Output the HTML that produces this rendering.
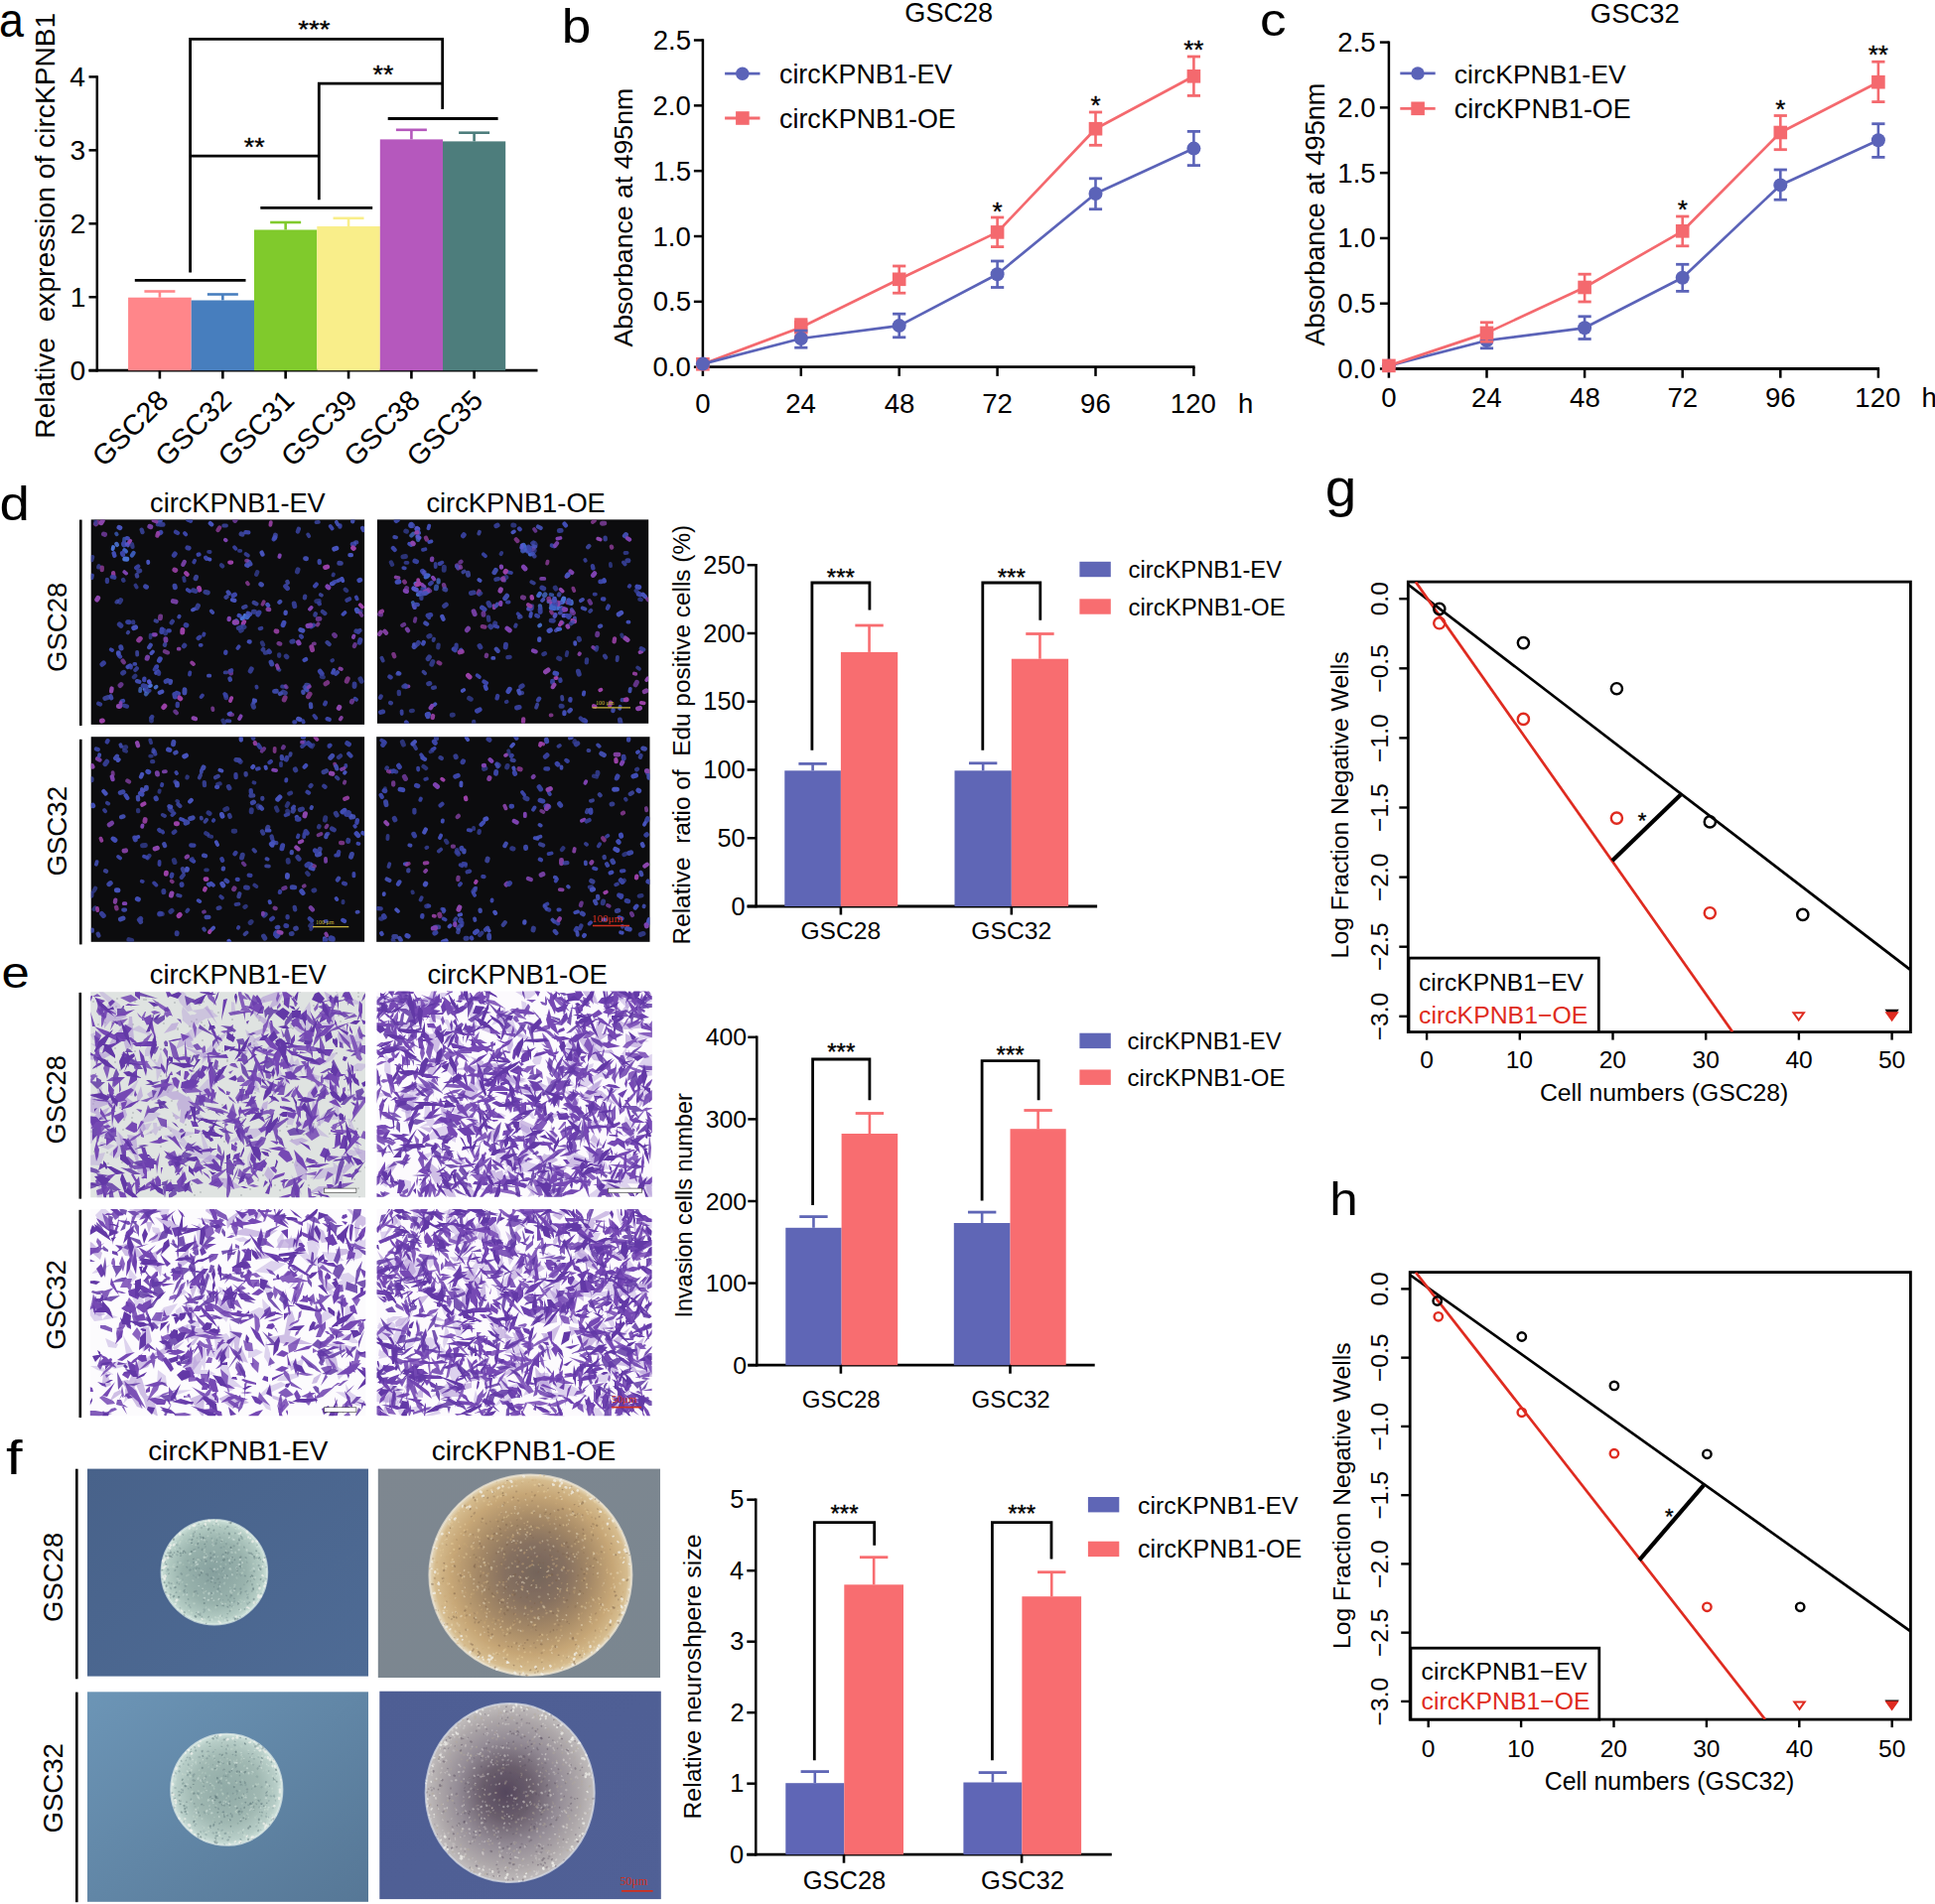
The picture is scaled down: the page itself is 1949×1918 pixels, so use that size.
<!DOCTYPE html>
<html><head><meta charset="utf-8"><style>
html,body{margin:0;padding:0;background:#fff;}
svg{display:block;}
text{font-family:'Liberation Sans', Arial, sans-serif;}
</style></head><body>
<svg width="1949" height="1918" viewBox="0 0 1949 1918">
<defs><filter id="soft" x="-5%" y="-5%" width="110%" height="110%"><feGaussianBlur stdDeviation="0.5"/></filter><filter id="soft2" x="-5%" y="-5%" width="110%" height="110%"><feGaussianBlur stdDeviation="0.75"/></filter></defs>
<clipPath id="cf1"><rect x="91.7" y="523.4" width="275.4" height="206.5"/></clipPath>
<rect x="91.7" y="523.4" width="275.4" height="206.5" fill="#0c0c0e"/>
<g clip-path="url(#cf1)" stroke-linecap="round" fill="none" filter="url(#soft)">
<path d="M132.9 559.5l1.7 -2.4" stroke="#3f62c6" stroke-width="4.3" stroke-opacity="0.90"/>
<path d="M125 545.6l0.2 -2.9M117.7 538.3l-0.6 -0.8" stroke="#3f62c6" stroke-width="3.8" stroke-opacity="0.75"/>
<path d="M117.9 548.9l-0.6 -1" stroke="#4a72d4" stroke-width="4.3" stroke-opacity="0.90"/>
<path d="M124.9 548.8l0.5 -0.8" stroke="#4a72d4" stroke-width="4.9" stroke-opacity="0.75"/>
<path d="M127.8 542.1l1 0.2M241.6 620.4l-0.9 -0.4M115.4 559.8l-0.8 -2.6M308.3 693.8l1 1.4M248.3 569.3l1.2 0.6M251.6 646.5l-0.9 -0.1M306.6 665l1.5 -0.9M128.7 671.9l2.2 -1.4" stroke="#414db4" stroke-width="4.3"/>
<path d="M125.3 548.8l-1.2 -1.3M240 632.8l2.5 -1.2M307.2 600.7l-0.3 1.6M327.3 618l-2.4 -1.9M266.9 657.6l2.3 -0.5M265.2 653.9l-0.5 0.7M153.2 722l-0.6 0.8M142.7 533.6l0.8 2.5M317.4 619.6l0.4 -1.4" stroke="#414db4" stroke-width="4.3" stroke-opacity="0.75"/>
<path d="M113.6 553.1l0.5 -2.1M150.9 691.1l1 -0.6M246.6 619.9l-0.3 1.9M243.5 623.3l1.8 -1.2" stroke="#4a72d4" stroke-width="3.8"/>
<path d="M127.8 563.3l-2.1 -0.3M147.2 692l-1 1.9" stroke="#4a72d4" stroke-width="4.9"/>
<path d="M125.4 548.9l-0.5 -2M145.4 683.6l-0.2 1.5M199.7 558.7l0.8 -0.2M208.1 562.7l-0.9 -1M329.6 724.1l2.1 0.7M121 661.4l-1 -1M277.1 541.3l-1.4 2M124 706l-1.3 0.3M179.9 698.8l-1.9 -0.9M318.7 588.6l-1.5 1.7M250.3 536.4l-2.9 -0.2M170.7 635.3l-1.2 0.1M227.2 657.8l0.2 -1.2M158 671.3l-0.1 0.8" stroke="#3a44a6" stroke-width="4.3"/>
<path d="M133.5 550.8l-0.5 -2.5M99.2 571.4l0.4 -1.2M134.2 626.5l-0 0.9M242.2 635.6l1.5 -0.8M223 569.3l1.2 1.1M124.5 584.8l-0.5 -0.8M93.2 561.1l-0.9 3" stroke="#3a44a6" stroke-width="4.3" stroke-opacity="0.75"/>
<path d="M129.5 547.1l1.8 -2.4" stroke="#8c44ac" stroke-width="3.8"/>
<path d="M125.3 554.2l1.6 1.2" stroke="#3f62c6" stroke-width="4.3"/>
<path d="M127.6 548.2l1.3 1.3" stroke="#5458cc" stroke-width="3.8" stroke-opacity="0.90"/>
<path d="M141.4 693.7l-0.3 2.5" stroke="#4a72d4" stroke-width="3.8" stroke-opacity="0.75"/>
<path d="M147.4 695.2l-0.7 0.6M231.5 683.5l0.4 1.3M112.2 703.3l-0.7 -2M321.8 566.9l-0.1 -1.7M338.2 678.8l1.6 -1.5" stroke="#414db4" stroke-width="4.3" stroke-opacity="0.90"/>
<path d="M147 699.2l1.7 -2.2" stroke="#4a72d4" stroke-width="4.3" stroke-opacity="0.75"/>
<path d="M150.6 687.5l-0.6 -0.9" stroke="#5458cc" stroke-width="4.3"/>
<path d="M146.6 691.3l-2.4 -0.6M259.8 619.1l1.2 -2.1M187.1 629.6l0.8 0.3M356.7 548l-1.6 0.1M130.1 626.8l-1.5 -0.2" stroke="#36409a" stroke-width="4.9"/>
<path d="M157.6 691.8l-1 0.8" stroke="#4a72d4" stroke-width="3.8" stroke-opacity="0.90"/>
<path d="M148.6 695.2l2.1 0.6M258.4 691.6l0.2 1M249.8 559.6l-2.2 -1.5M263.4 632.8l-1.8 0.5M284.1 691.5l3 0.4" stroke="#36409a" stroke-width="3.8" stroke-opacity="0.90"/>
<path d="M248.8 621.7l1.2 -1.6" stroke="#3f62c6" stroke-width="4.9"/>
<path d="M238.1 625.5l-1.7 2M263.5 589l-0.7 -0.5M308.5 562.7l-0.9 -0.1M185.9 698l0.1 -3.2M252 568.2l-1.2 -2" stroke="#4653bb" stroke-width="4.9" stroke-opacity="0.90"/>
<path d="M246.1 626.2l-1.2 1.9M231.3 566.6l1.8 0M187.2 577.2l1.5 1.6" stroke="#9a40a6" stroke-width="4.3"/>
<path d="M245.3 631.2l0.7 0.5M166.6 637.9l-1.4 -2.6M300.1 573.8l-0.7 2.2M362.9 683.8l1.3 2.5M363 616l-1 -0.2M227.3 700.3l0.5 2.5M288.2 661l0.7 0.7M121.6 604.6l-1.1 1.7" stroke="#3a44a6" stroke-width="4.9" stroke-opacity="0.75"/>
<path d="M195.8 613.6l-1.8 0.8M152.4 658.1l1.5 -1.6M210.4 563.3l1 0.3M344.5 582.9l0.8 2.2M257 705.6l-1.2 -0.3M230.5 719.2l1.7 -0.8M149.2 565.6l0.1 1.4" stroke="#4653bb" stroke-width="3.8"/>
<path d="M236.3 604.9l-2.3 -0.7M160.8 697.7l2.4 -1M287.6 617.9l0.1 -1.2M353.9 559.1l-1.5 0.1M269.4 609l0.7 1M335.7 587.6l-1.6 0.5M213.2 528.3l-1.4 -1.2M263.6 556.6l0.9 2" stroke="#4653bb" stroke-width="4.3"/>
<path d="M225.2 529.5l2.8 -0M318.5 526.1l2.4 -0.2M159.8 526.7l-1.1 1.8M310.2 538.4l1 1.8M281.4 674.8l-1.3 -0.7M226.6 677.4l1.6 -0M117.4 606.6l1.1 -1.2" stroke="#414db4" stroke-width="3.8" stroke-opacity="0.75"/>
<path d="M104.4 667.9l-1.5 1.4M362.1 647.3l0.8 -2.8M190.2 552.2l-1.4 -0.4M175.3 559.3l1 -1.4M287.6 590.5l1.9 2.1" stroke="#3a44a6" stroke-width="4.9" stroke-opacity="0.90"/>
<path d="M231.4 726.3l-2.8 -0.2M357.6 703.7l1.4 1.1M305.2 726.2l0.5 1.2M93 579.5l-0.5 2.6" stroke="#36409a" stroke-width="3.8"/>
<path d="M304.9 635.2l-2.1 -0.7M134.7 632.6l1.9 -0.7M120.9 531.7l-1 -0.4M119.3 658.5l0 -0.8M336.7 553.1l2.2 -0.9M302 724.7l-1.5 -0.5M360 615.8l-0.7 -1.6" stroke="#4653bb" stroke-width="4.9"/>
<path d="M329.7 571l-2.1 0.6M181.8 703.8l-1.1 -0.9M183.9 634.5l-0.2 2.5M200.5 592.5l0.4 1.7M102.4 726.2l1 -0.3M165.9 711.2l-1.1 1.4M355.6 551.9l0.7 0.5" stroke="#9a40a6" stroke-width="4.9"/>
<path d="M232.1 720.2l2.1 -0.3M364.4 619.9l-1.7 -2.4M287.7 691l1 1.4" stroke="#7e42b0" stroke-width="3.8" stroke-opacity="0.75"/>
<path d="M252 618.7l-2.3 -1M355.4 523.9l-0.2 1.4M160.9 525.6l0.7 -1M150.2 652.1l1.5 -2.3M171.6 687.9l0.4 -1.9M312.9 709.3l0.3 2.9M282 698.9l0.9 -0.4M305.3 696.7l0.2 1.1M230.7 597.8l-1 -1.4M282.2 606l-0.8 0.8M140.3 686.8l-2.3 -0.7M365.1 532l1 2" stroke="#4653bb" stroke-width="4.3" stroke-opacity="0.90"/>
<path d="M306.8 692.2l1.4 1.3M247.4 610.9l-2.2 1M137.8 579.1l0.3 1.4M329.6 647.2l2 1.8M359.2 546.4l-0.9 -0M360.7 635.9l1.8 -0.8M258.4 608.3l-2.6 -1.3M165.9 649.8l0.3 -0.9M289.8 587l-0.4 -1M227.6 601.8l0.9 -0.7" stroke="#4653bb" stroke-width="4.3" stroke-opacity="0.75"/>
<path d="M335.1 677.8l1.2 -2.9M347.4 617.1l-1.9 1.7M159.2 676.1l-2.1 1.8" stroke="#414db4" stroke-width="3.8"/>
<path d="M315.9 629.7l-2.6 1.6M201.3 641.7l-1.6 1.3M342.5 529.4l-0.1 1.2M297.2 727.3l-0.8 0.1M192.1 524.7l-2.9 -1.1" stroke="#36409a" stroke-width="4.3"/>
<path d="M105.8 703.5l2.7 -0.9M276.7 542l0.7 -2.9M341.7 567.3l1.7 0.1M244.1 538.3l-1.1 -0.4M308.6 690.3l2 0.2M197 582.8l0.6 -1.5" stroke="#4653bb" stroke-width="4.9" stroke-opacity="0.75"/>
<path d="M248.1 564.8l1.1 -0.2M214.2 713.5l0.2 1.5M320.6 628.3l-0.9 1.3M315.7 648.5l1.2 -0.2" stroke="#8c44ac" stroke-width="3.8" stroke-opacity="0.75"/>
<path d="M230.6 624.1l0.2 -1.2M156.7 639.3l-2.1 -0" stroke="#7e42b0" stroke-width="4.3"/>
<path d="M188.8 594.1l2.4 1.5M240.6 651.3l-1.2 1.7M187.2 538.4l-1.2 -1.3M332.7 530l1.9 2.5M113 655l-1.2 -0.7M358.8 601.5l0.8 1.8" stroke="#3a44a6" stroke-width="3.8"/>
<path d="M139.7 645l1.6 -1.7M278 635.8l0.9 0.2M176.8 574.5l-1 -0.5M313.8 651.7l0.8 3" stroke="#9a40a6" stroke-width="4.9" stroke-opacity="0.90"/>
<path d="M328 688.8l1.7 -1.1M98.3 526.2l-1.8 1.7M349.2 686.2l1.1 -2.5M287.2 702.7l-1 2.3M310.5 701.8l1.6 -2.7" stroke="#9a40a6" stroke-width="4.9" stroke-opacity="0.75"/>
<path d="M310.5 692.5l1.4 -1" stroke="#7e42b0" stroke-width="3.8" stroke-opacity="0.90"/>
<path d="M96.5 527.7l-0.3 -2.6M151.7 639.6l-0.1 2.7" stroke="#36409a" stroke-width="3.8" stroke-opacity="0.75"/>
<path d="M122.1 653.1l-0.4 -1.4M147.5 591.3l-0.9 -0.5M278.4 696.3l-1.9 0.1M167.1 686.4l1.9 -0.9M176.4 591.8l-0.4 -1.6M273 667.1l0.8 1.9" stroke="#414db4" stroke-width="4.9" stroke-opacity="0.90"/>
<path d="M180.6 620.8l-0.4 0.8M135.3 668.9l1 -0M336.4 586.4l2.8 -0.9M202.7 649.9l-1 -0.1" stroke="#414db4" stroke-width="3.8" stroke-opacity="0.90"/>
<path d="M98.7 602.4l-1 1.7M119.3 711.5l1.4 0M103.3 524.4l-1.4 2.4M236.1 626.7l2.5 0.3M341.2 713.4l0.6 -1" stroke="#8c44ac" stroke-width="4.9"/>
<path d="M121.5 708l0.4 2.4M281.4 561l0.4 -1.6M125.3 576.1l1.8 1.5M356.4 640.6l-0.5 1.4M312 613.7l1.6 -1.8M242.6 721.3l-1.5 2.8M226.9 543.7l0.7 0.6" stroke="#7e42b0" stroke-width="3.8"/>
<path d="M131.9 672.5l0.2 -1.4M318.3 723.3l-1.9 -2.4M155.6 674.6l1.4 -2.8M205.5 638.5l-0.4 1.3M227.5 701.1l-1.3 -2.1M196.1 564.7l-0.8 1.7M202.6 702.1l1.3 -1.6M236.1 551.3l1.3 1.5M191 679.6l0.3 -2.1" stroke="#3a44a6" stroke-width="3.8" stroke-opacity="0.90"/>
<path d="M152.4 723.7l0.1 2.3M318.7 605.6l2.6 -0.2" stroke="#36409a" stroke-width="4.9" stroke-opacity="0.75"/>
<path d="M310 630.5l2.8 -0.7M301.1 647.9l-0.6 -1M329.8 590.9l1.2 1" stroke="#7e42b0" stroke-width="4.9"/>
<path d="M180.6 653.7l-0.9 -0M342.8 724.5l1 -1.6M154.6 524.3l2.9 1.3M280 672.8l-1.1 -2.6M342.5 673.5l1.4 0.6" stroke="#8c44ac" stroke-width="3.8" stroke-opacity="0.90"/>
<path d="M107.9 584l-0 2.1M173.8 625.9l-1.1 1.4M352 603.3l-2.5 1.4M300.9 532.8l-1 2.7M136.4 674.9l1.4 -1.5M127.9 711.6l-2.8 -0.9M160.1 677.5l-0.1 1.3M321.3 607.5l0.5 0.8M99.2 708.8l1.8 0.7" stroke="#36409a" stroke-width="4.3" stroke-opacity="0.90"/>
<path d="M176.3 702.1l-0.5 -2.8M123.3 557.3l0.4 1.3M162.8 636.6l0.4 -2.7M322.3 676.2l1.9 2.5M161.9 536.3l-1.3 0.8M236.5 599l-1.5 0.9" stroke="#3a44a6" stroke-width="4.9"/>
<path d="M176.5 716.7l1.3 1.4M356.9 650.9l0.7 -1.7" stroke="#7e42b0" stroke-width="4.3" stroke-opacity="0.75"/>
<path d="M296.2 607.9l0.6 2.8M197 595.5l-2.5 -0.8M185.9 650.1l-0.6 0.8M121.9 630.4l-1.6 -1.5M357 691.5l0.1 -2.5M161.3 528.4l2.9 0M293.8 646.3l1.5 -0.3M358.8 635.7l2.1 0.7M124.7 677.3l-1.1 0.8M253.3 673.8l-1.2 2.3" stroke="#36409a" stroke-width="4.9" stroke-opacity="0.90"/>
<path d="M285.1 629.6l0.9 -2.3M362.7 584.2l-0.8 0.4M161.3 663.7l-0.9 1.7" stroke="#414db4" stroke-width="4.9"/>
<path d="M148.1 663.3l0.5 -1.3M167 645.1l-0.1 -1.4M174.3 605.6l2.8 0.6M151.8 530.8l-1 -0.5" stroke="#7e42b0" stroke-width="4.9" stroke-opacity="0.90"/>
<path d="M338.8 525.8l1.4 2.6M341 584.7l2.1 -1.1M212.8 615.4l1.4 1.6M209.9 680.7l1.4 -0M255.4 707.6l1.6 -1.2" stroke="#4653bb" stroke-width="3.8" stroke-opacity="0.90"/>
<path d="M185.8 566l-1.5 2.8" stroke="#7e42b0" stroke-width="4.3" stroke-opacity="0.90"/>
<path d="M347.8 593.8l1.3 1.2M225.8 728.1l-1.3 -2.3M281.2 660.8l-0 -1.5M134.9 682.3l1.4 -1.5M265 649.5l-1 -2M325.7 682.1l-1.8 -0.5M259.2 576.2l-1 2.6" stroke="#36409a" stroke-width="4.3" stroke-opacity="0.75"/>
<path d="M335.1 665.1l-0.7 0.4M185.7 585l-0.5 -3M210.1 555.9l1.5 0.1M136.5 589.6l1.1 1.9M242.3 554.8l-1.4 0M335.5 579.4l0.4 -0.9" stroke="#3a44a6" stroke-width="3.8" stroke-opacity="0.75"/>
<path d="M323.9 599.7l-1.1 -0.6M128.7 637.5l0.5 -0.7M156.5 625.3l1.6 0.6M138.1 656.8l0.1 2.8" stroke="#4653bb" stroke-width="3.8" stroke-opacity="0.75"/>
<path d="M354.3 707.1l0.4 -0.9M337.5 640.4l-0.9 -0.9M104.4 538l1.2 0.4M121 690.6l1 -1M236.7 524.4l1 -1.6M320.1 623.5l1.9 -0.1M231.9 676.3l0.6 1.8" stroke="#7e42b0" stroke-width="4.9" stroke-opacity="0.75"/>
<path d="M114.1 577.2l0.2 2.5M158.4 539.6l0.8 -2.6" stroke="#9a40a6" stroke-width="4.3" stroke-opacity="0.90"/>
<path d="M102.8 571.6l-0.1 2.6M221.2 531.6l-1.7 2.4" stroke="#9a40a6" stroke-width="4.3" stroke-opacity="0.75"/>
<path d="M364.9 611.5l-2.1 -2.2M232 706l1.2 -2.9" stroke="#9a40a6" stroke-width="3.8"/>
<path d="M197 724.1l-2.3 -0.7M112.6 693.5l-0.5 2.8" stroke="#8c44ac" stroke-width="4.3"/>
<path d="M161.6 621l-0.2 1.8" stroke="#8c44ac" stroke-width="4.9" stroke-opacity="0.75"/>
<path d="M256.6 616.3l-1.3 -0.1M140.8 575l-1.1 0.3M199.5 610.1l-1.2 2.4M206.9 596.4l2.4 0.6M285.3 697l2 1.2M254.8 710.1l0.7 2.2" stroke="#414db4" stroke-width="4.9" stroke-opacity="0.75"/>
<path d="M179 537l-2 -1.2M112.8 581.1l2.5 0.6M270.8 655.6l1 1.3M178.8 708.8l-0.1 2.3M327.9 707.8l-0.7 1.5M303.1 640.7l0.8 0.9M232.1 675.8l1 -0.5M137.2 572l2 -1.5" stroke="#3a44a6" stroke-width="4.3" stroke-opacity="0.90"/>
<path d="M269.6 613.8l1.6 0.2" stroke="#8c44ac" stroke-width="4.3" stroke-opacity="0.90"/>
<path d="M166 656.3l2.9 1.1M282.2 648.6l-1.6 -0.5M123.6 665.6l1.2 1.6" stroke="#8c44ac" stroke-width="4.3" stroke-opacity="0.75"/>
<path d="M193.2 667.5l1.7 1.5M272.4 528.8l0.4 -2.7" stroke="#9a40a6" stroke-width="3.8" stroke-opacity="0.90"/>
<path d="M249 587.1l0.8 1.2M265.7 606.2l-1.2 2.5" stroke="#9a40a6" stroke-width="3.8" stroke-opacity="0.75"/>
</g>
<clipPath id="cf2"><rect x="379.9" y="523.4" width="273.3" height="205.4"/></clipPath>
<rect x="379.9" y="523.4" width="273.3" height="205.4" fill="#0c0c0e"/>
<g clip-path="url(#cf2)" stroke-linecap="round" fill="none" filter="url(#soft)">
<path d="M447.6 591.2l-0.6 -2.1M567.6 614.7l-1.7 -2.2M571.4 606.9l1.5 -1M490.1 659.8l-0.3 1.2M481.6 597.6l1 -2" stroke="#8c44ac" stroke-width="4.3" stroke-opacity="0.75"/>
<path d="M431 596.2l-0.5 -0.7M427.4 591.5l-0 1.1M429.2 579.3l2.3 0.4M428.8 581.3l1.4 -0.6M543.7 598l-1.3 2M536.5 557.7l-2.6 0.6" stroke="#3f62c6" stroke-width="4.3"/>
<path d="M437.3 583.5l-1.4 -1.8M425.3 589l1.6 1.8M561.4 542.6l3.1 -0.6M570.5 580.8l1.8 -0.9" stroke="#7e42b0" stroke-width="3.8"/>
<path d="M418.6 588.1l1.8 -0.7" stroke="#4a72d4" stroke-width="4.3"/>
<path d="M425.4 593l1.8 1.4M537.3 546.2l-1.3 1M525.1 551.9l0.7 -1M598.6 598.6l1.3 -0M589.3 563.9l0.4 0.9M629.6 568.4l-1.7 -2M438.7 567.8l-0 3.2" stroke="#36409a" stroke-width="3.8" stroke-opacity="0.90"/>
<path d="M421 598.8l2 -0.4" stroke="#4a72d4" stroke-width="4.3" stroke-opacity="0.90"/>
<path d="M425.9 576l-0.4 -0.7M483.2 714.8l-2.7 1.4M645.1 598.9l-1.9 -0.5M605.7 585.9l-1 0M457.2 653.9l1 0.9M589.7 726.5l-1.3 -0.9M485.5 612.1l2.6 1.8" stroke="#3a44a6" stroke-width="4.9"/>
<path d="M439.3 592.9l0.3 -2M561.3 610.2l0.3 2.6M527.7 554.4l-1.2 0.6" stroke="#3f62c6" stroke-width="4.9" stroke-opacity="0.75"/>
<path d="M422.9 597l2.3 0.2M512 576.3l2.9 0.7M486.9 558.3l2 1.9M426 553.9l2.4 -0.7M432 620l0.2 2.3" stroke="#36409a" stroke-width="3.8"/>
<path d="M429 595.8l1.2 -0.9M564.2 633.7l-2.2 0.5" stroke="#3f62c6" stroke-width="3.8"/>
<path d="M422.1 597.2l1.5 -1M563.6 607.1l-0.5 1.5M559.9 635.2l2 -1.9M579.2 625.6l-0.3 -3.1M575.8 614.1l1 1.3M563.7 617.6l1.1 -0.3" stroke="#5458cc" stroke-width="3.8" stroke-opacity="0.75"/>
<path d="M415.8 606.9l0.5 1.3M554.5 605.7l-2.1 0.4" stroke="#4a72d4" stroke-width="3.8" stroke-opacity="0.75"/>
<path d="M419.3 594.2l-2.5 -1.4M555.8 609.6l0.7 1.5M419.8 532.8l1.1 0.2" stroke="#5458cc" stroke-width="4.9"/>
<path d="M430.5 595.1l-2.7 1.3M649.2 696.6l1.9 -0.9" stroke="#8c44ac" stroke-width="4.9" stroke-opacity="0.90"/>
<path d="M427 597.9l1.7 -0.3M414.3 528.2l-0.4 1.5M499.3 574.4l-1.4 2.3M630.5 538.5l-1.2 1.3M418.3 650.5l-1.2 1.1M508.7 602.7l1.9 -2.5" stroke="#4653bb" stroke-width="4.9" stroke-opacity="0.90"/>
<path d="M408.7 595.5l0.9 -2.9M487 619.3l-0.1 -1.5M640.1 689.9l1.3 -2.6M461.6 572.1l-1.1 -2.3M382.5 618.7l1.1 0.3M601.6 639.7l0.2 -1.5M577.5 617.5l-1.4 -1.1" stroke="#7e42b0" stroke-width="4.9" stroke-opacity="0.75"/>
<path d="M441.6 584.3l-0 2.2M544.2 612.4l-0.3 -2.1M421.1 543.8l-0.4 -2M414.4 539.5l1.8 -1.7" stroke="#4a72d4" stroke-width="4.3" stroke-opacity="0.75"/>
<path d="M427.2 578.2l0.3 -1.8" stroke="#5458cc" stroke-width="4.3" stroke-opacity="0.75"/>
<path d="M417.6 611.9l-0.8 -2M559.4 619.3l-0.6 1.4" stroke="#5458cc" stroke-width="4.3" stroke-opacity="0.90"/>
<path d="M433 595.2l-1.5 -1.4M405.3 630l1.7 -1M593.6 605.3l1.3 2.3M463.6 566.4l0.9 -0.7" stroke="#7e42b0" stroke-width="4.3" stroke-opacity="0.75"/>
<path d="M544.2 616.5l-0.1 -3M520.5 713l2.6 -0.6M467.3 538.7l-0.8 1.1M509.5 649.3l-0.3 2.8" stroke="#3a44a6" stroke-width="4.9" stroke-opacity="0.90"/>
<path d="M534.5 613.4l-1.9 -0.3" stroke="#5458cc" stroke-width="4.9" stroke-opacity="0.90"/>
<path d="M535.8 612.7l0.2 -2.3M441.6 649.6l-0.3 2.7M415.8 715.8l-1.8 0.3M395 568.7l-1.1 -2.2M644.4 603.7l1.4 0.3" stroke="#36409a" stroke-width="4.3" stroke-opacity="0.75"/>
<path d="M543.1 630.4l1.1 -0.8M565.7 612.5l-3.1 0.1M531 551.6l1 2.6" stroke="#4a72d4" stroke-width="3.8" stroke-opacity="0.90"/>
<path d="M566.7 606.1l1.1 -3" stroke="#4a72d4" stroke-width="4.9"/>
<path d="M535.9 602.6l-0.3 -1.5M576.5 625.2l2.3 0.9M536 553.5l1.3 -0.8M599.4 711.7l-1.4 -0.4" stroke="#9a40a6" stroke-width="4.3"/>
<path d="M554.6 599l1.7 0.4" stroke="#3f62c6" stroke-width="3.8" stroke-opacity="0.75"/>
<path d="M557.2 607.5l-2 0.3M566.7 595.6l-2.1 -1.9M602.2 542.6l2.5 0.9M652.5 683.3l-1.3 1.8M646.3 656.4l-1.8 0.7" stroke="#8c44ac" stroke-width="3.8"/>
<path d="M565.2 607.4l-1.6 0.2M437.4 710.1l1 -0.9M496.2 662.9l1.2 -0M579.2 647.1l0.1 1.8M418.1 649.3l-1.1 -0.2M465.8 695.9l1.4 -0.9M517.9 535.4l-1.5 0.9M483.6 584.9l-1.2 -0.8" stroke="#4653bb" stroke-width="3.8"/>
<path d="M575.3 607.5l-0.1 -1.3" stroke="#4a72d4" stroke-width="4.9" stroke-opacity="0.90"/>
<path d="M549.1 598.8l-0.9 1" stroke="#4a72d4" stroke-width="4.9" stroke-opacity="0.75"/>
<path d="M556.1 617.6l-1.2 -1.7M554.6 720.5l1 -0.1M599 524.4l-2.1 1.7M551.6 565.6l-0.5 2M577.3 592.6l1 2.5" stroke="#9a40a6" stroke-width="3.8" stroke-opacity="0.75"/>
<path d="M534.5 610.7l-2.4 -1.5M384.9 615.8l-1.5 0.6M436.1 721l-0.4 2M527 727.1l0.2 -2.8M614.3 710.7l0.6 -3.1M619.1 643.4l-0.5 2.9" stroke="#9a40a6" stroke-width="4.3" stroke-opacity="0.90"/>
<path d="M561.4 608.8l0.7 0.4M398.7 581.5l2.8 0.6M583.5 659l0.4 -0.7M497.7 612.4l-0.1 -2.3" stroke="#8c44ac" stroke-width="3.8" stroke-opacity="0.90"/>
<path d="M556.4 610l2.3 0.3" stroke="#3f62c6" stroke-width="4.3" stroke-opacity="0.90"/>
<path d="M568.8 620.1l-1.1 0.1M422.3 541.7l-1.7 -1.3" stroke="#5458cc" stroke-width="4.3"/>
<path d="M560.7 606.5l1.5 0.3M429 541.8l0.8 1.8M407.2 585.8l0.6 0.8M616.2 551.6l-0.3 -1M443.3 668.3l-1.6 -0.9M485.8 631.1l2.6 0.4M397.2 661.2l-0.8 -2.1M521.3 545l-1.5 -1.7" stroke="#9a40a6" stroke-width="4.3" stroke-opacity="0.75"/>
<path d="M540.2 620l1.8 0.7M555.8 549.4l2.4 0.9M541.9 705.3l1.3 -1.6M612.9 610.6l-1 2.1" stroke="#36409a" stroke-width="4.3"/>
<path d="M565.4 626.8l0.9 0.7M464.8 655.7l-0.5 -0.9M420.8 609.2l-1.8 -0.3M617.4 716.1l0.2 -1.1" stroke="#414db4" stroke-width="4.3" stroke-opacity="0.90"/>
<path d="M558.4 607.7l1.4 0.6M498.1 629.1l0.6 -1.2M431.8 641.2l1.3 -0.7M583.1 643.2l0.4 1.3M565 711.3l1.3 0.1M435.9 666.6l-1.1 2.6" stroke="#3a44a6" stroke-width="4.9" stroke-opacity="0.75"/>
<path d="M565.7 627l-1.8 2.4M560.7 683l-1.3 0.1M604.3 695.2l1.1 -0.5M648.6 708.3l-2.8 -0.4M421.3 585.6l-0.1 -1.5" stroke="#9a40a6" stroke-width="3.8"/>
<path d="M558.1 612.8l-2.8 -0.6M527.2 549.2l1.3 2.5" stroke="#3f62c6" stroke-width="4.9"/>
<path d="M567 613.3l-1.6 1M499.8 529.7l1.4 -0.6M583.3 679.2l-0.9 -3M477.2 596.9l-2.8 0.6M547.7 593l-1.8 -1M483 650.5l0.9 1.5M492 607.5l1.3 2.5M633 564.7l-1.3 0.1M421.5 647.4l-0.9 1.3M555.1 625.1l2.3 0.1M524.7 691.8l1.5 -1M565.2 534.4l-1.9 0.1" stroke="#36409a" stroke-width="4.9" stroke-opacity="0.90"/>
<path d="M569.7 614.1l-1.4 -0.4M597.4 579.5l1.5 -1.8M510.9 633.1l2.5 1.9M529.1 573l-1.8 -1.9" stroke="#7e42b0" stroke-width="4.9"/>
<path d="M559.8 593.1l-0.6 -1M539.2 548.7l-0.6 -1.2M537.7 555.5l0.5 -0.9M409.5 535.3l-0.8 -0.3M408.5 560.5l-2.6 0.4M563.8 663.7l-1.2 -0.7M516.7 529l1.3 0.1M455.2 720.2l1.2 -0.1M472.6 703.4l1.7 0.9M447.4 571.1l-0.2 3.2M508.3 582.2l1.6 -0.7" stroke="#36409a" stroke-width="4.9" stroke-opacity="0.75"/>
<path d="M529.1 553.9l-1.8 0.2M471.6 579.3l-0.3 -2.1M448.8 594l-1 -0.4" stroke="#4653bb" stroke-width="4.9" stroke-opacity="0.75"/>
<path d="M534.1 552l-0.8 2.6M385.7 716.9l-2.3 0.6M556.5 686.3l0 1.2M417.9 565.1l1.7 0.6M431 620.2l2.8 -0.8" stroke="#36409a" stroke-width="4.9"/>
<path d="M525.6 549.5l-0.1 2.2M419.9 531.8l0.5 1.8" stroke="#5458cc" stroke-width="3.8" stroke-opacity="0.90"/>
<path d="M530.1 554.3l1.3 1" stroke="#3f62c6" stroke-width="3.8" stroke-opacity="0.90"/>
<path d="M531.2 555.7l2.4 -2M384.5 662.7l1.2 2.8M436.6 645.1l0.4 -1.5M400.3 678.8l1 -0.6M505.7 583.3l2.5 1.4M594.2 615.9l1.1 -1.1M537.8 587.5l-2.5 -1.2M621.6 665l0.3 -3M519.1 630.9l0.6 -1.4" stroke="#414db4" stroke-width="3.8" stroke-opacity="0.75"/>
<path d="M536.7 558.2l1.7 2.1M610.1 662.2l-1 -1.4M461.5 571.5l-1.3 -0.9M424.3 600.7l0.1 2.2M609.7 543.4l-0.1 -1.8M525.9 697.9l-2 0.5M499.4 583.7l2.6 -0.6M393.9 708.2l-0.7 -0.3M577.1 626.7l-2.2 1.6M436.1 692.8l1.8 -0.3" stroke="#414db4" stroke-width="4.3" stroke-opacity="0.75"/>
<path d="M431.5 532.2l0.7 -2.5M414.2 549l-2 -1.2M587.8 699.6l0.4 -2.3M534.3 620.8l0.6 -2.9M633.4 626.7l-1 -0.1M434.5 545.4l-2.2 0.6" stroke="#414db4" stroke-width="3.8"/>
<path d="M420.8 534.7l1 2.2M649.8 600.9l-2.2 -2.2M522.4 695.8l0.9 2.4M543.2 644.8l0.1 -1.3M445.3 620.9l1.2 2.8" stroke="#4653bb" stroke-width="4.3"/>
<path d="M419.3 536.5l1 -0.2M558.3 689.8l-1.5 2.3M572.1 631.5l-0.5 -0.9" stroke="#8c44ac" stroke-width="4.3"/>
<path d="M442.7 568l1 0.1M642.2 672.5l1.7 1.3M484.4 597.7l-1.7 1.2M505.2 557l-0.7 1.2M510.6 706.8l-0.8 0.3M408.5 566.8l2 0.1M631.6 556.8l-2.1 0.2" stroke="#3a44a6" stroke-width="3.8" stroke-opacity="0.75"/>
<path d="M521.7 618.3l1.1 1M510.9 606.6l1.7 -0.1M633.7 590.8l0.6 -0.8M445.4 566.6l-2.7 1.1M404.6 716.3l0.1 2.7" stroke="#3a44a6" stroke-width="3.8" stroke-opacity="0.90"/>
<path d="M539.4 534.8l-1.3 -1.7M418.4 623.1l-0.6 2.7" stroke="#7e42b0" stroke-width="3.8" stroke-opacity="0.75"/>
<path d="M493.7 630.8l0.9 1M625 728l-0.6 -3M432.9 688.4l-1.3 0.4M432.4 661.8l-1.3 1.9M413.6 528.7l2.1 0.9M447.6 610.4l1.7 -1.3" stroke="#414db4" stroke-width="4.9" stroke-opacity="0.75"/>
<path d="M548.3 582.9l-3.2 -0M598.7 653.1l-1.4 -1.1M409.4 691.6l2.1 -0.2" stroke="#7e42b0" stroke-width="3.8" stroke-opacity="0.90"/>
<path d="M492.3 624.7l-0.4 -3M401.8 696.8l0.1 2.4M477.2 729.8l-0 -2.9M511.4 662.2l2.2 -0.3M600.6 654.5l0.6 -2.3M642.6 597.1l-1.9 -2M590.8 667.3l0.3 -3M548.9 658.3l-1.5 0.7" stroke="#3a44a6" stroke-width="4.3" stroke-opacity="0.75"/>
<path d="M584.9 605.2l2 -1.3M634.8 693.8l-0.4 2.6M624.2 713.7l0.4 -1.9M589.4 613.6l-2.7 -1.2M547.3 603.8l-1.2 1.2M499.7 610.6l1.2 -2.1M537.2 550.2l2.2 0.6" stroke="#4653bb" stroke-width="3.8" stroke-opacity="0.90"/>
<path d="M568.5 527.6l1.4 1.8M489.7 693.7l-0.9 -2.4M568.4 719.1l0.1 -1.7M426.2 648.5l0.6 -1.6M608.8 585.5l-0.4 -1.3" stroke="#414db4" stroke-width="4.3"/>
<path d="M478.2 618.7l-1.1 -2.9M470.3 634.8l1.4 -1.7" stroke="#7e42b0" stroke-width="4.9" stroke-opacity="0.90"/>
<path d="M524.4 621.3l-1.4 0.4M571.6 620.6l2.3 -0.4M628 705l-1.3 0.2M406.5 691.5l1.7 -1.1M563 599.3l0.4 -0.9M593.3 550.1l-1.1 1.1" stroke="#4653bb" stroke-width="4.3" stroke-opacity="0.75"/>
<path d="M629.8 642.9l2.3 1.7M415.6 547l0.7 0.7M552.1 674.9l-2.6 1.9M504.4 593.8l-0.5 1.3M644.6 713.3l-2.1 0.5" stroke="#8c44ac" stroke-width="4.9"/>
<path d="M399.1 541.3l-1.9 -0.3M406.3 572.1l1.5 0.2" stroke="#414db4" stroke-width="3.8" stroke-opacity="0.90"/>
<path d="M498.5 630.6l2.8 0.9M482.9 682l-2.3 -1.8" stroke="#3a44a6" stroke-width="3.8"/>
<path d="M410 633.8l1 1.4M435.2 562.6l-0.2 1.5M559.2 549.7l1.8 -2.5" stroke="#7e42b0" stroke-width="4.3" stroke-opacity="0.90"/>
<path d="M640.3 678.8l-1.5 -0.3" stroke="#9a40a6" stroke-width="3.8" stroke-opacity="0.90"/>
<path d="M576.2 576.9l-1.6 -1.4M504.9 570.6l0.1 0.9M634 543.6l-2 -1.4M504.3 607.1l-0.2 1.8M409.8 595.8l-1.9 -0.8M433.7 713.2l1.5 -2.2M539.6 656.4l-2.5 -1" stroke="#7e42b0" stroke-width="4.3"/>
<path d="M625.7 617.3l-2.5 1.6M558.5 603.3l-0 1.6M554.4 634.8l-1.4 0.7M430.2 719.9l1.4 -0.3M571.4 579.8l0.8 -1" stroke="#4653bb" stroke-width="4.9"/>
<path d="M430.1 628.7l-1.7 -1.1M573.4 716.5l1.4 -1.4M402.2 678.6l-1 -0.7M499.8 653.8l1.8 2M605.1 630.6l-1.1 0.4M542 530.6l2.6 1.3" stroke="#4653bb" stroke-width="4.3" stroke-opacity="0.90"/>
<path d="M643.8 591.5l-2 -0.4M511.9 696.6l1.4 -2.4M560.7 678.6l-1.8 -0.5M431 721.8l-0.2 -2.1M402 586l-2 0.3M572.9 604.6l0.4 2.5" stroke="#414db4" stroke-width="4.9"/>
<path d="M648.2 654.4l-2.4 -1.1M584.8 723.5l2.1 2M459.6 649.7l-0.1 3.1M383 702.8l0.7 -1.3" stroke="#36409a" stroke-width="4.3" stroke-opacity="0.90"/>
<path d="M574.5 704.1l-0.2 1.5M607 603.4l1.3 0.1M397.6 553.9l-1.7 -1.9M523 532.5l0.7 0.7M409.8 728.2l-0.7 -0.7M487.5 686.6l2.4 1.4" stroke="#3a44a6" stroke-width="4.3"/>
<path d="M399.1 524.6l1.4 -1.1" stroke="#414db4" stroke-width="4.9" stroke-opacity="0.90"/>
<path d="M428.1 678.3l-1.5 -1.6M566.4 704.5l-0.3 -2.5M467.7 575.5l-1.3 0.9M482.3 537.6l0.6 -1.8M541.1 709.8l-1 2.9" stroke="#4653bb" stroke-width="3.8" stroke-opacity="0.75"/>
<path d="M564.3 684.5l0.2 1.3M501.2 701l-0.6 2.4M597.4 572.4l-0.5 -2.2M533 553.2l-0.7 -2.6M408.7 690.8l0 1.2M571 620l1.9 1.9M392.4 681.6l1.2 0.8M433.2 588.2l1.5 -1.1" stroke="#3a44a6" stroke-width="4.3" stroke-opacity="0.90"/>
<path d="M383.5 636.9l-1.5 1.9M389.1 637.7l-1.7 -1.9" stroke="#8c44ac" stroke-width="4.3" stroke-opacity="0.90"/>
<path d="M527.5 602.1l-1.1 -0.4M608.9 527.1l-2.5 0.1" stroke="#8c44ac" stroke-width="4.9" stroke-opacity="0.75"/>
<path d="M465.3 656.4l-2.3 0.6" stroke="#9a40a6" stroke-width="4.9" stroke-opacity="0.90"/>
<path d="M552.8 603.1l0.3 1.3M506.7 582.6l0.1 1.5" stroke="#9a40a6" stroke-width="4.9" stroke-opacity="0.75"/>
<path d="M463.9 570.8l0.4 1M653.1 604.6l-1.2 -1.3" stroke="#8c44ac" stroke-width="3.8" stroke-opacity="0.75"/>
<path d="M631.2 704.8l-1 0.1M422.4 588l-2.6 0.8M473.1 682l-1.6 -1.6M509 576.1l0.5 -0.8" stroke="#9a40a6" stroke-width="4.9"/>
<path d="M570.6 660.1l0.7 -3.1M626.9 641.1l-0.8 -1.7M614.8 567.9l0.3 2.3" stroke="#36409a" stroke-width="3.8" stroke-opacity="0.75"/>
</g>
<clipPath id="cf3"><rect x="91.7" y="742.2" width="275.4" height="206.6"/></clipPath>
<rect x="91.7" y="742.2" width="275.4" height="206.6" fill="#0c0c0e"/>
<g clip-path="url(#cf3)" stroke-linecap="round" fill="none" filter="url(#soft)">
<path d="M156.1 855l2.3 -0.8M173 899.9l-0.6 2.2M307.5 819.7l-0.6 2.2M335 779.4l-1.7 -0.3" stroke="#8c44ac" stroke-width="4.9"/>
<path d="M192.4 866.2l2.3 1.5M329.5 839.8l1.1 0.1M164.1 838.5l-0.5 -0.9M160.5 871l0.1 -3M157.4 891.6l-2.2 -2.2M143.7 888l-0.9 -0.3M348.3 770.9l-0 1M306.7 747.2l0.6 2.4M239.9 934.8l0.4 -0.9" stroke="#3a44a6" stroke-width="3.8" stroke-opacity="0.90"/>
<path d="M263.7 756.8l0.7 -2.1M244.9 869.5l1.6 1.7M265.4 755.3l0.8 -1.3M205.9 918.4l-0.9 0.3" stroke="#7e42b0" stroke-width="3.8" stroke-opacity="0.75"/>
<path d="M94.7 915.9l1.3 -1.4M288.9 811.8l1.3 -2.5M279.4 816.5l-1.3 -2.9M94.5 897.5l1.6 -2.7M188.7 782.5l-0.2 0.9M310.6 880.9l-1.3 -1.5M246.5 913.7l1.1 -0.8M139.2 817.2l-0.1 -1.1M219.2 790l2.4 -0.6M312.3 932.6l1.5 -1.8" stroke="#36409a" stroke-width="4.3" stroke-opacity="0.75"/>
<path d="M163 791.2l0.3 -1.2M175.5 819.2l-2.1 1.9M338.2 861.6l2.5 -0.4M290.2 820.3l-2.6 0.9M300.5 841.5l-0.6 1.8M214.9 826.8l0.4 -0.7M306.5 840l-0.3 3" stroke="#36409a" stroke-width="3.8"/>
<path d="M365.4 839.1l0.9 0.5M312.5 874.3l2.9 1M128.3 803.9l-1.7 -2.7M347 927.9l-1.7 -1M219.2 792.8l-1.1 0M298.9 823l0.7 1.1M308.1 771.1l-1.4 1.5" stroke="#414db4" stroke-width="4.3"/>
<path d="M320.6 841.2l2.9 -1.2M347.3 787.5l-0.4 1.2M113.6 778.2l0.2 1.9M305.8 892.7l0.9 -0.4M329.5 831.7l-1 1.6M317 872.5l-1.8 -0.7" stroke="#8c44ac" stroke-width="3.8" stroke-opacity="0.75"/>
<path d="M267.5 772.6l0.4 1.4M213.3 936.4l1.8 -1.8M326.9 948.2l-0.1 -3.1M217.8 848.3l1.3 2.7M353.8 821.4l-1.3 -0.1M223.4 776.6l-2 -0.8M347.1 778.7l0.6 -0.8" stroke="#4653bb" stroke-width="3.8"/>
<path d="M266 922.1l1.2 -1.1M328.6 776.6l-2.6 1.2M332.7 945.6l2.6 1M297.6 935.4l0.8 -0.3M237.8 765.4l3.1 0.4M295 817.1l0.8 -1.3M269.3 834.8l0.6 -1.6M141.7 928.6l-0.5 -1.2M322.2 855.4l-0.8 2.2" stroke="#4653bb" stroke-width="4.9" stroke-opacity="0.75"/>
<path d="M235.6 895.8l0.5 -0.9" stroke="#8c44ac" stroke-width="4.9" stroke-opacity="0.75"/>
<path d="M276.7 753.9l-0.1 3.1M172.7 887.5l1 0.8M337.6 770.8l-0.4 -1.2" stroke="#9a40a6" stroke-width="3.8" stroke-opacity="0.75"/>
<path d="M301.2 865.2l-1.4 -1.8M178.2 939.8l-0.1 1M278.1 942.5l-0.4 -2.6M247.4 894l2.1 0.2M336.4 836l-2 -1.2M105.9 769.7l1.8 -2.5M173 816.7l-1.8 -1.7M164.8 897.4l0.1 1.3M140.3 926.6l1.4 -1.2" stroke="#36409a" stroke-width="4.9" stroke-opacity="0.90"/>
<path d="M174.5 749.8l0.4 -2.4M334.7 761.3l-1.9 2.1M322 860.3l-2.6 0.8M204.6 773.8l0.4 -0.9M194.2 823.8l-2.6 0.8M353.7 823.2l2.2 -0.4M124 925l-2.6 1M147.4 794.6l-0 -1.5" stroke="#4653bb" stroke-width="4.9" stroke-opacity="0.90"/>
<path d="M289.6 924.4l0 -1.3M304.4 751.8l1.1 -0.9M327.5 792.7l-1.2 -0.9M174.8 838.7l1.5 -1.1M254.4 742l0.8 1.8" stroke="#36409a" stroke-width="4.3" stroke-opacity="0.90"/>
<path d="M288.8 932.6l-1 -0.1M104.3 922.5l-1.9 -2.1M289 763.4l-0.7 1.7M308 837.5l1.3 1.7" stroke="#3a44a6" stroke-width="4.9" stroke-opacity="0.90"/>
<path d="M199.7 907.2l1.6 0.9M304.6 742.6l1.8 0M338.6 905l0.7 1.1M212.5 889.7l2.4 2.1M272 909.3l-0.4 -1.2M268.5 836.7l3.1 0M184.7 826l-2.6 -1M136.8 843.9l2.5 -0.9" stroke="#414db4" stroke-width="3.8"/>
<path d="M130 787.5l-1.6 -1M277.6 915.1l-0.9 -0.3" stroke="#8c44ac" stroke-width="4.3" stroke-opacity="0.75"/>
<path d="M357.3 832l0.5 0.7M288.4 785.1l-0.2 1.4M258.9 774.7l1.9 -0.5M361.4 850l-0.9 -0.3M193.8 866.6l1.5 1M121.1 864.4l-2 -1.5M145.1 862.7l3 1M356.4 882.4l0 -2.4" stroke="#3a44a6" stroke-width="3.8"/>
<path d="M264.3 804.8l-0 -0.9M177.6 788.9l-1 -1.4M179.5 810.3l1.8 1.7M183.9 875.3l1.1 2.6M252.4 801.6l2.8 -0.2M276.2 848.9l2.1 0.3M247.6 779.1l0.1 1.4M241.3 900.2l-0.8 2.9M219.7 781.9l-2.6 1.3M99.4 942.5l-0.7 -1.7M107 877.7l-0.9 -0.5" stroke="#4653bb" stroke-width="4.3" stroke-opacity="0.75"/>
<path d="M231.1 821l0.6 1.8M264 837.5l1 2M313.5 791l-0.9 1M296.7 913.9l0.5 2.4M219.7 914.9l1.7 -0.5M274.3 845.2l-0.7 -2.7M92.5 784.5l-0.1 1.7M184.7 881.5l-1.9 2.3M205.8 788.1l0.2 3.1" stroke="#414db4" stroke-width="4.3" stroke-opacity="0.75"/>
<path d="M189 862.7l-1.3 0.8M116.3 906.6l-0.4 2.1M143.5 796.8l-1 1.2" stroke="#8c44ac" stroke-width="4.3" stroke-opacity="0.90"/>
<path d="M253.1 928.5l-1 1M260 811.9l0.6 1.6M132.7 947.3l-2.9 -0.7M327.4 826.2l0.4 -2.5M226.7 815.4l2 -0.8M236.8 837.3l-1.7 0M143.5 851.8l2.9 -0.3M290.1 818.9l-0.5 -1.8M125.1 753.1l1.6 -0.4M176 868.6l-0.7 -2M290.1 866.4l0.2 1.9" stroke="#36409a" stroke-width="4.9" stroke-opacity="0.75"/>
<path d="M280.3 933.9l-1.5 0.4M284 764.3l-0.2 -2.1M339.9 886.4l1.2 -1.7M227.5 886.8l1.6 1.2M210.4 923.9l-2.8 0.1M126 916.6l-1.7 -0M353.4 761.4l-2.1 -2.1" stroke="#414db4" stroke-width="4.3" stroke-opacity="0.90"/>
<path d="M328.3 946.8l-1.4 0.3M335.3 945.1l-2.1 -0.7M98.7 755.1l-1.7 -0.7M160.3 836l1 1M311 798.7l-1.4 -0.9M252.8 798.6l-0.1 -2.5M223.4 865.2l0.7 1.6M173.3 880.8l-0.5 2M314.1 927.3l-2.3 -2M195.4 851.7l-3.1 -0.2" stroke="#36409a" stroke-width="4.3"/>
<path d="M278.1 776.1l-3 -0.4M143.5 831.4l-0.3 1.5M126.4 910.2l-1.7 0" stroke="#7e42b0" stroke-width="3.8"/>
<path d="M328.2 940.6l1.1 1.8" stroke="#8c44ac" stroke-width="3.8" stroke-opacity="0.90"/>
<path d="M340.5 861.3l0.7 -3.1M260.1 750.2l1.7 2.6M237.6 783.1l-0.1 -2.9M274.9 924.8l-1.7 1.4M281.9 898.9l0.2 -0.9M277.2 941.4l0.9 -2.2M250.7 881.7l1.7 0.1M271.5 768.1l1.3 -1M236.5 860.3l0.9 -1.3M155.6 757l0.7 2.5M347.9 890.4l-1.8 -0.6M108.5 746.2l-0.7 1.2" stroke="#3a44a6" stroke-width="4.3" stroke-opacity="0.90"/>
<path d="M169.5 755.1l1.4 0.4M143 800.2l-1.6 -0.9M275.3 848.6l-2 1.6M139.4 906l-1.1 -0.5M93.8 811.8l-0.3 -0.8M305.1 899.6l-1.4 -1.9M149.8 777.7l-1 -0.5M360.8 841.7l-1.8 -2M347.1 816.3l-2.2 1.6" stroke="#414db4" stroke-width="4.9"/>
<path d="M332.6 750.6l-1.1 1.4M222.3 903.1l1.6 1.4M240.5 910.7l-3 0.4M106.1 817.2l-1 -1.2" stroke="#36409a" stroke-width="3.8" stroke-opacity="0.90"/>
<path d="M231.1 948.9l-0.5 -0.9M242.8 745.5l-0.1 -1.9M191.2 807.5l1.5 -1.5M104.4 797.1l2.1 2.4M313 870.7l-1.3 0.4M113.7 844.8l1.9 1.5M119.5 765.2l-0.7 0.6M142 782.5l1.1 -2.5M254.4 772.9l0.7 -0.8" stroke="#4653bb" stroke-width="4.3"/>
<path d="M176.4 758.4l1.1 -0.6M210.1 890.7l0.8 0.7M207 862.2l-1.9 -0.5M170.4 812.3l1.7 0.6M139.1 805.4l-0.2 -2.4M166.1 852.1l-0.8 -1.9M293.8 858.2l-0.1 1M117.9 761.7l-1.8 2.1M224.8 875.4l0.2 -0.8M338.4 771.7l0.9 2.7M328.9 841.2l-0.6 1.9M263.9 814.7l-1.5 -1.8M124.4 822.4l-2.3 0.7" stroke="#4653bb" stroke-width="4.3" stroke-opacity="0.90"/>
<path d="M256.8 748.2l0.2 0.9M349.9 803.8l-2.6 0.9" stroke="#9a40a6" stroke-width="4.3" stroke-opacity="0.90"/>
<path d="M146.2 825.6l-0.3 1.7" stroke="#9a40a6" stroke-width="4.9" stroke-opacity="0.90"/>
<path d="M338.2 819.3l1 1.9M350.6 847.6l0.2 -1.3M161.7 920.2l-0.9 0.1M297.3 774.9l0.5 1M294.2 940.5l-1 0.1M231 793.9l-0.7 -1.4M304.5 815l-2.2 0.7M243.5 864.1l0.8 -2.9M266.8 945.1l-1.3 -2.1" stroke="#414db4" stroke-width="4.9" stroke-opacity="0.75"/>
<path d="M268.5 865.1l1.1 0.4M97.6 868.2l-0.7 2.5M93 937.9l0 -1.6M328.8 928l-1.2 0.2M177.4 778.1l0.6 1.1M294.8 813.9l1.3 -1.5M121.4 750.2l0.6 1.6M202.9 776l-0.1 2" stroke="#414db4" stroke-width="3.8" stroke-opacity="0.90"/>
<path d="M157 803.9l0.4 0.9M255.6 808l-1.3 0.6M187 829.2l0.2 -1.6M114.9 845.4l1.1 1M353.5 863.2l0.9 -2.8M187.5 828.9l1.4 -0.5M109.8 890.7l1.5 -1.1M121.2 798.5l2.8 -0.8M136.3 845.9l-0.6 -2M294.2 893.8l2.6 0.1" stroke="#414db4" stroke-width="4.9" stroke-opacity="0.90"/>
<path d="M287.4 894.3l-2 0.8M285.1 753.3l0.6 -1" stroke="#7e42b0" stroke-width="4.3" stroke-opacity="0.75"/>
<path d="M193.8 865l-0.9 0.4M315.5 750.4l-1.3 2.1M345.6 908l-0.1 1.4M127.1 756.8l-2.1 -0.9M210.5 842.2l2.7 0.7M313.2 936l1.3 -2.6M207.1 876.3l1.8 0.1M152.8 761.7l-1.6 -0.1M160.7 796.3l-0.3 1.6" stroke="#36409a" stroke-width="3.8" stroke-opacity="0.75"/>
<path d="M304.9 747.7l-0.9 0M344 775l2.6 -1.1M264.8 921.2l0.1 -1.6M328 865l0.1 2.9M166.9 777.1l-2 0.3" stroke="#7e42b0" stroke-width="3.8" stroke-opacity="0.90"/>
<path d="M321.5 832.2l-0.4 1.1M153.2 767.2l1 -0.1M209.1 840.4l-1.8 -1.1M150.4 861.9l-1.7 2.4M343 761.4l-2 1.6M92.4 900.2l-0.1 2.3M293 798.7l-1.7 0.7" stroke="#3a44a6" stroke-width="4.3" stroke-opacity="0.75"/>
<path d="M314.9 916.5l-2 -2.2M98.1 764.3l2.4 1.3" stroke="#7e42b0" stroke-width="4.3" stroke-opacity="0.90"/>
<path d="M313.5 814.1l0.5 -1.1M359.5 918.8l1.2 -0.1M144.9 796.2l-2 -1.2M100.2 760.3l-0.3 1.2" stroke="#4653bb" stroke-width="3.8" stroke-opacity="0.90"/>
<path d="M206.5 827.8l1.6 -2M154.5 755.2l-0.3 2.2M205.2 935.5l0.8 1.3M181.6 902.5l-2.5 -0.7M292.3 760.8l0.4 -1.6M268.1 872.4l2.8 0.2M257 857.6l-1.5 -1.6M200.8 783.5l1.2 -2.6M248.5 939.4l-1.9 1.8M202.7 823.6l0.2 1.1" stroke="#4653bb" stroke-width="3.8" stroke-opacity="0.75"/>
<path d="M211.7 937.9l-0.8 1.2" stroke="#9a40a6" stroke-width="3.8"/>
<path d="M274.4 850.1l-0.3 1.2M188.3 876.3l0.2 -1M117.3 896.7l1.7 0.1M178.4 791.1l-0.1 -1.9M224 822.2l-0.6 -1.8M224.8 891.9l-1 -1.6M289.5 881.4l-0.1 2.1M281.9 802.9l-2.2 2.3M187.5 761.1l-1.8 0.9" stroke="#4653bb" stroke-width="4.9"/>
<path d="M317.5 742.7l1.9 2.2M98.3 917.2l-0.3 -2.3M101.5 844.6l0.8 2.1" stroke="#9a40a6" stroke-width="3.8" stroke-opacity="0.90"/>
<path d="M178.3 806.9l0.9 0.5M152.1 748.3l-0.8 -2.7M332.7 750.8l-1.3 0.1M258.3 893.1l-2 -1.5M283 768.8l0 2.4M255.5 788.3l0.9 0.3" stroke="#3a44a6" stroke-width="3.8" stroke-opacity="0.75"/>
<path d="M253.3 815.6l-0.2 2.3M211.1 819.5l-1.1 -0.7M163.3 920.7l-2.7 0.4M242.2 767.4l-1.2 -1.1M315.9 897.1l0.9 -0.3M171.9 918.4l1.2 -1.1" stroke="#3a44a6" stroke-width="4.9" stroke-opacity="0.75"/>
<path d="M145.4 809.5l-2.1 1.2M206.1 896.4l0.7 -1.3" stroke="#9a40a6" stroke-width="4.3"/>
<path d="M125 857.1l1.6 -0.3" stroke="#8c44ac" stroke-width="4.9" stroke-opacity="0.90"/>
<path d="M207 885.6l1.1 -0M177.3 829.7l1.3 -0M167.4 879.1l-0.1 1.2M181.3 921.4l-1.3 1.2" stroke="#9a40a6" stroke-width="4.9"/>
<path d="M238.8 885.8l0.8 0.1M359.4 828.8l0.5 -2.7" stroke="#3a44a6" stroke-width="4.3"/>
<path d="M110.2 830.8l2.4 -1.6M158.5 780l-0.2 -1.3" stroke="#7e42b0" stroke-width="4.9" stroke-opacity="0.90"/>
<path d="M350.5 818.9l-1.8 1.2M318.6 857.8l-1.3 -1M283.9 854.8l0.8 -3.1M280.2 941.8l-1.2 1.3" stroke="#3a44a6" stroke-width="4.9"/>
<path d="M92.8 771.2l0.6 1.3M283.4 939.6l-2.8 -0.9M298.4 853.6l2.1 1.7M139 751.2l-0.9 -3" stroke="#8c44ac" stroke-width="4.3"/>
<path d="M310.6 748.7l2.1 2.1M350.4 820.5l1 -1.9M183 890.6l0.1 1M309 871.6l1.8 -1.2M299.3 825.2l1.9 -0M351.5 749.8l-1.8 -1.1" stroke="#36409a" stroke-width="4.9"/>
<path d="M304.4 847.2l-2.7 1.2" stroke="#8c44ac" stroke-width="3.8"/>
<path d="M107.9 808.8l1.3 0.8M163.8 820.9l2.2 1.1M188.3 917.9l1.1 -1.4M338.9 782.9l1.6 1.5" stroke="#414db4" stroke-width="3.8" stroke-opacity="0.75"/>
<path d="M343.1 849l2.1 0.1M117.5 915.4l-0.5 -1.7" stroke="#9a40a6" stroke-width="4.3" stroke-opacity="0.75"/>
<path d="M112.7 782.2l0.9 2.9" stroke="#7e42b0" stroke-width="4.3"/>
</g>
<clipPath id="cf4"><rect x="379.2" y="742.2" width="275.3" height="206.6"/></clipPath>
<rect x="379.2" y="742.2" width="275.3" height="206.6" fill="#0c0c0e"/>
<g clip-path="url(#cf4)" stroke-linecap="round" fill="none" filter="url(#soft)">
<path d="M444.8 763.9l-1.2 -0.7M644.9 762.8l0.6 -1.8M396.7 776.5l2.4 0.9M651.4 776.4l0.7 2.5" stroke="#414db4" stroke-width="4.3" stroke-opacity="0.75"/>
<path d="M488.9 773.9l-1.4 0.6M406.4 750.1l-1.1 -2.7M510.6 772.9l0.5 -1.5" stroke="#36409a" stroke-width="4.9" stroke-opacity="0.75"/>
<path d="M397.9 825.9l-0.7 -1.5M492 744.6l1 0.7M581.8 748.8l-1.6 1" stroke="#36409a" stroke-width="4.9" stroke-opacity="0.90"/>
<path d="M632.7 907.8l-1.6 -0.4M651.4 840.7l-0.7 0.5M651.5 826.4l0.9 -1.8M625.9 902.3l-2.4 -0.5M387.3 748.1l-1.6 2.3M387.3 923.9l-0.8 -1.3M464.1 926.6l-0.6 1.2M543 792.7l1.6 2.3M439 939.4l-1.2 0.7M417.6 842l-0.9 -1.8M581 935.4l-0.9 1.4" stroke="#36409a" stroke-width="4.9"/>
<path d="M589.4 788.9l0.9 -1.7M528.8 822.2l-0 -2.5M588.5 825.8l-2.6 1" stroke="#7e42b0" stroke-width="3.8"/>
<path d="M526 798.1l2 2.5M552.9 798.5l0.9 1.5M435.4 755.1l2.2 -1.3M446.7 925.5l1.9 0.9M628.6 877.2l-2.7 0.3M598.1 874.7l2.4 0.6M495.6 906.5l-0.1 1.2M478.1 901.9l-1.4 -2.5M561 885.6l-1.2 2M593.6 930.6l1.5 -1.4M424.2 760.3l1.4 1.9M471.7 836.2l2.5 0.3M563.8 916.3l-1.4 0.2" stroke="#3a44a6" stroke-width="3.8"/>
<path d="M425.5 763.4l2.5 1.4M641.3 912.7l-1.5 1.8M588.8 941.9l-0.6 0.8M486.8 828.5l-2.2 2.2M384.6 940.9l-0.4 -0.8M614.7 879.2l1.5 -0.5M401 890.7l1.4 -2.3" stroke="#414db4" stroke-width="4.3"/>
<path d="M437.6 933.6l1.3 0.5M387.9 794.2l-0 1.1M512.2 756.3l0.7 3.1M469 872.2l0.2 -1M435.5 756.5l-2 0.8M415.5 898.4l0.3 0.9M477.2 835l-0.1 -1.1" stroke="#36409a" stroke-width="3.8" stroke-opacity="0.75"/>
<path d="M607.6 907.9l-0.4 1.9M648 940.4l-2.8 1M601.9 779.7l0.1 -1.5M429.6 912.8l1.1 -0.2M515.7 854.7l1.3 0.4M461.7 860.2l-1.7 -1.7" stroke="#3a44a6" stroke-width="4.9" stroke-opacity="0.75"/>
<path d="M598.1 781.7l2.9 0.8M630.4 860l-1.9 1M646.4 902.1l-2.6 0.5M429.1 773.9l-2.6 -1.8M566 856l1.3 -1.6M450.3 848.7l-1.2 -1.8M628.8 886.9l-1.7 1.6M578.5 747.5l0.3 -1.1" stroke="#36409a" stroke-width="4.3" stroke-opacity="0.75"/>
<path d="M463.7 871.3l1.6 0.9M621.5 783.3l-0.9 1.2M465.6 929.5l-0.2 2.6M386.9 747l-2.6 -1.2M612.3 841.8l-1.3 0.9" stroke="#3a44a6" stroke-width="3.8" stroke-opacity="0.90"/>
<path d="M579.3 919.2l2.7 -0.8M625.1 939.3l1.6 0.4M445.7 827.6l0.2 -1.2M642.9 757.3l-0.9 0.6M444.1 841.6l-1.1 2.4M541.4 844.8l-2.7 -0.6M409.6 870l-1.8 0.3" stroke="#414db4" stroke-width="3.8"/>
<path d="M620 760.1l3 -0M492.7 784.6l0.3 -1M565.5 869.7l-0 -3.2M651.3 776.6l1.1 0.1" stroke="#8c44ac" stroke-width="4.9" stroke-opacity="0.90"/>
<path d="M546.9 880.5l-1.8 0.9M510.9 890.2l-0.9 0.9" stroke="#7e42b0" stroke-width="4.9" stroke-opacity="0.90"/>
<path d="M518.3 778.4l0.4 1.1M458.7 782.2l2.6 -0.9M594.9 815.9l0.1 2.6M621.5 783.3l0.6 -1.4M514.9 812.2l0.8 -0M561.9 770.2l-0.8 -0.9M402.4 772.6l-0.9 -1.4M626.9 888.5l-1.7 -1.8M544 806.2l2.9 0.9M419.4 791.2l1.5 0.5M654.2 888.5l-1.4 -0.6M552.8 812.7l-3 -0.8M499.5 779.3l0.2 -1.9M387 796.5l0.9 0.3M437.3 747l1 1.4" stroke="#3a44a6" stroke-width="4.9"/>
<path d="M510 760.5l-0.9 0.4" stroke="#8c44ac" stroke-width="3.8"/>
<path d="M637 921.9l-1 -1.7M585.7 909.6l-0.8 2.4" stroke="#7e42b0" stroke-width="4.3" stroke-opacity="0.75"/>
<path d="M528.9 803.7l2.1 1M502.2 770.9l-1.5 -1M458.9 761.7l0.4 1.1M439.6 744.1l-0.5 -2.5M537.4 935.1l-0.4 1.8M439 934l2.8 -0.1M616.9 809.9l-0.9 0.2M468.9 945.3l1.4 -0.1" stroke="#414db4" stroke-width="4.9" stroke-opacity="0.75"/>
<path d="M622.9 917.2l-1.6 0.4M463.5 932.9l-1.9 2M491.2 865l-0.5 1.9M399 943.5l-2.3 -0.1M597 888.2l-1.4 -0.8" stroke="#4653bb" stroke-width="4.9" stroke-opacity="0.75"/>
<path d="M520.6 828.5l-2.8 -1.5M626.1 769.6l1.1 -2.1M458.3 932l-0 -1.8M486.9 771.1l1 -0.1M495.2 766.7l-1.6 -1.5" stroke="#7e42b0" stroke-width="4.3"/>
<path d="M544.7 831.6l-1.2 -0.7M589.9 870.3l-0.1 -1.9M581.4 939.2l0.3 2.6M565.5 772.5l0 1.3M412.3 851.4l1.2 0.3M558.9 883.7l1 0.4M541.4 843.8l3 -1.1M575.8 743.1l-1.9 0.4M572.7 893.6l-0.6 -0.7M556.4 926.6l1.7 1.9M478.1 925.3l0.3 1.7" stroke="#4653bb" stroke-width="3.8" stroke-opacity="0.90"/>
<path d="M423.9 804.5l-0.6 1.4M548.6 911.9l2.8 -1.4M552.6 860.1l3 -0.6M421.2 775.5l-0.1 -1.8M445.4 915.7l2.1 1.5M431.3 912.7l1.1 0M464.1 890.1l-1.2 1.4" stroke="#36409a" stroke-width="3.8"/>
<path d="M603.7 751.8l-1.5 -1.4M537 815.7l1.5 -2.3M648.5 913.4l0.2 -0.9" stroke="#414db4" stroke-width="3.8" stroke-opacity="0.90"/>
<path d="M391.5 873l0.8 -2.7M478 895.2l-1.7 2.6M417.5 751.5l1.5 2.7M626.8 932.8l0.2 0.9M562.5 751.8l1.3 -0.8M590 849.9l1 0.8M423.6 906.6l1.1 -2.3M458.2 926.9l1.2 -1.7M444.2 855.6l-2.3 1.9" stroke="#414db4" stroke-width="3.8" stroke-opacity="0.75"/>
<path d="M455.9 852.7l1 -0M396.2 790.5l0 -2.1M460.7 823l1.2 -1.1M461.6 883.8l-0.3 2.2" stroke="#8c44ac" stroke-width="4.3" stroke-opacity="0.75"/>
<path d="M509.5 814.4l-1.2 -2.7M428.2 877.9l1 -1.1M563.8 896.1l2.8 0.2M578.2 857.7l0.5 -2.7" stroke="#8c44ac" stroke-width="3.8" stroke-opacity="0.90"/>
<path d="M653.7 781.7l0.1 1.7M605.7 759.1l2.7 1.5M634.3 936.1l-2.9 -0.7M550.3 745.1l0.4 1.8M649.5 754.3l-1.8 -0.4" stroke="#4653bb" stroke-width="4.9" stroke-opacity="0.90"/>
<path d="M467.4 858.4l0.1 -1.7M392.3 886.9l-2.6 -1.3M645.5 878.9l0.7 2.2M602.3 904.8l-0.2 -1.8M509.7 849.8l-1.3 2.3M600.3 910.1l-1.1 -2.3M483.6 916.7l0.1 1.2M402.4 945l1.3 2" stroke="#4653bb" stroke-width="4.3" stroke-opacity="0.90"/>
<path d="M628.3 764l-0.2 -1.8M512.6 890.6l1 -1.1M551 760.7l-1.7 1.6M466.6 766.8l-0.6 1" stroke="#3a44a6" stroke-width="4.9" stroke-opacity="0.90"/>
<path d="M443.6 811.4l1.8 -1.5M393.7 776.8l1.3 0.5M487.5 883.2l-1.1 -0.2M466.5 870.2l2.2 0.2M560.1 928.8l2 1.5" stroke="#3a44a6" stroke-width="4.3" stroke-opacity="0.90"/>
<path d="M427.3 838.4l1.5 -2.8M499 919.9l-0.6 -1M528.4 928.5l-0.1 1M415.6 749.4l2.2 -2.1M647.6 851.9l-0.7 -1.7" stroke="#4653bb" stroke-width="4.3"/>
<path d="M384.7 802.8l-1 -1.8M425.4 922.1l-0.2 1.5M624.2 902.2l1.4 1.5M626.5 925.2l-2.9 -1M474.8 944.6l0.4 0.7M544.9 866.2l-1 -0.5" stroke="#3a44a6" stroke-width="4.3"/>
<path d="M491.7 936.4l0.9 1.3M469.7 743l1.5 2.2M649.9 828.9l-0.9 1.8M453.6 932.2l-1.1 1.2M464.2 921.2l-1.7 0.5M464.5 788.3l-0.1 3.1M517.3 773.5l0.4 1.2M607.5 926.5l2.7 -0.2M399.2 916.3l1.7 1.6M386.8 900.2l-0.1 0.9M515.2 751.7l1.8 -2" stroke="#4653bb" stroke-width="3.8"/>
<path d="M483.2 942l2.1 -2.3M394.9 776.9l2 -0.2M642 774.7l-0.8 0.6M395.8 946.6l0.6 1.3M384.9 925.5l-1.6 -0M389.8 773.4l-0.4 0.7M482.5 838.8l0.3 -1.6M460.2 856.2l0.8 2.6" stroke="#3a44a6" stroke-width="4.3" stroke-opacity="0.75"/>
<path d="M390.8 777l1.4 0.5M409.6 871.1l2.2 -1.2" stroke="#9a40a6" stroke-width="3.8" stroke-opacity="0.75"/>
<path d="M390.4 845.1l0.2 -3.1M430.3 853.6l-0.9 0.4M629.9 804.7l0.7 1M593.7 893.7l2.4 -0.5" stroke="#3a44a6" stroke-width="3.8" stroke-opacity="0.75"/>
<path d="M449.2 947.8l-2.8 1M597.6 895.8l-1.3 0.5M621.9 856.5l-2.1 -1.1M653.2 929.4l0.7 -2.9M489.9 824.8l-1.1 0.4M621.5 795.1l-3 0.1M428.3 891l0.5 -0.9" stroke="#4653bb" stroke-width="4.9"/>
<path d="M593.6 826.1l-2.8 1.3M473.1 877.6l-2.4 0.7M584.1 935.2l1.3 -2.7M417.4 818.5l-0 -2.7M380.6 915.1l3.1 0.3M553.1 916.6l-2.3 -0.9" stroke="#36409a" stroke-width="4.3" stroke-opacity="0.90"/>
<path d="M388.5 828.4l1.6 1.7M651.8 870.8l-2.4 1.7" stroke="#8c44ac" stroke-width="4.3"/>
<path d="M608.7 846.2l-1.5 -1.9M626.9 819.3l1.1 -0.6" stroke="#9a40a6" stroke-width="4.3" stroke-opacity="0.75"/>
<path d="M446.6 785.7l-1.4 -1M544.9 749l-0.9 1.9M610.8 898.6l-1.5 0.7M479 889.1l0.7 -1.3" stroke="#9a40a6" stroke-width="3.8"/>
<path d="M443.1 922.7l-0.4 -1.6M522.9 774.6l1.3 0.3" stroke="#9a40a6" stroke-width="4.9" stroke-opacity="0.75"/>
<path d="M633.7 859.4l2 -0.7M564.7 811.3l-1.2 -1.6M616.8 867.1l0.9 1.6M464.9 854.3l0.2 0.9M492.7 944.8l-0.1 -2.5M587.4 920.8l-1.2 -0.8M388.5 807.7l0.5 3M529.6 854.5l-0.1 -1.2" stroke="#414db4" stroke-width="4.9" stroke-opacity="0.90"/>
<path d="M515.6 761l-0.7 0.7M552.1 774.5l-2.7 -0.1M570.4 765.9l1.2 0.9" stroke="#36409a" stroke-width="4.3"/>
<path d="M437.9 922.8l-1.2 -0.1M547.1 749.5l-2.8 -0.6M430.5 869.1l-2.8 0.4" stroke="#9a40a6" stroke-width="3.8" stroke-opacity="0.90"/>
<path d="M602.8 852.4l1.3 -2.2M620.2 891.2l1.7 -0.7M429.9 784.5l-1.6 0.5" stroke="#36409a" stroke-width="3.8" stroke-opacity="0.90"/>
<path d="M633.2 744.2l-0.1 1.4M489 936.6l2.1 -1.9M560.4 939.9l-1.6 -1.9M520.3 743.7l-1.7 -2.6M611.1 870.3l0.8 1.4" stroke="#414db4" stroke-width="4.3" stroke-opacity="0.90"/>
<path d="M620.4 765.1l0.2 2.1M469.3 805.2l-0.3 -1.7M641 884.4l0.3 -1.7" stroke="#9a40a6" stroke-width="4.3"/>
<path d="M597 806.3l-2.1 0.5M593.4 756.1l-0.9 -0.1M446.9 916l-0.2 2.5M500.4 770.1l0.9 2.4M548.5 913.1l1.6 1.7M478.6 897l0.6 -2.3" stroke="#4653bb" stroke-width="3.8" stroke-opacity="0.75"/>
<path d="M622.7 847.7l0.5 0.7M478.5 939.5l2 -1.5M405.8 795.7l-2.8 -0.5M643.7 796.6l-0.8 -0.5M409.9 942.5l1.3 0.7M637.9 782l2.6 -0.9M625.4 841.1l0.3 1.2" stroke="#414db4" stroke-width="4.9"/>
<path d="M462.9 913.9l-1 2.3M554.4 794.5l-2.4 1" stroke="#8c44ac" stroke-width="4.9"/>
<path d="M506.8 931.7l1.9 -2.5M591.1 818l0.7 -1.8M411.4 876.3l-0.1 1M603.9 800.4l0.7 0.8M571.4 869.2l-2.6 0.1M461.9 937.1l-0.6 1.9M608.6 863l0.2 1.1M547.1 851.6l-2.9 -1.1M636.8 798.6l-2 1.2M517.6 766l-1.9 -0.4" stroke="#4653bb" stroke-width="4.3" stroke-opacity="0.75"/>
<path d="M596.3 868.2l-0.9 1.2M563.9 925.3l-1.1 1.7" stroke="#8c44ac" stroke-width="4.3" stroke-opacity="0.90"/>
<path d="M651 931.7l0.3 1.2M436.2 935.1l2.5 -0.3M438.4 790.5l2.2 1.9M550.5 814.5l1.3 -2.5" stroke="#7e42b0" stroke-width="4.9"/>
<path d="M531.9 885l2.9 1M537.6 782.1l-0.8 0.7" stroke="#7e42b0" stroke-width="4.3" stroke-opacity="0.90"/>
<path d="M612 912l1.7 0.7" stroke="#7e42b0" stroke-width="3.8" stroke-opacity="0.75"/>
<path d="M650.8 814l0.4 2.3M547.4 818l-2.2 -1.1" stroke="#8c44ac" stroke-width="3.8" stroke-opacity="0.75"/>
<path d="M408.5 784.5l-1.2 -2.2" stroke="#7e42b0" stroke-width="4.9" stroke-opacity="0.75"/>
</g>
<clipPath id="ct5"><rect x="91.2" y="999.2" width="276.8" height="207.1"/></clipPath>
<rect x="91.2" y="999.2" width="276.8" height="207.1" fill="#dfe3e1"/>
<g clip-path="url(#ct5)" filter="url(#soft2)">
<path d="M264 1153h0M311 1194h0M296 1190h0M99 1096h0M352 1134h0M341 1023h0M221 1050h0M242 1118h0M95 1044h0M169 1189h0M303 1032h0M312 1028h0M262 1025h0M92 1180h0M149 1044h0M363 1180h0M171 1198h0M240 1140h0M148 1194h0M282 1199h0M339 1061h0M191 1034h0M132 1013h0M175 1124h0M92 1140h0M185 1063h0M318 1099h0M179 1099h0M286 1011h0M361 1004h0M299 1174h0M96 1162h0M193 1119h0M94 1009h0M141 1197h0M146 1156h0M349 1194h0M187 1073h0M236 1160h0M121 1154h0M312 1177h0M101 1195h0M116 1070h0M260 1189h0M185 1191h0M242 1064h0M179 1036h0M113 1030h0M282 1206h0M136 1009h0M364 1110h0M204 1048h0M256 1170h0M217 1087h0M107 1189h0M100 1101h0M323 1026h0M294 1196h0M266 1162h0M121 1089h0M133 1174h0M173 1093h0M368 1176h0M361 1093h0M226 1150h0M224 1059h0M203 1030h0M196 1204h0M357 1129h0M229 1069h0M116 1056h0M308 1179h0M191 1162h0M306 1143h0M275 1157h0M192 1145h0M169 1100h0M304 1142h0M173 1195h0M271 1119h0M94 1112h0M161 1138h0M219 1168h0M270 1164h0M187 1133h0M295 1171h0M188 1174h0M332 1142h0M361 1197h0M235 1109h0M137 1172h0M351 1098h0M283 1148h0M293 1035h0M307 1119h0M275 1086h0M264 1160h0M267 1148h0M99 1032h0M213 1134h0M152 1141h0M266 1008h0M222 1046h0M106 1027h0M179 1037h0M145 1007h0M220 1078h0M261 1121h0M157 1186h0M91 1083h0M168 1084h0M123 1171h0M195 1007h0M261 1019h0M242 1069h0M252 1198h0M318 1086h0M316 1132h0M193 1029h0M256 1116h0M356 1200h0M260 1072h0M339 999h0M121 1116h0M261 1028h0M265 1184h0M195 1089h0M154 1060h0M360 1078h0M357 1188h0M256 1053h0M363 1102h0M206 1065h0M364 1101h0M170 1098h0M125 1128h0M214 1060h0M308 1170h0M95 1109h0M167 1193h0M308 1050h0M165 1031h0M365 1060h0M260 1097h0M270 1124h0M297 1024h0M302 1061h0M239 1069h0M173 1109h0M220 1074h0M297 1122h0M101 1051h0M217 1189h0M337 1112h0M95 1160h0M210 1118h0M287 1130h0M225 1188h0M198 1080h0M327 1040h0M173 1171h0M109 1172h0M283 1089h0M170 1161h0M343 1029h0M224 1113h0M229 1068h0M134 1121h0M316 1013h0M155 1169h0M310 1137h0M98 1149h0M362 1206h0M285 1009h0M324 1045h0M270 1196h0M288 1027h0M172 1189h0M133 1126h0M206 1033h0M263 1008h0M121 1078h0M111 1011h0M250 1153h0M334 1027h0M211 1064h0M257 1101h0M351 1077h0M107 1144h0M133 1130h0M231 1188h0M245 1128h0M164 1113h0M162 1155h0M234 1027h0M156 1076h0M295 1036h0M289 1135h0M115 1138h0M116 1025h0M256 1049h0M334 1099h0M181 1164h0M99 1149h0M106 1030h0M355 1140h0M153 1023h0M360 1137h0M318 1028h0M264 1073h0M156 1068h0M261 1071h0M198 1027h0M321 1133h0M314 1089h0M327 1106h0M255 1118h0M296 1081h0M118 1006h0M147 1007h0M337 1099h0M302 999h0M221 1183h0M263 1088h0M220 1020h0M134 1032h0M195 1079h0M335 1031h0M162 1057h0M136 1059h0M156 1099h0M100 1191h0M193 1193h0M282 1139h0M222 1195h0M124 1138h0M172 1139h0M293 1033h0M147 1004h0M155 1015h0M202 1201h0M192 1064h0M221 1058h0M294 1148h0M136 1049h0M277 1194h0M270 1088h0M361 1000h0M108 1161h0M205 1009h0M243 1204h0M235 1072h0M117 1014h0M340 1101h0M350 1010h0M159 1010h0M201 1012h0M162 1084h0M176 1010h0M102 1200h0" stroke="#8c9296" stroke-width="2.2" stroke-linecap="round" stroke-opacity="0.4"/>
<path d="M142 1094l2 10l-6 8l0 -8zM134 1110l-4 3l-10 1l1 -7l6 -2zM269 1048l-9 1l-5 -2l7 -3zM86 1067l12 -7l5 0l10 2l-12 6zM273 1192l-7 -9l4 -8l6 8zM139 1146l2 -15l3 -3l3 9zM356 1052l-15 -1l-1 -10l13 2zM128 1123l-2 4l-5 -1l-2 -4l7 -5zM184 1054l25 8l-3 5zM99 1123l-11 -4l5 -18l8 13zM141 1182l-13 -39l9 1zM131 1031l-5 7l-3 -5zM130 1040l5 12l-8 6l-5 -18zM128 1024l-8 4l-11 1l2 -6l14 -2zM357 1064l-3 -15l9 0zM312 1201l9 -6l11 0l-9 6zM173 1120l9 6l-5 2zM214 1186l16 1l13 9l-13 3zM253 1040l12 -4l6 2l-12 5zM308 1043l-8 -4l-9 -9l10 4zM332 1039l-2 -10l6 -15l1 13zM315 1107l6 11l2 17l-9 -16zM118 1109l-19 7l-17 -2l17 -8zM139 1170l5 5l3 9l-3 5l-6 -15zM299 1165l10 11l0 13l-9 -3l-4 -13zM221 1165l-5 5l-15 2l4 -4l7 -5zM285 1071l8 2l4 8l-7 -1zM265 1079l-1 8l-6 1l2 -7zM110 1010l8 10l-13 16l-1 -15zM124 1033l-2 14l-17 16l8 -17zM216 1056l1 6l-6 9l0 -5l-1 -4zM321 1091l-13 -9l-5 -13l9 6zM181 1088l-10 14l-18 7l-5 -7l13 -9zM308 1113l2 -12l12 -13l-3 16zM342 1104l14 -2l19 4l-3 4l-12 -1zM195 1056l-6 -1l-6 -9l10 4zM253 1079l15 -8l0 5zM190 1040l5 8l-18 9l5 -13zM270 1017l6 -12l10 -5l-6 12zM324 1056l2 15l-4 -1zM341 1015l-11 -7l-4 -10l8 5zM133 1058l-5 -9l2 -25l3 0l2 23zM311 1149l-12 5l-8 -5l13 -3zM119 1140l8 9l8 15l-13 -12zM355 1155l24 8l-14 7zM253 1017l17 11l8 14l-20 -17zM114 1144l-6 -6l-3 -13l5 8zM270 1109l-1 8l-7 1l3 -7zM263 1063l10 -12l15 -3l-3 8zM346 1033l5 7l-1 6l-7 -8zM354 1169l5 2l-13 12l-2 -3l7 -11zM253 1099l-4 -2l3 -10l5 1l2 8zM180 1120l-2 -8l4 -9l4 8zM165 1041l8 -10l7 -1l-3 7zM90 1131l8 -10l13 -6l-8 12zM190 1104l5 7l-10 21l-4 -2l2 -22zM192 1107l-18 1l-11 -7l15 -2zM219 1032l-13 -17l3 -2zM287 996l-13 12l-23 6l14 -10zM155 1177l-8 4l-8 1l-1 -5l9 -3z" fill="#b096d6" fill-opacity="0.60"/>
<path d="M201 1136l10 22l6 21l-11 -16zM177 1149l25 5l12 15l-17 -3zM194 1022l7 1l0 5l-2 5l-9 -10zM341 1166l12 -8l12 3l-14 6zM311 1085l4 -3l8 2l-5 7zM149 1064l20 14l-5 2zM112 1130l10 15l4 10l-5 3l-7 -12zM146 1064l0 -6l4 -7l4 4l-4 9zM294 1135l-2 -11l7 -3zM160 1046l-28 -9l8 -4zM342 1125l-8 -13l1 -10l6 11zM145 1144l11 -8l6 -2l8 -2l-12 8zM79 1173l11 -9l16 -3l-5 13zM256 1051l-11 15l-5 -3l-1 -6zM157 1144l-2 -2l-1 -11l4 0l1 9zM236 1169l10 -1l0 8zM326 1088l13 -1l2 7l-9 -1zM289 1117l6 16l-6 0zM122 1016l-4 2l-16 -15l-6 -10l25 19zM110 1163l8 -10l6 -2l2 10l-9 6zM178 1174l0 -7l2 -5l5 1l-2 7zM262 1101l-12 -5l-1 -11l10 4zM162 1059l3 16l-7 14l-1 -14zM85 1131l8 -2l17 12l-7 5l-13 -10zM219 1090l-5 6l-12 9l-2 -8l9 -10zM350 1174l-7 4l-8 0l5 -3zM117 1115l-7 -1l-5 -8l8 3zM237 1023l-4 -4l0 -10l3 1l1 8zM207 1085l-14 3l-1 -6zM99 1215l-2 -14l7 -18l1 16zM120 1159l-1 -4l3 -6l4 8zM328 1120l1 8l-10 8l1 -8zM203 1072l2 -11l14 -16l11 -6l-14 20zM202 1034l2 4l-10 9l-10 -1l8 -9zM101 1091l2 6l-4 9l-1 -8zM99 1154l3 -4l14 4l-7 4zM88 1151l0 -10l9 -8l2 6l-7 13zM112 1061l-14 -5l-7 -5l13 3zM297 1130l17 1l18 15l-22 -5zM140 1087l-7 17l-8 -2zM366 1042l0 6l-6 3l-6 -1l7 -12zM325 1073l5 -8l5 -4l5 -1l-5 7zM193 1018l12 -2l9 3l6 5l-11 2zM339 1198l-4 -4l0 -10l5 11zM303 1039l-1 -15l10 -15l1 6l-1 22zM174 991l13 10l7 17l-5 1l-8 -9zM199 1141l-17 5l-15 1l-2 -3l22 -4zM273 1136l-16 10l-28 5l23 -14zM163 1131l18 9l8 12l-8 -3zM207 1127l-10 -1l2 -5zM294 1061l3 13l-6 14l0 -15zM250 1179l-1 -13l8 -17l4 2l-5 16zM270 1064l9 9l11 18l-3 3l-9 -12zM345 1174l-10 11l-15 3l-8 -1l14 -10zM141 1132l10 -14l11 4l-8 7zM323 1030l16 1l-6 8zM348 1127l-14 1l4 -9zM264 1059l-11 0l-6 -22l8 6zM304 1204l-7 -9l-4 -12l8 10zM144 1139l0 -6l9 -2l-4 7zM347 1006l7 -1l12 6l-11 1zM347 1079l13 -8l11 1l-7 7zM333 1195l-4 6l-11 4l4 -7zM215 1018l-4 6l-19 11l-4 -7l18 -13zM305 1083l-9 -13l4 -4zM104 1036l-2 7l-8 5l-3 -6zM347 1202l-8 -12l-4 -20l9 8zM196 1038l-12 -10l-1 -9l1 -5l7 8zM362 1161l-7 -15l-5 -19l3 0l8 20zM228 1187l0 -7l7 2z" fill="#b096d6" fill-opacity="0.40"/>
<path d="M133 1171l8 -2l13 0l-2 4l-11 2zM364 1009l2 -6l5 -7l-4 10zM168 1144l4 1l5 5l-5 -2zM185 1162l4 -7l9 -5l-7 7zM182 1078l0 6l-5 -3zM264 1125l0 -7l1 -3l0 6zM130 1171l3 2l1 3l-2 1l-2 -2zM150 1154l-5 1l-3 0l-3 -1l7 -1zM288 1166l5 0l1 3l-5 1zM287 1157l-8 -10l-1 -5l6 5zM247 1058l1 11l-2 4l0 -5zM291 1054l-5 -11l3 -11l4 14zM237 1186l5 1l5 3l-6 -2zM248 1106l2 -13l8 -8zM167 1048l2 2l0 4l-3 0l-1 -4zM108 1111l-6 -7l-3 -9l4 5zM159 1006l-20 -3l-3 -5zM207 1108l-4 6l-7 -2l2 -8l8 0zM324 1129l6 -11l7 -3zM233 1182l-5 -3l0 -13l4 2l5 8zM353 1064l3 -3l4 -1l-2 3zM248 1053l-8 -1l-2 -5l7 -1zM146 1093l8 -3l8 -1l-8 4zM246 1147l-7 -10l-4 -7l5 -4l7 15zM186 1159l-6 21l-4 2l2 -12zM343 1084l-3 -1l-6 -13l2 -3l7 14zM97 1085l5 3l0 4l-5 -1zM355 1164l-3 9l-7 -8zM332 1032l-3 -3l1 -14l4 10zM322 1081l9 -5l5 0l-10 5zM313 1047l-8 3l-6 -2l5 -1zM249 1055l1 -4l3 -1l0 3zM222 1065l-9 -3l2 -7zM268 1031l5 -17l4 5zM216 1109l-1 -8l3 -1zM202 1105l2 1l2 8l-1 1l-3 -5zM214 1073l4 8l1 10l-7 -4zM189 1151l4 2l3 8l-10 -4zM96 1070l-2 -5l2 -4l1 5zM236 1142l-11 -1l-5 -4l5 0zM235 1184l-7 -3l0 -5l7 2zM194 1163l-4 3l-12 0l10 -5zM299 1024l3 4l-6 7l-3 -4l4 -5zM365 1096l2 4l-7 9l-2 -10zM243 1111l-2 -14l6 0zM222 1033l11 1l5 4l-2 2zM221 1042l-2 5l-5 8l0 -6zM198 1070l-3 -7l6 -1zM105 1193l8 -1l9 7l-8 0zM253 1061l4 0l-2 4zM271 1013l1 5l-5 8l-1 -8zM265 1129l11 -8l-2 4zM161 1193l18 0l13 5l-12 3zM101 1181l-4 1l-11 -3l3 -4l9 3zM286 1036l1 -7l6 -9l5 -2l-4 9zM144 1077l-5 0l-16 -12l2 -4l14 9zM170 1117l-4 -1l-8 -7l2 -2l6 5zM149 1168l7 -1l-2 4zM104 1066l-7 3l0 -4zM117 1076l3 6l-4 11l-3 2l1 -11zM87 1197l17 -7l9 2zM301 1129l3 4l-4 3l-1 -3zM125 1013l0 2l-3 4l-2 0l4 -6zM286 1019l-17 3l1 -7zM369 1168l-15 21l0 -6zM310 1108l5 16l-2 21l-5 -22zM352 1024l-5 1l-7 -5l7 0zM110 1184l-10 3l-3 -5zM122 1192l7 -1l4 3l-5 1zM245 1125l-12 5l-11 2l13 -5zM301 1210l-6 -13l1 -11l6 11zM263 1010l1 1l-1 4l-2 0l-1 -2zM134 1060l-4 0l-4 0l2 -4l3 1zM324 1027l5 -6l11 -2l-6 6zM165 1076l-5 1l-8 -2l5 -1zM258 1068l2 7l-5 22l-2 -13zM226 1158l0 8l-4 14l0 -10zM302 1014l-6 12l-6 -2zM188 1013l-2 -10l10 4zM168 1087l2 6l-3 6l-4 -2l-1 -9zM370 1044l-7 1l-1 -5zM320 1199l6 5l-3 2zM258 1041l-5 2l-4 -1l6 -2zM169 1174l13 -7l12 0l-10 6zM178 1026l4 1l1 4zM312 1056l-6 -9l1 -13l4 11zM100 1187l0 3l-3 2l-1 -3zM343 1113l5 -7l10 -4l-11 11zM90 1089l16 1l-8 7zM168 1074l4 -5l2 0l-3 3zM244 1060l5 4l1 6l-4 3l-4 -6zM101 1192l-5 4l-10 3l0 -5l6 -3zM339 1045l1 3l0 7l-2 0l-1 -8zM242 1070l5 5l6 15l-9 -9zM118 1023l0 -7l7 0l3 4l-5 3zM153 1060l1 -4l6 -2l-2 5l-2 3zM217 1044l-17 -8l1 -4zM269 1077l-3 -4l1 -9l5 1l5 7zM166 1207l-3 -16l6 -2zM142 1183l-8 0l-13 -7l12 2zM186 1097l7 -13l9 -9l-4 14zM329 1034l-3 2l-11 -2l6 -2zM314 1040l1 9l-6 10l-1 -9zM162 1115l-7 6l-7 0l0 -3l9 -3zM356 1106l8 -2l6 3l-6 1zM249 1154l-4 -11l7 4zM101 1132l-1 9l-7 8l0 -12zM217 1184l-3 -1l-4 -4l3 1zM117 1150l-5 -3l-5 -8l8 6zM154 1106l-1 -8l5 1zM135 1158l10 -5l-1 3zM126 1167l-3 -3l-2 -10l3 -1l3 6zM157 1031l-3 -3l12 -6l0 5l-7 5zM110 1217l0 -16l2 -9l3 16zM334 1010l4 -2l9 -1l-1 1l-7 2zM328 1097l0 8l-10 6l4 -10zM315 1142l-2 -3l2 -6l2 5zM308 1139l-5 4l-11 1l-3 -5l7 -3zM296 1213l-3 -10l1 -7l4 6zM185 1192l6 1l3 9l-5 -3zM206 1116l18 3l2 4zM350 1069l4 10l0 28l-3 -19zM196 1062l-1 6l-4 4l3 -8zM186 1169l-3 -5l1 -3l3 -1l2 5zM265 1060l0 -4l4 1l0 2zM189 1126l13 -11l-1 7zM342 1049l3 2l1 5l-4 -1zM300 1073l-9 2l4 -3zM345 1164l2 7l-7 21l-3 2l4 -21zM344 1005l2 -5l4 -2l-3 5zM177 1196l1 7l-8 5l0 -5zM223 1125l-6 -4l0 -2z" fill="#6238a6" fill-opacity="0.85"/>
<path d="M158 1049l-5 5l-16 0l-4 -3l13 -2zM211 1000l-15 11l-4 -2zM160 1150l-1 -3l4 -3l0 3l-1 2zM356 1008l-11 -4l5 -9zM256 1017l-1 4l-3 3l1 -5zM311 1201l19 3l3 3zM113 1134l-1 -16l5 -8zM283 1122l-2 8l-2 1zM104 1070l-3 3l-8 4l1 -2l5 -4zM229 1118l-6 -2l5 -4zM126 1032l7 4l-4 5l-5 -4zM138 1173l6 -3l11 2l0 5l-9 -1zM111 1099l4 2l-2 3l-3 0zM111 1110l-12 -1l-7 -2l13 1zM173 1163l4 3l4 7l-5 -5zM194 1155l5 -1l5 4l-4 0zM347 1141l-2 2l-10 0l3 -1l5 -1zM342 1157l1 -5l3 -9l4 2l-1 12zM225 1181l-6 -1l-15 -7l12 -1zM140 1057l5 7l3 14l-1 6l-5 -15zM328 1107l-5 -1l-5 -5l6 3zM279 1085l-1 -9l3 -9l0 14zM265 1196l2 -7l3 2zM225 1191l-1 3l-5 4l3 -5zM330 1077l11 2l5 5l-5 0zM271 1069l0 1l-12 3l4 -3l4 -2zM231 1059l2 -4l4 -1l-2 4zM164 990l9 12l-4 3zM108 1174l-9 5l2 -7zM172 1081l-2 8l-8 13l-4 4l5 -13zM182 1096l1 -6l11 -3l7 2l-8 9zM266 1081l-1 -2l0 -6l2 0l0 7zM243 1111l15 -3l-2 4zM259 1002l3 4l4 11l-3 -2l-6 -10zM331 1158l2 5l-5 4l-6 -3l4 -8zM287 1087l-5 1l-6 0l7 -3zM234 1169l2 -6l6 -2l-1 4zM324 1087l7 -5l18 0l-16 6zM122 1110l-5 0l0 -2zM214 1149l-7 -3l-4 -7l2 -1l5 3zM123 1147l3 0l5 2l1 2l-6 -1zM216 1174l4 -1l4 4l-4 1zM162 1071l3 3l2 5l-1 3l-4 -6zM128 1040l-10 6l-7 -1l7 -5zM353 1110l4 1l3 4l-4 -2zM121 1118l11 -7l9 -3l-9 7zM129 1094l3 -12l6 -5l0 11zM372 1030l-6 2l-2 -5zM298 1191l3 9l1 12l-3 0l-4 -18zM139 1163l4 -1l15 8l1 4l-15 -5zM291 1059l2 -12l4 -5l0 6zM247 1079l5 -1l8 1l-6 1zM255 1172l6 -1l6 2l-3 7l-9 -2zM169 1049l6 -2l7 -1l1 1l-9 2zM154 1168l-8 -6l4 1zM262 1117l-11 6l-6 0l9 -7zM274 1188l-3 15l-4 -1zM136 993l5 4l0 10l-5 -4zM359 1177l3 3l-4 3l-1 -4zM293 1207l1 -10l3 -7l-1 8zM106 1074l-7 -8l-4 -8l2 -2l8 14zM356 1088l-3 -16l3 2zM253 1161l5 6l-1 9l-5 -8zM173 1172l0 -8l1 -1l0 7zM327 1063l-2 -6l11 0l-4 7zM348 1160l5 5l4 10l-7 -9zM192 1129l6 1l2 5l-6 0zM165 1159l16 8l-4 7zM336 1080l-6 5l-2 -2zM142 1155l4 1l6 18l0 6l-8 -17zM346 1082l9 7l-2 5zM223 1028l2 -21l4 -1zM124 1048l-21 13l2 -7zM116 1009l-5 5l-2 -4l4 -3zM287 1080l6 -1l7 6l-7 3l-5 -4zM285 1019l2 2l6 6l-6 -3zM116 1050l8 -9l5 6zM97 1064l-8 -1l2 -3zM298 1120l-1 1l-15 -5l0 -2l15 4zM202 1078l2 -5l6 2l-5 5zM285 1055l9 -3l11 2l-14 2zM209 1026l8 14l4 14l-8 -15zM258 1104l-5 10l-6 1l6 -10zM131 1200l-1 -1l5 -8l1 1l-3 5zM247 1104l0 -5l6 -5l4 0l-3 8zM267 1131l-7 -5l-1 -4l6 3zM274 1072l2 -10l8 -10l-3 11zM318 1094l2 6l-4 6l-3 -5l2 -4zM332 1172l-11 4l-15 0l9 -3zM204 1065l24 -3l2 4zM307 1118l-4 1l-4 -2l3 -2zM107 1127l-7 1l0 -2zM293 1061l3 -2l5 1l-2 2l-2 0zM96 1055l-1 -12l6 3zM203 1087l-4 -2l0 -5l5 -3l3 6zM224 1049l-5 -2l-1 -4l5 3zM224 1179l-6 -3l-5 -7l2 -2l4 4zM293 1004l3 3l4 4l-1 1l-5 -5zM267 1176l-5 2l-2 -6l6 -4l3 4zM341 1139l2 1l0 13l-6 2l1 -11zM282 1083l16 2l5 3l-13 -1zM268 1072l0 -9l1 -5l1 8zM191 1076l-6 -12l7 1zM180 1066l8 -1l5 2l-3 1zM138 1072l-16 -10l5 -1zM286 1001l6 4l-1 11l-5 -4zM250 1197l-4 0l-4 -2l4 0zM287 1056l10 4l10 5l-13 -2zM106 1184l2 15l-2 14l-4 -18zM263 1126l-1 -8l4 -1zM88 1124l9 1l7 7l-1 3l-10 0zM301 1150l10 4l2 5zM172 1190l3 6l-1 4l-7 0l0 -6zM284 1056l-3 -5l4 -3zM298 1026l11 -9l0 11zM239 1136l4 -5l5 -5l0 1l-4 6zM333 1016l-5 11l-7 4l3 -8zM133 1061l-2 8l-6 11l3 -9zM219 1157l-7 3l-13 1l5 -3l6 -1zM103 1058l3 -2l3 -2l1 2l-3 3zM238 1130l6 2l2 3l-5 -3zM318 1169l-3 3l-7 -3l1 -3z" fill="#6c40ae"/>
<path d="M256 1084l7 2l0 8zM218 1191l5 0l-1 3zM174 1092l-4 2l-14 2l-4 -2l13 -3zM225 1171l6 0l7 2l0 2l-6 -1zM116 1024l6 -4l14 -3l-10 6zM345 1088l13 -7l0 4zM254 1058l9 16l4 15l-11 -21zM180 1198l-2 -8l8 -10l2 8zM273 1189l4 -5l10 -3l-1 3zM283 1105l6 2l4 3l-9 -1zM298 1194l3 -8l4 2zM304 1138l3 -9l7 -4l7 -2l-7 8zM260 1089l-5 -1l-2 -9l5 2zM273 1109l0 -4l3 -5l-2 7zM98 1188l2 3l-1 3l-2 -3zM114 1096l3 -11l9 0zM219 1094l6 4l3 5l-7 -5zM230 1186l2 -8l3 0zM104 1028l-1 -6l3 -4l2 1l-1 6zM123 1119l-1 -8l6 -2l-1 4zM290 1125l-2 -5l11 1l-3 6zM241 1048l1 5l0 11l-2 -3l0 -10zM240 1171l-4 -5l6 -2zM157 1047l-11 -22l6 -3zM248 1068l-1 1l-8 0l1 -3l3 0zM95 1034l14 5l18 10l-8 0l-15 -7zM190 1067l-8 1l-8 -2l11 -2zM272 1149l9 1l-2 3zM190 1078l1 -1l4 2l-2 1zM358 1138l2 2l0 7l-2 1l-2 -7zM138 1132l0 8l-3 1l-9 -4l7 -7zM236 1139l0 -4l4 -10l2 -2l-3 12zM236 1198l-6 -5l-2 -15l5 9zM224 1192l-4 4l-10 -3l4 -4l6 -3zM104 1134l5 -1l3 2l-6 2zM271 1187l3 6l0 4l-3 -7zM184 1159l-12 -12l4 -3zM162 1183l0 -7l2 0zM289 1157l-9 2l-10 -2l11 -2zM283 1060l-11 -5l-8 -10l-1 -4l10 6zM137 1141l5 -12l3 1zM101 1130l1 10l-5 15l1 -18zM136 1105l-1 -2l1 -5l2 5zM352 1033l3 6l0 3l-3 -4zM189 1079l2 3l-4 6l-2 -1l1 -8zM112 1196l-5 7l-4 -5l3 -3zM213 1112l-1 -5l1 -11l3 2l0 7zM302 1118l-2 16l-2 -2zM118 1022l-16 -4l-1 -3l8 1zM332 1006l3 1l2 5l-5 -3zM297 1094l9 12l-6 0zM117 1140l-5 1l-2 -3l3 -2zM312 1018l9 15l-1 10zM154 1186l4 11l-7 3zM268 1060l4 -3l4 1l-4 3zM185 1175l-3 5l-4 4l-1 0l4 -7zM212 1099l-2 -19l3 -12l3 20zM336 1102l-4 -5l0 -11l4 10zM148 1188l-4 -7l-1 -14l2 4l3 8zM268 1088l12 5l-5 4zM142 1187l6 -5l0 5zM96 1005l10 3l-7 6zM112 1128l-12 7l-9 2l6 -7zM224 1129l-16 2l-6 -4zM344 1184l9 -2l3 4l-5 0zM135 1210l-7 -13l2 -7l3 6zM319 1205l-5 3l-4 0l3 -3zM115 1148l-8 6l0 -8zM137 1204l-1 -13l4 -6l1 8zM134 1157l-7 2l-3 -3l4 -1zM311 1038l-1 2l-8 5l-1 -1l5 -4zM179 1097l-4 -4l-2 -7l4 -1l4 4zM319 1027l5 5l1 5l-4 -2zM306 1037l-10 -4l-3 -5l6 -3zM210 1107l-3 -7l3 -4l3 6zM109 1131l-8 -9l0 -6l4 6zM362 1008l3 4l-1 16l-3 -10zM245 1049l13 16l1 6zM341 1127l4 8l1 8l-2 -4zM119 1132l-5 -8l10 -4l1 5zM112 1112l6 -10l14 -6l3 2l-11 11zM119 1154l-1 6l-4 7l0 -8zM319 1036l5 -3l9 0l-9 3zM159 1184l3 5l0 6l-5 0l-1 -7zM141 1013l-15 0l3 -2zM238 1160l-5 -2l0 -6l6 3zM278 1182l-3 -2l-3 -4l4 -1l3 4zM333 1139l0 -1l8 2l4 3l-12 -3zM340 1036l-3 -5l0 -4l2 3zM110 1139l-10 5l-4 0l4 -3zM225 1169l-3 0l-5 -4l2 -3l6 3zM291 1188l-5 4l-4 -2l4 -2zM217 1082l4 -5l5 1l-2 4zM141 1196l-5 -6l-4 -7l2 -1l4 7zM239 1123l-5 5l-6 -3l5 -7zM321 1019l11 6l4 5l-9 -4zM253 1067l1 -8l4 -5l-3 11zM110 1139l2 -1l4 1l-3 1zM123 1156l6 -10l5 8zM148 1033l-4 -8l11 0zM100 1182l2 5l-3 1zM265 1021l-9 -2l-3 -12l13 7zM329 1069l-7 4l-11 -2l11 -6zM173 1079l1 4l-4 0zM277 1071l8 -1l11 4l-11 1zM285 1069l5 1l1 6l-6 1zM241 1125l-1 -6l2 -5l2 5zM93 1003l0 2l-2 4l-2 -3l3 -3zM308 1055l2 -6l5 -2l-2 7zM345 1165l11 -21l7 1zM101 1192l8 -8l8 -2l-7 7zM268 1102l1 2l-1 2l-3 2l1 -5zM137 1200l2 -3l14 -3l0 2l-8 3zM282 1047l1 17l-5 16l-1 -13zM207 1101l-2 -3l4 -2l0 3zM284 1157l7 3l4 8l-6 3l-9 -8zM188 1175l-12 -6l4 -3zM246 1013l16 2l-1 6zM344 1116l-13 -6l7 -3zM129 1210l-8 -4l-2 -7l7 3zM274 1028l1 6l-1 5l-2 -11zM259 1115l-16 7l1 -4zM292 1092l-4 -3l-1 -4l4 4zM129 1045l3 0l6 5l2 2l-7 -2zM356 1126l-1 -5l5 -14l2 8zM317 1130l18 -9l-1 4zM337 1195l-4 2l-3 0l-1 -4l5 0zM191 1179l8 -4l9 1l-11 5zM191 1044l-7 5l-2 -8zM330 1079l10 7l2 10l-11 -10zM170 1149l-9 3l-11 -1l12 -4zM251 1089l2 -4l3 -1l1 2l-2 3zM97 1150l3 8l-1 7l-2 5l-2 -12zM314 1032l1 9l-3 8l-4 -5zM296 1158l9 9l5 13l-11 -10zM338 1031l-11 12l-10 3l12 -12zM283 995l12 9l-9 2zM283 1130l-20 11l-3 -4zM222 1147l0 -4l3 1zM181 1184l-4 -6l-5 -9l2 0l6 7zM297 1095l-6 9l-6 2zM113 1107l-4 -8l0 -9l6 8zM307 1118l-6 0l-3 -3l5 -1zM261 1123l-10 -2l4 -3zM238 1154l-2 -1l1 -3l2 2zM91 1019l5 15l-3 0zM223 1061l-3 2l-13 -1l4 -2l5 0zM279 1208l5 -3l15 -4l-15 9z" fill="#7649b4"/>
<path d="M97 1077l-1 -16l1 -11l4 -1l-1 13zM327 1190l3 -10l6 3zM309 1123l5 1l6 3l-9 -2zM128 1071l12 -2l10 0l-7 4zM258 1121l-1 -5l4 0zM153 1006l18 11l3 7l-13 -9zM116 1106l-2 2l-2 -1l1 -2zM252 1189l-13 -4l2 -8zM319 1035l13 6l-3 1zM264 1045l1 -12l6 -6l-2 8zM369 1148l-6 -2l3 -7l7 3zM217 1141l-4 -1l-3 -5l2 -1l4 4zM339 1136l9 -13l0 7zM246 1092l-6 20l-3 -6zM187 1154l5 2l-4 4zM342 1165l-11 5l-3 -2l3 -4zM308 1170l3 -3l6 2l4 3l-9 0zM307 1142l11 -6l4 8l-8 5zM129 1026l-8 8l-6 -5zM272 1126l-7 13l-2 -3zM212 1162l-1 -7l4 3zM337 1138l6 0l13 1l2 2l-19 1zM349 1040l0 -9l2 1zM348 1009l2 -8l4 3zM340 1107l-5 -14l4 1zM222 1039l4 -1l5 0l-5 3zM199 1112l4 -9l6 -2l-3 5zM103 1021l2 7l-1 4l-2 3l0 -9zM226 1132l2 -1l2 2l-3 2zM326 1200l20 -8l11 -1l-16 8zM240 1000l6 3l4 4l-6 -1zM295 1056l4 1l-2 5l-2 -3zM187 1122l6 1l0 4l-3 1l-4 -4zM99 1084l-6 3l-3 -3l4 -2zM265 1148l-5 6l-13 1l6 -5zM319 1090l-7 -7l3 -1zM303 1084l10 0l20 13l-21 -9zM241 1094l8 -6l5 0l-5 6zM107 1135l-5 6l-6 -6l4 -4zM274 1124l-5 -3l3 -4l5 1zM267 1074l-2 4l-5 1l0 -3l3 -3zM295 1055l5 -2l16 1l5 5l-21 -1zM136 1064l4 11l-2 4l-3 -3zM128 1151l5 -5l11 -6l0 1l-9 7zM362 1033l3 8l0 6l-3 -1l-2 -8zM97 1019l1 -3l5 1l1 4l-4 2zM136 1176l-6 3l-2 -2zM255 1185l-6 0l-6 -3l9 0zM317 1036l-1 8l-16 5l9 -11zM256 1060l0 -6l3 1zM284 1065l-15 -2l-12 -5l-6 -4l26 8zM341 1076l1 11l-5 11l1 -14zM141 1055l4 -8l9 -7l-6 10zM158 1183l-1 -13l4 -9zM193 1116l-1 5l-6 7l3 -8zM108 1067l3 7l-3 13l-4 -11zM269 1166l-11 15l-11 11l13 -18zM269 1113l6 -6l2 1zM345 1101l0 -5l3 -1l0 4zM271 1029l11 12l-9 2zM333 1041l-7 -2l-3 -2l6 2zM365 1154l-16 -6l-2 -4l6 1zM280 1081l-3 -4l2 -6l1 5zM227 1085l-7 4l-7 -2l2 -3l9 -2zM317 1074l-4 11l-5 1l1 -5zM321 1009l-1 7l-3 3l-1 -3zM297 1029l9 7l5 6l-10 -6zM323 1106l7 -7l2 3zM93 1004l5 -3l4 3zM204 1169l9 7l3 4l-6 -4zM362 1069l-2 -10l3 -10l2 5zM143 1028l0 -4l3 -5l1 0l-2 7zM338 1118l-2 5l-5 8l-5 -2l6 -9zM128 1109l-4 0l-6 -3l6 0zM334 1157l2 -1l5 -4l2 1l-6 4zM138 1020l6 6l5 5l-9 -7zM122 1105l-15 1l1 -4zM145 1146l-3 -1l-1 -9l4 8zM272 1119l-2 3l-6 1l-1 -3l6 -2zM250 1194l5 -1l6 2l-5 1zM306 1183l13 -3l-1 4zM341 1131l-3 7l-3 0l-2 -3l4 -2zM322 1176l-5 -1l1 -4zM213 1008l0 -10l2 1zM264 1170l-10 -10l4 0zM280 999l2 4l-3 7l-1 -4zM287 1095l-8 1l1 -7zM186 1047l2 12l1 14l-3 -8zM316 1089l10 1l-5 5zM314 1062l-8 -4l-5 -4l10 4zM334 1021l-1 -16l8 -1zM173 1021l-5 4l-3 -4l4 -4zM197 1046l-3 -12l1 -5l3 6zM97 1081l-2 6l-4 4l-2 -1l4 -6zM338 1006l-13 4l-2 -1zM111 1038l2 -8l4 -2zM276 1103l4 -12l6 -5l-4 11zM142 1200l6 -8l10 -6l-6 7zM152 1019l4 -1l6 2l-7 2zM353 1131l5 -12l15 -22l-2 9l-6 9zM236 1132l-5 -13l4 -8l3 12zM256 1021l-14 -3l4 -6zM305 1105l1 4l-6 12l2 -9zM363 1069l-4 -3l-7 -24l4 1l9 24zM350 1127l-16 9l1 -3zM154 1078l-10 -4l3 -6zM233 1122l-15 -2l-13 -6l17 3zM310 1061l-8 0l0 -2zM283 1100l-6 0l-15 -5l2 -2l15 4zM101 1046l-5 -1l0 -7l6 5zM206 1053l1 2l0 5l-3 1l-1 -5zM196 1142l0 -5l6 2l-2 3zM122 1168l7 -3l6 5l-2 5l-6 -3zM316 1028l9 -11l5 -3l8 -2l-14 12zM139 1007l-8 3l-10 -5l11 -3zM269 1088l-8 2l-9 -4zM232 1175l-19 17l0 -7zM145 1127l4 -14l3 5zM325 1082l1 7l-3 6l0 -10zM301 1093l-2 9l-3 4l-3 -1l2 -6zM247 1028l-7 -26l0 -15l7 27zM218 1013l-8 -7l-4 -10l10 9zM255 1090l0 6l-6 6l-1 -3l5 -10zM219 1152l3 4l2 9l-5 -6zM289 1065l-1 6l-6 5l1 -9zM281 1075l-6 -2l-5 -7l5 0l3 1zM204 1100l-16 1l-5 -4l13 -2zM315 1189l7 -11l4 -1zM247 1088l-1 2l-7 0l0 -4l4 -3zM310 1072l3 4l-1 11l-2 -2l-2 -10zM339 1021l7 -2l11 2l-12 1zM117 1119l-7 5l-10 2l13 -7zM235 1078l-3 4l-2 -2z" fill="#7649b4" fill-opacity="0.85"/>
<path d="M357 1014l-11 -7l5 -8zM240 1115l9 9l-2 1zM315 1067l-3 -8l0 -5l3 6zM288 1091l-2 12l-7 0zM315 1055l2 -9l4 -12l3 4l-2 8zM238 1109l3 -6l10 -2l0 5l-7 3zM156 1104l-8 6l-7 -1zM183 1096l3 2l2 4l-4 -3zM303 1069l5 0l1 3l-2 2zM281 1044l5 15l-7 0zM197 1103l7 0l17 9l-17 -2zM108 1195l-5 8l-5 1l-1 -5zM228 1041l1 -5l6 -4l-1 7zM152 1054l2 -8l3 2zM137 1117l6 1l-1 3zM170 1048l7 6l5 17l-8 -6zM171 1175l-2 -4l6 -7l0 9zM310 1196l3 2l1 9l-3 2l-1 -10zM268 1086l-1 -6l4 0l3 3l-2 4zM266 1060l-6 -5l4 0zM195 1177l3 -8l7 6l-8 7zM243 1142l4 -6l5 -2l-3 7zM108 1109l5 4l2 6l-5 -5zM329 1040l10 -6l13 -4l-12 7zM184 1177l2 23l-4 -5zM279 1152l-4 -14l3 -6l2 7zM242 1167l-1 6l-5 1l2 -5zM293 1073l-2 1l-1 -4l2 1zM171 1018l-5 2l-1 -4l4 -2zM308 1071l-5 7l-11 7l2 -3l4 -7zM132 1174l10 -1l5 4l-12 1zM121 1198l-10 5l-6 1l6 -4zM197 1165l4 4l3 15l-5 -8zM257 1172l-15 15l3 -9zM252 1120l2 -2l2 2l-2 3zM246 1000l4 2l3 5l-1 1l-4 -4zM125 1158l2 2l0 6l-1 2l-2 -6zM307 1078l0 -5l4 -5l0 6zM270 1140l5 -6l14 -8l2 1l-12 10zM169 1067l-5 -9l2 -3l3 4zM360 1108l-4 1l-1 -5l3 1zM262 1123l-10 -8l1 -12l5 8zM295 1003l3 6l1 4l-2 1l-2 -8zM179 1167l-7 2l-6 -3l2 -3l8 -4zM238 1112l-7 -5l-1 -3l3 2zM235 1041l0 3l-5 4l1 -4zM229 1209l-1 -5l1 -19l3 1l0 14zM125 1086l-11 3l-7 0l6 -4zM283 1036l4 8l-2 1zM246 1154l-7 -10l-1 -10l7 4zM286 1197l5 -8l15 -6l-12 11zM230 1020l10 -2l10 2l-18 3zM158 1125l10 3l0 8l-6 -2zM226 1133l6 13l-2 7l-3 -5zM180 1140l2 -3l2 0l2 3l-4 1zM97 1144l-4 3l0 -4zM123 1061l2 -2l2 3zM251 1169l10 19l-8 -7zM99 1011l4 3l3 11l-4 -1l-4 -8zM203 1113l-3 -3l4 -1zM207 1121l-9 -4l-9 -8l10 3zM202 1129l-3 -1l-2 -1l-1 -3l5 3zM338 1168l-5 -1l-4 -3l5 1zM117 1135l0 8l-4 -2zM359 1030l6 -20l0 10zM325 1016l5 0l13 2l3 5l-13 -2zM346 1027l11 -6l3 3zM348 1134l11 6l4 6l-9 -5zM105 1135l8 4l5 6l-6 -2zM275 1101l5 -6l6 -5l-1 8zM287 1187l0 4l-1 7l-2 -5zM326 1107l-4 -8l5 -7l3 7zM250 1017l5 -15l8 6zM333 1016l-4 3l-9 -5l9 -3zM194 1053l5 -2l5 6l-6 1zM192 1189l7 -2l6 5l-6 1zM262 1157l8 1l4 3zM217 1067l3 2l-1 9l-3 -1l-1 -3zM303 1127l-4 -5l-2 -10l6 6zM340 1038l12 12l2 8l-9 -10zM212 1076l-3 -7l0 -8l1 1l2 6zM235 1169l5 0l7 3l-1 2l-11 -2zM249 1086l5 -4l2 4l-1 3zM120 1085l2 13l-2 3zM244 1130l-9 2l-12 -3l8 -3zM335 1093l2 3l-1 11l-4 -12zM348 1058l4 -1l8 2l-6 1zM279 1017l0 -3l3 -4l1 3zM350 1013l1 -6l2 -3l-1 6zM187 1091l1 -4l12 7l-4 2l-5 -2zM204 1180l5 3l1 1l2 4l-6 -5zM321 1107l-3 18l-7 13l2 -18zM203 1082l-3 7l-2 2l1 -4zM113 1184l10 -4l-2 2zM281 1149l4 1l0 4l-4 -2zM322 1042l5 13l-1 16l-4 -12zM370 1063l-9 -4l4 -6l9 0zM212 1195l5 -5l3 0zM268 1146l-2 6l-10 9l1 -8l6 -8zM201 1099l5 11l-6 0zM105 1147l1 -5l9 -7l2 8l-4 6zM232 1100l-1 3l-3 0l0 -4zM318 1035l-7 -5l-6 -10l4 1l7 8zM233 1071l4 0l3 5l-4 -1l-5 -2zM240 1176l-1 5l-6 12l4 -11zM250 1194l-1 -2l-2 -7l6 0l3 5z" fill="#6c40ae" fill-opacity="0.85"/>
<path d="M146 1193l0 3l-11 9l6 -8zM280 1034l8 -1l4 3l-7 0zM108 1017l6 -3l1 3zM299 1108l8 -3l13 3l-12 3zM348 1129l6 15l-1 10l-4 -9zM225 1145l-9 0l-13 -3l3 -2l10 0zM323 1072l-14 -3l-13 -7l19 4zM128 1058l2 5l0 12l-3 -7zM246 1155l0 4l-3 7l-1 -1l2 -6zM248 1182l-3 8l-5 3l2 -7zM236 1055l-10 4l0 -6zM291 1013l5 1l2 4l-4 -2zM117 1043l4 6l-4 2zM341 1124l-2 1l-3 -3l1 -2zM308 1034l-4 -8l1 -5l3 4zM335 1005l-2 3l-2 -3l2 -3zM210 1038l1 -5l5 0l1 3zM323 1011l-9 -4l3 -6l4 -2l6 7zM306 1051l1 -3l7 1l-2 3l-5 0zM208 1001l-5 10l-8 1zM132 1054l-7 -11l-4 -16l8 13zM354 1165l9 3l3 4l-6 2zM125 1059l1 15l-4 4l-2 -9zM292 1020l-6 8l-9 -7l8 -6zM253 1059l4 -4l8 -2l-6 4zM173 1130l4 2l3 4l-3 -2zM95 1060l4 -11l15 -12l-8 14zM348 1142l2 10l-1 10l-2 -6zM243 1151l-6 -12l4 -3zM327 1172l0 -7l4 -9l-2 10zM193 1079l6 -12l3 0zM270 1045l6 -7l4 7l-6 5zM95 1004l12 10l8 10l-14 -10zM155 1092l-1 1l-7 -5l3 0l3 1zM292 1077l-9 -14l-7 -18l13 19zM237 1165l6 3l3 5l-3 -1zM196 1185l-6 -5l0 -6l4 4zM113 1028l6 2l-1 2zM192 1189l-3 10l-3 2l-1 -7zM121 1163l5 0l6 9l-3 2l-8 -6zM107 1175l5 0l14 7l-9 1zM284 1114l10 2l2 5l-5 -3zM173 1166l9 -2l1 5l-4 1zM338 1084l-5 -4l2 -9l6 7zM271 1096l-7 -6l0 -4zM251 1028l-2 4l-1 -3zM197 1134l-6 -20l6 1zM335 1046l5 2l0 3l-2 3l-3 -4zM182 1173l-4 3l-3 -5l5 -2zM187 1140l-1 4l-4 3l0 -3zM197 1074l-12 2l-16 -6l20 1zM104 1051l7 2l5 10l0 3l-10 -7zM170 1003l10 -4l3 2l-4 5zM299 1132l2 10l-3 -3zM145 1073l-17 -1l-3 -3zM262 1170l-7 -7l-1 -9l7 2l2 6zM208 1080l3 -10l4 0zM324 1006l5 8l3 12l-7 -8zM301 997l-2 12l-3 -4zM303 1022l-2 3l-7 0l0 -7l9 0zM174 1070l-5 -2l1 -4l4 1zM118 1115l-6 -7l-2 -7l9 8zM282 1110l-7 -2l-7 -6l9 3zM189 1119l1 1l-3 7l-1 -1l2 -6zM159 1110l7 6l-5 1zM283 1046l0 4l-4 4l-2 -2l2 -5zM123 1181l5 11l-2 11l-5 -15zM321 1025l-5 15l-4 -1zM307 1190l-3 6l-3 2l2 -4zM280 1125l0 4l-8 12l-3 -2l6 -10zM191 1155l4 0l8 5l1 3l-7 -4zM265 1109l2 -10l9 -11l-3 13zM138 1163l-4 -1l-8 -12l3 -1l4 7zM95 1120l0 -3l3 -1zM156 1040l2 13l-6 14l-1 -7zM263 1160l3 0l4 1l1 4l-4 -1zM284 1049l6 1l7 3l-9 -1zM276 1081l-8 0l-6 -4l6 1zM218 1181l-4 3l-2 -3zM335 1170l3 -2l9 -1l1 1l-5 1zM324 1101l-5 4l-3 1l2 -2zM155 1111l10 -2l3 1l-3 3zM143 1086l-15 -2l-4 -4l6 -1zM221 997l-2 8l-4 8l3 -10zM276 1075l1 6l-2 5l-2 -6zM342 1202l-2 -6l2 -6l2 0l0 7zM120 1071l2 -4l13 -6l1 3l-12 10zM299 1085l6 -1l6 0l-5 2zM208 1146l0 -4l11 -15l-6 15zM156 1019l-5 20l-4 1zM235 1050l-7 -4l1 -7l8 6zM251 1130l7 -9l6 0l-2 5zM108 1152l-5 2l-5 1l4 -2zM167 1086l1 -19l3 -3zM337 1012l-1 -4l2 -6l2 4zM252 1043l-5 14l-7 8l-4 3l11 -19zM215 1093l2 -8l7 -10l5 -2l-10 16zM345 1110l-2 -5l3 -6l4 6zM288 1064l-5 -9l0 -9l4 3l2 5zM346 1129l-4 -1l-1 -5l2 -2l3 2zM89 1192l5 0l7 3l-8 -1zM352 1031l5 -3l6 0l-4 4zM328 1050l-1 -7l6 -5l2 7zM215 1149l-3 1l-2 -3l4 -1zM289 1120l0 5l-4 0l-4 -2l4 -3zM293 1101l6 9l0 5l-2 -4zM177 1196l-2 2l-6 4l3 -4zM261 1048l2 -3l8 -4l-4 7zM278 1168l2 2l-2 6l-2 1l2 -6zM104 1169l3 3l1 5l-1 1l-3 -5zM200 1168l-4 2l-7 -1l-2 -3l11 -1zM142 1210l-12 -6l-4 -3l2 -5l8 7zM338 1034l13 6l-1 3zM89 1103l13 -2l9 4l-3 4l-10 -3zM340 1000l1 10l0 8l-2 -11zM348 1069l-3 -1l1 -4l4 1zM332 1100l5 -1l8 9l-2 3l-9 -7zM198 1132l3 -4l4 -2l-3 3zM350 1084l1 4l0 6l-2 -5zM149 1009l7 1l4 3l-5 1zM329 1062l-8 -1l-4 -6l6 1zM162 1021l-4 6l-5 1l5 -5zM228 1169l0 -5l4 -2l0 5zM248 1144l5 -1l2 4l-4 0zM218 1002l-7 0l-10 -2l1 -1l8 0zM362 1094l-5 -3l-8 -14l12 11zM243 1074l13 -12l3 0zM227 1137l-21 -7l-6 -4l8 1zM95 1064l11 3l11 10l-10 -3zM258 1024l5 -10l2 1zM249 1058l-6 2l-11 -3l3 -1l8 1zM364 1091l4 -2l2 4l-4 2zM267 1146l1 -11l8 -15l-4 19zM315 1128l-12 -13l4 -5zM238 1012l-2 -8l1 -3l1 0l1 3zM230 1087l7 -4l2 4l-2 2zM165 1204l-6 -3l-9 -10l4 1l10 6zM258 1168l-8 -18l2 -2zM107 1193l-4 1l-8 -9l8 -1l8 4z" fill="#6238a6"/>
</g>
<clipPath id="ct6"><rect x="379.5" y="998.6" width="277.3" height="207.2"/></clipPath>
<rect x="379.5" y="998.6" width="277.3" height="207.2" fill="#fcfafd"/>
<g clip-path="url(#ct6)" filter="url(#soft2)">
<path d="M593 1158l13 5l2 16l-15 -8zM593 1139l-2 7l-6 5l2 -11zM534 1064l-6 -1l-8 -8l3 -1l4 2zM484 1181l7 -3l8 1l1 5l-10 0zM615 1034l20 -6l20 3l-2 4l-23 2zM600 1059l16 -2l3 5zM482 1071l9 16l-5 14l-6 -11zM498 1155l-7 -13l11 -8l1 11zM536 1138l6 -15l4 8zM476 1110l-11 -7l9 -14l8 9zM645 1056l-11 -2l-4 -4l0 -9l18 10zM607 1087l-5 10l-9 13l-6 -7l7 -8zM399 1101l18 -10l17 2l-17 7zM620 1008l6 -9l2 8zM574 1103l-21 -9l-3 -10l13 7zM643 1117l3 -13l8 0zM513 1082l-20 -4l-3 -6l9 -1zM600 1116l-9 -5l2 -4zM545 1200l3 -12l17 -14l6 2l-13 14zM638 1038l-16 -4l-8 -6l11 0zM569 1174l9 -10l19 5l-14 10zM540 1192l17 11l-1 9zM458 1077l36 -7l-5 10zM568 1120l-8 5l-8 1l5 -4zM429 1053l0 -11l11 -1l-3 9zM506 1179l3 11l-19 12l2 -12l9 -10zM555 1132l6 18l-7 4zM578 1039l18 12l15 19l-13 -2l-9 -11zM500 1092l6 -9l4 6zM400 1106l6 -7l16 8l-9 5zM529 1171l-7 4l-8 -3l4 -4l9 -1zM594 1058l7 -17l11 0zM615 1210l-8 -14l6 -6l7 5zM443 1193l-4 0l-11 -20l4 -3l14 12zM516 1133l9 -5l18 8l-12 6zM391 1147l-6 2l-12 -7l11 -2zM502 1040l11 -5l-4 6zM472 1032l22 2l10 11zM517 1113l10 5l-2 7zM510 1103l6 11l-2 8l-5 -9zM620 1012l4 3l4 11l-10 -8zM473 1064l14 5l0 8zM579 1082l-7 -8l9 -12l4 8zM391 1018l3 -9l9 -16l4 -2l-6 16zM512 1100l3 -4l30 -5l6 3l-19 7zM635 995l4 12l-9 13l0 -17zM436 995l4 8l-6 14l-5 8l1 -16zM654 1141l-10 -2l6 -6zM610 1029l-4 12l-7 2l2 -14zM618 1130l-11 -9l3 -7zM513 1062l-3 -10l5 -16l2 17zM418 1059l-7 -12l0 -18l6 15zM382 1002l8 2l4 7l-4 0zM483 1144l-8 -2l-7 -8l8 -1zM655 1186l3 21l1 13l-6 2l-2 -26zM411 1058l7 8l-6 4l-4 -5zM538 1180l10 -18l14 7zM584 1177l5 11l0 7l-4 -8zM633 1057l5 10l-2 9l-5 -10zM603 1012l-10 -4l-10 -15l14 7zM410 1133l-2 -13l8 -18l1 13zM575 1103l8 4l-2 15l-11 -11zM502 1191l4 -6l18 -2l-12 7zM528 1045l-14 -3l-17 -16l11 -1zM584 1137l6 -7l16 -2l-7 10zM402 1170l-10 15l-17 12l0 -5l11 -11zM490 1169l-5 10l-13 7l7 -11zM433 1063l29 14l-6 7zM469 1138l10 -10l5 4l-6 9zM562 1168l-9 6l-14 -8l15 -3zM460 1159l9 13l-6 2zM409 1013l10 -7l15 -1l-1 7l-13 4zM507 1156l12 12l-9 8zM550 1177l15 -4l-3 6zM462 1212l-19 -12l12 -5zM439 1105l14 19l-6 0zM422 1135l14 1l-3 5zM613 1042l-17 12l-8 -1l4 -6zM631 1012l-4 16l-10 2zM447 1039l-7 23l-7 -10zM404 1053l-19 -16l12 -3zM433 1086l-3 -8l5 -9l5 2l-1 10zM668 1192l-8 3l-15 0l-1 -3l11 -2zM523 1172l4 5l0 11l-5 -6zM584 1029l7 12l-2 15l-4 -13zM467 1188l14 16l-5 5zM615 1026l-5 -12l6 -5zM530 1087l-11 5l-20 -9l18 0zM442 1057l5 6l1 6l-8 -5zM427 1034l-27 2l6 -6zM608 1155l-14 -6l4 -7zM621 1113l-19 -7l-12 -11l16 4zM571 1117l-1 -7l4 -11l1 6l-1 11zM584 1028l4 -5l6 1l1 4l-3 3zM525 1190l12 5l1 10zM488 1010l-21 -2l-4 -10l8 2z" fill="#b096d6" fill-opacity="0.60"/>
<path d="M524 1131l9 5l3 15l-9 -6zM642 1137l-14 -4l2 -9zM523 1046l-18 -28l9 1zM456 1168l3 -1l12 -1l2 2l-14 2zM553 1192l16 11l-11 5zM640 1092l19 7l0 9l-10 -2zM563 1127l-11 -2l-2 -4zM445 1135l-1 -17l8 -2l-1 12zM579 1093l-18 -11l2 -10zM507 1183l7 -11l23 -5l-11 10zM394 1001l6 7l-5 3zM662 1003l-19 19l-9 2l11 -15zM533 1138l1 19l-6 22l-3 -18zM448 1156l-2 6l-13 1l10 -6zM573 1173l-5 -18l4 3zM572 1171l-3 -10l10 -7l3 8zM643 1072l13 -1l4 12l-8 1zM634 1011l17 -6l0 9zM560 1077l5 -5l10 -6l1 3l-9 9zM445 1027l12 6l11 10l-13 -5zM516 1039l10 2l14 7l-5 2l-12 -5zM373 1007l1 -5l11 3l8 5l-13 3zM375 1186l12 -7l7 11l-5 6zM659 1045l-14 2l-3 -8zM437 1105l-8 -17l9 -3zM527 1100l12 -5l4 6l-10 3zM480 1037l-7 -14l2 -13l5 13zM592 1152l5 -2l12 4l-9 1zM595 1099l2 -7l9 -5l-4 8zM530 1114l5 4l4 9l-3 0l-3 -4zM654 1049l-18 3l5 -8zM437 1043l-5 -15l4 -10l2 16zM609 1073l-2 8l-11 9l6 -12zM395 1101l-17 6l0 -6zM447 1029l-10 -4l-12 -14l13 4zM502 1176l-3 -7l1 -11l4 11zM425 1035l7 6l0 13l-6 -10zM552 1176l-18 6l-21 -5l13 -8zM602 1009l-8 -9l5 0zM619 1082l-9 5l-13 -7l12 -1zM658 1207l-11 -12l6 -10zM467 1064l-10 -13l-9 -24l3 0l14 24zM452 1056l-3 -5l0 -12l3 -4l1 13zM464 1130l-4 -12l3 -13l4 11zM423 1015l-18 4l-8 -1l-7 -6l23 -6zM404 1119l4 -6l11 4l-8 5zM458 1131l-6 13l-25 6l11 -13zM625 1096l-7 5l-6 -4l4 -4zM571 1094l9 26l4 20l-10 -10zM423 1093l15 -1l-4 10zM607 1083l-16 12l-15 1l14 -12zM441 1130l-1 3l-17 2l13 -7zM414 1109l-2 -8l9 -4l-2 11zM469 1054l-17 -6l-8 -8l14 5zM589 1213l5 -10l15 -11l0 10l-16 13zM390 1087l-3 -9l1 -16l5 5l1 20zM547 1183l1 -5l20 5l-5 11l-10 -2zM541 1058l5 7l-2 7l-5 1l-3 -4zM640 1077l9 -12l5 4zM421 1170l2 -6l14 -4l-7 8zM546 996l-14 11l-13 -8zM482 1129l-12 -2l-17 -8l0 -3l16 1zM569 1066l-1 -9l9 -4l-1 11zM644 1111l-4 -12l5 -9l3 6zM435 1139l-8 -13l2 -21l8 22zM418 1006l-11 5l-16 -4l19 -7zM558 1106l-12 -10l14 -6zM519 1178l-18 -11l-5 -10l12 3zM632 1053l-3 22l-5 -10zM622 997l10 12l1 8l-9 -9zM531 1206l8 -12l17 -9l5 3l-20 15zM627 1186l4 -4l17 4l15 7l-37 -1zM457 1051l7 3l10 12l-9 -3zM551 1173l9 3l-4 18l-7 -13zM453 1000l-13 10l-16 1l3 -6l18 -5zM531 1165l0 -8l8 -5l2 2l-7 9zM583 1038l1 19l-16 -3zM412 1122l-9 -9l14 -13l3 11zM593 1167l-10 0l-7 -2l-6 -4l11 1zM493 1092l-5 7l-18 -2l7 -7zM463 1132l-7 3l-9 -2l2 -4l5 -2zM643 1139l-6 3l-9 3l-1 0l8 -6zM415 999l-3 7l-6 -1l2 -4zM404 1008l4 3l3 7l-2 3l-8 -9zM468 1111l-3 13l-10 -4zM531 1089l-19 6l-3 -11zM614 1178l-14 -1l-10 -18l17 6zM631 1177l-3 -14l5 -3l7 8zM512 1028l12 -8l1 4zM598 1071l-1 4l-11 5l-3 -2l9 -5zM647 1079l2 -14l15 -6l-6 16zM451 1123l8 14l0 14l-4 -2l-5 -15zM414 1198l-4 4l-9 -9l6 -5l7 2zM575 1076l0 -9l5 -10l4 -1l-2 8zM645 1200l0 -10l15 -1l-4 11zM503 1203l-6 0l-14 -5l1 -2l12 3zM534 1025l-8 -8l-1 -9l5 2zM427 1102l-10 8l-10 3l-3 -7l16 -4zM585 1198l-2 -13l8 -16l-1 15zM614 1051l-8 7l-13 4l9 -15zM401 1171l-9 8l-7 0l6 -6zM509 1015l1 12l-15 6l7 -13zM495 1126l9 -5l6 3l-7 3zM613 1181l9 0l14 16l-16 -2z" fill="#b096d6" fill-opacity="0.40"/>
<path d="M641 1140l0 -3l4 -7l-1 7zM538 1030l-14 3l-3 -3zM641 1114l0 -10l2 -14l2 -2l-1 16zM634 1138l-2 1l-10 -3l-1 -1l8 0zM621 1097l-4 5l-8 7l-3 1l9 -9zM570 1130l0 2l-6 6l-2 0l6 -8zM613 1024l-3 -16l1 -14l3 18zM582 1118l-3 3l-3 -1l2 -2zM421 1184l0 6l-1 5l-1 -5zM584 1099l5 5l-3 2zM527 1078l4 -4l9 -1l-9 8zM455 1159l-3 9l-8 4l4 -12zM566 1029l-16 9l-14 2l13 -7zM473 1149l4 9l2 12l-6 -12zM581 1032l1 -1l5 12l-2 -1l-5 -9zM651 1065l-13 1l-8 -3l0 -3l12 1zM547 1087l-7 -5l0 -6l6 4zM505 1162l-2 -11l5 -3zM577 1122l-2 -6l4 -11l3 6zM652 1046l-6 6l-4 -3zM502 1196l-1 5l-8 2l4 -7zM437 1151l4 1l4 6l-6 -4zM642 1019l2 -11l3 -8l1 9zM533 1098l-12 -2l1 -3zM509 1173l-13 2l-10 -1l16 -2zM644 1161l-9 9l-2 -3zM512 1197l-5 -2l-7 -9l8 6zM406 1195l-5 -3l-1 -4l5 3zM587 1046l7 -8l6 3l-8 5zM414 1166l-2 3l-6 3l-3 0l8 -5zM483 1039l-2 8l-5 0zM445 1151l4 -8l7 -5l-5 7zM471 1082l-4 -5l2 -9l3 6zM442 1094l-8 -5l3 -5zM391 1088l6 10l-3 5zM497 1196l18 3l12 6l-22 -4zM604 1116l-4 6l-13 7l9 -10zM646 1029l-3 3l-9 4l-4 -4l11 -4zM554 1092l1 -3l8 -4l-3 5zM572 1075l6 -4l10 -1l-3 4zM453 1193l11 -2l6 1l-11 2zM564 1107l-5 -12l3 1zM614 1172l2 -4l6 -8l-2 7zM463 1109l-2 -6l5 -5l3 1l-3 10zM588 1152l5 -26l3 4zM597 1036l-12 -4l-6 -4l11 3zM570 1135l4 1l5 14l-6 -5zM416 1026l0 -6l2 -3l6 -5l-3 10zM407 1057l6 3l2 9l-7 -7zM592 1078l5 -2l8 5l-5 0zM617 1124l1 8l-7 13l0 -12zM610 1194l-3 3l-7 -2l6 -3zM598 1125l4 6l4 7l-2 4l-6 -14zM552 1202l3 -4l12 -3l-4 5l-8 3zM644 1045l-12 11l-5 -1l4 -5zM404 1091l-3 1l-5 0l3 -2zM613 1134l0 -19l3 -5zM472 1183l-2 0l-4 -5l5 3zM436 1133l4 -5l7 0l-1 3l-5 1zM513 1018l-12 9l-1 -5zM399 1005l1 1l-6 9l-2 0l2 -6zM427 1177l-8 6l4 -4zM625 1003l-7 0l-2 -5l6 0zM563 1090l1 -1l9 1l-4 2zM640 1181l-5 5l-6 -5zM591 1014l-3 -3l-1 -7l5 2l2 5zM579 1035l4 3l3 8l-4 -5zM599 1143l-3 -3l-4 -10l-1 -4l5 8zM386 1120l3 0l5 4l-1 0l-4 -2zM476 1172l2 -6l5 -5l-1 7zM585 1023l8 -2l6 1l-1 1l-5 1zM518 1175l0 -5l11 -6l-4 8zM479 1067l-1 4l-8 5l4 -5zM499 1020l7 -2l2 1l-4 2zM421 1093l16 7l-5 5zM522 1031l8 7l0 5zM387 1010l-4 3l-11 -3l9 -1zM588 1057l-10 9l-6 1l5 -6zM569 1096l-4 -3l-5 -4l0 -3l8 7zM654 1065l-5 1l-8 -7l9 1zM455 1064l3 12l-1 10zM551 1177l-10 -13l4 0zM589 1183l5 -2l8 6l-5 2zM406 1191l-13 6l-2 -4zM481 1075l12 -6l4 6zM619 1138l6 2l3 4l-6 -3zM462 1168l2 -2l6 0l-5 3zM467 1039l1 -1l8 3l1 2l-5 -2zM516 1138l-4 0l-4 -7l6 2zM550 1103l2 0l9 11l-3 -1l-5 -4zM390 1069l-6 3l-10 3l10 -6zM396 1123l2 -10l3 -7l6 -4l-3 11zM577 1173l11 1l5 0l-1 1l-7 0zM382 1032l3 -3l8 -1l-8 4zM393 1017l-13 2l-14 0l11 -5zM494 1131l-11 -4l0 -6zM613 997l13 1l8 3l2 6l-17 -5zM508 1040l0 -6l2 -4l0 4zM559 1174l2 15l-5 1zM610 1095l8 7l10 18l-11 -12zM441 1090l-3 -5l3 -1zM605 1056l3 -6l2 1zM459 1064l3 8l-2 3l-2 -5zM545 1051l8 4l1 2l-5 -2zM601 1167l14 -7l-2 4zM467 1063l-11 -1l-11 -3l15 1zM531 1040l-4 -2l-4 -4l4 2zM513 1107l2 -5l3 0zM420 1007l6 0l5 1l0 1l-9 -1zM530 1161l-3 -7l0 -8l4 9zM426 1031l-3 -27l5 7zM616 1083l-7 -8l6 -2zM644 1120l6 -4l9 0l-8 3zM655 1079l-7 2l-3 -1l2 -1zM493 1095l-16 13l-6 -1zM511 1074l-12 7l-2 -6zM468 1191l6 1l2 5l-4 -2zM606 1093l-5 5l-5 4l4 -5zM650 1010l5 -6l5 -3l-3 5zM639 997l7 18l2 16l-5 -9l-4 -16zM474 1183l7 0l10 4l-9 3zM634 1139l6 -14l3 2zM509 1016l-15 -5l-7 -5l11 2zM484 998l0 4l-12 8l8 -10zM531 1027l-9 -2l-9 -8l6 1zM613 1173l17 0l8 3l-10 1zM502 1104l-11 5l-6 1l8 -4zM627 1072l23 7l-7 2zM420 1049l-6 -10l-1 -7l5 7zM410 1041l7 -3l5 0l-6 3zM462 1114l-5 -6l-5 -11l10 12zM619 1134l-5 -4l-1 -6l4 3zM615 1181l-15 2l-1 -4zM538 1105l0 -7l2 -2l0 3zM651 997l-20 10l-1 -4zM658 1003l-8 8l-1 -7zM598 1012l-6 -8l4 -1zM390 1162l-9 -3l-10 -12l12 7zM556 1173l7 2l2 4l-7 -3zM591 1095l-10 -2l1 -2zM448 1003l2 -2l6 -4l0 2l-5 3zM398 1086l3 -2l2 3l-4 1zM563 1093l1 13l-1 10l-4 -8zM549 1197l3 5l3 7l-3 3l-4 -6zM592 1200l-4 -4l-7 -17l10 15zM594 1061l-6 -8l4 -9l5 10zM631 1112l-2 7l-5 4l0 -5zM509 1106l3 10l-3 3zM583 1120l0 -4l2 -2l1 3zM584 1192l-13 -5l-13 -9l5 0l9 4zM600 1056l14 16l-5 -2zM633 1199l5 3l2 5zM423 1082l5 -7l5 -5l3 2l-9 9zM480 1119l7 0l3 4l-6 1zM546 1174l7 1l15 4l0 3l-9 -1zM575 1133l4 -5l6 -3l-4 5zM648 1177l-12 -3l-19 -13l17 7zM405 1076l-6 1l1 -2zM408 1062l8 -14l2 5zM546 1120l-4 -1l0 -4l3 1zM608 1056l1 2l-2 8l-1 -3l1 -4zM635 1023l-5 9l-3 3l4 -8zM642 1076l-1 8l-9 5l1 -8zM514 1143l10 3l7 5l-10 -3zM591 1078l-12 2l-13 -3l13 -3zM475 1152l14 -12l3 6zM627 1020l-7 -4l-11 -9l8 3zM639 1143l-2 6l-5 6l-2 -3l0 -4zM466 1173l-6 0l-13 -9l1 -1l11 6zM421 1161l-4 -18l5 5zM656 1002l-5 -2l2 -3zM422 1178l11 0l2 4zM562 1086l0 -11l8 3zM398 1012l6 -4l4 1l-3 4zM662 1043l-6 2l-14 -4l6 -1l9 0zM574 1019l-11 -7l-13 -14l10 5l6 6zM532 1031l2 5l0 4l-3 -4zM618 1088l3 -7l4 -5l-4 9zM391 1179l-7 4l-3 -3zM654 1142l-15 11l2 -9zM472 1119l4 -4l8 3l-7 2zM489 1105l-3 2l-5 -2l3 -2zM612 1034l2 -8l3 2zM509 1127l-9 -1l2 -5zM446 1106l2 -2l12 -1l-4 2l-8 2zM539 1188l4 3l4 13l-4 1l-7 -16zM553 1177l-13 6l-4 0l8 -4zM464 1017l-14 0l1 -6zM653 1114l-10 13l-5 2zM568 1136l2 1l0 8l-3 2l-3 -7zM406 1005l-1 2l-14 2l-1 -2l11 -3zM546 1040l7 8l9 24l-14 -22zM401 1018l0 8l-3 6l-3 -4l2 -4zM415 1044l-1 -2l3 -4l0 2zM462 1060l-1 2l-11 6l-4 -5l6 -4zM424 1002l12 4l8 8zM523 1180l-1 7l-4 6l-2 -2l2 -4zM607 1094l2 0l2 2l-2 1l-2 -2zM383 1208l4 -8l6 2zM406 1004l2 -2l6 -1l-6 4zM434 1014l4 4l1 12l-3 -1l-3 -8zM593 1150l6 5l2 2l-3 -1zM383 1089l3 -2l9 1l-9 3zM437 1207l3 -5l5 -4l-3 6zM391 1112l2 11l-2 5zM531 1196l14 8l-4 0zM413 1073l-6 0l-3 -11l9 6zM636 1043l2 2l3 3l1 3l-6 -5zM633 1008l9 1l4 2l-6 0zM471 998l-10 12l1 -7zM389 1022l2 -3l6 -5l0 1l-4 5zM616 1004l5 -4l9 -4l-8 7zM506 1087l-5 1l0 -9l3 -4l2 6zM621 1004l4 -7l5 -6l-4 10zM541 1212l1 -6l2 -7l1 1l-2 8zM538 1193l3 -5l5 -9l4 3l-5 8zM609 1178l-8 5l-5 -5l3 -2zM642 1173l-5 -5l1 -9l5 5z" fill="#7649b4" fill-opacity="0.85"/>
<path d="M649 1130l5 -1l4 3l-4 2zM655 1169l-2 -7l1 -20l2 14zM506 1149l7 -1l15 -4l1 6l-14 0zM594 1187l1 4l-2 3l-2 -3l0 -2zM557 1085l-1 0l-3 -4l1 0l3 2zM481 1084l11 3l-2 3zM564 1098l9 10l12 18l-14 -15zM423 1016l3 -4l6 -1l-4 3zM627 1151l2 -2l6 1l-3 2zM411 1197l0 4l-5 3l-1 -4zM465 997l3 10l-5 1zM528 1025l-1 -6l5 -8l2 3l-2 6zM548 1105l-2 -3l0 -5l2 1l1 4zM617 998l5 3l6 5l-4 -1zM486 1171l7 6l6 12l-9 -10zM376 1141l8 4l3 3l1 6l-8 -4zM381 1027l4 -6l6 -6l-2 5zM526 1115l-3 4l-6 1l0 -4l5 -2zM597 1027l3 -1l9 1l-10 1zM518 1023l3 1l2 5l-3 1l-3 -3zM586 1128l-4 16l-5 8l-2 0l5 -14zM580 1184l5 3l8 11l-7 -5zM567 1095l-10 -12l-8 -16l15 15zM393 1139l-3 4l-14 -2l12 -5zM411 1108l-1 -1l9 -1l0 1l-5 2zM610 1110l2 10l-4 10l-4 -2l-1 -7zM647 1165l-7 10l-9 6l-5 3l14 -15zM603 1196l12 7l2 4l-6 -1zM435 1010l3 -18l3 4zM390 1120l8 1l7 5l-8 -1zM622 1064l7 4l1 6l-5 -5zM523 1172l2 3l0 7l-2 -6zM542 1033l12 6l8 8l-6 -2zM606 1102l-2 4l-10 7l6 -6zM406 1043l-7 -7l-6 -12l6 6zM466 1035l-7 -1l0 -2zM551 1109l-5 12l-8 3l2 -9zM432 1213l-1 -16l3 -12l1 15zM627 1177l1 7l-3 7l-2 -13zM620 1019l8 -1l6 6l-11 1zM421 1159l4 2l5 9l-5 -4zM525 1073l0 3l0 4l-1 3l0 -6zM558 1135l1 1l-2 4l-1 -3zM574 1076l-7 1l1 -3zM446 1033l-2 -6l2 -4l2 6zM647 1115l3 -12l7 -5l2 3l-2 7zM429 1184l0 9l-5 10l-1 -4l3 -12zM375 1198l4 -11l5 -6l-2 11zM596 1189l-2 6l-3 -1zM544 1009l2 0l5 2l-1 2l-4 -1zM538 1182l14 6l-1 3zM572 1188l7 -3l4 2l-4 1zM612 1026l0 -7l0 -5l1 -1l1 8zM457 1060l9 -4l10 0l-1 5l-13 0zM657 1028l2 5l-2 13l-3 -14zM549 1003l2 4l0 5l-2 -2zM497 1010l-18 -2l-14 -2l13 -1zM529 1107l12 6l3 3l-2 0zM476 1079l2 4l0 10l-4 -2l1 -9zM609 1132l4 4l4 7l-6 -5zM482 1109l-14 12l-8 1l10 -10zM648 1077l1 4l-1 8l-2 -6zM496 1190l0 11l-9 2zM462 1020l7 -10l8 -3l-6 8zM530 1007l10 0l-4 3zM585 1120l-2 3l-16 -10l2 -2l11 4zM578 1146l3 8l-1 8l-3 -3l-3 -7zM537 1074l1 9l-5 -1zM522 1148l-3 1l-14 2l-6 -2l13 -2zM500 1162l8 -7l1 6zM383 1057l3 -2l6 -2l1 1l-4 2zM418 1103l9 -7l5 -1l6 0l-17 9zM383 1194l6 -12l2 6zM403 1084l0 5l-3 5l0 -1l0 -6zM406 1152l4 6l-1 5l-3 -7zM585 1018l-6 -3l2 -3zM421 1189l3 -2l1 2zM420 1036l0 9l-11 8l2 -7zM614 1022l2 -2l10 -3l-7 4zM573 1187l3 -4l6 -7l1 1l-10 12zM471 1047l13 0l7 4l-13 0zM535 1138l5 -6l3 0l3 4l-4 2zM613 1052l-1 -8l4 -8l2 10zM539 1136l7 -8l9 -8l3 2l-11 10zM511 1179l11 8l1 7l-7 0zM536 1087l5 -4l3 1l-5 3zM532 1113l-15 1l-7 -1l9 -3zM467 1118l-1 2l-3 2l1 -4zM534 1186l-3 3l-11 2l10 -5zM635 1145l2 -9l3 2zM395 1006l1 -12l3 0zM506 1148l5 -6l5 -4l2 0l-6 6zM575 1188l-5 1l-3 -1l4 -1zM407 1008l-3 -3l5 -11l1 9zM461 1139l12 -7l9 -2l-14 9zM651 997l2 5l-4 2zM507 1078l-8 8l-7 1l8 -7zM505 1068l-5 -4l0 -3l4 2zM408 1160l-3 -15l5 5zM624 1087l3 -8l14 -13l-10 17zM543 1167l-13 -11l-2 -5l8 6zM591 1173l9 0l9 3l-9 -1zM550 1146l3 0l9 5l-8 -2zM472 1073l7 5l-3 6l-5 -5zM589 1090l-11 -7l-14 -18l14 11zM641 1104l4 2l7 5l-7 -2zM435 1164l4 -1l13 3l0 2l-15 -2zM438 1207l-4 -10l3 -5l2 8zM404 1015l-4 3l-5 2l-2 0l6 -5zM383 1004l3 -1l6 4l-6 -1zM573 1192l-6 9l-9 6l-3 1l10 -11zM525 1107l3 11l-2 1zM542 1174l20 -16l10 -2l-15 11zM378 1054l6 -4l3 0l-5 4zM496 1066l4 -9l6 -3l-4 9zM428 1182l-7 -14l5 -9zM598 1172l1 -8l5 -6l4 1l-3 9zM409 1207l2 -5l7 -12l0 4l-5 10zM479 1178l-1 -3l11 -15l1 2l-8 15zM568 1196l-7 5l-1 -3zM595 1115l-2 -1l0 -6l2 4zM619 1178l-4 5l-4 -1zM471 1179l26 7l-5 2zM425 1049l3 12l-3 8l-2 -8zM587 1178l4 10l3 20l-4 -9zM495 1139l-1 8l-4 8l1 -11zM513 1193l4 -4l4 -2l2 1l-5 3zM455 1188l-4 3l-3 -2zM383 1185l5 3l5 7l-6 -3zM406 1130l5 -4l11 -5l2 1l-8 6zM561 1155l7 -2l9 1l-6 2zM434 1167l2 -11l1 1zM387 1007l3 5l-2 6l-1 1l-2 -5zM629 1077l-6 -8l2 -6l3 0l2 5zM582 1104l12 2l-5 1zM617 1200l6 2l3 7l-7 -5zM543 1103l23 -3l3 3zM612 1031l-1 6l-1 4l-3 2l4 -11zM383 1011l-1 20l-2 -8zM425 1208l-3 -1l-2 -9l6 6zM540 1141l1 -5l9 -11l1 6l-5 7zM609 1009l5 7l-1 4l-5 -6zM521 1103l-2 -7l2 -6l2 -3l0 10zM419 1083l13 8l5 9l-8 -4zM483 1056l-9 -3l1 -3zM433 1101l-2 9l-5 -2zM621 1070l-1 22l-4 -6zM430 1191l-3 8l-5 -1zM402 1202l5 1l5 3l2 3l-11 -4zM462 1053l-2 -2l-3 -7l3 1zM477 1027l2 9l-2 10l-2 -8zM504 1041l15 0l0 4zM636 1158l-2 1l-6 -1l7 -1zM607 1110l0 7l-3 7l-3 2l3 -10zM644 1096l-8 12l-9 7l8 -11zM474 1095l-13 1l-13 -1l3 -3l7 0zM488 1177l4 12l-5 6l-2 -9zM553 1139l4 0l5 5l-2 2l-4 -4zM491 1124l-13 -9l2 -2zM410 1006l-7 2l-3 -5l5 -2zM602 1100l-8 3l-5 -2l3 -3zM396 1056l2 7l-1 5l-3 -6zM496 1165l-9 9l-16 9l16 -14zM465 1088l-2 -1l-2 -5l0 -2l5 7zM378 1115l1 -15l6 -7zM642 1191l-2 -2l-3 -9l4 5zM566 1185l18 5l-3 3zM374 1142l8 2l17 7l-4 3l-16 -8zM520 1169l5 -5l5 -2l3 1l-7 4zM414 1016l-5 -5l-8 -15l4 2l7 10zM432 1047l5 5l-4 17l-4 -9zM383 1097l10 5l2 4l-7 -2zM491 1015l-2 -14l1 -17l4 15zM440 1003l3 9l-10 8l-4 -1l5 -12zM620 1113l0 14l-3 4l-2 -11zM626 1132l5 -2l8 12l-4 3l-8 -6zM594 1114l8 16l-3 2zM448 1054l6 3l4 5l-5 -1zM623 1025l6 -7l4 -1l-3 5zM399 1079l0 -4l3 -4l3 2l-3 4zM545 1028l-5 -5l-4 -6l6 6zM388 1055l12 -2l7 1l5 5l-17 -1zM642 1073l16 1l6 4l-13 0zM486 1109l3 -3l8 -4l-2 2l-2 2zM590 1107l-7 -4l-6 -6l4 2zM490 1120l8 -1l10 7l-11 0zM401 1035l-2 -3l0 -7l3 7zM515 1060l-3 1l-6 -2l3 -1zM611 1192l14 5l-3 1zM489 1126l1 -4l3 -4l1 1l-1 5zM644 1151l6 6l4 7l-5 -4zM546 1127l-1 -3l3 -6l1 2l0 4zM461 1125l9 9l2 7l-6 -7zM482 1115l-6 11l-5 0zM448 1068l-7 3l-16 -2l12 -3zM582 1006l6 2l8 7l-9 -3zM458 1071l2 -9l7 -10l-4 12zM484 1152l-2 13l-5 1zM596 1166l5 -9l6 -1l-5 7zM632 1008l11 -17l2 7zM621 1149l-1 -6l2 -8l0 6zM570 1021l-3 -8l-2 -12l4 9zM423 1056l-13 -6l-2 -2l3 -1zM575 1043l8 19l1 12l-7 -15zM574 1025l-8 8l-6 -1l7 -7zM544 1191l2 -3l2 2zM430 1127l7 -4l9 -1l-8 4zM481 1134l-5 -3l-2 -2l3 0zM450 1118l5 2l0 9l-4 2l-2 -6zM431 1010l7 -3l7 -1l0 4l-10 1zM466 1097l-6 4l-14 2l11 -5z" fill="#6c40ae" fill-opacity="0.85"/>
<path d="M552 1122l4 1l2 5l-2 4l-4 -5zM426 1036l-5 3l-6 1l-2 0l10 -5zM411 1032l-11 1l-9 -1l13 -4zM557 1190l3 5l-2 9l-2 -5zM481 1087l-1 -4l3 -11l2 8zM495 1020l-4 1l-8 -2l4 -1zM397 1056l6 -10l6 -4l-4 10zM499 1151l-2 5l-2 4l-3 -2l3 -6zM565 1116l6 0l1 3zM531 1180l12 -8l8 1l-8 5zM594 1159l-1 -5l1 -2zM531 1195l3 -7l6 -6l0 4zM436 1168l-6 7l-6 3zM530 1123l-11 8l-7 4l-2 -1l9 -7zM536 1030l-4 1l-6 -1l3 -1zM642 1015l10 -4l12 0l0 3l-16 2zM478 1034l-4 3l-9 1l4 -5zM505 1023l10 10l-5 4zM595 1042l-6 -1l2 -3zM477 1107l-9 -1l-9 -5l8 1zM580 1120l3 -2l9 8l1 4l-10 -5zM448 1130l5 -4l9 1l-8 5zM397 1164l-7 -10l2 -2zM520 1142l-1 -4l2 -7l2 0l-1 8zM384 1082l-3 10l-5 5l2 -6zM445 1176l-5 -9l-6 -10l3 0l7 5zM416 1065l1 5l0 4l-2 -5zM641 1110l0 -3l7 -8l0 4l-5 8zM610 1183l-7 -4l-3 -3l7 3zM553 1065l4 4l-2 14l-4 -8zM511 1022l1 4l-2 8l-2 -3l2 -7zM628 1042l-10 5l-7 -5l6 -1zM413 1026l-1 -9l2 -1zM456 1107l5 -2l8 0l-5 2zM378 1012l19 -5l0 2zM556 1168l5 -7l2 1zM495 1067l9 -7l5 -1l-5 6zM491 1009l11 10l8 11l-11 -10zM389 1047l-3 -5l6 -15l1 8l1 4zM591 1038l-1 2l-3 0l-1 -2l4 0zM408 1016l-2 13l-4 10l-1 0l3 -17zM577 1145l3 -5l4 -2l3 2l-7 5zM471 1190l-9 -11l2 -6l5 6zM644 1155l6 -2l5 0l-7 3zM533 1166l-3 5l-2 -2zM429 1129l-9 4l-6 -1l4 -5zM538 1054l-5 -14l1 -8l3 7zM497 1126l-5 -6l-8 -17l10 11zM493 1104l4 4l-4 2zM421 1154l-10 6l-16 -1l13 -5zM553 1208l13 -6l0 4zM451 1023l-2 -6l3 -5l2 9zM496 1061l-2 -11l3 -1zM567 1108l-1 -13l4 0zM554 1160l-3 -9l4 1zM560 1189l1 -2l5 -2l3 1l-5 3zM597 1129l-7 0l2 -4zM416 1040l-3 -8l-2 -11l3 4zM577 1023l-5 4l1 -3zM440 1147l5 -3l10 -1l-1 5l-6 1zM397 1021l-16 -2l-1 -3l10 -1zM533 1112l10 1l7 5l-15 -4zM537 1117l-4 6l-8 6l4 -6zM395 998l-14 12l-7 1zM464 1132l1 4l-1 2l-2 -3zM549 1022l15 4l0 3zM650 1175l-10 3l-4 -2l5 -3zM378 1135l7 -2l3 2l-6 2zM390 1031l17 1l-2 2zM587 1127l1 13l-4 17l1 -14zM437 1126l-5 1l-7 -1l7 -1zM540 1136l1 8l-2 1zM408 1032l5 -11l5 1l1 5zM461 1059l10 -2l0 1zM457 1041l2 -7l6 -4l2 2l-5 8zM397 1170l8 -1l7 2l-5 3zM549 1127l-5 2l-3 -1l4 -3zM468 1197l1 -1l5 5l-4 -2zM456 1041l-5 8l-5 4l5 -9zM495 1077l3 1l11 9l-5 -1l-3 -2zM403 1141l-4 -4l1 -9l3 4zM504 1154l-4 -1l-2 -2l2 0zM513 1149l9 18l-4 3zM523 1016l-6 5l-10 5l3 -3l11 -8zM606 1080l8 5l-4 2zM504 1110l23 3l-8 3zM413 1011l7 -6l4 0l-2 3zM380 1059l17 0l-5 2zM524 1209l-4 -5l-2 -13l4 3l2 7zM424 1158l-3 1l-2 -4l4 0zM568 1180l-1 10l-5 18l-2 -2l5 -21zM497 1157l-4 -1l-6 -4l0 -4l5 3zM504 1080l-2 5l-3 -1l1 -4zM584 1068l-9 12l-10 7l8 -11zM630 1108l10 11l4 8l-7 -6zM450 1036l-4 6l-8 4l2 -4zM551 1168l-2 11l-4 7l2 -10zM445 1161l0 -9l3 -7l0 7zM513 1070l-10 7l-2 -4zM538 1176l0 8l-2 11l-2 -1l1 -10zM457 1167l-6 -3l-6 -13l5 3l6 8zM570 1041l7 -6l8 -6l-3 5l-7 6zM422 1195l4 -7l9 -8l-4 6zM481 1184l-4 -5l5 -8l1 11zM441 1155l-14 0l2 -4zM650 1028l-11 -3l-11 -8l12 4zM451 1008l-6 -2l0 -2zM616 1031l8 -1l3 5l1 6l-10 -5zM633 1181l4 5l-2 0zM445 1176l11 10l-3 3zM578 1149l0 -2l14 -10l2 3l-9 8zM447 1173l9 0l8 2l-10 2zM524 1196l-25 -1l7 -2zM464 1191l1 -5l8 -7l-3 7zM545 1104l8 -11l14 -8l-12 16zM594 1044l10 4l3 3l-1 4l-9 -6zM519 1026l-10 -1l-9 -4l7 0zM396 1192l-3 -1l0 -10l4 7zM503 1178l-4 1l-3 -4l3 -1zM470 1196l-6 -2l-7 -12l4 -1l9 12zM475 1002l2 9l-6 15l0 -17zM637 1017l2 5l-3 11l-1 -8zM525 1171l-6 -3l-6 -7l11 5zM398 1046l1 7l-1 5l-2 -5zM623 1179l2 14l-2 -3zM564 1141l9 -7l7 0l-9 5zM546 1081l-7 7l-8 -1l3 -4zM636 1186l3 -2l6 1l2 1l-8 0zM442 1157l8 0l8 3l-8 -1zM499 1107l-4 2l-5 -6l4 0zM517 1046l8 -14l5 0l-3 6zM413 1019l-5 -17l6 1zM390 1177l7 -7l3 3zM639 1205l-4 0l-5 -6l2 -1l7 6zM391 1044l0 -3l4 -2l-1 4zM529 1007l-3 -6l0 -5l2 4zM444 1100l11 -16l0 5zM400 1016l9 0l10 6l-7 2zM497 1076l-7 6l-4 1l1 -6l4 -3zM446 1056l3 2l-5 10l-3 -2l2 -6zM512 1044l-6 -7l-6 -10l6 4zM603 1181l3 -1l6 4l-1 3l-7 -5zM569 1194l-5 1l-9 -4l10 1zM556 1106l-10 8l-1 -1zM414 1041l3 3l-1 2l-3 -2zM409 1059l6 3l11 9l-16 -6zM471 1205l-10 -3l-5 -5l4 1zM570 1089l5 -11l6 -4l-4 8zM505 1130l-2 10l-6 13l0 -9l4 -10zM441 1173l7 16l-3 -2zM593 1070l-3 16l-5 -3zM443 1127l6 1l9 4l3 4l-9 -1zM569 1132l3 10l0 7l-1 -1l-2 -6zM391 1036l8 6l7 10l-2 1l-11 -11zM660 1128l-5 8l-13 7l1 -3l9 -9zM436 1164l-4 18l-5 -6zM577 1011l-2 22l-4 -3zM420 1137l9 6l-1 4zM396 1009l15 -5l-4 7zM539 1138l1 7l-3 11l-5 -6l2 -7zM603 1175l2 -3l2 2l-2 2zM559 1092l10 -4l5 1zM619 1208l-6 -9l1 -2zM433 1109l10 2l8 3l-2 2l-8 -2zM609 1073l-6 -5l-4 -9l7 4zM493 1015l-8 8l-10 7l-4 -3l10 -6zM637 1099l-2 -11l6 -10l2 13zM605 1199l1 8l-5 0zM573 1002l-5 1l-5 -3l5 0zM536 1144l0 3l-2 6l0 -6zM515 1110l3 -5l9 2l-7 4zM546 1088l0 2l-10 4l0 -2l9 -4zM552 1179l2 5l1 8l-4 -3zM469 1191l2 1l-1 10l-1 2l-1 -12zM403 1100l8 -6l8 -5l1 6l-11 6zM648 1119l-8 1l-16 -6l17 0zM630 1067l8 -9l9 -5l-7 7zM379 1059l7 -4l3 0l-3 2zM384 1095l-9 -10l7 -1zM394 1012l7 2l-2 2zM396 1026l2 3l-3 13l-2 -14zM426 1020l-5 10l-10 7l-2 0l8 -9zM387 1160l6 0l1 1zM594 1062l-9 -1l-17 -5l16 1zM481 1107l4 15l0 8l-1 7l-2 -17zM601 1184l8 11l-4 6l-4 -5zM464 1113l-9 -3l-6 -9l10 5zM423 1013l-7 5l1 -4zM463 1198l-3 -4l-1 -4l1 1l2 4zM403 1129l-4 0l-12 -3l4 -1l5 -1zM457 1193l-6 5l-8 -2l9 -5zM485 1119l6 13l0 9l-4 -7zM447 1102l-12 -6l-4 -7l5 2zM645 1179l2 10l-1 7l-3 -6zM610 1191l15 5l-3 2zM536 1163l5 -4l2 2l-2 2zM419 1117l-9 2l-11 -5l10 -3zM387 1205l-3 -1l-1 -4l5 2zM433 1185l-9 0l-9 -1l12 -1z" fill="#6238a6" fill-opacity="0.85"/>
<path d="M490 1012l-7 -1l-2 -4l4 1zM446 1091l2 -1l8 -2l0 2l-4 1zM631 1017l-4 6l-10 5l-1 -2l6 -5zM498 1100l13 0l1 4zM576 1144l-4 -8l4 0zM451 1180l-5 5l-4 0l4 -4zM574 1126l-4 2l-7 0l-2 -6l10 -1zM378 1074l3 5l2 12l0 4l-5 -14zM450 1174l-4 5l-4 2l-3 0l8 -5zM392 1210l-12 -3l-11 -9l13 5zM385 1166l-1 -6l6 -6l-2 7zM397 1048l-7 5l-9 2l6 -5zM522 1092l1 1l3 9l-1 1l-2 -7zM594 1039l-14 11l-8 -1l8 -7zM523 1153l-8 4l-10 2l11 -6zM495 1111l5 -2l14 6l-11 0zM392 1142l12 1l12 8l-10 -1zM661 1141l-8 -4l-2 -6l5 3zM574 1076l8 6l6 6l-8 -4zM492 1193l-2 1l-14 -1l2 -3l13 1zM534 1059l-3 1l-6 -1l5 -1zM474 1056l-18 0l-3 -6zM503 1079l-5 18l-7 9l4 -14zM487 1093l-2 -1l-5 -22l3 3l4 10zM479 1147l1 -9l11 -13l-5 11zM523 1176l-7 4l-1 -4zM399 1109l7 -3l15 -1l-10 4zM573 1011l-4 7l-7 2l-4 -3l10 -5zM406 1084l-1 5l-4 6l1 -5zM444 1187l5 5l2 6l-5 -6zM543 1150l-5 -6l-4 -7l0 -2l5 7zM476 1206l8 -14l4 -4l-4 9zM514 1094l-9 -6l-1 -6l9 7zM600 1028l-7 5l-10 3l8 -8zM549 1116l-10 -3l-8 -9l13 7zM513 1089l-5 4l-4 1l0 -3l2 -1zM443 1032l2 6l-1 1l-2 -3zM537 996l7 3l-2 5zM412 1164l-2 6l-4 7l2 -9zM485 1117l11 12l-5 -1zM395 1006l-12 -3l0 -3zM552 1009l5 2l5 5l-3 0l-4 -4zM626 1040l-4 4l-6 5l2 -2l1 -3zM514 1145l4 -5l8 -5l-5 5zM415 1126l-1 -1l6 -11l4 -2l-4 10zM527 1085l-8 -7l4 -2zM457 1000l-7 -1l0 -2zM587 1154l8 2l8 7l-1 2l-9 -5zM407 1112l-12 -13l5 1zM398 991l-3 13l-4 -5zM524 1054l8 -10l-1 3zM539 1106l-12 -13l4 -1zM633 1019l9 -6l0 5zM651 1142l-11 12l-6 -1l3 -5zM433 1086l12 -16l-1 5zM434 1135l6 4l6 10l-6 -5zM657 1007l-4 -2l-6 -8l2 0l7 6zM402 1081l2 -2l9 -1l-2 2l-4 2zM492 1061l-8 7l-9 5l7 -8zM573 1174l-13 5l-1 -3zM533 1091l8 7l-3 1zM461 1143l-12 9l-5 1l5 -5zM504 1050l2 -12l4 -7l-1 9zM617 1165l-2 -5l-1 -5l3 5zM479 1143l-11 1l-8 -7l12 -2zM623 1114l3 7l-2 0zM613 1059l16 9l8 7l-13 -6zM407 1189l1 5l-4 8l-4 0l2 -14zM590 1081l-3 2l-13 -1l-2 -3l9 0zM493 1116l-3 5l-2 -2zM623 1145l-2 0l-8 -1l1 -1l7 0zM432 1192l-3 7l-6 6l2 -8zM428 1028l-11 -4l1 -2zM566 1190l16 -2l13 3l-17 0zM414 1080l19 2l11 4l-14 0zM626 1073l2 5l-4 9l-1 -10zM602 1010l4 -5l14 -2l-1 6l-9 3zM489 1196l5 3l1 3l-5 -3zM561 1041l2 -4l5 -2l1 3zM510 1105l3 3l3 7l-4 -3zM486 1082l12 -3l10 1l0 2l-14 1zM455 1027l1 6l-1 7l-2 -8zM536 1146l-6 8l-1 -7zM472 1110l-6 -7l1 -3zM397 1197l-3 -5l-1 -5l1 -2l2 5zM522 1050l0 7l-4 11l-2 -2l1 -8zM486 1162l3 4l-1 3l-2 2l-1 -7zM650 1127l8 3l-3 4zM589 1166l3 5l-1 6l-2 -5zM386 1145l7 1l6 5zM405 1006l-4 -5l-1 -12l4 10zM570 1106l4 -4l9 0l-7 8zM567 1087l-5 -12l6 -2zM413 1143l-9 3l-9 3l11 -7zM563 1155l-6 -4l-8 -12l10 8zM555 1045l13 -1l9 3l-15 1zM397 1107l6 2l-1 5l-4 -3zM447 1189l3 1l2 5l-3 -1zM654 1025l-7 1l-7 -3l7 -2zM616 1197l-2 6l-11 2l3 -7zM429 1028l10 -23l4 -4l0 7zM514 1128l4 -1l8 -2l1 2l-8 2zM606 1118l-10 1l-7 -6l8 -1zM568 1062l-3 10l-8 12l4 -12zM456 1130l-7 2l-9 -4l4 -3l6 1zM537 1187l-6 3l-6 0l8 -3zM531 1194l-2 3l-16 -5l2 -3l13 3zM425 1037l7 6l2 11l-6 -6zM507 1184l2 -1l3 16l-5 0l-1 -9zM630 1115l1 -4l1 -5l2 -1l-1 5zM559 1180l4 0l5 4l-1 2l-6 -2zM486 1093l4 -3l8 2l-6 3zM504 1096l-14 -6l-1 -4zM525 1095l9 0l1 5zM525 1071l0 -6l8 -4l0 7zM630 1158l-7 -5l-4 -4l3 -3l7 4zM576 1114l6 0l7 8l-7 1zM462 1037l-6 -8l3 -3zM466 1171l-3 -3l-3 -6l3 3zM625 1169l-2 6l-7 15l-1 -4l5 -10zM420 1028l-4 -10l0 -12l2 1l3 13zM448 1006l4 8l-6 8l-2 -8zM607 1059l-12 4l3 -3zM393 1109l5 -4l4 1zM378 1160l8 -2l0 3zM433 1190l-1 10l-3 7l-2 2l1 -9zM502 1064l9 2l4 4l-7 0zM619 1188l3 -7l6 -3l-4 7zM514 1091l3 5l3 11l-4 -8zM504 1013l0 6l-4 0zM430 1022l-12 5l2 -2zM568 1011l2 -3l3 -2l-1 4zM514 1083l-5 -2l-4 -3l3 1zM472 1099l-6 -15l3 -4zM513 1099l8 9l5 13l-1 3l-8 -14zM643 1095l-2 -5l2 -6l6 -4l0 9zM397 1072l2 0l5 3l-1 0l-3 -1zM572 1004l4 -1l5 3l-2 1l-7 -1zM540 1055l-8 7l-8 5l2 -5l5 -4zM461 1038l-16 7l4 -6zM581 1017l15 11l-2 2zM516 1180l9 2l4 1l-5 1zM565 1033l2 -10l4 -3l1 5zM592 1078l4 6l2 9l-5 -5zM569 1111l5 0l7 6l-5 0zM493 1093l0 -3l7 -4l-2 8zM569 1003l1 10l-2 12l-1 -9zM476 1045l-9 -9l2 -6zM606 1118l3 6l2 5l-5 -8zM578 997l6 -1l4 7l-7 -1zM579 1178l5 0l8 9l-6 -1zM484 1035l4 -1l3 1l-6 1zM648 1031l3 0l12 10l-10 -5zM444 1018l-5 3l-10 0l7 -4zM532 1088l9 2l7 8l-8 1zM387 1062l6 -7l7 -1l-4 4zM570 1200l0 4l-5 2l3 -4zM553 1060l-8 3l-8 2l3 -4l8 -2zM525 1111l-7 0l-3 -2l4 -4zM527 1077l-4 6l-10 -4l9 -6zM458 1008l8 0l-2 2zM574 1172l-3 1l-4 -5l4 0zM411 1077l-4 -18l4 -2zM523 1159l-8 -6l-3 -11l8 9zM469 1051l3 -18l5 2zM377 1091l6 -2l0 2zM559 1093l5 -3l8 2l6 1l-14 3zM659 1139l-8 6l0 -3zM527 1145l-5 1l-1 -2zM618 1045l0 -18l3 -12l1 15zM437 1047l-6 2l-10 -1l0 0l11 -3zM632 1097l-5 9l-5 -4zM520 1130l4 7l0 2zM393 1139l-5 9l-3 -2l3 -5zM588 1039l-9 -9l2 -2zM625 1096l-6 0l-10 -2l4 -2l7 1zM561 998l0 6l-7 8l1 -7zM611 1137l5 -4l8 -3l1 2l-6 4zM571 1093l1 -3l3 -3l-1 5zM499 1153l1 5l-1 5l-4 0l1 -8zM587 1003l-4 5l-11 -1l-1 -6l8 -1zM570 1153l4 -10l8 -5l-1 7zM612 1049l3 1l1 5l-4 -3zM590 1112l2 14l-1 0zM475 1156l-4 -6l-2 -11l2 -1l4 8zM477 1008l-2 -1l-2 -7l1 0l3 5zM516 1070l-4 8l-5 4l0 -4zM423 1044l3 2l0 11l-4 -1l-1 -10zM453 1199l6 -8l11 -6l-12 12zM480 1020l8 -5l2 0zM586 1175l-6 11l-6 9l6 -15zM490 1033l-14 7l-3 -1zM424 1022l22 -2l1 2zM595 1119l-8 9l1 -5zM397 1072l6 2l4 4l1 3l-6 -5zM529 1029l14 4l8 7l-13 -4zM470 1015l-4 4l-10 4l-3 -3l13 -7zM602 1034l2 -8l2 2zM391 1013l-1 3l-14 14l1 -4l12 -14zM475 1045l5 8l-1 5l-4 -5zM495 1167l10 6l4 6l-12 -8zM626 1081l1 -4l4 -5l-2 6zM444 1115l-10 11l-7 2l6 -8zM657 1125l-3 -1l-2 -4l2 1zM445 1050l5 6l-3 2zM389 999l-3 5l-7 5l2 -3l3 -3zM578 1064l4 2l0 4l-4 -2zM492 1011l-10 -3l2 -3zM452 1193l-8 -12l6 1zM587 1136l14 -3l10 1l1 2l-17 1zM654 1016l-11 -5l-10 -10l0 -3l13 9zM606 1120l4 -2l3 2zM504 1058l1 3l-4 8l-2 -5zM451 1170l2 -4l2 -2l0 4zM626 1189l0 -4l5 -9l0 4l-3 7z" fill="#6c40ae"/>
<path d="M416 999l5 7l0 6l-2 -5zM559 1022l-6 -13l2 -10l5 15zM649 1037l-3 -5l-1 -5l2 3zM480 1172l-5 3l-10 1l-4 -1l13 -3zM658 1086l-3 7l-7 7l3 -8zM646 1026l-5 4l-9 4l11 -8zM551 1195l5 -11l5 -2l0 8zM418 1089l-2 -7l5 -8l0 9zM473 1110l9 3l-4 6zM451 1181l1 5l-1 5l-1 -3zM399 1134l-4 3l-4 0l4 -2zM490 1183l1 -10l4 -7l0 12zM619 1067l-6 8l-12 8l7 -9zM559 1063l-2 -3l6 -1l-1 2zM437 1163l12 9l-3 1zM648 1097l-8 3l-3 -1l4 -1zM489 1115l7 4l4 5l-6 -3zM475 1132l10 5l1 8l-8 -5zM631 1085l1 5l-1 6l-2 -4zM462 1030l-6 -8l-4 -4l3 -4l4 8zM418 1062l-10 -8l-7 -13l10 10zM545 1151l7 2l-2 1zM514 1016l16 1l10 4l-3 1l-14 -1zM403 1021l-8 -9l1 -3l5 3zM502 1149l-8 12l-2 -3zM515 1121l-4 -6l-2 -5l2 -7l5 12zM446 1153l7 2l1 2l-2 0zM484 1052l10 4l5 4l-9 -2zM400 1079l3 10l-2 2zM466 1058l12 -5l15 2l-11 5zM479 1100l-10 -2l-12 -9l5 -2l11 8zM530 1080l-4 -1l-1 -2l4 1zM537 1151l11 -1l8 1l1 2l-11 1zM456 1081l11 2l1 3zM613 1173l3 3l0 5l-2 -3zM456 1057l11 6l5 7l-12 -7zM504 1090l1 -6l8 -10l-3 11zM374 1030l19 1l8 4l-19 -1zM449 1119l16 13l-5 2zM506 1144l1 -5l11 -2l-5 6zM435 1126l0 -15l5 -1zM645 1162l-6 -6l-1 -12l5 10zM640 1014l-4 -6l1 -8l5 7zM398 1100l-7 -10l-2 -9l6 2zM636 1017l5 3l3 3l-4 -2zM444 1115l-2 -4l1 -4l1 -1l3 9zM552 1027l5 -1l7 4l-7 0zM621 1075l-3 6l-9 5l4 -8zM474 1043l9 6l9 9l-1 3l-10 -9zM515 1080l8 -3l6 -1l-5 4zM493 1035l7 3l5 4l-11 -1zM468 1165l8 8l2 5l-9 -8zM598 1051l-2 12l-4 7l0 -7zM437 1017l-4 4l-9 4l5 -7zM418 1072l12 1l-2 2zM573 1073l-8 -17l-3 -11l5 4zM648 1193l9 -8l6 -1l-8 9zM580 1093l0 -7l6 -10l4 0l-5 10zM446 1120l15 3l6 2l-5 5l-8 -3zM640 1104l-7 -13l5 -3zM519 1096l-3 7l-5 4l-1 -2l5 -8zM454 1122l-2 9l-3 -4zM618 1036l-13 -6l-4 -6l5 2zM641 1175l-1 12l-6 1l2 -8zM569 1048l-11 -1l1 -5zM587 1123l5 14l3 22l-7 -16zM584 1129l-3 0l-8 -7l4 -1l8 5zM537 1168l-6 1l0 -2l1 -1zM478 1005l6 -4l7 3l-5 4zM480 1119l3 -1l8 2l-9 1zM497 1191l-1 4l-10 11l-3 0l9 -13zM405 1078l0 -13l4 0zM489 1075l9 -18l1 8zM486 998l1 4l-2 9l-1 1l0 -12zM621 1018l-4 -6l3 -20l3 13zM502 1175l3 -7l12 -15l-5 11zM561 1055l-1 10l-5 7l2 -5zM499 1116l-3 8l-5 5l3 -10zM400 1080l5 6l-3 2zM410 1028l12 -1l-3 2zM611 1194l-5 1l-6 -1l-3 -1l10 0zM446 1190l-1 6l-3 6l-1 -1l1 -5zM430 1031l7 0l3 5l-9 -1zM607 1021l-9 5l-2 -4l7 -5zM525 1111l10 -1l11 2l-8 2zM563 1165l12 -6l10 -1l-12 6zM594 1180l4 -1l5 2l-5 1zM585 1199l-8 4l-9 1l-3 -1l10 -5zM537 1138l-2 19l-2 -5zM662 1099l-8 12l0 -4zM449 1053l-1 4l-3 6l-1 -2l2 -6zM584 1064l4 2l2 5l-5 -3zM547 1056l8 2l5 7l-7 -2zM517 1033l1 5l-2 6l-1 -4zM495 1193l13 -6l9 2l-8 4zM452 1013l6 -7l0 2zM579 1132l-5 -7l2 -2zM516 1099l-13 0l-13 0l4 -3l11 -3zM375 1056l7 2l6 8l-7 -3zM611 1170l13 -8l20 -6l-13 7zM553 1038l-3 -11l3 -11l3 12zM531 1107l5 5l2 7l-5 -7zM460 1146l-8 -3l-2 -8l4 -2l7 9zM516 1098l4 0l8 4l-1 0l-9 -2zM381 1117l9 4l6 4l1 4l-11 -5zM435 1011l-3 9l-6 2l-1 -3l6 -6zM560 1005l5 -1l10 7l-5 0zM502 1129l-5 1l-2 -2l6 0zM611 1152l5 -3l11 0l-8 6zM444 1072l4 -3l3 0l-4 4zM397 1065l0 3l-5 3l-2 -2l2 -3zM480 1111l1 -2l5 0l-3 2zM438 1075l-6 0l-6 -3l7 0zM434 1186l-13 -6l6 -5zM574 1047l1 2l1 4l-3 -3zM550 1004l10 10l-5 0zM403 1059l-2 4l-2 3l-3 -1l4 -4zM567 1088l3 7l-8 5l-3 -6zM425 1153l1 -7l6 -4l1 6zM531 1118l-5 6l-13 5l11 -8zM480 1043l-12 0l-12 -3l11 0zM454 1122l1 -3l3 -6l-1 5zM420 1159l7 4l5 6l-8 -3zM584 1087l6 -7l6 -2l-6 7zM635 1116l-2 -2l-4 -6l3 0l2 5zM461 1052l-3 -2l1 -11l3 6zM521 1196l-1 -3l4 -4l0 3zM610 1034l10 6l1 9l-9 -10zM630 1111l4 8l3 10l-2 0l-3 -8zM598 1103l3 2l0 6l-2 -3zM631 1006l8 8l9 16l-12 -13zM609 1171l-1 9l-3 7l0 -7zM408 1045l-7 3l-6 -2l8 -4zM648 1161l1 10l-2 12l-1 -2l0 -11zM493 1153l-4 1l-3 -5l3 1zM420 1046l6 5l2 7l-5 -5zM417 1078l-11 10l-12 5l13 -11zM538 1034l2 -4l3 -3l-2 6zM384 1035l9 2l-1 5zM530 1110l0 9l-7 8l2 -15zM586 1102l-10 1l-3 -4zM591 1022l-1 18l-4 2zM646 1185l2 6l-5 -1zM394 1136l-13 2l-3 -4l10 -1zM559 1153l19 -18l-3 7zM413 998l-10 4l-8 0l8 -3zM640 1122l-3 5l-3 1l1 -4zM535 1154l-4 6l-11 7l5 -7zM574 1015l7 0l-1 2zM538 1133l4 -6l4 -3l4 -1l-8 8zM555 1195l7 -4l18 -2l-11 6zM666 1041l-20 -5l-1 -5zM431 1188l4 4l6 8l-3 -1l-4 -4zM591 1082l4 -1l3 3l-5 -1zM394 1051l-2 7l-12 9l8 -13zM643 1015l4 1l3 2l-1 2l-5 -3zM457 1178l3 0l-1 6l-1 -1l-2 -3zM581 1023l-2 -7l8 -5l0 7zM650 1131l-12 0l-4 -3l6 -2zM482 1197l-2 -5l4 -7l4 1l1 4zM584 1106l15 4l8 7l-9 -3zM384 1018l7 4l5 5l-5 -2zM519 1097l1 -11l4 -10l0 12zM592 1064l-11 -9l1 -3zM399 1031l1 13l-5 -3zM480 1109l9 -3l1 4zM620 1017l-6 5l-7 -2l3 -3l3 -2zM584 1066l2 -2l5 -1l-3 4zM629 1180l-1 -6l1 -11l2 0l0 16zM399 1010l-3 7l-6 2l3 -9zM403 1173l6 -11l4 2zM541 1184l1 -6l4 -7l0 7zM416 1099l-2 -3l1 -7l4 6zM389 1142l-8 2l-3 -5l3 -3zM474 1125l-9 2l-2 -2zM495 1184l-2 3l-6 0l3 -3zM500 1047l3 1l6 2l2 3l-8 -4zM522 1069l6 3l-3 2zM563 1043l-8 -7l-1 -8l5 3zM414 1018l13 2l7 5l-7 0zM444 1032l1 6l-8 3l2 -6zM482 1129l-6 1l-7 -3l6 0zM583 1200l3 -8l5 -9l-4 14zM398 1000l4 -2l15 1l-1 2l-17 1zM539 1118l9 6l3 7l-8 -4zM417 1018l1 -2l12 -2l3 3l-10 3zM517 1046l-4 6l-11 6l6 -8zM500 1107l-13 6l3 -6zM386 1106l1 7l-4 16l-1 -15zM588 1076l-11 -7l-10 -12l13 11zM505 1088l3 -13l2 3zM397 1020l-1 4l-3 3l-1 -2l3 -4zM444 1181l3 1l6 3l-2 1l-4 -2zM489 1033l-6 -1l-3 -8l7 4zM502 1095l-2 -9l2 -13l2 13zM483 1058l16 -8l0 3zM510 1069l-3 -7l-1 -7l4 10zM473 1127l-12 -9l-2 -6l7 1zM487 1082l-4 3l-14 -1l6 -3zM579 1102l1 -10l2 -11l1 5zM447 1004l7 6l1 10l-6 -4zM546 1149l5 2l11 11l-5 -2l-3 -3zM650 1116l10 20l2 15l-8 -15zM601 1157l0 -4l3 -7l-1 7zM604 1051l9 -1l12 4l-13 2zM558 1040l2 3l3 5l-1 2l-3 -5zM554 1114l4 -13l6 -5l-3 10zM388 1170l0 8l-8 9l1 -5zM381 1026l3 1l4 3l-1 1l-4 -2zM588 1174l-6 4l-7 0l4 -3zM557 997l7 4l0 2zM654 1142l-4 -2l-1 -5l6 4z" fill="#7649b4"/>
<path d="M516 1134l9 3l-3 2zM447 1198l8 -18l3 -1zM416 1122l1 8l-4 13l-2 -10zM387 1010l2 3l-4 7l-2 -6zM404 1162l8 -15l8 -10l-8 16zM463 1021l-8 -9l-4 -12l8 11zM637 1065l7 -2l4 2l-6 4zM446 1114l-16 0l-15 -4l17 0zM429 1156l-15 1l-7 -2l-5 -2l23 -1zM653 1133l1 1l-2 13l-2 -1l1 -5zM483 1154l-18 5l1 -4zM444 1182l8 10l4 10l-9 -9zM410 1010l-12 10l-4 -1zM598 1104l8 0l2 2l-6 0zM480 993l9 3l11 7l1 2l-13 -6zM403 1057l8 2l9 6l-2 1l-13 -7zM597 1109l2 5l-5 10l-2 -8zM515 1086l-11 -10l6 0zM647 1193l10 21l-5 -1zM577 1097l3 6l-4 2zM513 1090l3 7l-3 3zM539 1195l6 -4l7 2l-5 2zM602 1121l6 -2l7 -1l3 1l-7 2zM645 1093l10 3l0 6zM486 1038l6 -10l5 -3zM525 1205l-6 -1l2 -4zM611 1017l-5 -24l3 -1zM386 1015l4 2l1 3l-4 -2zM634 1026l-1 -2l4 -5l1 1l-2 5zM546 1099l-1 7l-7 9l3 -10zM419 1073l8 12l-2 0zM547 1151l-9 6l-9 1l8 -8zM386 1003l3 4l-2 0zM503 1074l-7 -8l-3 -6l5 6zM575 1164l-4 -7l0 -7l2 6zM597 1022l-6 8l-12 2l6 -6zM583 1139l-7 -2l0 -5l5 3zM461 1187l10 11l8 15l-9 -10zM517 1083l3 2l1 6l-4 -6zM637 1165l2 -5l4 -3l-3 5zM563 1145l0 6l-6 11l1 -8zM526 1102l11 1l8 7l-8 -1zM395 1189l5 1l2 2l-1 1l-4 -1zM598 994l-1 5l-3 8l-1 -1l1 -6zM499 1041l5 3l1 3l-3 -1zM585 1183l-1 -9l3 -5l3 5zM473 1163l-10 -18l3 2zM388 1042l8 0l18 6l-19 -2zM544 1196l6 -6l6 4l-2 6zM421 1091l-9 6l-8 -1zM593 1005l-1 5l-6 6l2 -9zM570 1126l13 9l2 6l-6 -2zM648 1096l-2 -14l3 -10l3 12zM388 1038l-5 3l-7 -6l2 -3l8 2zM640 1007l-2 -7l7 -9l-1 12zM517 1177l-6 -4l-2 -6l6 2zM485 1188l-2 8l-7 17l-1 -5l6 -15zM525 1176l-3 -3l0 -6l2 6zM582 1046l4 14l-3 6l-3 -8zM410 1109l-1 4l-10 2l4 -6zM475 1161l1 -7l5 -7l-3 10zM391 1105l-4 6l-2 -2zM489 1181l7 8l2 6l-5 -3zM429 1109l-3 8l-13 2l7 -6zM607 1017l17 -8l-4 5zM628 1190l-8 2l-16 -3l11 -1zM485 1089l5 -2l5 -1l1 2l-5 1zM562 1101l1 6l-5 9l-2 -8zM458 1112l-8 -1l-8 -2l6 0zM388 1191l3 -9l3 -5l0 6zM494 1164l3 -5l7 -2l0 3l-6 4zM522 1162l-13 7l-6 -2l5 -4zM460 1083l-7 -11l-1 -5l2 -4l6 11zM539 1188l8 4l10 14l-3 3l-7 -9zM576 1162l-3 -6l-1 -12l5 9zM482 1087l5 4l3 11l-1 3l-5 -10zM547 1098l7 2l14 5l-2 4l-12 -6zM540 1117l-9 6l-9 0l7 -4zM440 1010l-4 3l-7 1l5 -3zM489 1144l-3 5l-5 7l3 -5zM641 1004l7 4l6 5l-8 -4zM461 1011l1 5l-4 0zM476 1025l13 4l10 9l-12 -4zM507 1194l3 -5l13 -2l-8 6zM650 1139l5 2l1 4l-3 0zM444 1081l7 -6l-1 4zM581 1027l0 -4l6 -2l-3 5zM609 1119l-2 -9l2 0zM424 1080l-13 4l-7 -2l-3 -3l14 -1zM553 1049l-12 1l-15 -1l6 -2l18 -1zM549 1125l-2 -6l2 -8l1 4l1 8zM630 1011l4 -13l2 4zM396 1166l9 -10l-1 10zM611 1147l-3 10l-2 -1zM467 998l4 0l1 14l-5 -9zM453 1070l-3 9l-6 -5zM553 1148l-10 -3l6 -2zM445 1055l0 9l-7 8l2 -12zM450 1057l4 -12l6 -6l-5 12zM527 1045l0 7l-5 14l-3 -5l3 -11zM585 1084l-1 10l-2 1zM411 1028l6 -1l2 3l-1 2zM583 1186l11 -6l13 -5l-4 4l-9 3zM439 1151l2 5l-6 7l-1 -7zM419 1203l-3 -4l3 -2zM462 1081l1 7l-7 4l-1 -6zM600 994l-3 11l-5 5l-3 -2l3 -5zM581 1013l4 6l-1 2l-2 -4zM563 1127l3 -2l9 -1l-4 2zM499 1138l-7 -1l-6 -4l1 -1l6 2zM566 1081l11 -3l4 1l-5 2zM544 1025l2 5l-11 12l0 -8zM561 1087l-1 7l-3 5l-3 1l3 -6zM403 1056l-6 4l-16 2l6 -5l12 -2zM493 1009l-1 7l-7 18l-2 -2l4 -13zM601 1175l5 -13l4 -3l6 -3l-9 13zM598 1080l8 -8l11 -6l-3 4l-7 8zM509 1142l6 5l-3 2zM598 1172l-8 5l-3 0l7 -5zM396 1090l-1 -4l7 -11l3 -3l-5 12zM414 1091l17 14l-6 -1zM506 1078l-12 15l-5 1zM382 1052l-1 -1l7 6l-1 1l-3 -3zM517 1117l-5 -28l6 9zM617 1032l4 -5l5 -3l3 1l-8 6zM519 1183l-2 -8l1 -5l2 6zM463 1089l-2 -2l2 -6l2 4zM644 1014l4 -10l2 -2l2 4zM429 1065l3 2l-6 18l-4 -4l2 -10zM607 1117l11 15l0 4l-6 -6zM611 1111l4 -16l3 2zM549 1130l2 -4l6 -5l0 1l-5 7zM549 1138l-5 4l-17 4l11 -7zM609 1193l-1 4l-4 2l-1 -3l2 -4zM403 1000l4 -2l4 2l-4 1zM639 1086l6 10l-1 3zM509 1027l3 -4l5 0l-2 5zM638 1068l-12 5l1 -3zM515 1141l-4 -3l-2 -5l4 2zM567 1010l11 -7l5 4zM493 1022l10 6l7 8l-14 -9zM460 1115l-13 1l2 -9zM640 1008l-16 -8l-9 -8l14 5zM412 997l5 15l2 21l-8 -21zM428 1040l-18 1l-8 -2l-1 -3l16 1zM630 1023l-14 4l0 -4zM460 1198l-5 -15l4 -1zM593 1025l-8 0l-8 -3l7 0zM446 1148l1 -1l5 2l-1 3l-4 -1zM496 1086l13 -11l16 -7l-6 6l-15 10zM445 1060l-2 12l-5 2zM554 1179l-6 3l-8 -1l6 -2zM504 1188l0 13l-2 5l-5 2l3 -9zM450 1206l-6 -6l-4 -5l0 -4l7 9zM467 1050l-1 -6l1 0zM522 1141l-7 -11l8 0zM653 1158l-11 -5l-9 -6l8 2zM484 1005l-5 2l-4 -2l3 -1zM424 1039l-4 -16l2 -10l4 5zM492 1068l10 0l10 1l2 2l-11 -1zM622 1164l-4 5l-11 0l5 -5zM468 1044l-10 -7l6 -3zM567 1096l2 -6l5 -4l0 1l-5 8zM390 1016l-4 0l-4 -6l5 1zM494 1123l-11 18l-2 -3zM440 1037l7 5l0 7l-2 3l-7 -11zM654 1173l-5 -11l0 -11l4 13zM622 994l-12 17l-2 -3zM385 1179l5 2l1 7l-3 2l-4 -8zM566 1060l-3 -6l5 -6l2 6zM512 1142l0 10l-3 5l-2 -7zM488 1014l-5 8l-7 -1l3 -8zM585 1012l-3 2l-3 -3l3 -1zM561 1102l-8 9l-1 -2zM371 1189l14 -6l-1 2zM624 1103l2 10l0 5l-3 -4zM614 1132l-2 -1l-1 -5l2 -1l1 5zM470 1054l-9 4l1 -2zM590 1028l-1 7l-3 3l2 -7zM557 1187l-5 -16l3 0zM577 1054l-1 15l-7 -1zM531 1053l4 7l0 8l-3 -6zM585 1184l7 -8l5 -1l2 2l-5 5zM528 1190l-5 -7l4 -2zM603 1046l-6 -8l-6 -18l4 5l6 15zM567 1126l-7 -6l2 -1zM428 1029l0 17l-5 -1zM576 1189l1 4l-1 5l-2 -4zM476 1040l5 -5l4 -2l-2 3zM541 1108l-2 -3l-1 -6l3 7zM523 1108l-11 7l-10 0l10 -5zM652 1185l-4 13l-8 7l3 -11zM596 1171l-8 0l-10 -3l0 -2l5 1zM397 1139l-1 -5l-1 -7l2 2zM633 1039l8 6l-4 3z" fill="#6238a6"/>
</g>
<clipPath id="ct7"><rect x="90.8" y="1218.1" width="277.5" height="208.1"/></clipPath>
<rect x="90.8" y="1218.1" width="277.5" height="208.1" fill="#fcfbfd"/>
<g clip-path="url(#ct7)" filter="url(#soft2)">
<path d="M176 1246l4 0l8 7l-6 0zM363 1353l-8 0l-16 -7l13 -2zM263 1285l7 6l6 14l-7 -1l-7 -11zM220 1364l9 10l7 25l-5 3l-9 -21zM175 1339l26 -9l0 7zM228 1305l-6 -1l-2 -8l5 2zM168 1396l-10 -1l1 -15l8 6zM228 1343l4 5l-5 18l-10 -7l-1 -11zM294 1244l0 11l-3 5l-1 -2l2 -11zM247 1324l14 -7l17 5l-5 4l-16 2zM174 1228l-10 1l-6 -13l7 -2zM153 1236l7 1l4 10l-10 -6zM103 1330l-8 1l-7 -10l3 -8l11 7zM265 1362l-9 5l-6 1l0 -7l8 -2zM170 1346l3 10l-8 4l-2 -12zM246 1399l-22 -6l-3 -7l7 -2zM220 1305l12 17l-4 10l-6 -7zM179 1313l-11 16l-14 9l-5 -1l16 -20zM256 1281l17 -11l15 3l-15 10zM193 1251l7 -1l6 3l1 3l-9 -1zM314 1249l7 9l-3 13l-6 -1l-3 -19zM336 1233l7 2l-5 3zM119 1327l-17 3l7 -7zM206 1349l2 15l-2 17l-3 -9zM104 1216l7 6l-9 13l-6 -11zM166 1211l5 6l-2 6l-2 -1l-2 -6zM285 1240l1 10l-5 10l-2 -11zM141 1326l-11 -27l7 -3zM324 1261l14 1l9 8l-15 1zM179 1294l10 8l-11 5zM111 1274l-8 7l-11 2l6 -5zM324 1290l19 17l2 8l-8 -3zM198 1383l-5 -2l-7 -3l4 -2l6 2zM353 1270l-3 -6l10 -19l9 7l-5 15zM140 1322l5 -9l7 -3l-7 8zM374 1416l-15 0l-21 -14l16 1zM129 1295l1 -18l8 10zM289 1377l1 -4l6 -3l4 2l-7 6zM213 1290l-9 -6l-2 -6l2 -3l8 10zM106 1348l13 6l-2 4l-8 -1zM145 1224l-3 3l-10 -1l1 -3zM313 1267l-2 6l-25 -24l9 -1l11 10zM126 1376l-10 3l-10 -4l13 -4zM150 1219l-18 1l1 -4zM313 1274l5 -7l14 6l-11 3zM207 1315l-8 -14l1 -10l6 8zM307 1367l-3 10l-10 3l2 -6zM268 1350l4 13l1 15l-7 -11zM370 1246l2 6l-6 6l-2 -6zM217 1384l-9 2l-21 -4l4 -4l19 2zM257 1409l13 -12l13 -5l6 3l-19 9zM314 1339l13 -19l15 2zM348 1310l10 19l-1 17l-10 -15zM200 1387l-6 -14l11 -3zM279 1391l3 -5l19 -3l0 4l-11 4zM337 1375l12 7l-8 8zM134 1304l8 2l8 13l-9 -3zM224 1315l5 1l3 8l-4 2l-6 -5zM362 1290l-12 3l-13 -8l14 -3zM91 1376l10 0l14 9l-17 -5zM237 1232l5 -11l19 0l-4 4l-12 6zM135 1229l-5 -10l4 -3zM338 1295l8 -8l4 3l8 7l-10 3zM192 1388l4 -22l5 12zM124 1414l4 -11l9 -13l1 4l-9 15zM138 1269l18 -1l3 11zM182 1316l3 8l-8 5l0 -9zM348 1394l10 16l-8 2zM252 1250l-10 1l-6 -3l9 -2zM233 1363l-2 -31l5 16zM193 1400l-20 7l-24 3l22 -9zM205 1408l8 -5l7 8l-10 0zM124 1345l11 19l-8 0zM273 1421l-5 -2l-5 -7l0 -5l9 8zM322 1258l-13 -13l0 -14l11 8zM264 1308l10 11l-9 1zM201 1232l9 15l-1 12l-9 -3l-3 -19zM193 1336l-5 -14l6 -3zM205 1365l10 -7l10 2l-7 8z" fill="#b096d6" fill-opacity="0.40"/>
<path d="M341 1381l-11 -3l-4 -11l9 -7l4 9zM188 1333l3 12l-1 8l-3 -5zM250 1373l-9 -3l-4 -14l7 3zM204 1342l-9 13l-7 1zM144 1364l-2 13l-8 11l-2 -6zM174 1359l-8 5l-18 3l19 -10zM251 1413l-18 5l-13 -9l13 -6zM328 1354l12 -1l21 5l-17 3zM294 1320l3 9l-6 18l-5 -1l4 -21zM186 1351l-10 10l-2 -4zM159 1427l-11 -7l-5 -16l12 4zM218 1228l-11 -8l2 -8zM126 1385l13 -13l19 -9l-9 14zM315 1354l-28 0l-20 -6l21 -4zM144 1419l-6 -2l-16 -26l7 -1l9 11zM147 1258l16 17l-1 11zM154 1368l-3 6l-9 4l-4 -4l11 -6zM188 1240l-17 0l-15 -14l15 3zM187 1312l8 5l2 8l-4 4l-8 -7zM152 1221l-5 3l-5 -1l-1 -5l8 0zM121 1400l2 3l-13 9l5 -9zM205 1429l-14 -20l15 -6zM159 1283l-8 -14l7 -7zM231 1353l0 15l-9 1zM164 1257l-5 7l-9 3l0 -3zM194 1308l-4 -16l10 -1zM314 1394l2 -6l8 -5l-5 10zM272 1267l-13 2l-3 -7l8 -2zM96 1317l6 2l4 5l-6 2l-4 -2zM316 1234l10 6l4 11l-6 1zM234 1321l-8 -1l-15 -14l3 -2l17 10zM245 1217l-16 21l-1 -9zM354 1262l-14 4l-2 -8l11 0zM238 1371l-4 -30l9 1zM106 1398l-3 -5l1 -10l4 0l4 12zM146 1267l-20 -2l-6 -10l13 -4zM289 1414l-14 -5l-2 -4l12 4zM188 1345l-5 -5l30 -4l-3 9l-17 4zM257 1231l4 -11l7 0zM269 1242l-11 4l-27 -3l16 -6zM129 1221l14 -6l14 3l-9 4zM150 1242l-3 -11l7 0zM146 1315l0 -7l6 -9l2 12zM184 1272l-2 21l-2 -2zM80 1246l13 6l10 10l-2 7l-11 -9zM278 1257l5 -8l18 -3l5 8l-15 3zM305 1283l0 4l-14 11l7 -10zM327 1302l-2 -14l13 9zM249 1283l-3 -8l1 -17l4 19zM152 1420l-11 -16l-14 -32l16 17zM301 1375l-8 6l-1 -5zM171 1240l-10 10l-9 2l5 -10zM206 1357l-1 10l-18 24l-2 -5l4 -14zM364 1216l-2 22l-4 14l-1 -19zM190 1258l0 13l-12 9l2 -13zM347 1215l26 14l-8 7zM260 1247l12 -7l8 -1l-10 7zM244 1217l13 3l4 4l-4 1zM198 1227l26 2l-8 6zM144 1362l-2 -15l2 -11l6 1l3 14zM141 1384l-2 8l-13 17l0 -9l8 -18z" fill="#b096d6" fill-opacity="0.60"/>
<path d="M203 1226l6 10l-5 -3zM111 1218l6 -1l8 7l-6 1zM192 1233l9 3l1 2zM203 1265l-2 -6l4 -3l3 6zM305 1228l-8 -4l-5 -6l6 4zM333 1421l-7 4l-2 -6l7 -3zM210 1278l-7 9l-14 6l16 -15zM244 1222l5 -2l6 1l-7 1zM193 1352l-3 6l-2 -2zM244 1321l-3 4l-4 1l2 -6zM179 1285l-3 -1l-4 -5l3 -2l4 6zM339 1245l3 -2l1 5l-3 1zM113 1260l5 1l1 4l-6 -2zM245 1268l2 -7l6 -2l0 7zM178 1282l-2 4l-4 -1l3 -3zM278 1321l-1 4l-11 4l6 -7zM181 1372l5 -8l10 -5l-5 9zM219 1337l-13 -12l-5 -8l2 -1l10 10zM117 1262l5 -6l2 0l-2 3zM348 1329l-3 8l-2 -1zM280 1423l3 -5l4 -4l0 2zM140 1269l3 -2l25 7l-8 1l-13 -1zM129 1374l-11 1l1 -3zM289 1363l4 13l-3 -1zM363 1297l3 0l0 6l-3 -1zM237 1225l7 5l1 8l-5 -3zM128 1370l11 7l-1 5l-7 -1zM346 1241l8 14l3 16l-6 -13zM185 1349l10 -10l2 6zM344 1230l6 1l-2 3zM161 1263l11 10l-4 3zM212 1215l5 7l1 11l-4 -7zM245 1294l5 -16l4 4zM138 1379l-11 7l-4 -1l2 -3zM347 1378l5 7l-1 4zM192 1416l14 4l10 4l-13 -2zM278 1225l-3 -9l-1 -5l3 5zM301 1252l3 0l3 3l0 1l-6 -1zM164 1232l9 8l1 4l-8 -2zM193 1274l6 -5l6 -1l-10 6zM298 1368l1 7l1 4l-2 6l-3 -11zM234 1387l4 0l1 3l-6 -1zM258 1310l-15 -1l-4 -6l9 0zM255 1298l1 -5l4 -3l-1 4zM290 1272l-14 -3l-12 -8l15 3zM290 1248l-7 -8l7 -2zM237 1219l12 4l-5 5zM234 1311l1 -4l4 -6l0 2l-3 8zM315 1310l-3 1l-7 -2l0 -4l6 2zM270 1387l0 5l-6 -2l2 -4zM129 1300l7 -2l5 6l-2 5l-9 -4zM348 1377l12 -4l0 1zM102 1319l-2 2l-3 1l3 -4zM184 1360l-17 3l2 -3zM296 1260l4 -3l5 -3l3 6l-5 1zM349 1223l1 3l-4 2l-2 -1l1 -3zM291 1381l-17 10l0 -3zM107 1397l-4 -1l-5 -4l8 2zM333 1367l-11 -1l-3 -5l5 -1zM336 1314l-1 -8l5 -12l3 0l-2 14zM299 1302l-1 9l-3 4l1 -9zM310 1250l0 -6l3 -12l-1 12zM127 1286l1 -15l5 -8l-2 15zM339 1428l-1 -3l1 -9l2 6zM347 1401l5 6l3 12l-4 -5zM204 1279l3 15l-6 2zM330 1252l-3 -5l8 -4l5 10l-5 2zM253 1406l5 1l7 5l-3 3l-5 -2zM116 1254l6 1l2 2l-4 1zM340 1293l-5 -4l4 -2zM136 1257l2 14l-1 13l-4 -11zM294 1297l6 -1l-1 4zM253 1277l-8 2l-2 -6l2 -6l6 6zM102 1273l4 10l-4 4l-5 -9zM190 1377l7 11l-7 -1zM124 1253l3 -12l8 -7l-1 8zM290 1279l1 -8l3 -6l4 -1l-3 8zM268 1338l2 -4l5 -1l2 3l-3 3zM357 1254l-1 5l-3 7l-3 0l4 -10zM198 1310l3 -4l5 -1l-3 4zM168 1289l-3 -5l2 -2zM289 1272l7 2l17 11l-2 1l-20 -11zM286 1330l0 -7l6 -1zM253 1266l-6 -6l3 -3l3 3zM159 1281l0 4l-2 2l-2 1l2 -6zM323 1363l13 -7l7 1zM96 1305l2 6l-3 11l-2 -6zM262 1257l-3 -7l4 -13l2 8zM378 1296l-12 9l-9 5l-2 -2l8 -6zM237 1276l4 5l-2 3l-5 -5zM219 1422l-6 2l-11 -4l13 -1zM291 1237l-12 -5l-5 -7l9 3zM173 1237l7 -1l4 8l-8 2zM330 1264l0 -14l1 -19l2 3l0 11zM177 1235l-4 -6l0 -6l2 6zM247 1264l6 1l0 5l-10 0zM252 1336l9 7l6 14l-9 -9zM318 1321l6 -4l0 4zM220 1302l-5 3l-4 -2l4 -3zM127 1336l-8 3l-2 -1zM175 1379l-3 3l-9 -13l4 -2l5 6zM177 1219l-10 10l-5 0zM134 1293l10 2l16 9l-15 -2zM217 1402l2 5l-1 4l-2 -1zM212 1399l-6 -1l-10 -9l2 -2l13 8zM353 1233l3 1l-2 17l-2 -3l0 -10zM233 1295l2 8l-4 6l-4 -9zM148 1371l-5 1l-5 -3l2 -4l7 0zM178 1425l-12 -3l-5 -5l11 3zM196 1289l6 4l0 7l-4 -5zM116 1354l5 -13l3 -1l-1 7zM267 1266l-8 -9l-8 -14l10 10zM377 1327l-11 4l-5 -1zM286 1325l-7 -1l-3 -2l4 0zM127 1311l5 1l5 6l-6 6l-5 -7zM173 1412l9 -3l13 4l-8 2zM247 1324l4 -4l0 3zM208 1238l-3 10l-1 -1zM330 1282l3 3l0 3l-3 1l-2 -4zM230 1324l7 -2l19 3l-12 2zM326 1268l5 2l-5 4zM156 1307l-4 0l-10 -3l11 1zM126 1405l3 -1l5 4l-5 1zM230 1417l8 8l-6 1zM321 1271l15 1l5 5l-10 -2z" fill="#6c40ae"/>
<path d="M178 1370l0 -6l7 3zM226 1348l-13 1l-19 -4l13 -1zM232 1304l6 -6l9 -8l-6 8zM184 1268l13 -3l-2 9zM351 1390l-3 2l-5 4l-3 0l6 -5zM296 1405l-8 3l-8 -5l8 -5zM197 1415l12 -14l7 -7l-5 11zM117 1217l3 9l-4 3l-4 -6zM339 1296l6 -2l1 7l-6 1l-4 0zM113 1424l-13 3l-20 -2l3 -4l13 0zM179 1339l5 -3l16 7l-17 1zM115 1297l-8 8l-7 -3zM232 1308l5 9l-1 3l-4 -4zM327 1341l3 0l3 3l-3 0zM139 1381l9 -9l9 -6l4 0l-15 11zM135 1313l5 17l-4 6l-3 -10zM254 1403l-5 1l-7 -1l8 -1zM234 1252l0 10l-2 5l-3 4l0 -9zM244 1285l-3 -5l0 -4l1 -2l1 4zM272 1367l5 6l-7 3zM321 1265l-6 10l-6 8l-3 1l6 -10zM347 1305l-1 3l-9 1l8 -5zM129 1418l-12 -3l1 -5zM128 1425l-10 -15l4 0zM326 1308l-4 2l-1 -5l0 -2l5 2zM324 1383l-5 -2l-16 -13l1 -3l14 11zM177 1256l-4 -5l1 -3l2 2zM234 1293l14 10l3 8zM112 1384l-5 4l-1 -3zM305 1400l-12 -4l-1 -5zM125 1391l12 10l10 18l-18 -16zM182 1241l1 -3l6 -4l-2 7zM145 1317l3 2l4 14l-5 -9zM213 1412l-11 -7l-9 -8l14 7zM192 1409l-4 -4l3 -1zM112 1298l-5 12l-6 -5zM104 1421l2 3l-2 4l-1 -5zM347 1405l3 -4l7 -6l-4 5zM228 1247l5 -3l4 1l-4 2zM268 1278l6 2l4 5l-6 -2zM219 1283l2 -2l6 3l-5 1zM101 1335l5 0l7 3l0 4l-12 -4zM139 1243l-7 -3l2 -2zM315 1410l10 -10l12 -3l-12 10zM170 1397l7 9l1 5l-8 -5zM336 1284l-15 -7l4 -3zM297 1346l1 -4l5 -4l-3 6zM169 1230l-4 -1l-3 -5l6 -1zM241 1258l-4 -1l0 -4l4 2zM229 1412l3 -2l8 5l1 5l-7 -4zM179 1272l4 2l-1 5l-2 -2zM196 1323l10 10l3 4l-1 3l-8 -8zM323 1396l5 -12l2 3zM274 1219l-1 2l-13 0l-1 -2l9 0zM247 1303l4 -1l1 2zM147 1326l4 4l-2 1l-3 -1zM221 1423l2 -1l1 5l-4 -1zM328 1331l0 7l-5 9l-5 0l4 -11zM257 1233l0 -9l2 1zM343 1393l-3 2l-6 3l2 -2l4 -3zM162 1331l2 -4l6 -2l1 1l-4 4zM211 1272l-1 -7l3 -2l7 0l-2 5zM318 1314l-9 -5l7 -6zM173 1414l-6 13l-2 -2zM337 1407l3 8l0 3l-2 -4zM193 1425l-8 3l-7 1l-3 -5l11 -1zM124 1257l2 -2l2 -1l3 1l-2 4zM116 1418l2 2l-7 3l-3 0l4 -4zM151 1269l1 -8l2 2zM194 1331l-11 -16l6 2zM363 1345l-2 -7l5 -8l1 8zM134 1316l3 4l-1 10l-3 -7zM319 1414l-2 -5l0 -5l2 5zM324 1288l-3 -4l-1 -4l4 0zM224 1327l-8 2l-7 -1l5 -2zM238 1329l-12 -3l-22 -16l15 5zM248 1387l-7 -2l-4 -7l1 -6l8 9zM113 1302l-10 1l-7 -2l7 -1zM193 1407l-8 1l0 -2zM222 1284l6 -1l21 8l-9 0l-11 -3zM322 1357l0 -5l13 -4l-9 8zM323 1378l7 -2l4 0l0 4l-5 5zM97 1312l1 2l-9 7l4 -8zM155 1379l-4 -12l3 -5l3 5zM215 1235l-3 0l-1 -2l1 -2l4 1zM118 1352l-1 -9l1 -5l2 4zM130 1241l3 -15l5 -3zM256 1256l7 8l1 4l-4 -4zM282 1429l-2 -15l3 -13l2 19zM293 1312l-11 -7l-7 -9l11 6zM94 1303l3 9l-1 13l-4 -11zM196 1281l-4 0l-2 -4l1 -3l5 5zM362 1366l5 -5l6 2l-4 5zM104 1257l-5 5l-19 2l10 -7zM101 1380l-3 -4l3 -8l2 8zM175 1291l3 -7l5 -6l1 3l-5 8zM273 1238l-1 7l-6 4l2 -9zM226 1229l-3 3l-4 0l2 -5zM190 1317l3 0l2 4l0 2l-5 -3zM230 1230l-11 -5l-3 -8l12 7zM169 1345l-1 -9l3 -3zM124 1408l3 -4l9 -4l0 2l-8 4zM291 1352l-2 3l-4 1l3 -4zM127 1303l-4 0l-7 -2l2 -1l5 1zM140 1246l-5 -11l2 -3l3 3zM318 1403l-7 5l-8 -1l8 -4zM193 1260l6 -7l1 3zM166 1255l-4 6l-4 3l-1 -2l4 -4zM297 1414l-5 0l-2 -3l4 1zM325 1372l-3 -3l-1 -5l3 3zM235 1303l9 -8l4 3zM323 1233l-8 -2l-8 -5l3 -3l9 4zM235 1228l5 9l-2 9l-5 -10zM240 1423l0 -4l4 -10l3 -1l-3 10zM334 1304l-10 9l-9 1l10 -8zM256 1373l-2 4l-2 -4zM157 1254l-14 16l-4 -3zM174 1363l-11 -11l-1 -7l11 11zM207 1415l4 -3l5 0l-3 3zM308 1268l4 1l7 6l-5 -1z" fill="#6c40ae" fill-opacity="0.85"/>
<path d="M280 1343l-4 -6l2 1zM165 1292l-7 4l-8 1l10 -6zM136 1362l-13 9l-5 -1l9 -6zM365 1329l-13 11l-12 0l13 -9zM368 1239l-11 -2l0 -1zM222 1343l-3 -5l1 -3l1 3zM166 1291l-12 3l-2 -2l5 -1zM93 1398l1 4l-3 0l-1 -5zM218 1360l1 -5l5 -6l2 1l-5 7zM244 1415l-4 -8l2 -2zM193 1374l-3 -9l2 -10l2 8zM340 1244l-16 -12l6 1zM141 1235l7 -10l4 -3l-4 9zM245 1287l0 -2l5 -2l2 0l-5 5zM219 1406l1 3l0 5l-2 -3zM373 1399l-9 -22l4 1zM211 1323l-3 3l-6 1l-2 -1l6 -2zM204 1369l-6 -16l6 4zM234 1281l0 -4l8 -4l-1 9zM329 1300l-2 -14l3 -5zM331 1418l3 2l6 3l-2 4l-5 -3zM219 1401l-2 8l-4 -4zM132 1233l-3 1l-11 -5l12 1zM253 1304l8 -6l5 3l-6 4zM193 1292l2 4l-2 2l-2 0l0 -2zM106 1380l0 -6l5 -6l2 1l-1 4zM206 1388l0 4l-2 1l-2 -2l0 -2zM151 1396l0 6l-4 1l0 -3zM290 1276l10 9l-4 2zM137 1317l3 -4l12 3l-7 7zM150 1302l1 -12l6 -9l-2 13zM329 1321l-5 -2l-6 -12l7 7zM110 1240l-9 -6l-4 -7l7 4zM276 1231l1 -7l12 0l-8 7zM349 1269l2 -9l7 2l-1 5zM149 1353l2 4l-6 4l1 -5zM257 1223l-6 2l-2 -5l2 -4l7 3zM367 1288l-5 -11l7 4zM293 1229l12 2l0 4zM301 1238l0 10l-3 10l0 -8zM150 1253l-11 4l-3 -1zM118 1378l-9 -3l-9 -11l7 3zM120 1227l-1 9l-6 18l2 -14zM343 1330l-3 4l-3 2l-3 0l5 -4zM139 1409l2 2l2 8l-3 -5zM190 1359l2 7l-7 0zM216 1391l15 4l6 4l-9 -1zM348 1307l1 6l-7 -4zM290 1426l-2 -4l1 -2l1 2zM287 1439l-5 -10l-3 -15l6 13zM120 1305l-9 -11l1 -7zM172 1416l-2 -2l-2 -5l2 1l1 2zM119 1243l-8 -2l-7 -5l9 3zM286 1320l-1 -9l4 -6l1 10zM116 1392l-8 15l-5 -1zM204 1316l-3 5l-7 0l4 -6zM191 1367l2 5l-5 1zM179 1218l5 4l2 4l-3 -1zM152 1309l1 8l-8 4l-1 -5l0 -3zM294 1362l15 -6l6 -1l-4 4zM129 1389l-6 -4l9 -2zM176 1293l-12 3l-2 -3zM360 1324l-7 -3l-1 -5l5 -2zM145 1290l4 -6l5 3zM105 1224l3 -2l7 1l-3 1zM364 1373l-11 11l-14 1l13 -9zM228 1235l-10 -1l-8 -5l11 0zM151 1259l4 8l-2 7l-3 -8zM348 1356l6 6l2 6l-7 -5zM222 1316l5 -16l6 6zM191 1262l4 4l0 6l-3 -3zM334 1352l6 -1l4 1l4 2l-9 0zM103 1369l8 1l-3 6l-8 -2zM291 1378l-7 4l-7 -2l7 -4zM187 1362l-10 3l-8 -1l10 -5zM259 1232l-22 4l-6 -3l9 -3zM298 1316l-9 0l-5 -2l5 0zM211 1388l6 2l3 12l-6 0l-4 -8zM125 1330l7 5l0 4l-4 -2zM186 1378l6 -1l4 7l-5 2zM104 1310l-4 2l-6 -4l8 0zM139 1388l-3 -9l1 -10l3 10zM222 1413l8 -6l8 -2l2 2l-9 4zM122 1318l4 -3l8 3l-6 4zM230 1354l11 13l1 5l-7 -8zM225 1373l-2 3l-3 2l-3 1l6 -6zM147 1330l-9 1l-3 -5l10 -3zM204 1283l-4 11l-9 2l2 -5zM242 1324l-21 -1l5 -3zM256 1298l-6 -4l-5 -9l6 1zM287 1298l6 25l-2 2zM254 1328l-12 6l-1 -4zM339 1311l7 -1l5 3l-4 4zM255 1212l14 13l-3 2zM140 1229l6 -8l15 -5l-11 10zM222 1339l-5 8l-2 -8zM217 1317l0 -13l2 -6l1 11zM165 1319l3 7l-4 0zM225 1345l-9 1l-12 -5l8 0zM181 1280l1 6l-8 4l0 -10zM310 1304l0 8l-9 -1zM149 1409l7 -1l12 2l-2 5l-8 0zM219 1228l-2 2l-6 -11l0 -9l7 11zM291 1363l-5 4l-8 -2l6 -5zM209 1233l2 3l-9 6l5 -8zM259 1227l-3 -2l2 -5l2 2zM252 1428l-2 -2l8 -4l7 -2l-7 9zM241 1276l1 4l-1 5l-1 -3zM352 1371l5 8l1 4l-6 -6zM129 1376l5 -6l10 -7l-8 9zM224 1358l-1 6l-4 6l-2 -1l3 -6zM249 1230l5 -3l11 4l-9 2zM302 1240l12 5l7 6l0 1l-16 -7zM204 1255l6 -2l8 0l-8 4zM248 1258l-1 5l-4 -4zM80 1271l10 -10l15 -9l-13 12zM168 1393l-12 4l-11 -1l13 -4zM315 1338l5 -4l6 1l-9 5zM243 1390l2 -1l13 4l0 2l-10 -2zM204 1395l4 0l1 5l-6 0zM300 1413l-4 -9l3 -4l4 7zM345 1424l3 -11l5 -6l-3 9zM201 1352l-1 5l-6 8l2 -5zM363 1250l-2 -6l4 -6l4 -3l-2 10zM206 1315l7 -2l3 8l-9 0zM272 1318l-4 7l-7 5l5 -7zM139 1256l15 8l5 7l-13 -5zM212 1419l11 3l-1 7zM95 1310l9 5l-2 5l-3 2l-5 -8z" fill="#7649b4"/>
<path d="M113 1275l10 0l-6 9zM259 1247l10 1l-1 6l-7 2zM194 1344l-2 -9l5 1zM164 1301l-10 16l-7 2zM234 1304l3 6l-2 8l-4 0l-3 -7zM189 1297l-1 -7l1 -1l1 1zM372 1288l-5 10l-9 -6zM128 1220l8 0l5 3l-6 2zM306 1370l7 4l4 5l-6 -2zM286 1286l4 -5l4 -1l-2 4zM239 1276l-1 -2l2 -16l2 3l-1 13zM367 1340l-6 18l0 -7zM309 1284l5 8l0 5l-4 -5zM317 1224l-1 25l-6 1zM337 1348l-4 0l-1 -4l3 0zM285 1300l5 9l-2 7l-7 -7zM326 1376l-7 -12l4 -3zM172 1340l13 9l-10 7zM152 1297l-8 -7l5 -3zM184 1293l-1 9l-9 11l4 -9zM159 1301l-6 -4l-1 -9l7 2l4 4zM239 1297l2 1l3 6l1 4l-5 -7zM135 1230l3 0l-1 3l-1 1l-4 -4zM333 1357l-9 -1l-1 -3zM140 1271l12 16l-5 -4zM156 1234l-9 -9l-4 -9l6 5zM178 1374l13 -6l0 6zM328 1226l12 10l-2 9zM364 1407l-7 7l-5 1l7 -8zM348 1368l7 -11l4 -1l-1 3zM201 1259l10 -14l6 2zM128 1226l-2 12l-5 2zM127 1219l0 5l-2 -1zM195 1267l2 11l0 12l-7 -14zM340 1274l-4 -4l4 -11l2 -4l1 11zM169 1397l-3 -1l-5 -3l2 -1l4 2zM325 1369l10 -5l12 -5l1 2l-13 7zM367 1411l-1 5l-2 4l0 -5zM262 1264l1 -20l2 7zM260 1293l9 1l6 4l-10 -1zM267 1326l-1 -6l6 -4l2 9zM244 1308l5 0l8 5l-10 -2zM172 1235l-4 12l-9 3l4 -9zM326 1361l1 10l-3 5l-3 -3zM320 1360l7 -2l8 5l-7 2zM231 1341l13 2l-2 5zM231 1329l13 -2l-3 7zM96 1271l-7 0l1 -3zM120 1217l8 2l-1 4l-5 0zM337 1242l1 0l2 4l-3 -2zM283 1231l-2 -7l6 -2l1 5zM250 1325l4 -2l2 4l-5 2zM348 1275l2 -5l5 -5l-3 5zM209 1390l0 -7l2 -4l0 7zM139 1221l10 -3l14 2l-10 3zM189 1331l3 -2l6 2l-6 3zM109 1261l-4 -1l-2 -2l1 -3l5 4zM118 1382l6 12l-5 6zM228 1264l10 -4l-2 4zM273 1301l3 2l-3 6l-5 -6zM106 1266l1 9l-1 12l-3 -7zM151 1357l0 5l-2 -2zM245 1373l-6 -6l-5 -9l7 5zM233 1283l13 -2l-1 3zM176 1411l-7 1l-8 -6l9 -1zM198 1318l18 -16l0 9zM334 1343l2 -3l10 1l-9 4zM269 1242l3 -4l11 -4l-9 6zM343 1352l1 9l0 6l-2 -8zM102 1304l-4 0l-6 -2l1 -2l8 2zM124 1395l18 -2l-7 3zM213 1282l-3 0l2 -8l4 1l-1 4zM237 1408l8 0l-1 4zM121 1305l-9 6l-11 -2l10 -3zM193 1269l-6 0l-1 -4l3 -1zM275 1345l-5 2l0 -5zM110 1241l-1 -17l5 2zM354 1233l3 -19l8 -2l-2 12zM314 1275l-1 -7l1 -7l2 1l0 6zM196 1259l4 1l0 4l-3 1l-3 -3zM166 1360l1 -6l9 -14l3 5l-7 14zM284 1322l-8 -6l-6 -7l-2 -7l10 12zM162 1420l4 0l6 2l1 2l-7 -1zM152 1305l-8 3l-7 -3l4 -5l6 1zM160 1337l-2 2l-12 -5l9 -2zM357 1298l2 -18l6 -10l-3 15zM365 1363l-1 2l-4 -1l1 -3l4 2zM179 1247l6 -2l2 10l-8 1zM189 1280l10 0l8 2l0 1l-9 -1zM229 1380l15 -25l-1 7zM346 1334l-3 -19l1 -8l2 11zM293 1277l4 1l3 3l-4 -1zM200 1255l-2 2l-7 2l4 -3zM224 1237l3 4l0 4l-1 1l-3 -5zM267 1355l9 -3l3 3zM223 1300l-10 12l-7 3l5 -6zM116 1287l1 -5l6 -9l-1 6zM203 1306l-2 -5l8 -19l2 3l-4 14zM244 1288l-2 -2l0 -4l4 3zM322 1405l-4 -3l-3 -5l3 -1l3 2zM128 1287l-4 4l-12 1l5 -3l6 -2zM325 1224l8 5l-4 4zM113 1324l-5 -4l-12 -10l1 -2l13 10zM314 1355l6 -6l7 5l-5 5zM344 1273l3 5l-6 11l-6 -6l3 -8zM300 1380l1 3l-1 4l-1 -3zM324 1384l12 -6l5 3l-8 4zM326 1229l8 -1l-3 5zM247 1389l-5 -8l-3 -10l4 3l4 8zM245 1255l2 -4l6 -4l-1 3zM110 1422l-1 6l-6 -5zM357 1429l4 -11l3 2zM199 1239l-8 2l-15 -3l3 -2l12 1zM347 1413l7 6l-4 3zM187 1307l1 0l12 4l-1 3l-10 -3zM185 1304l4 3l0 3zM375 1266l-8 -2l-8 -7l12 4zM182 1412l13 0l-1 3zM220 1372l3 -10l7 -7l-5 12zM280 1356l-7 -3l-9 -12l11 9zM221 1290l4 -4l7 -3l2 1l-4 4zM302 1278l-5 6l-3 1l2 -3zM348 1299l1 -8l11 4l0 8zM171 1287l-5 5l-5 1l5 -5zM184 1314l13 -8l10 -2l-12 8zM97 1231l5 4l3 5l-7 -3zM181 1257l-4 0l-6 -5l6 1zM225 1328l-4 1l-10 -5l7 1zM155 1298l7 -1l3 4l-4 7l-7 -4zM171 1282l7 -6l15 2l-8 6zM111 1309l-5 1l-9 1l8 -2zM187 1281l-8 16l-5 7l4 -12zM240 1258l-16 6l-1 -4zM125 1244l16 5l3 7zM346 1234l-17 7l1 -7z" fill="#6238a6" fill-opacity="0.85"/>
<path d="M278 1237l-1 -11l5 -10l-1 13zM277 1309l-2 -8l1 -6l4 8zM320 1275l5 6l1 15l-5 -8zM286 1288l-7 1l-4 1l0 -2l7 -1zM192 1372l1 1l-8 5l-1 -1l5 -5zM340 1233l-8 -3l-5 -4l2 -3l5 4zM209 1367l-2 -13l7 1zM187 1311l2 8l-1 2zM244 1409l-6 8l-4 2l3 -6zM165 1210l-21 11l-12 2zM179 1268l-1 -7l1 -7l1 -1l0 12zM126 1286l7 8l-2 7l-7 -10zM354 1384l5 -25l5 4zM355 1342l-3 8l-8 0zM312 1291l-20 1l-12 -4l20 -1zM226 1293l6 -11l1 4zM325 1342l-8 -17l1 -12l6 12zM221 1243l-5 -3l6 -11l2 6zM246 1408l0 -14l3 -3zM223 1380l4 4l4 18l-1 1l-5 -16zM216 1366l-9 -17l4 -2zM207 1373l3 -6l4 1l-1 5zM370 1258l-9 0l-14 -6l11 1zM244 1286l4 -3l7 0l-4 6zM116 1277l-4 -4l1 -5l2 -1l1 4zM217 1362l-19 -8l3 -4zM116 1414l-8 1l-8 -7l3 -2l11 5zM149 1251l2 -3l8 -5l0 2l-3 3zM288 1408l3 7l-7 8l-2 -8zM164 1322l-2 9l-10 -1l5 -8zM336 1344l1 4l-10 9l-7 2l10 -12zM316 1385l-7 1l-10 -2l6 -2zM171 1348l5 -9l1 4zM306 1293l-3 10l-5 11l0 -7l7 -16zM293 1314l4 -17l7 -10l-3 14zM154 1287l4 0l2 3l-1 1l-3 -1zM244 1319l-11 -7l6 -3zM190 1392l-1 -9l6 2l3 6zM349 1382l5 -11l9 -1l-4 10zM318 1408l-4 4l-5 2l0 -1l6 -5zM181 1399l-22 9l5 -4zM101 1387l3 -5l11 -10l2 0l-6 7zM196 1243l4 17l-6 0zM133 1288l-2 6l-2 3l-8 0l4 -9zM312 1312l1 -2l2 2l-1 4l-2 -3zM162 1347l7 -3l11 1l-12 5zM282 1288l8 -8l9 3l-8 10zM300 1330l1 -8l3 -2l-1 6zM303 1347l-5 13l-7 3l-1 -8zM347 1345l-7 3l-7 -7l-2 -4l9 2zM123 1265l3 8l-2 8l-4 -8zM125 1327l2 7l-9 15l2 -16zM346 1426l5 -4l2 4l-4 2zM211 1256l-3 3l-3 -2l1 -4l2 1zM355 1415l0 2l-11 -2l4 -1l4 0zM164 1372l-5 -3l-2 -12l9 9zM346 1414l1 3l-2 4l-1 -3zM197 1315l-9 -13l4 2zM207 1299l7 2l-2 6zM272 1416l-12 -7l1 -7zM341 1298l-1 3l-4 2l2 -3zM163 1283l9 4l-2 3zM335 1239l-3 -4l3 -1zM329 1366l8 8l2 5l-4 -1zM254 1367l7 6l-1 10l-6 -6zM150 1268l-2 -5l1 -1zM211 1393l-8 -2l-1 -7l8 0zM209 1304l1 2l-1 5l-1 -4zM148 1412l6 -15l9 -10l-4 13zM291 1234l-6 -4l-5 -8l9 9zM187 1381l0 4l-2 4l0 -4zM194 1313l-4 -1l-1 -4l2 -2l4 3zM285 1378l6 6l3 12l-8 -11zM123 1408l-1 -7l1 -5l2 10zM263 1286l-5 1l-5 -4l5 -1zM238 1385l3 -4l2 2l0 3zM260 1342l-3 -1l-1 -18l5 5l1 8zM272 1208l0 8l-5 14l-2 1l4 -17zM365 1337l-5 -1l1 -5l3 0zM302 1329l-2 3l-9 4l2 -3l6 -3zM130 1254l5 13l-1 9l-5 -14zM138 1337l4 6l-2 8l-7 -7zM214 1235l2 7l-7 6l-6 -6l4 -8zM187 1291l-2 7l-6 4l3 -8zM182 1275l2 7l1 7l-2 0l-1 -7zM228 1352l-6 3l-3 -3zM363 1309l-4 7l-5 -8l6 -1zM222 1379l8 7l-1 10l-5 -5zM320 1361l-5 2l0 -5zM208 1408l4 1l8 4l-1 0l-4 0zM311 1416l-4 -4l5 -11l4 7zM263 1245l6 5l8 7l-10 -3zM115 1243l-8 -6l-4 -15l11 9zM212 1409l4 21l-6 -4zM266 1223l14 1l4 4l-7 2zM262 1296l-7 0l-3 -7l9 0zM363 1259l-6 -1l0 -6l5 3zM284 1285l4 4l-3 3l-4 -5zM225 1401l25 9l-11 1zM270 1331l4 -2l12 -3l-10 5zM130 1307l6 7l1 5l-3 5l-6 -13zM245 1350l9 3l1 8l-5 0l-3 -1zM150 1289l2 -3l5 -5l2 0l-4 5zM98 1247l4 4l0 6l-1 1l-4 -7zM181 1305l-4 3l-7 2l1 -4l5 -2z" fill="#7649b4" fill-opacity="0.85"/>
<path d="M124 1376l2 -2l3 3l-2 2zM281 1272l-4 -2l-4 -6l6 4zM222 1374l2 -1l5 -1l0 3l-5 0zM129 1330l16 2l5 3l-9 2zM300 1234l6 -5l15 -13l-2 6l-5 5zM238 1346l-7 8l-3 -1l1 -3zM353 1340l7 0l4 4l-8 4zM308 1384l-9 -3l-3 -8l8 3zM182 1331l-2 -4l1 -4l7 -1l-2 6zM180 1325l-2 2l-6 -2l4 -2zM272 1394l2 13l-6 -3zM322 1250l-6 -12l3 -4l4 8zM223 1311l4 -6l7 -4l5 1l-7 7zM101 1291l-4 3l-13 -3l11 -1zM148 1382l-3 4l-7 3l-1 -1l5 -3zM179 1249l0 -8l5 -19l0 14zM365 1243l-2 5l-4 3l-2 -1l4 -4zM141 1339l2 -1l4 1l0 2l-3 0zM146 1237l3 6l-4 10l-2 -9zM281 1346l1 5l-2 9l-5 6l1 -13zM143 1286l-3 -10l3 0zM129 1241l6 15l-3 10l-4 -13zM295 1312l17 4l12 6l-20 -3zM216 1289l1 6l-3 7l0 -8zM219 1422l-5 -3l-10 -10l2 -3l12 8zM329 1439l1 -11l10 -19l-4 19zM176 1270l4 -3l8 -1l4 2l-9 2zM103 1364l-7 8l-3 -6zM286 1272l9 -11l6 -1l-3 6zM236 1309l-3 -1l-9 -8l1 -1l10 8zM160 1351l7 -1l5 3l-8 1zM181 1244l12 -7l6 0l5 1l-14 4zM179 1340l0 6l-6 3l-3 -4l5 -6zM248 1344l3 4l-1 5l-1 0l-2 -3zM110 1318l-2 4l-14 0l5 -4l8 -3zM102 1370l-4 -10l3 2zM169 1369l10 -3l0 5l-7 2zM326 1263l1 5l-7 5l0 -5zM340 1337l-1 -10l2 -8l2 5zM244 1399l6 -3l4 0l-7 4zM161 1341l1 -8l8 -2zM333 1338l9 -10l16 -7l-9 10zM221 1341l-1 3l-10 -3l2 -2l4 -1zM197 1271l13 -5l7 -2l-13 7zM109 1233l6 0l6 3l-5 -1zM141 1273l4 -5l12 1l2 2l-12 4zM158 1361l-7 -3l-2 -5zM213 1302l0 3l-2 3l-1 -5zM152 1337l-4 -8l1 -6l3 6zM153 1265l-7 17l-5 1zM156 1418l-1 3l-2 4l-5 -5l1 -3zM222 1375l0 -9l3 -6l3 8zM307 1335l-5 5l-12 0l6 -4zM352 1233l-6 20l-7 -7zM320 1281l-2 3l-5 4l-3 -1l4 -5zM194 1333l-6 -10l5 -1zM217 1427l-4 1l-15 -8l5 0l15 4zM331 1224l-11 5l1 -8zM294 1412l6 -3l19 0l1 2l-13 2zM293 1393l-3 5l-3 -1l1 -3zM158 1276l1 -4l2 3zM275 1226l5 -5l6 -4l-5 7zM178 1385l6 -5l7 1l1 6l-9 4zM308 1262l-17 3l-11 1l1 -3l15 -2zM304 1235l0 10l-4 3zM358 1412l11 2l1 3zM140 1360l1 -13l6 -6l0 14zM376 1397l-18 -20l8 4zM103 1427l1 -3l5 0l0 3zM350 1361l-6 7l0 -2zM182 1373l-1 -5l3 -3l2 -1l0 5zM228 1296l4 6l2 8l-3 -3zM252 1274l-6 3l-13 0l11 -7zM206 1235l1 8l-3 12l-3 -2l1 -15zM121 1327l7 7l-5 0zM311 1341l1 -5l3 -5l3 1l-2 7zM370 1362l-8 3l-1 -3zM188 1342l-3 7l-6 3l-3 -6l6 -4zM223 1291l-4 -12l1 -6l3 4zM114 1372l-7 3l-7 1l3 -3l6 -1zM294 1271l-8 -1l-1 -3l5 0zM117 1246l-4 5l-1 -4zM177 1372l4 -1l2 5l-4 -1zM124 1404l-2 3l-3 5l3 -6zM287 1226l7 0l5 1l1 3l-10 -1zM131 1338l-8 -9l2 -8l7 4zM170 1248l1 7l-9 9l3 -12zM89 1245l4 -11l6 5zM214 1333l-2 6l-6 2l-3 -3l5 -6zM114 1390l-5 3l-2 0l-3 1l7 -4zM330 1317l2 0l5 4l0 5l-6 -4zM360 1400l8 -12l8 -3l-6 8zM280 1283l1 2l0 4l-2 -1l-1 -2zM142 1288l0 10l-6 9l0 -17zM262 1297l0 -9l8 2l-4 10zM139 1387l-5 0l-8 -8l11 2zM212 1235l8 -2l3 3l-5 2zM155 1311l5 -7l2 -1l5 -2l-6 7zM200 1291l4 2l4 3l-4 -1zM253 1258l5 3l3 6l-3 2l-4 -5zM149 1327l7 11l-3 4zM179 1325l2 4l-4 5l-2 -7zM89 1417l0 -2l4 -7l0 3l-2 4zM120 1241l-11 5l2 -8zM331 1305l-11 -10l5 -1zM214 1385l9 2l6 10l-7 -1zM340 1343l0 3l-2 4l0 -5zM339 1290l2 3l-3 5l-4 -6zM182 1394l-6 15l-4 2l0 -4zM95 1233l12 8l5 9l-15 -10zM349 1247l-3 0l0 -5l3 1zM295 1257l1 -9l3 1zM216 1277l1 7l-2 7l-2 -8zM101 1312l-1 -3l2 -3l2 -1l0 4zM198 1250l-11 11l-11 0l12 -8zM114 1328l-11 -9l0 -9l7 8z" fill="#6238a6"/>
</g>
<clipPath id="ct8"><rect x="379.5" y="1218.1" width="277.1" height="208.1"/></clipPath>
<rect x="379.5" y="1218.1" width="277.1" height="208.1" fill="#fcfafd"/>
<g clip-path="url(#ct8)" filter="url(#soft2)">
<path d="M441 1423l-3 -5l4 -6l6 4zM412 1261l4 5l-16 10l-9 -3l13 -12zM506 1353l16 -6l0 13zM469 1289l5 -11l12 -14l-6 18zM568 1249l-10 -7l-1 -5l7 4zM406 1240l-5 -4l-6 -12l8 6zM493 1298l-7 -5l2 -4zM405 1413l6 3l-2 17l-7 -9l-2 -6zM556 1356l-8 9l-4 -2l6 -7zM563 1317l-7 -14l3 -27l5 17zM632 1246l-5 6l-5 -1l2 -4zM648 1293l-27 8l-13 -3l12 -7zM403 1279l14 -10l21 -3l-18 11zM552 1261l13 9l-3 11l-9 -4l-4 -10zM597 1304l27 -7l5 6l-6 6zM462 1300l-5 11l-9 14l-3 -7l8 -15zM527 1406l3 -6l5 0l-2 4zM666 1375l-10 10l-14 3l3 -7l7 -4zM533 1289l1 11l-2 14l-5 -10zM455 1266l18 0l7 6zM454 1411l-1 1l-10 -7l3 -4l9 7zM551 1312l17 -14l19 -2l-10 11zM662 1290l-8 8l-10 0l2 -4l5 -3zM631 1273l4 8l-17 20l3 -18zM561 1314l-12 -10l-2 -7l7 5zM381 1369l5 -9l9 -9l-5 16zM635 1396l-5 27l-11 13l2 -22zM603 1372l-4 -11l2 -17l5 15zM513 1260l5 7l-5 8l-2 -11zM454 1361l6 20l-4 12l-5 -13zM465 1341l-5 -10l4 -4zM460 1247l-7 -11l2 -16l5 9zM669 1240l-15 -3l-6 -6l9 -4zM391 1350l-12 0l-10 -13l14 4zM480 1276l12 2l4 2l4 5l-14 -5zM393 1356l12 -15l0 11zM398 1421l-1 -6l9 -10l-3 8zM472 1321l-6 1l-2 -10l4 -6l4 10zM529 1321l10 -4l16 -1l-6 7l-11 6zM405 1360l10 -13l8 -1l-8 10zM640 1277l-8 8l-10 -6l11 -11zM408 1419l15 -3l-2 6zM605 1242l-5 10l-8 -2l2 -9zM409 1280l9 -4l14 3l-10 10zM524 1393l-3 10l-24 15l16 -22zM441 1351l5 8l2 16l-8 -16zM406 1326l-10 5l-8 -1l8 -4zM391 1327l8 8l-5 13l-7 -7zM391 1349l-7 -4l-4 -10l8 3zM555 1391l17 3l10 5l10 8l-25 -6zM540 1403l3 -13l6 -3l-1 12zM429 1230l-12 -2l-2 -15l17 11zM479 1422l-2 -12l2 -10l2 7zM391 1342l-11 -4l2 -6zM583 1251l1 6l2 16l-7 -1l0 -10zM523 1440l-4 -19l4 -9l2 16zM502 1307l-2 -9l16 -19l-7 22zM501 1402l-11 -5l-6 -10l11 7zM461 1371l3 14l-8 12l-3 -23zM434 1347l6 4l-9 14l-9 -3l6 -14zM452 1325l17 16l-8 7zM385 1252l-2 -11l9 -1zM497 1229l7 12l1 11l-6 -4zM487 1229l-5 9l-19 9l8 -9zM441 1223l15 -6l1 6zM527 1363l-18 0l-1 -5zM435 1260l3 12l-5 6l-3 -9zM390 1383l-12 -2l3 -10zM511 1417l-6 -7l-2 -23l6 1l7 20zM601 1296l21 -9l3 9zM464 1282l-14 -4l3 -5zM591 1243l3 4l-2 7l-8 2l4 -12zM573 1267l12 -5l16 5l-10 6zM517 1243l7 -15l8 -2l-1 7zM597 1289l16 1l12 1l8 7l-25 -3zM655 1372l-10 7l-6 -4l-2 -7l11 1zM616 1336l1 12l-8 9l1 -11zM515 1268l-5 -7l-2 -9l3 1l4 6zM508 1341l9 8l14 15l-10 1l-12 -14zM610 1316l9 17l0 9l-7 -11zM607 1301l-10 7l-27 -7l21 -5zM474 1377l2 14l-5 -2zM584 1413l19 6l8 10l-5 6l-11 -8zM447 1359l-1 -7l3 -17l3 6l0 7zM553 1405l-6 -7l-5 -15l10 0l4 9zM565 1403l-4 7l-7 0l3 -7zM378 1268l4 11l4 13l-1 11l-8 -25zM597 1243l6 8l-6 13l-9 -8zM422 1429l20 -9l2 4zM601 1325l13 14l-9 1zM450 1372l-6 -3l-9 -10l5 -6l14 12zM557 1368l-11 -19l4 -6zM546 1275l18 2l-4 5zM388 1315l-15 -18l7 -1zM460 1292l7 8l-5 8zM571 1317l14 17l-7 -1zM433 1408l20 -17l11 -7l-14 19zM391 1413l-13 -1l2 -11l12 1zM629 1298l-14 -1l-3 -9l5 -1zM417 1319l-11 26l-14 10l8 -17zM543 1283l15 21l1 12l-8 -8zM439 1309l21 15l-2 6zM593 1390l11 -6l15 -2l-9 11zM502 1389l-22 -15l9 -5zM467 1249l-7 -2l-1 -20l10 14zM532 1279l-3 0l3 -16l1 -2l2 12zM410 1383l9 3l1 9l-11 -2zM477 1266l15 7l8 8l-11 -3zM582 1407l-18 -2l-12 -18l17 7zM627 1238l-5 -12l-2 -15l7 16zM382 1359l6 5l-7 2zM471 1225l1 21l-7 16l-1 -18zM423 1216l1 19l-5 6l-4 -9zM625 1296l13 0l4 10l-10 5zM494 1282l-14 -8l-6 -15l11 11zM421 1286l-9 -2l-12 -9l11 3z" fill="#b096d6" fill-opacity="0.40"/>
<path d="M494 1333l15 0l-3 4zM413 1288l-10 -6l5 -13l5 -4l6 16zM538 1317l19 3l-8 8zM653 1278l1 15l-9 17l2 -14zM539 1377l13 15l6 15l-18 -16zM591 1361l-5 -12l14 -18l4 15zM536 1397l13 -16l0 11zM468 1269l-10 2l-5 -5zM393 1390l6 10l2 14l-8 -12zM420 1381l0 9l-9 13l-4 -6zM527 1263l-1 19l-16 14l6 -19zM499 1379l-7 9l-24 5l13 -10zM640 1238l6 -3l16 8l-16 0zM642 1369l-3 -14l10 -8zM433 1308l12 -12l2 6zM614 1374l8 5l5 13l-13 -13zM545 1343l6 0l5 8l-8 -3zM545 1224l6 2l10 12l-2 3l-8 -5zM602 1419l10 -5l12 1l-9 6zM622 1304l11 -8l25 -7l-12 8l-15 8zM552 1297l20 16l-11 1zM638 1380l14 1l-1 5zM635 1337l-11 16l-8 -2zM504 1375l5 -3l22 1l1 4l-30 3zM454 1214l-1 12l-4 10l0 -10zM513 1351l-26 -26l13 2zM565 1336l0 -10l5 -11l0 12zM488 1289l2 19l-9 -1zM558 1257l-1 -7l11 -16l-3 11zM519 1332l-4 6l-19 16l16 -22zM598 1387l-13 3l5 -7zM506 1387l11 -14l5 7zM426 1397l0 11l-10 -1zM636 1269l-10 0l-13 -6l5 -3l10 4zM595 1255l9 -5l13 -2l4 4l-10 2zM602 1280l-10 -4l-11 -13l3 -7l18 17zM411 1327l-6 8l-6 2l-1 -5l4 -4zM642 1381l-2 2l-13 -9l7 1l5 2zM486 1314l-14 -3l-20 -15l19 6zM389 1431l-3 -9l3 -13l1 11zM385 1396l14 0l6 9l-11 1zM523 1433l-16 -21l7 -4zM531 1231l10 -8l-1 8zM470 1296l3 7l-3 5l-3 -2zM631 1407l13 5l-7 2zM513 1346l-14 -1l-6 -10zM544 1273l5 5l-18 10l6 -12zM527 1267l2 -1l4 8l-4 2l-3 -5zM610 1309l13 2l3 6zM441 1399l16 0l12 8l-22 0zM646 1376l-10 1l-14 -2l1 -3l16 1zM582 1252l1 -9l9 -17l8 3l-3 11zM618 1221l-7 4l-18 8l-3 -2l20 -11zM575 1287l12 6l1 18l-12 -8zM662 1382l-4 5l-13 0l8 -7zM497 1345l6 -1l18 4l-19 0zM453 1248l9 -6l9 3l-1 3l-8 3zM384 1411l10 -9l11 0l1 5l-14 6zM595 1338l0 -9l6 -3l-1 8zM595 1265l3 -11l10 -4l-4 12zM450 1331l-13 -1l-4 -7zM465 1298l9 7l-2 14l-7 -7zM430 1286l-6 -14l7 -4zM640 1243l-4 -14l5 2zM495 1419l-5 -8l4 -5l4 6zM463 1284l11 -6l13 14l-9 8l-9 -8zM518 1378l0 -14l7 -2zM433 1304l-10 12l-2 -9zM506 1261l1 25l-6 -3zM591 1334l11 2l3 4l-7 1zM497 1232l4 9l-11 12l-10 -6l7 -17zM616 1312l6 -9l5 -6l2 3l-7 8zM457 1397l8 -3l10 -1l0 5l-14 4zM509 1240l7 6l6 19l-8 -11zM516 1342l12 4l-6 11zM380 1260l16 18l-9 -2zM561 1332l-10 2l-11 -3l6 -8l15 2zM601 1414l2 -7l8 -9l5 0l-7 11zM488 1228l-12 24l-9 12l5 -21zM565 1334l-8 18l-5 -10zM586 1339l-11 7l-2 -10zM386 1248l12 -24l3 7zM578 1213l-14 16l-8 -5zM509 1258l15 2l-5 6z" fill="#b096d6" fill-opacity="0.60"/>
<path d="M524 1347l-1 3l-4 5l3 -5zM572 1299l5 8l2 10l-2 2l-6 -14zM407 1277l-10 -8l2 -3zM486 1331l-3 1l-6 -4l-1 -2l6 3zM479 1317l-15 9l-3 -1l4 -4zM408 1250l7 0l12 3l-12 -1zM596 1305l11 -15l1 6zM503 1318l-14 4l-21 0l12 -5zM553 1355l-3 0l-4 -3l3 0l3 0zM561 1290l2 -4l10 -15l7 -4l-15 23zM515 1349l-3 6l-4 3l2 -6zM543 1233l-8 -1l-4 0l1 -4l6 1zM592 1408l2 9l-2 8l-1 -6zM616 1229l7 7l1 11l-8 -9zM620 1330l3 6l0 6l-3 -2zM461 1379l-10 -13l2 -2zM562 1239l3 -3l18 -6l-1 4l-17 8zM411 1409l2 11l-4 6l-1 -9zM479 1295l5 8l0 8l-5 -8zM590 1287l-11 10l-4 0zM422 1395l8 6l3 6l-8 -7zM530 1400l-6 -2l-4 -6l7 3zM622 1279l-6 8l-7 9l1 -3l5 -8zM519 1422l-5 3l-3 -1zM509 1256l-5 2l-9 3l-1 -2l8 -4zM572 1319l1 2l-2 3l-2 1l2 -6zM600 1290l2 6l-3 0zM607 1268l6 -2l-1 4zM620 1372l-7 -3l-4 -4l5 2zM543 1365l-4 10l-8 7l6 -11zM520 1378l-5 -2l0 -4l4 2zM493 1347l-12 0l-1 -2zM539 1367l-4 22l-3 6l1 -16zM633 1318l1 8l-3 11l-1 -6zM455 1326l-2 -3l5 -6l-1 7zM468 1233l-4 17l-6 11l3 -15zM621 1385l2 11l-1 7l-1 -9zM386 1298l7 5l5 6l-7 2l-4 -8zM583 1339l5 0l7 3l-8 1zM577 1390l0 -4l5 -9l1 5l-1 4zM451 1224l10 -6l6 6zM638 1215l1 7l-3 9l-3 3l0 -8zM443 1266l-3 -9l-1 -3l3 5zM406 1293l5 3l2 3l-4 -3zM637 1364l-4 -2l-7 -8l6 3zM621 1293l11 10l5 6l-10 -8zM596 1254l7 2l7 5l-1 2l-9 -5zM473 1308l6 -6l0 4zM650 1226l-11 -4l-12 -6l5 0l13 6zM523 1267l-11 -6l-6 -7l11 3zM565 1436l-1 -12l0 -7l3 7zM390 1310l-2 0l-4 -4l4 0zM611 1402l1 10l-2 7l-3 0l0 -12zM623 1315l7 5l6 12l-9 -8zM462 1264l-4 -5l2 -6l4 7zM426 1387l-11 -7l5 -1zM581 1391l8 -5l11 -2l0 5l-13 2zM579 1300l-5 1l-5 -4l8 -2zM451 1322l2 2l2 7l-2 0l-4 -6zM499 1389l-1 -7l0 -3l2 5zM480 1319l-5 -9l3 -9l3 10zM645 1323l-2 1l-7 0l-2 -2l8 -1zM518 1305l-6 2l-7 -2l-2 -2l10 0zM392 1387l-5 5l-5 2l2 -6zM459 1403l1 -6l4 -2l-2 6zM405 1268l2 -5l1 -3l0 5zM457 1225l11 16l-2 2zM632 1425l3 -8l5 -7l0 2l-2 6zM446 1230l-3 -1l-5 -4l1 -4l6 3zM569 1392l-1 8l-5 -2zM404 1360l-5 1l-12 -8l11 2zM521 1313l1 -6l1 -7l4 -1l0 7zM563 1260l4 -8l13 -9l-7 10zM479 1420l-14 -14l3 -1zM626 1314l9 9l2 11l-6 -3zM419 1302l5 -3l10 -4l-7 4zM457 1242l-12 -6l-5 -6l5 2zM632 1305l9 5l13 14l-8 -4zM405 1284l-2 20l-6 3zM594 1278l-7 12l-6 -6zM434 1304l0 -7l3 -2l2 5zM452 1361l2 6l1 5l-2 -3zM412 1388l8 -4l24 2l2 3l-15 0zM628 1234l-10 13l-5 -1zM577 1285l2 3l-4 7l-3 -3l0 -5zM625 1294l6 -4l8 -3l-2 5zM403 1384l-5 7l-8 2l2 -5zM639 1242l4 8l0 5l-4 -1zM486 1365l-3 -4l1 -3zM429 1338l1 7l-4 9l-1 -8zM478 1299l-6 0l-4 -6l4 0zM630 1335l8 -7l2 4zM391 1399l1 2l-5 7l1 -7zM588 1383l11 -5l5 -1l5 2l-15 4zM432 1384l-7 1l-10 -6l10 0zM638 1262l7 -8l14 -6l-8 9zM572 1236l-6 8l-7 2l4 -10zM536 1326l-8 -2l-4 -9l10 4zM512 1224l5 3l-1 2zM602 1326l2 4l1 3l-3 -4zM649 1369l5 0l6 5l-4 1l-5 -1zM475 1230l1 2l0 6l-5 -6zM570 1272l-1 4l-8 3l5 -7zM441 1248l7 2l0 5l-5 -3zM453 1231l12 2l6 2l-2 3l-12 -3zM417 1356l-8 7l-6 3l7 -7zM629 1406l-9 10l-10 5l7 -8zM508 1297l-4 0l-10 -3l7 1zM529 1292l5 -2l5 1l-4 1zM428 1368l-12 4l-14 1l13 -4zM623 1382l-2 3l-1 -3zM450 1294l9 -8l12 -3l-3 3zM633 1221l-1 4l-4 6l-2 -2l3 -5zM605 1326l2 -6l0 1zM380 1306l10 5l-3 1zM494 1402l-2 -16l1 -13l2 5l1 11zM543 1363l0 15l-6 -4zM607 1314l4 -3l5 0l0 2l-5 3zM647 1302l-6 6l-8 8l-4 1l12 -12zM590 1343l11 -4l12 3l-12 3zM520 1278l4 -9l5 -4l-2 10zM574 1243l-6 0l-7 -3l9 -1zM511 1391l2 -1l11 4l-6 -1zM405 1293l21 -5l-2 4zM606 1314l2 7l-3 -2zM402 1352l-2 18l-2 7l-1 -10zM406 1408l19 2l-3 3zM525 1395l7 -22l0 9zM612 1357l-6 7l-5 -3l6 -5zM462 1386l-2 8l-3 3l2 -7zM558 1248l-3 -5l0 -4l2 0l1 6zM612 1259l-2 4l-4 6l-2 0l4 -7zM533 1255l-5 -1l-5 -3l4 0zM384 1415l16 1l5 3l-5 1zM498 1311l5 1l3 3l-4 -1zM589 1362l-8 -16l4 -1zM625 1210l2 15l-2 -1zM540 1306l1 10l-3 7l-2 -3l0 -6zM510 1381l-10 5l-11 3l11 -6zM532 1394l2 -2l6 2l-4 1zM464 1273l1 7l-6 16l-4 1l5 -16zM610 1269l1 6l-7 12l1 -8zM431 1390l8 5l0 4l-5 -2zM485 1274l0 -5l5 -14l3 3l-2 6zM602 1382l-1 1l-7 2l-3 -1l7 -3zM487 1431l5 -13l6 -2zM466 1237l5 -7l8 -4l-5 8zM512 1225l11 -1l-2 5zM566 1406l8 3l5 5l-4 0zM486 1365l4 -4l5 0l0 4l-7 0zM478 1290l-6 6l0 -5zM544 1387l-3 3l-4 0l2 -2zM421 1371l6 -1l8 3l-1 1l-11 0zM512 1343l2 -10l9 -12l-5 15zM506 1285l-6 3l-11 0l10 -3zM614 1270l-4 3l-2 -2zM405 1248l2 -7l3 -2l-1 3zM583 1287l0 -3l11 -5l-6 7zM488 1236l-3 -2l0 -3l3 1zM602 1300l-7 0l-8 -6l-2 -6l9 4zM528 1275l6 5l-4 0zM494 1245l-5 -5l1 -5l3 3zM551 1230l11 4l0 3zM448 1267l3 4l-2 3zM375 1299l14 1l9 3l-4 1l-7 0zM533 1362l-4 3l-2 -1l3 -4zM427 1416l2 3l0 4l-2 -3zM597 1420l-7 -5l-1 -6l11 6zM662 1230l-10 0l-14 -6l8 0zM526 1337l7 2l3 7l-8 -4zM532 1397l-3 -4l5 -15l1 5l0 8zM584 1354l-9 5l-6 -2zM604 1377l-14 0l-7 -3l16 0zM573 1254l-1 2l-2 2l-1 0l3 -3zM519 1420l-13 -8l6 -1zM410 1239l-7 6l-20 8l-2 -3l21 -9zM591 1237l8 2l5 2l-8 0zM387 1422l-10 -5l5 -1zM506 1317l6 6l1 7l-3 0l-2 -5zM438 1260l10 -9l1 6zM456 1345l9 2l4 3zM404 1392l-4 3l-20 -2l5 -5l10 2zM629 1218l4 4l0 7l-4 -5zM578 1305l1 10l-4 7l-2 -6zM625 1283l-9 1l-13 -2l13 -3zM393 1220l-5 12l-6 7l4 -10zM549 1289l-12 12l-9 3l6 -9zM495 1418l-10 -6l3 -4zM577 1274l6 2l4 7l-9 -4zM514 1319l-1 -5l7 -11l-3 12zM473 1235l-8 0l-12 -1l-5 -2l18 1zM590 1319l-7 3l-4 0l5 -3zM593 1406l2 6l-2 13l-3 -13zM616 1410l0 4l-4 6l0 -2l1 -3zM525 1222l4 -2l25 -1l-8 2l-11 2zM490 1410l5 1l4 3l-1 2l-8 -3zM602 1257l2 -4l7 -7l0 2l-2 4zM644 1420l0 -9l3 -8l1 7zM640 1222l10 2l9 7l-8 0zM619 1363l10 6l6 4l0 4l-9 -6zM556 1386l5 11l-4 -3zM407 1291l1 -8l5 -11l-2 9zM623 1395l-4 -11l1 -4zM421 1343l-2 -10l1 -4l2 9zM424 1306l-8 7l-6 4l6 -7zM522 1398l-4 10l-4 -2zM384 1232l-3 10l-4 -3zM513 1398l4 -1l3 11l-5 1l-4 -6zM614 1252l4 -2l16 1l-8 1zM650 1347l-7 0l-5 -2l7 -1zM465 1356l-8 7l-1 -5zM440 1316l0 -4l6 1l-3 4zM427 1351l-1 4l-5 6l-4 4l5 -9zM641 1297l7 0l3 1l-7 1zM452 1373l-14 1l-12 0l19 -4zM466 1263l2 -5l6 -6l-4 8zM407 1296l-3 4l-7 -4l4 -5zM436 1325l-11 2l-10 -1l8 -3zM566 1256l-3 1l-7 -3l6 0zM385 1379l1 -4l10 1l3 3l-10 4zM459 1392l2 -3l8 -3l-2 3z" fill="#6c40ae"/>
<path d="M411 1283l5 2l4 7l-4 -3zM400 1259l-5 -5l-3 -6l-1 -3l8 10zM534 1414l17 6l3 4l-7 -1zM584 1373l4 4l-1 9l-3 -7zM416 1412l1 -6l4 2zM384 1336l19 3l8 3l-15 -2zM636 1320l-9 -5l-5 -7l10 6zM645 1250l-9 0l0 -3zM494 1286l7 -7l7 2l-6 4zM437 1233l17 9l0 4zM495 1297l-1 7l-1 -1zM601 1275l0 -4l3 -7l4 0l-1 8zM576 1235l2 -6l7 -7l-1 4zM427 1226l-4 -7l5 -8l3 7zM417 1359l7 2l3 5l-1 1l-8 -4zM494 1385l-4 -2l0 -7l5 1zM620 1263l-12 13l-8 7l10 -14zM398 1407l7 -3l6 -1l2 2l-7 3zM618 1313l-2 7l-4 3l-1 1l4 -9zM583 1227l-2 1l-10 -9l3 0l8 5zM584 1321l4 -6l5 -2l-3 6zM634 1357l3 2l1 12l-4 2l-3 -9zM531 1377l-6 -11l-2 -8l5 10zM620 1399l3 -10l5 -9l-2 10zM480 1415l-4 1l-18 -2l3 -3l14 1zM652 1383l-3 -5l1 -3l2 2zM479 1339l-13 0l-1 -6zM638 1262l4 -2l6 2l-7 4zM495 1313l7 0l0 4zM611 1361l5 8l-4 3l-4 -5zM532 1367l-1 -8l2 -11l3 -6l-1 16zM454 1285l-9 0l-4 -1l5 -1zM520 1262l9 1l5 4l-8 -2zM616 1389l11 5l4 4l-9 -2zM500 1288l-11 -18l6 5zM517 1308l2 -4l6 -13l0 8l0 5zM576 1280l-5 9l-6 6l4 -8zM613 1286l-8 -1l-6 -3l3 -3l8 0zM602 1324l0 -2l2 -4l1 1l-2 5zM389 1288l3 -4l8 -1l-1 2l-5 4zM413 1327l-4 -4l-5 -11l4 2l3 2zM517 1417l8 -1l3 2l-4 3zM574 1287l-8 2l-2 -2l2 -3zM407 1309l7 -8l2 0l-1 2zM492 1355l-5 -6l4 -2zM478 1317l0 4l0 4l-3 4l1 -8zM615 1380l9 7l-3 3zM428 1428l-1 -2l1 -13l1 2l0 4zM479 1352l10 9l4 7l-4 -2zM515 1233l-2 -8l3 -4zM482 1233l-1 -13l6 2zM400 1248l4 9l1 7l-1 6l-6 -18zM431 1257l-1 -1l1 -7l2 2l0 5zM397 1350l9 8l-1 1zM453 1357l3 3l-8 12l1 -10zM540 1267l3 22l-5 4zM513 1337l3 -1l10 1l-4 2l-5 0zM500 1370l6 -1l8 4l-9 1zM625 1234l4 -5l3 -3l-1 3zM634 1344l10 -6l16 -7l3 2l-17 8zM395 1217l1 5l-3 5l-1 -5zM557 1276l5 0l3 3l-6 0zM586 1235l-10 2l-17 -4l13 -1zM652 1229l-5 1l-4 0l-3 -3l10 -1zM560 1393l0 -7l7 -6l-1 10zM537 1390l11 -4l16 2l-14 3zM648 1228l-3 10l-4 8l-6 6l6 -13zM624 1277l3 -5l9 -6l-6 7zM399 1430l-18 -5l2 -4zM560 1273l-7 4l-3 -4l0 -4l5 0zM390 1401l-3 9l-5 4l1 -5zM508 1409l-5 -3l1 -2l3 1zM485 1262l8 11l-4 1zM481 1373l-1 12l-1 -3zM538 1305l-2 1l-6 -2l7 -1zM557 1311l-1 12l-7 7l1 -10zM498 1253l-3 -3l0 -4l3 -2l1 5zM616 1264l-3 -2l0 -2zM434 1254l13 -3l9 3l-13 3zM388 1297l-4 -12l7 0zM481 1304l4 2l6 4l-3 1l-5 -4zM406 1420l11 0l1 3zM615 1255l2 5l-2 9l-2 -8zM426 1280l10 2l-4 3zM390 1298l-4 -1l-7 -14l7 8zM509 1397l14 1l-3 8zM392 1273l0 5l-12 12l-1 -4l9 -11zM633 1286l-7 11l-7 2l4 -11zM473 1239l19 -4l-4 7zM569 1416l3 -17l4 -5zM560 1354l3 3l-3 10l-5 -8zM545 1407l12 -2l4 2l-5 1zM464 1365l3 1l1 4l-1 2l-2 -5zM397 1405l-10 -8l-8 -11l11 8zM383 1241l-1 -5l1 -4l1 5zM645 1342l-6 5l-5 1l5 -4zM619 1298l4 11l-1 10l-4 -7zM524 1419l6 8l-4 0zM392 1368l-6 -7l-4 -9l-2 -8l10 16zM631 1402l-2 -2l4 -12l1 2l2 6zM598 1251l-17 -9l4 -5zM623 1243l5 -12l9 -6l-3 7zM578 1310l9 -13l0 2zM481 1318l-7 -7l0 -13l-1 -8l8 19zM562 1377l7 13l-1 3zM481 1294l5 -4l4 1l-5 3zM390 1261l5 -1l11 4l-12 -1zM461 1337l6 -6l6 -3l-2 3zM495 1376l-13 0l-3 -1l6 -2zM505 1383l-10 1l-8 -7l8 0zM562 1243l-14 -10l-13 -16l14 11zM416 1286l-7 2l-4 -3l-3 -5l10 0zM625 1254l-7 6l-2 -1zM632 1271l-1 7l-6 1zM608 1250l-2 7l-12 2l1 -6zM643 1242l-7 1l-1 -3zM409 1388l10 4l13 10l3 7l-18 -14zM472 1298l8 1l-1 5zM536 1337l1 5l-2 1l-1 -1zM626 1280l11 -4l11 1l-10 4zM643 1409l10 12l5 13l-6 -7zM403 1237l-9 0l-10 -4l11 1zM597 1410l6 4l9 9l-9 -6zM494 1313l8 7l-1 4l-7 -4zM520 1336l8 11l-3 1zM457 1234l15 7l-5 6zM542 1272l-1 7l-2 8l0 -9zM609 1275l3 -15l3 1zM603 1395l2 5l-3 0zM482 1414l-3 3l-10 2l10 -6zM594 1261l7 8l4 6l-6 -6zM435 1291l-9 -10l-2 -9l8 8zM434 1256l-6 -4l-1 -6l3 -5l7 10zM655 1413l-8 -2l-14 -10l20 8zM506 1258l-5 1l-6 -2l5 -1zM395 1215l0 1l-5 6l-1 1l3 -6zM567 1419l-8 10l-1 -3zM527 1283l2 -3l8 -2l-3 4zM473 1289l-3 0l-4 -2l-2 -2l9 3zM628 1321l7 2l1 5l-6 -1zM403 1234l4 2l4 5l-4 -3zM588 1229l-10 2l-8 -1l-1 -3l10 0zM583 1344l15 0l4 3zM468 1327l5 -2l5 2l0 3l-7 0zM567 1367l0 7l-4 12l1 -10zM645 1389l-3 -3l-2 -5l4 4zM612 1399l2 5l1 6l-3 -8zM406 1239l-4 3l-6 2l0 -1l4 -2zM589 1346l-5 -5l-1 -7l-1 -5l7 8zM614 1289l-10 -12l2 -7zM648 1354l10 -17l3 2zM483 1372l-2 -24l6 8zM651 1337l2 4l1 8l-2 -1l-1 -5zM593 1241l2 -1l3 6l-4 1l-2 -2zM419 1220l5 2l4 5l-5 -3zM660 1309l-4 6l-8 4l2 -4zM481 1379l2 3l-4 3l0 -5zM457 1261l9 7l3 7zM619 1337l2 -4l4 0l1 4l-5 2zM548 1304l-12 4l2 -4zM556 1355l-5 -13l5 -1zM500 1356l-7 -2l-10 -7l10 3zM457 1374l0 -16l6 1zM627 1417l6 -5l9 -3l-10 6zM580 1217l6 6l2 5l-8 -6zM437 1240l5 7l-3 16l-3 -15zM467 1365l-1 9l-5 6l2 -9zM525 1425l-5 0l-7 -7l10 4zM603 1387l-1 6l-3 1l0 -2zM425 1267l4 3l2 10l-3 -6zM396 1400l3 4l-5 18l0 -11zM499 1367l3 3l3 3l-4 -2zM514 1265l-1 -4l2 -8l5 -4l-3 17zM510 1299l2 -12l3 -6l-1 13zM427 1379l-2 5l-9 10l3 -11zM558 1380l0 11l-5 3l1 -7zM629 1407l7 -3l7 2l-4 3zM481 1297l-3 -2l0 -5l4 5zM610 1327l-10 14l-3 -4zM478 1278l-4 0l-8 -1l5 -1zM424 1386l9 5l-3 5zM555 1350l10 9l3 9l-11 -12zM541 1229l5 20l-5 1zM491 1328l-4 0l-4 -4l5 0zM621 1276l5 3l3 11l-9 -8zM609 1244l0 -4l9 -9l-5 12zM500 1226l0 4l-6 5l-4 -1l5 -8zM627 1270l-4 0l-22 -12l1 -1l20 9zM612 1404l1 6l-3 2l0 -4zM580 1278l-5 -5l0 -6l4 5zM388 1396l-4 4l-5 2l0 -1l3 -2zM588 1408l-5 8l-7 4l2 -6zM462 1350l18 -4l-4 4zM542 1306l5 5l0 5l-3 -3zM588 1341l6 -10l14 -7l-5 8zM453 1313l-9 -2l-3 -3l6 1zM651 1240l-2 2l-4 -4l2 -1zM648 1366l3 10l-2 3zM524 1375l-10 -13l5 3zM476 1261l-1 5l-5 10l2 -10zM505 1255l-11 1l-7 -3l6 -2zM519 1275l6 -11l4 3zM434 1303l6 -1l14 4l-17 1zM415 1262l-7 -3l-10 -12l14 7zM467 1418l-6 -1l-10 -6l-1 -4l13 7zM605 1288l-10 -2l-5 -5l5 1zM548 1271l9 5l0 5l-5 -2zM432 1388l-13 5l0 -3zM503 1370l-5 8l-8 8l-3 -1l10 -10zM584 1386l-12 1l-4 -3l7 -1zM562 1401l-18 -5l3 -2zM483 1277l5 3l6 9l-10 -9zM534 1223l-2 5l-5 5l-2 -1l6 -7zM480 1369l1 3l-7 5l3 -6zM638 1372l-4 2l-3 0l3 -2zM558 1232l6 1l6 8l-7 -2zM444 1409l5 -2l6 0l-3 1zM556 1419l-4 -4l2 -2z" fill="#7649b4"/>
<path d="M463 1228l6 -8l9 -5l-5 6zM526 1363l6 5l2 5l-5 -4zM625 1274l3 8l-4 18l-2 -11zM505 1219l0 9l-5 6l1 -6zM634 1370l-1 -3l3 -5l0 6zM531 1238l-22 -14l7 -1zM583 1412l6 -7l2 1zM503 1410l5 2l2 3l-4 0zM408 1370l3 1l1 9l-4 0l-2 -9zM458 1223l-3 3l-5 1l5 -4zM579 1253l-1 2l-5 -1l0 -1l3 -2zM385 1270l-5 10l-5 1zM464 1267l11 -11l5 -1zM391 1366l5 0l12 5l-4 4l-9 -4zM412 1428l-1 -7l3 -6l0 8zM635 1427l-2 -1l-2 -4l0 -1l5 6zM578 1340l6 0l3 0l-1 3l-5 2zM517 1269l-7 -3l-3 -6l6 2zM409 1364l-6 1l-3 0l-1 -1l8 -1zM432 1366l-3 1l-3 -1l-2 -1l7 -1zM426 1239l-10 -7l-13 -12l5 1l12 10zM553 1285l18 -13l8 -2l-4 6zM447 1336l1 -7l10 -4l-1 5zM493 1368l-2 4l-4 2l2 -4zM475 1393l-6 -7l-3 -7l7 4zM627 1388l4 3l3 9l-3 2l-4 -6zM651 1236l3 2l1 14l-6 -11zM655 1389l-4 1l-5 -1l2 -2zM488 1275l-5 8l-7 8l7 -11zM649 1302l4 5l-1 5l-2 -4zM490 1326l5 -5l1 3zM470 1383l-1 2l-6 -1l4 -2zM542 1313l-8 0l-7 -6l4 -2l6 1zM600 1347l-5 1l-12 -4l7 -1zM474 1358l7 5l9 9l-9 -6zM505 1320l-6 -4l-3 -7l4 0l2 3zM569 1264l-4 -3l1 -7l3 1zM478 1287l-6 -8l-2 -9l2 3zM623 1371l-9 -16l-7 -18l9 13zM578 1406l3 -5l9 -1l-2 3zM438 1281l10 12l8 16l-13 -17zM553 1409l-4 1l-7 -2l8 0zM412 1396l-3 -12l7 0zM405 1292l10 -5l5 -1l1 2l-10 3zM476 1230l3 6l-1 5l-3 -5zM527 1231l-9 5l-9 -1l4 -6zM549 1376l4 3l4 6l-4 -3zM618 1304l-7 4l-15 6l3 -3l10 -5zM447 1300l12 1l3 6zM624 1354l-2 3l-7 6l0 -2l4 -4zM476 1356l1 3l-2 3l-1 -2l-1 -1zM618 1311l-7 -2l3 -4zM451 1325l3 2l2 4l-3 -2zM519 1265l-10 1l-9 -3l-4 -6l18 2zM622 1324l-4 5l-10 3l3 -4zM552 1321l-8 -2l0 -6zM537 1395l7 -8l2 3zM445 1302l-1 -7l3 -7l0 10zM537 1249l0 5l-8 7l1 -6zM638 1350l-3 -1l-2 -6l3 -3l3 5zM566 1272l2 1l0 5l-2 1l-1 -3zM550 1210l3 7l3 18l-6 -11zM616 1356l10 -1l11 2l-9 3zM443 1359l0 9l-3 2l0 -3zM647 1405l-3 -1l-4 -2l3 -1l2 1zM586 1403l-2 -2l-2 -4l4 2zM634 1261l8 -3l-1 2zM602 1342l13 0l-2 6zM581 1282l-6 3l-2 -4zM480 1226l-1 -3l3 -3l1 1l-1 5zM461 1308l6 5l8 12l-7 -6zM643 1280l-1 -5l2 -5l2 7zM519 1280l4 3l5 5l-6 -3zM414 1319l-3 -9l-1 -11l4 13zM554 1357l-14 13l-8 4l10 -11zM622 1257l-9 1l-13 -2l14 -3zM535 1271l2 3l-3 11l-3 -2l2 -8zM489 1364l1 28l-4 -5zM454 1363l11 0l5 4l-10 0zM546 1318l-2 3l-8 5l-7 -5l13 -6zM498 1231l-9 8l-3 0zM479 1269l4 2l1 2zM491 1372l7 10l-2 1zM479 1244l-9 -3l-4 -7l4 1zM602 1415l-4 -4l0 -11l5 8zM435 1417l-3 3l-16 5l0 -2l12 -5zM646 1319l-2 6l-5 5l-4 -2l9 -12zM626 1416l-2 7l-2 1zM590 1363l6 -1l8 2l-5 1zM536 1332l6 -3l8 -2l-7 5zM500 1349l7 2l1 2zM518 1298l-11 9l-5 3l-3 -1l9 -6zM400 1223l4 4l0 2l-3 -1zM437 1260l10 -8l-1 4zM552 1241l-4 -7l0 -4l4 6zM408 1400l-4 14l-2 -1zM447 1237l11 -9l3 1l-5 4zM492 1311l3 12l-8 -4zM655 1235l-14 -2l0 -5zM410 1243l1 7l-5 8l0 -8zM621 1248l11 1l11 4l-8 1zM571 1322l-14 -8l7 -4zM618 1405l-11 4l-3 -2zM455 1286l-14 7l5 -8zM598 1376l-10 -1l-15 -8l14 4zM611 1420l2 -25l2 8zM385 1275l1 2l-3 6l-3 1l0 -7zM420 1397l2 -15l3 8zM568 1314l0 7l-4 4l-1 -5zM632 1255l7 1l8 3l1 2l-8 -2zM608 1251l7 11l-4 4zM483 1386l5 0l7 4l-5 2zM591 1253l-8 6l-9 0l2 -5l6 -3zM644 1358l5 -4l2 1l-2 2zM602 1307l10 3l3 2l-5 -1zM652 1299l0 -4l7 -7l1 7zM435 1267l6 1l-2 2zM516 1248l-2 6l-5 4l3 -8zM410 1387l-5 10l-4 -6zM514 1287l2 1l4 9l-6 0l-1 -4zM646 1401l14 -3l-2 3zM605 1417l1 -6l3 -4l-1 4zM568 1224l-12 -2l-21 -7l14 2zM524 1354l10 -3l-1 7zM452 1302l5 1l3 3l-6 2zM579 1394l-12 0l-19 -6l15 0zM594 1394l-8 9l1 -4zM518 1312l-13 -6l3 -3zM487 1399l-1 11l-5 7l-2 -3l2 -8zM474 1300l-2 -1l0 -6l3 -1l2 7zM418 1345l6 -4l3 1l-4 4zM644 1343l5 -10l3 4zM525 1406l-6 -2l-10 -8l10 5zM497 1365l8 4l10 8l-12 -6zM427 1293l-2 5l-2 3l-2 -1l2 -4zM559 1283l-2 3l-6 2l5 -4zM639 1381l-12 5l-1 -5zM386 1250l2 -3l4 -2l-1 2l-2 4zM498 1338l-5 -5l3 0zM627 1287l0 -15l5 5zM418 1411l-6 -14l-2 -16l2 2l7 19zM464 1387l7 -7l10 -6l2 1l-8 6zM580 1412l7 3l1 8l-6 -4zM494 1293l10 6l3 4zM603 1364l0 8l-3 4l0 -4zM544 1300l15 -11l9 -1zM633 1309l-2 -15l2 0zM444 1384l0 -4l4 -6l2 -1l-4 10zM502 1365l-4 -10l6 -3zM648 1338l-1 6l-3 4l0 -7zM448 1336l-10 1l-1 -4zM642 1412l-11 11l-6 -1l5 -6zM594 1414l3 6l3 8l0 3l-4 -8zM421 1265l2 -2l14 2l4 3l-14 1zM424 1350l7 9l2 12l-8 -9zM436 1244l8 1l8 8l0 3l-13 -8zM631 1298l-12 -4l-3 -4l7 2zM509 1388l11 -10l18 -10l-3 6l-15 8zM536 1250l0 -4l2 -3l0 4zM633 1303l1 -5l8 -5l-5 8zM489 1388l2 8l-1 6l-2 -8zM510 1301l-9 -6l-6 -8l-4 -8l16 16zM630 1326l13 -7l2 2zM613 1249l7 -2l13 6l-9 1zM410 1248l-4 10l-8 7l2 -10zM452 1225l3 -4l0 3zM412 1322l-3 -3l-2 -8l2 -3l3 9zM605 1312l-2 2l-8 2l5 -3zM647 1421l3 6l-1 2l-2 -5zM478 1411l11 16l-4 -1zM425 1371l-2 -7l6 -10l3 2l0 11zM636 1362l0 8l-1 13l-1 -1l0 -8zM538 1398l15 6l5 5l-14 -4zM487 1218l8 3l7 4l-6 -1zM597 1243l2 -5l4 -6l3 -3l-6 12zM638 1271l-2 -6l4 -10l4 5l-2 6zM619 1430l5 -10l10 -7l-9 13zM430 1222l-10 0l-8 -3l9 -1zM426 1223l2 8l0 15l-3 -16zM567 1247l-1 -11l2 -4l0 8zM611 1291l-5 0l-4 -6l8 3zM604 1287l3 -8l3 2zM413 1239l7 9l5 9l-3 -1l-5 -10zM520 1369l0 2l-3 1l0 -3zM417 1232l0 2l-2 4l-2 -1l1 -5zM473 1382l4 -2l8 1l6 2l-14 2zM495 1337l8 8l-3 0zM413 1251l-2 5l-6 6l2 -7zM598 1318l11 -8l5 2l-10 6zM396 1262l7 5l7 12l-3 1l-8 -9zM601 1290l9 1l3 2l-4 0zM656 1327l-2 0l-4 -3l1 -1l4 1zM435 1380l5 -3l7 7l-3 1l-9 -2zM491 1401l-3 6l-8 5l1 -3zM617 1242l16 -6l0 4zM537 1231l-10 -7l-5 -8l12 9zM526 1385l-2 -8l1 -8l1 -2l2 10zM431 1232l1 -9l6 -5l-3 9zM621 1410l1 -6l2 -2zM551 1370l-11 3l2 -2zM537 1407l2 -8l4 -5l-2 11zM451 1248l-4 -5l1 -3zM454 1290l0 5l-2 5l1 -4zM560 1425l-4 -5l-2 -2l3 -1l4 4zM388 1302l6 -13l3 6zM520 1297l10 -1l-4 5zM664 1363l-10 6l-15 4l15 -10zM552 1367l-2 -13l3 5zM651 1244l-5 9l-6 -5zM654 1409l-8 3l-7 0l-6 -2l20 -3zM649 1230l-2 14l-4 9l-2 -3zM492 1400l6 0l10 7l-10 -1zM415 1300l-5 3l-10 4l1 -2l9 -4zM485 1282l1 -2l17 0l0 3l-15 1zM446 1271l1 6l-3 3l0 -6zM422 1324l0 -5l4 -4l0 7zM593 1316l1 -4l4 -3l5 2l-6 7zM503 1388l7 6l3 5l0 1l-5 -4zM653 1381l-14 -5l-10 -9l11 5zM434 1305l0 -11l5 -8l-1 11zM439 1249l4 -9l12 -14l-6 14zM417 1249l2 14l-2 12l-3 -14zM541 1328l-9 -2l-5 -5l10 4zM377 1416l7 5l0 6l-5 -2zM514 1321l-2 9l-3 7l0 -7zM564 1257l-2 -7l0 -11l3 12zM409 1398l3 -6l3 3zM529 1220l3 0l6 9l0 3l-8 -8zM505 1251l2 1l-1 11l-1 -3l-3 -5zM628 1326l-1 2l-6 2l-1 -1l5 -3zM554 1264l-11 -2l1 -1zM459 1349l-6 -1l-9 -1l-2 -2l14 2zM561 1406l2 -1l8 1l-7 1zM613 1373l2 2l0 9l-3 -4zM528 1222l-2 -1l-2 -5l1 -2l3 5zM435 1280l0 11l-6 -2zM567 1253l1 7l-4 4l0 -7zM540 1259l2 11l-2 16l-3 -10zM428 1272l-2 3l-8 1l5 -4zM627 1398l4 14l-3 -5zM489 1233l-5 -10l-3 -12l8 12zM547 1322l4 -3l24 -3l-3 3l-20 4zM398 1315l2 -2l6 4l1 4l-8 -4z" fill="#6c40ae" fill-opacity="0.85"/>
<path d="M609 1265l-8 -2l-3 -8l10 2zM509 1414l7 -1l4 9l-6 -2zM500 1421l-3 4l-13 6l1 -3l6 -5zM407 1259l5 5l3 7l-4 -3zM629 1314l-5 -1l-3 -6l2 -2l6 6zM400 1374l1 4l-2 3l-2 -3zM534 1224l-10 -2l2 -1zM536 1336l6 -10l5 -3l1 1l-7 8zM638 1332l4 -16l7 -10l-4 12zM423 1375l-3 4l-11 6l-4 -1l13 -10zM483 1361l-7 2l-3 -3l4 -2zM506 1351l-11 -6l-4 -5l4 1zM528 1237l3 1l7 3l-1 2l-8 -1zM498 1328l9 -1l13 -1l1 2l-11 3zM478 1240l-5 3l-7 3l-2 -1l9 -4zM479 1364l-8 -5l1 -6zM393 1400l-9 7l-3 -4l3 -4zM649 1405l1 7l-3 7l-5 -1l1 -9zM654 1245l2 2l0 3l-2 3l-2 -5zM368 1395l12 -13l13 -9l-13 15zM632 1409l-3 3l-12 -1l4 -3l5 -2zM459 1371l2 1l7 13l3 8l-10 -14zM475 1420l11 -7l-2 5zM646 1317l-6 -4l-7 -8l7 4zM625 1326l2 10l-3 7l-2 -2l2 -8zM475 1328l-8 0l-3 -9l5 1zM577 1258l5 -3l15 -5l-5 4l-3 2zM515 1318l-1 2l-3 4l-1 -2l3 -5zM597 1322l7 2l5 5l-6 -3zM487 1298l-7 0l1 -2zM579 1228l-4 -5l3 -6l1 7zM567 1314l-13 19l-7 4l9 -12zM505 1334l7 4l-1 3zM635 1305l-2 8l-9 11l-3 -1l7 -12zM422 1379l-4 12l-7 -4zM620 1247l-13 4l-8 0l10 -4zM631 1356l2 -3l8 -2l-6 5zM582 1380l5 12l-3 9zM575 1280l-13 10l-4 1l6 -8zM578 1325l4 -2l8 2l4 2l-8 1zM605 1384l3 -2l3 0l2 1l-5 2zM477 1239l-7 0l-14 -7l12 2zM470 1321l-1 -16l5 -12l1 10zM589 1368l14 -13l8 -1l-8 7zM413 1297l13 -7l8 -1l-6 6zM446 1295l1 14l-5 4l-2 -7zM519 1307l-10 -3l-5 -5l7 2zM593 1295l-2 -2l1 -8l5 -2l1 9zM399 1354l2 4l-4 16l-2 0l-1 -17zM616 1219l2 4l-1 5l-3 -6zM555 1228l1 3l-1 3l-1 0l-1 -3zM465 1216l17 1l9 4l-12 1zM381 1381l5 9l-3 2l-3 -5zM614 1286l9 0l20 5l-20 -2zM434 1230l-1 -2l3 -7l2 2l-2 5zM651 1286l-1 2l-6 5l0 -1l6 -6zM376 1346l8 3l2 3l-3 0zM566 1291l-10 1l-12 -3l12 0zM539 1326l-3 -10l3 -15l2 18zM588 1260l-3 -6l4 -6l3 2l-1 4zM583 1328l6 -4l9 -4l-8 5zM619 1389l3 9l-3 1zM398 1224l3 -1l9 4l-3 1l-6 -1zM443 1362l-4 -8l-1 -6l5 9zM414 1309l3 3l3 7l-3 -4zM473 1352l-4 4l-20 -2l12 -3zM569 1286l-12 -12l2 -3zM449 1223l-14 2l-10 -4l15 -1zM439 1252l6 1l4 6l-6 -2zM565 1355l3 -13l7 -1l-2 9zM610 1374l-6 2l-11 1l8 -2zM482 1322l-9 1l-13 -4l14 1zM426 1302l5 -5l8 1l-6 6zM462 1387l5 -3l6 1l-6 2zM412 1338l0 -3l3 -3l2 -1l-2 7zM636 1423l-1 -4l1 -3l2 1l1 4zM582 1362l11 7l5 6l-8 -5zM445 1378l9 -4l6 -1l-2 3l-6 3zM511 1375l6 -2l4 1l-4 1zM422 1243l5 -11l6 -3l-1 8zM653 1250l-3 5l-15 7l0 -4l9 -8zM416 1246l4 1l5 4l-4 -1zM392 1305l-18 -2l2 -3zM386 1274l7 4l0 3zM630 1268l-5 -6l1 -10l5 -2l2 10zM452 1217l7 0l14 3l-5 2l-6 -1zM606 1367l-11 13l-9 6l10 -12zM560 1408l3 6l2 10l-1 3l-3 -10zM576 1226l-13 -8l-8 -6l16 7zM428 1302l8 1l5 3l4 6l-10 -4zM537 1232l-1 -11l3 4zM586 1287l6 7l1 8l-8 0l-1 -11zM616 1350l0 -6l12 -13l2 2l-5 7zM586 1231l6 2l3 4l-5 0zM378 1254l3 0l1 5l-3 -2zM541 1227l13 -11l2 4zM572 1320l-2 -5l11 -17l-1 7l-5 11zM394 1224l2 4l0 5l-1 -1l-1 -6zM668 1272l-9 14l-10 9l6 -11zM600 1411l0 -11l5 -4l0 9zM427 1282l8 10l-3 2zM620 1359l-4 4l-9 2l2 -2l6 -3zM632 1265l4 -5l1 0zM604 1253l-11 -2l-9 -6l10 2zM596 1269l5 2l12 6l-5 -1l-6 -2zM624 1328l2 -7l4 -5l-2 8zM453 1232l-10 4l-7 -1l9 -3zM544 1235l6 0l10 5l1 2l-16 -5zM515 1299l7 3l0 6l-1 5l-8 -9zM426 1222l3 7l1 7l-4 -5zM578 1375l2 7l0 15l-3 -11zM413 1347l-4 -3l2 -5l3 3zM587 1234l-8 3l-10 0l1 -4l9 -1zM494 1413l5 5l5 5l-6 -4zM517 1284l-13 -8l3 -2zM395 1219l10 -2l3 3l-6 3zM476 1426l-6 0l-4 -2l4 0zM431 1386l-25 -4l1 -3zM632 1393l-2 -1l-9 -10l6 4l4 4zM520 1279l2 -3l5 -3l3 0l-8 4zM627 1381l0 4l-2 7l0 -8zM469 1399l-7 2l-11 -4l8 -1zM449 1257l-6 -2l-3 -7l6 1zM593 1269l-14 4l3 -5zM540 1264l-2 11l-5 -4zM644 1370l9 -5l5 2l1 2l-6 3zM465 1360l9 -9l8 -5l-9 9zM451 1243l-16 -8l-16 -11l11 5zM614 1286l15 12l5 5l-6 -1zM471 1332l6 -2l5 0l-5 2zM549 1332l1 -16l5 -1zM410 1350l-2 5l-5 7l2 -5zM451 1234l-9 7l-5 3l-4 2l8 -7zM388 1299l6 5l5 7l1 4l-8 -9zM410 1312l5 4l-1 1zM621 1363l-2 2l-4 -2l0 -3l4 0zM643 1276l5 -1l18 9l-15 -1zM521 1396l4 5l1 7l-4 -6zM399 1238l7 0l5 2l3 3l-8 -1zM630 1406l-3 11l-6 6l3 -10zM392 1216l17 4l7 3l-13 -2zM551 1309l4 0l7 9l-2 1l-8 -3zM423 1383l-9 1l0 -5zM444 1315l4 -1l8 9l-3 1l-5 -4zM504 1304l4 -8l3 0zM631 1403l-9 -2l-5 -5l6 1zM495 1395l-6 23l-1 -6zM571 1240l11 -6l5 2l-5 5zM507 1337l-9 -4l-9 -9l14 5zM480 1400l0 -2l1 -7l2 1l-1 5zM375 1351l16 2l18 7l-17 -1zM627 1403l21 14l0 6zM478 1353l2 7l0 6l-2 0l0 -6zM382 1378l-2 -4l0 -3l1 0l1 4zM507 1252l-8 3l-3 -4l7 -3zM404 1391l4 -5l4 -4l-2 4zM515 1354l4 10l-2 -2zM492 1370l-7 14l-1 -4zM611 1281l1 4l-2 8l-1 -9zM555 1248l-7 -3l-4 -13l9 7zM493 1243l-2 -4l1 -4l2 3zM509 1227l-5 3l-1 -1l2 -3zM635 1355l-12 -10l-1 -6zM439 1385l27 9l3 6zM495 1385l4 3l-2 1zM502 1275l-4 -6l-2 -8l4 -3l4 11zM464 1344l8 -10l3 2zM429 1389l-2 5l-4 5l2 -5zM547 1359l1 7l-1 2l-2 -5zM461 1276l2 -5l1 -1zM533 1351l-1 -3l3 -9l3 -3l-2 11zM654 1317l-1 -4l0 -4l2 5zM577 1370l-6 6l-4 -1zM478 1348l4 -2l16 9l5 5l-17 -8zM411 1412l-1 7l-8 0l3 -8zM540 1402l-3 -15l4 2zM607 1269l2 6l-1 3l-3 -4zM428 1417l-4 -1l-8 -5l8 2zM650 1233l7 7l-1 5l-4 -3zM650 1326l-5 -4l0 -4l4 4zM407 1429l-3 -4l4 -6l2 7zM575 1262l1 6l-2 6l0 -6zM646 1253l3 -3l11 1l-6 4zM490 1264l-5 -14l1 -5zM486 1416l-12 7l-12 2l15 -8zM620 1424l0 -3l9 -7l2 0l-5 9zM529 1346l-7 -3l-6 -5l8 3zM526 1234l2 -3l5 -7l0 1l-3 6zM567 1250l2 -2l3 8l-1 3l-4 -6zM613 1236l9 0l2 2l-5 1zM471 1269l8 -3l6 0l-7 3zM398 1359l-4 -7l-4 -6l4 1l3 6zM613 1373l4 3l-3 4zM499 1374l-1 -6l2 -8l3 -1l-2 13zM637 1212l3 17l-1 7l-2 -12zM483 1233l4 -7l7 1l-3 5zM633 1362l4 -3l5 0l-5 4zM465 1246l4 -5l6 0l-5 3zM626 1420l-3 -9l-1 -10l4 -3l3 12zM589 1358l6 8l2 7l-4 -4zM405 1309l-2 -3l0 -5l3 5zM665 1252l-8 12l-9 4l6 -11zM427 1424l12 -8l7 -1l-5 6zM631 1385l8 8l-8 3z" fill="#6238a6"/>
<path d="M384 1342l10 2l-3 3zM470 1367l7 9l-4 3zM593 1348l-2 6l-10 9l5 -9zM462 1337l8 -4l9 0l-10 3zM524 1428l5 -15l2 1zM486 1255l0 -6l6 -6l-2 12zM546 1255l-1 -1l0 -7l2 0l1 7zM499 1246l4 19l-4 -1zM555 1370l-2 -1l-2 -10l2 3l1 4zM656 1254l-12 8l0 -2zM408 1367l12 2l8 5l-4 2l-7 0zM655 1375l-3 -1l-3 -7l2 0l5 5zM654 1285l-7 9l0 -4zM413 1260l0 -4l5 -13l-1 9zM533 1282l12 -12l-1 5zM401 1267l4 6l-4 0zM595 1216l-1 9l-3 5l0 -7zM641 1324l-5 1l-7 -5l8 1zM598 1412l0 8l-5 9l-1 -5l1 -8zM464 1368l-4 8l-6 2l5 -6zM625 1395l2 4l2 10l-3 -5zM512 1263l-3 -4l3 -1zM452 1387l-1 -5l2 -6l0 5zM536 1318l9 -2l7 2l-11 2zM611 1230l-11 2l0 -3zM574 1334l-6 -1l-3 -4l-2 -5l10 3zM487 1255l6 8l-4 2zM479 1291l4 12l-4 1zM587 1244l1 -3l5 -7l0 3l-2 3zM514 1374l0 -7l4 -1zM567 1273l-5 11l-5 4l-5 -3l12 -13zM639 1237l-5 0l-5 -1l6 -2zM557 1316l11 -3l8 0l-8 5zM600 1275l-7 -6l-1 -6zM474 1254l-6 -7l0 -6l5 6zM439 1325l-2 6l-4 -1zM518 1219l17 -2l13 0l-1 3l-21 2zM459 1279l-5 -4l-2 -4l1 -2l4 5zM550 1416l16 -6l9 0l-15 7zM516 1226l0 -10l4 4zM489 1364l9 -4l13 0l-15 6zM541 1240l5 -10l5 -9l-1 6l-2 4zM596 1311l7 -5l1 2zM410 1349l0 -16l2 5zM665 1262l-9 12l-10 6l9 -10zM540 1355l-8 4l-6 -3zM608 1321l8 -1l8 3l-4 3zM593 1265l2 3l-1 2zM398 1387l3 0l4 3l-4 0zM577 1413l4 3l-3 1zM468 1253l-2 -2l14 -6l1 3l-6 3zM488 1250l0 -10l3 -1zM604 1372l-1 8l-5 -3zM501 1274l3 4l2 6l-4 -5zM400 1283l-2 -6l1 -8l2 0l1 9zM611 1345l3 2l7 13l-5 -1l-7 -10zM574 1303l12 -4l3 3zM403 1299l-8 -3l2 -4zM597 1302l4 -6l10 -8l1 4l-7 10zM651 1359l-6 0l-6 -6l7 0zM388 1417l7 2l4 6l-8 -1zM611 1239l-7 -3l-6 -4l11 4zM581 1327l-4 -3l-8 -17l9 11zM542 1268l18 -4l-4 3zM510 1360l3 -6l11 -2l-6 5zM488 1239l7 0l7 4l1 5l-11 -4zM606 1342l1 3l-6 10l2 -8zM448 1228l-9 -6l0 -6zM445 1233l8 5l1 12l-5 -5zM617 1349l14 7l13 12l-16 -8zM444 1338l10 -9l5 3zM519 1374l-8 3l-4 -3l8 -5zM468 1355l-5 3l1 -3zM659 1265l-16 2l-4 -4l13 -2zM403 1286l0 -14l3 -1zM556 1243l-3 0l1 -8l3 4zM598 1423l-8 -3l5 -5zM455 1254l6 -4l5 -2l2 1l-6 3zM626 1244l-6 -1l-5 -6l11 3zM619 1238l-5 -4l-1 -7l6 5zM400 1298l2 3l-3 3l-1 -4zM589 1379l-1 -5l7 -11l1 6zM409 1412l1 -26l3 12zM421 1307l3 4l4 11l-3 -1l-3 -10zM390 1333l2 7l-2 1l-1 -2zM489 1345l-3 8l-6 1l-4 -1l8 -7zM516 1229l-9 -5l-10 -12l16 12zM503 1253l-3 6l-6 0l3 -3zM564 1314l-2 -4l-2 -12l4 4l3 12zM454 1348l9 6l10 13l-14 -12zM453 1317l-3 -4l0 -8l2 0l3 6zM477 1232l-6 5l-8 2l7 -5zM546 1249l-7 16l-9 12l0 -2l8 -15zM436 1379l-4 16l-2 -8zM623 1380l-8 -3l-12 -15l13 9zM531 1360l11 -9l13 -6l-4 5zM394 1352l6 5l1 3l-5 -3zM638 1317l1 -4l12 -12l1 3l-7 10zM439 1257l12 6l2 7zM486 1387l-8 2l-6 0l8 -3zM538 1210l-1 12l-7 13l2 -12zM509 1306l5 2l14 18l-17 -15zM662 1387l-5 -2l-7 -12l0 -3l7 6zM559 1295l-6 4l-7 2l6 -4zM642 1422l-17 0l-6 -2l11 0zM534 1352l4 -7l3 -3l-2 5zM590 1270l4 17l-3 -4zM521 1337l3 1l6 15l-6 -2l-5 -9zM417 1370l2 1l-2 5l-2 -3zM646 1374l-8 -3l-2 -4zM639 1388l16 -6l-1 5zM515 1400l-15 8l4 -3zM427 1425l-7 -8l-4 -13l8 10zM507 1401l-5 -7l0 -3zM502 1329l3 7l-3 1zM625 1394l7 17l2 17l-5 -14zM637 1333l-7 -12l2 -6l7 7zM594 1230l-3 0l-7 -2l6 0zM552 1307l-6 -5l-4 -9l6 7zM602 1280l-3 8l-7 9l5 -11zM472 1332l4 4l0 7l-2 -3zM465 1228l4 -7l0 4zM578 1333l-5 -7l2 -1zM442 1294l-6 -5l-9 -9l9 6zM615 1282l5 -6l1 1zM555 1391l6 -4l0 4zM663 1251l-7 4l-4 2l-5 -2l9 -5zM469 1393l-3 12l-8 13l6 -17zM525 1288l5 0l0 3zM517 1358l-8 0l-1 -3zM537 1270l-1 3l-7 4l2 -3l2 -2zM419 1268l2 -1l5 5l1 2l-7 -3zM385 1270l7 -10l6 -5l-3 7zM408 1368l14 1l-4 3zM523 1253l-6 -8l3 -5l5 7zM462 1275l-15 1l2 -6zM550 1280l1 5l0 5l-1 -5zM513 1259l-17 -3l1 -2zM593 1289l2 10l1 8l-3 -11zM644 1426l-13 -8l-6 -6l11 6zM532 1262l4 4l0 6l-2 -1l-3 -7zM529 1273l-6 6l-1 -3zM485 1342l-5 5l0 -5zM476 1304l-3 4l-2 -1l2 -4zM471 1409l-4 0l-8 -9l11 6zM648 1322l4 0l3 6l-6 -3zM643 1214l-10 11l-3 -6zM609 1393l-10 8l-3 -6zM500 1396l3 -8l7 -7l-4 8zM444 1354l-7 7l-12 9l5 -8zM577 1413l-8 -3l-4 -4zM563 1383l-3 5l-4 3l3 -5zM446 1333l1 3l-1 4l-1 -1l0 -2zM594 1362l-6 6l-5 -2l6 -4zM487 1253l4 0l0 7l-5 -2zM408 1260l2 1l0 4l-3 -2zM528 1261l2 5l2 13l-3 -8zM518 1241l4 2l-3 2zM538 1258l9 -5l12 0l-13 5zM532 1399l-7 -5l-10 -15l11 8zM417 1353l5 -21l1 9zM413 1365l3 16l-4 0zM442 1318l-3 4l-13 6l7 -8zM501 1281l-3 0l-8 -9l3 0l4 4zM499 1405l-4 1l-3 -1l3 -1zM516 1304l8 -12l7 -4l-8 10zM528 1350l9 3l1 4l-4 -1zM393 1395l9 -6l4 4zM607 1299l-14 -9l-3 -4l14 7zM605 1282l-9 -7l1 -4zM626 1282l10 3l4 7zM477 1424l11 -5l7 0l-8 3zM445 1242l5 -4l4 0l-4 2zM505 1297l11 2l13 4l-16 -2zM609 1235l10 4l-5 5zM460 1345l-6 3l-9 -1l9 -4zM615 1408l1 15l-1 15l-1 -4l-1 -22zM496 1386l5 -6l14 -4l-6 5zM618 1316l4 -8l5 -5l-5 9zM627 1425l-8 -1l2 -7l6 2zM572 1251l4 4l-1 5l-4 -4zM589 1288l6 5l-1 9l-3 -3zM530 1354l-2 0l-2 -5l2 1l4 4zM527 1254l1 -5l6 -5l-2 5zM640 1353l2 6l1 10l-1 3l-3 -11zM395 1332l-9 9l-4 3l-6 3l8 -10zM549 1379l-4 -5l-3 -13l5 8zM582 1386l-14 2l2 -4zM603 1281l-3 8l-4 1l2 -5zM454 1364l-2 -6l0 -5l2 5zM414 1295l12 -2l0 2zM454 1370l1 2l-3 15l-3 2l4 -21zM419 1239l5 -9l4 -3l-2 7zM642 1299l8 -1l4 4l-8 -1zM440 1364l7 0l11 4l-1 4l-13 -5zM408 1292l-11 -10l-9 -13l0 -5l11 15zM413 1329l-4 14l-7 8l3 -13zM545 1290l-9 -2l1 -4zM531 1334l-2 3l-7 -1l0 -1l7 -2zM400 1223l-9 10l-10 7l7 -8zM555 1298l-8 8l-4 4l-4 0l11 -10zM507 1378l5 -6l4 0l-4 4zM644 1395l2 2l1 7l-1 1l-2 -6zM503 1287l-8 -6l-2 -5l9 7zM507 1364l19 3l9 2l0 2l-10 1zM509 1341l2 -8l5 -10l-2 9zM584 1338l0 -12l8 -12l-1 10zM416 1373l4 8l0 11l-2 -3l-1 -5zM575 1429l-16 -2l-14 -3l16 0zM645 1289l-14 0l-17 -5l18 0zM614 1385l1 3l-1 4l-2 -2l1 -4zM422 1246l-6 -1l-3 -6l5 2zM462 1403l-8 -4l-5 -8l10 6zM554 1414l-10 2l-16 -3l15 -2zM535 1386l-8 -4l3 -1zM584 1376l3 7l-3 19l-2 -20zM415 1387l6 18l-3 -2zM442 1279l-15 6l-11 2l15 -7zM522 1393l12 3l4 6l-5 2zM514 1424l3 -2l7 -2l0 5l-9 4zM625 1337l-4 0l0 -3zM469 1271l-14 4l0 -2zM404 1288l-6 0l-10 -3l11 1zM517 1311l-5 -8l1 -4l3 5zM536 1300l-11 -5l-3 -6l9 4zM456 1285l5 -4l10 0l-9 5zM624 1261l-4 -9l-5 -16l5 4l3 11zM503 1384l-12 -4l-3 -5zM588 1306l-14 1l-7 -5l16 0zM606 1338l12 -1l-1 2zM513 1417l8 -3l8 0l-5 3zM479 1252l-11 -13l6 1zM599 1266l11 -9l1 3zM471 1424l-11 2l-2 -2zM622 1378l-5 -1l-1 -3l4 1zM434 1394l-3 -19l2 -5zM538 1320l-3 2l-2 -1l1 -2zM465 1252l-4 2l-9 -3l-1 -4l10 3zM489 1421l0 2l-4 2l-3 -3l4 -2zM489 1355l-1 -3l3 -3l1 4zM434 1367l8 8l1 6l-6 -6zM486 1312l-7 -7l-3 -10l5 5zM543 1354l3 3l0 4l-4 -4zM500 1428l-8 -3l-4 -2l3 0zM477 1261l6 11l-2 1zM552 1226l0 4l-3 6l0 -3zM646 1259l-9 1l-8 -2l7 -3zM422 1300l-3 -8l0 -7l3 7zM646 1269l-5 1l-5 -3l7 -3zM574 1316l-8 -4l-2 -9l9 6zM574 1332l2 -15l4 -10l2 -3l-3 15zM424 1261l-4 -1l-4 -3l5 0zM436 1263l6 11l2 13l-7 -13zM617 1315l10 4l2 7zM657 1286l-5 -2l-3 -9l7 7zM657 1276l-3 -5l-1 -5l3 3z" fill="#7649b4" fill-opacity="0.85"/>
<path d="M397 1401l4 -2l6 1l-6 1zM418 1229l4 3l1 7l-3 -3zM639 1431l-17 -15l8 4zM416 1241l1 -8l2 -1zM589 1234l-8 -7l6 -2zM444 1317l2 -17l2 -6l1 9zM494 1219l0 8l-5 12l-2 -9zM533 1346l-13 8l-9 5l-5 0l10 -7zM410 1332l6 -23l2 1zM477 1378l8 -7l8 -4l-7 7zM395 1288l-6 6l0 -3zM559 1308l4 -8l6 0l-2 5zM453 1261l-9 0l-6 -4l9 -1zM410 1245l-6 0l-3 -1l-1 -1l6 1zM549 1308l-21 7l2 -3zM382 1233l2 -9l5 -1l-3 6zM429 1279l0 3l-3 5l0 -3zM534 1336l7 -11l3 6zM444 1404l9 -6l9 -3l-11 7zM589 1359l5 -1l6 2l-5 0zM422 1301l11 -5l4 3l-7 3zM431 1281l1 2l-5 7l-2 1l5 -10zM611 1340l11 1l10 3l-8 1l-4 -1zM483 1391l-6 -3l-4 -8l5 1l4 3zM419 1287l-15 4l-9 0l15 -5zM620 1263l11 -9l14 -3l-12 8zM613 1298l1 5l-1 12l-2 -9zM372 1286l11 7l2 7zM593 1383l4 10l-2 2l-3 -6zM461 1412l-3 3l-15 4l-3 -3l11 -4zM626 1246l3 -2l9 0l-1 4l-8 0zM460 1271l4 -11l4 -9l3 1l-3 8zM647 1324l2 -1l8 3l-3 2l-6 -1zM613 1285l2 -13l0 5zM593 1249l4 9l2 8l-2 0l-4 -11zM638 1350l-7 0l-6 -2l9 0zM606 1364l6 8l-1 8l-5 -9zM488 1398l1 -1l13 -4l2 2l-14 4zM407 1269l-3 7l-14 9l7 -8zM617 1351l-6 -1l-1 -7l5 3zM633 1264l-1 3l-4 3l2 -5zM475 1372l5 18l-6 -8zM397 1357l6 0l4 6l-6 0zM540 1413l0 8l-3 -1zM419 1236l-5 -11l7 1zM589 1318l2 0l3 4l-3 0zM550 1251l0 5l-3 10l-2 -8zM652 1256l-12 7l-1 -4zM491 1420l-2 5l-4 5l0 -2l2 -2zM608 1398l7 2l6 5l-7 -3zM397 1265l3 -10l7 -3l-4 9zM391 1294l4 3l2 7l-7 -6zM602 1325l-10 -14l4 -3zM404 1234l-1 4l-8 4l4 -5zM611 1401l-5 0l-5 -5l5 1zM614 1405l8 3l8 7l-7 -2zM590 1265l3 5l-6 2l-1 -4zM581 1381l1 -4l7 -4l1 4l-5 5zM587 1256l-4 4l-5 2l3 -5zM651 1277l0 -9l6 -1zM612 1401l2 26l-6 2zM462 1374l8 7l5 6l-9 -6zM538 1358l-4 3l-2 -2l4 -2zM556 1423l-9 -2l-9 -4l7 0zM483 1319l-1 -6l6 -9l1 0l-3 11zM536 1217l9 17l1 7l-3 -4zM440 1366l12 -3l22 1l-18 4zM393 1299l8 -3l7 1l0 1l-6 2zM451 1309l8 -4l9 -4l1 3l-12 5zM397 1368l4 4l3 11l-5 -7zM512 1262l3 -15l6 6zM375 1375l1 -1l9 9l0 2l-9 -7zM420 1315l-1 4l-8 3l0 -2l5 -5zM577 1308l-3 8l-5 2l1 -6zM473 1361l4 2l-2 4zM409 1345l-1 7l-9 2l4 -9zM419 1326l4 -2l4 1zM608 1400l0 -4l2 -3l2 0l-3 6zM424 1350l-2 13l-1 -5zM661 1332l-5 6l-9 3l5 -7zM632 1316l-8 2l-8 1l3 -2l8 -2zM561 1362l3 2l3 6l-2 -1l-2 -4zM574 1364l20 -9l7 3zM517 1400l-12 9l-9 -4l9 -5zM577 1348l0 6l-1 -2zM464 1322l-7 -5l0 -9l0 -5l9 12zM609 1228l0 15l-2 -2zM603 1357l6 2l3 2l2 2l-9 -4zM508 1300l2 9l-3 14l-2 -7zM513 1414l0 13l-4 7l1 -14zM392 1402l4 -6l4 0l-4 4zM615 1404l-4 0l-5 -3l0 -2l4 2zM470 1307l2 5l-2 2l-1 0l0 -3zM452 1407l3 6l-3 11l-3 -12zM651 1323l-1 -8l3 -2l1 4zM551 1403l-3 -1l-4 -3l0 -2l3 1zM441 1321l-3 12l-8 9l3 -8zM618 1315l-8 -6l-4 -4l7 5zM520 1255l-6 -12l-2 -16l8 19zM619 1362l8 -5l15 3l-11 7zM419 1248l-8 -1l-1 -4l7 0zM576 1271l-8 -18l3 0zM634 1233l3 17l-4 6l-1 -15zM458 1217l4 4l2 7l-5 -4zM460 1228l4 -6l4 -1l-2 5zM438 1340l3 8l-2 7l-1 -2l-3 -13zM653 1391l-3 8l-5 2zM621 1387l8 -7l9 -3l-8 7zM548 1401l7 2l6 3l-6 0zM413 1254l0 -4l9 -10l-3 8zM500 1359l-1 -15l4 0zM661 1352l-9 12l-4 3l2 -5zM443 1402l-9 0l1 -3zM459 1409l8 6l4 7l-7 -5zM592 1339l-2 1l-7 -2l0 -1l8 1zM497 1332l9 -5l10 -2l1 1l-13 5zM466 1226l3 -5l1 2zM615 1252l1 -11l1 5zM456 1369l13 14l-3 2zM500 1401l-4 13l-6 4l2 -12zM485 1282l1 9l-3 3zM622 1264l4 -4l7 -4l-7 7zM626 1284l15 8l6 10zM543 1353l4 3l3 7l-4 -3zM402 1246l-5 -6l1 -3l5 3zM372 1284l12 -6l13 -3l6 0l-18 7zM373 1273l9 -4l18 -2l-17 7zM404 1218l8 11l-6 0zM618 1292l1 -6l6 -8l0 2l-3 8zM443 1412l-4 -7l0 -12l1 0l3 12zM428 1232l-2 -4l6 -4l0 8zM430 1389l-6 4l-7 -6l9 -3zM575 1247l-6 -7l5 1zM387 1395l-3 -5l-2 -5l5 4zM474 1261l10 -3l1 3zM424 1243l-7 15l-9 5l2 -6zM589 1331l11 10l9 14l-7 -5l-5 -4zM517 1325l-4 1l-6 0l5 -2zM568 1312l2 4l0 7l-6 -1l1 -5zM377 1386l4 -2l7 -2l1 2l-3 1zM592 1235l4 -25l3 6zM519 1279l-12 6l2 -3zM508 1271l-6 12l-6 3zM408 1301l-6 -2l-4 -3l-1 -7l8 6zM506 1348l-9 7l-1 -5zM606 1418l8 8l-2 2zM548 1326l0 -5l1 -9l1 3l0 4zM399 1322l-8 0l-3 -3l7 -3zM624 1378l11 10l3 6l-7 -6zM472 1334l-17 -3l6 -1zM393 1406l1 12l-2 0zM647 1246l-4 7l-5 -2zM633 1414l6 1l5 3l-5 -1zM437 1400l3 -4l4 0l5 1l-10 5zM519 1337l-3 -7l0 -3l2 5zM606 1301l1 -10l1 -5l0 7zM548 1309l5 14l-5 -4zM500 1262l-7 -3l1 -2zM629 1362l0 -2l3 -3l2 2l-3 3zM493 1400l3 -1l5 1l-5 1zM629 1368l-10 9l-8 0l-5 -2l15 -7zM481 1273l4 -3l16 -2l-9 4zM461 1290l-5 -5l6 -7l5 8zM634 1210l9 8l7 13l-8 -8zM427 1363l-2 -4l-2 -17l5 8l2 6zM540 1289l10 -2l0 2zM532 1224l2 4l-1 4l-3 -5zM446 1336l18 1l0 3zM501 1374l4 -5l3 0l-2 4zM383 1327l9 10l5 8l-10 -7zM634 1225l-1 20l-4 -5zM646 1286l-10 11l-10 -2zM652 1390l-10 9l-5 -6zM466 1416l-10 -2l-14 -5l12 2zM499 1377l8 -1l11 1l-14 3zM606 1287l-4 5l-5 -1zM526 1239l2 4l2 10l-3 -6zM570 1266l-2 3l-15 -1l11 -3zM562 1248l8 4l-2 1zM513 1379l8 3l3 3l0 2l-6 -3zM520 1408l1 -3l3 0l0 3zM452 1316l-7 0l-9 -5l7 1zM609 1287l5 0l5 4l-5 0zM623 1307l-3 -2l-3 -11l2 -1l5 12zM507 1249l-13 4l-9 -1l11 -4zM463 1222l3 5l1 11l-4 -6zM419 1288l6 -17l7 -7l-5 16zM598 1259l5 5l-1 6l-5 -6zM406 1369l8 -5l8 -2l-11 6zM509 1279l-4 20l-2 1zM377 1280l17 5l2 4zM397 1398l2 11l-1 8l-3 0l1 -13zM566 1263l-2 8l-4 0zM617 1255l-7 4l-13 1l10 -6zM562 1359l4 1l1 5l-4 -2zM648 1345l-12 -8l4 -5zM527 1230l-7 1l-10 -2l3 -2l11 1zM602 1389l-4 -4l-5 -11l7 8zM428 1349l-7 2l-13 2l0 -3l12 -3zM403 1386l1 -4l6 -6l-3 5zM406 1344l3 19l-2 -3zM568 1224l9 12l-5 -3zM661 1416l-7 0l-19 -13l7 1l18 9zM426 1359l8 0l14 3l-9 1zM453 1299l5 -2l7 2l-8 2zM558 1247l-21 -13l5 0zM503 1223l-8 1l-10 1l-5 -3l14 -1zM596 1251l-12 -6l-3 -4l11 5z" fill="#6238a6" fill-opacity="0.85"/>
</g>
<linearGradient id="gb9" x1="0" y1="0" x2="1" y2="1"><stop offset="0" stop-color="#48628a"/><stop offset="1" stop-color="#4e6b95"/></linearGradient>
<radialGradient id="gs9" fx="0.500" fy="0.500"><stop offset="0" stop-color="#86a09e"/><stop offset="0.6" stop-color="#98b2ac"/><stop offset="0.9" stop-color="#b4ccc4"/><stop offset="1" stop-color="#cfe2da"/></radialGradient>
<rect x="88" y="1479.6" width="283" height="209" fill="url(#gb9)"/>
<ellipse cx="215.9" cy="1583.7" rx="53.3" ry="52.8" fill="url(#gs9)" stroke="#dcece6" stroke-width="2" stroke-opacity="0.75" filter="url(#soft)"/>
<clipPath id="cs9"><ellipse cx="215.9" cy="1583.7" rx="54.3" ry="53.8"/></clipPath>
<g clip-path="url(#cs9)" stroke-linecap="round" fill="none" filter="url(#soft)">
<path d="M184.2 1591.1l-0.3 -0.1M248.9 1573.3l-0.6 0M225.9 1558.5l-0.8 -0.7M230.4 1538.1l-0.5 -0M197.6 1589.4l-0.7 -0.7M248.5 1574l0.5 0.2M240.1 1580.7l-0.7 -0.3M248.8 1614.9l0.2 -0.5M189.5 1572.1l-0.7 0.3M221.2 1548.4l0.6 0.8M206.5 1550l0.6 -0.4M225.8 1544.2l-0 0.5M221.6 1611.2l0 0.8M221 1545.5l-0.3 -0.5M202.5 1571.3l0.6 0.7M234.1 1617.8l-0.7 0.5M166.6 1567.2l0.1 -0.6M217.8 1583.8l-0.3 -0.7M214.3 1536.4l0.2 0.5M221.5 1538.1l0.5 0.6M225 1611.8l-0.5 0.1M234.1 1584l-0.1 0M204.1 1601.4l-0.7 -0.3M248.3 1619.3l-0.1 0.6M188.3 1604.8l0.1 -0.7M168.1 1582.8l-0.1 -0.1M172.2 1600.9l-0 -0.3M171.8 1561.9l-0 -0.2M211.1 1632.4l0.7 -0.3M258.1 1569.7l0.7 -0.6" stroke="#6a8688" stroke-width="1.2" stroke-opacity="0.30"/>
<path d="M191.5 1565l-0.5 0.7M240.6 1575.9l0.6 0M238.5 1579.3l0.3 0.8M215.4 1535.4l0 -0.4M213.6 1631.8l-0.1 -0.5M205.7 1569.3l-0.2 -0.8M241.6 1622.4l0.5 -0.6M210.7 1621.9l-0.5 -0.6M240.5 1561.2l0.3 -0.1M221.7 1628l0.7 -0.4M198.3 1575.9l0.8 -0.2M214.5 1554.6l-0.4 0.7M258.9 1566.2l-0.1 0.3M240.3 1545.1l0.8 -0.1M248.6 1561.7l-0 -0.4M208.8 1538.5l-0.3 -0.1M209.6 1611.9l0.5 -0.2M215.3 1581.2l0.7 -0.7M188.2 1606.5l0.1 -0.3M178.9 1621.5l0.2 -0.3M201.8 1633.2l0.7 0.1M231 1572.2l0.2 -0.7M196 1562.4l0.4 -0.2M206.2 1609.8l-0.6 0.1M210.5 1605.1l-0.2 0.5M242.1 1570.4l-0.4 0.6M249.1 1623.2l-0.6 0.3M220 1535.7l-0.6 -0.6M244 1574.1l-0.5 0.3" stroke="#e0eee6" stroke-width="2" stroke-opacity="0.45"/>
<path d="M252.3 1565l0.7 -0.5M202.6 1539.5l0.3 -0.4M204.7 1549.9l0.3 -0.8M167.4 1604.1l-0.7 -0.2M256.3 1569.7l0.2 -0.4M214.7 1582.1l0 0.6M229.5 1564.9l0.4 -0.8M194.9 1547.3l-0.2 0.3M239.7 1554.6l-0.5 0.4M231.6 1623.1l0.1 -0.4M195.8 1603.5l0.5 -0.3M202.5 1548.7l-0.1 0.4M254.8 1599.9l0.3 -0.1M233.3 1607.3l-0.7 -0.3M196.6 1628l0.6 0.6M186 1624.3l-0.3 -0.3M191.8 1581.2l-0.6 0.6M213 1604.8l0.4 0.4M236.5 1600.7l0.2 -0.1M196.1 1543.3l-0.5 -0.1M254 1596.6l-0 -0.6M194.7 1544.9l0.2 -0.4M231.8 1534.2l-0.6 -0.4M183 1585.7l-0.6 -0.6M170 1594.2l0.5 0.5M187.4 1597.4l-0.8 0.1" stroke="#50686c" stroke-width="2" stroke-opacity="0.30"/>
<path d="M223.5 1630.1l-0.2 -0.3M259.1 1595.6l0.6 0.6M211.7 1569.8l-0.1 -0.1M235.1 1550.9l-0.3 0.1M197.5 1573.3l-0.4 -0.5M240.2 1613.7l0.1 0.2M243.9 1546.7l-0.5 0.1M197.3 1556.2l-0.2 0.4M254.9 1611l0.2 -0.4M219.2 1580.3l0.3 0.5M220.1 1629.5l0.3 0.6M215.2 1589.2l-0.4 -0.5M259.8 1557.8l0.7 -0.4M184.9 1606.1l-0.4 0.8M191.1 1629.5l-0.1 -0.7M233.7 1604.5l-0.5 0.1M176.8 1610.4l0.6 0.5M206.4 1561.1l-0.6 0.3M231 1580.6l0.6 -0.4M265 1578.2l-0.1 0.7M209.7 1547.1l-0.4 0.2M180 1592.2l0.7 0.1M196.7 1582l0.6 0.5M194.1 1592l0.5 0.4M181.1 1553.5l0.7 -0.6M229.3 1589.8l0.1 -0.1" stroke="#e0eee6" stroke-width="1.6" stroke-opacity="0.30"/>
<path d="M232.5 1603.4l-0.6 0.1M206.5 1571.7l-0.1 0M213.6 1572l-0.6 0.3M225.9 1589.3l0.7 0.1M217 1629.1l0.7 0.4M237.1 1563.6l0.3 0.7M205.7 1631.1l0.7 0.1M193.4 1624.8l-0.6 -0.2M216.6 1573.6l-0.7 -0.4M178.6 1590.1l0.6 0.5M258.9 1603.6l0.3 -0.2M218.7 1602.7l0.5 0.6M181.9 1574.2l-0.7 0.2M168.9 1577.3l0.3 0.6M205.4 1551.1l0.7 0.6M191.8 1565.5l0.3 -0.1M195.8 1615.3l-0.6 -0M225.5 1568.1l-0.6 -0.7M257.2 1589.3l0 -0.2M233.8 1564l-0.5 -0.4M165.5 1599.3l0 -0.7M266.2 1573.4l0.8 -0.5M207.7 1565.7l0.1 -0.1" stroke="#e0eee6" stroke-width="2" stroke-opacity="0.30"/>
<path d="M234.9 1569.2l0.1 -0.8M205.9 1603.1l0.3 0.3M194 1555.1l-0.5 0.4M208.7 1566.9l0.4 0.6M259.3 1609.9l-0.4 -0.2M183.6 1623.3l-0.8 0.1M199.9 1587.3l0.5 -0.7M207.7 1602.6l-0.3 0.6M176 1559.7l0.5 0.6M181.2 1592l0.8 -0.3M213.5 1606.4l0.6 0.3M251.3 1566l0.6 -0.2M215.1 1605.6l-0.4 -0.3M259 1613.6l0.6 -0.3M196.2 1631.6l-0.6 0.7M228.1 1562.5l-0.8 -0.7M215.3 1604.1l-0.8 0.3M222.2 1537.5l0.4 -0.6M192 1546.6l0.5 0.7M195 1562.8l0.1 -0.3M222.9 1573.8l0 -0.1M232.6 1569.4l0.1 -0.4M220.6 1632.1l-0.6 0.3M174 1605.3l-0 0.1M238.6 1583.9l0.6 -0.1" stroke="#e0eee6" stroke-width="1.2" stroke-opacity="0.30"/>
<path d="M248.3 1602.6l-0.2 0.2M163.2 1590.7l0.4 -0.2M223.5 1627.5l-0.1 0.3M249.7 1608.5l0.1 0.2M258.9 1556.3l0 0.6M202.1 1625.1l-0 0M235.2 1630l-0 -0.1M235.8 1629.3l0.8 0.8M224.7 1565.5l0.5 0.6M263.1 1605.3l-0.5 -0.1M228.1 1629.4l0.3 0.1M199.9 1535.2l0.6 0M231.8 1609.1l0.3 -0.8M170.4 1566.4l0.2 0.5M229.4 1570l-0.5 0.7M224 1617.3l-0.5 0.1M221.4 1603.1l0.6 0.1M194.5 1580.7l0.7 -0.7M190.3 1617.4l0.3 -0.7M201.3 1547.7l0.5 -0.2M223.9 1588.9l0.6 0.2M268.1 1578.5l-0.2 0.2M181.4 1620l-0 -0.4M207.2 1557.8l-0.4 0.4M205 1624.1l0.8 -0.7M191.8 1619.4l-0.3 -0.7M172 1609.7l-0.2 -0.5M179 1573.9l0 -0.7" stroke="#6a8688" stroke-width="1.6" stroke-opacity="0.30"/>
<path d="M249.7 1606l-0.7 0.1M240.6 1550.7l0.3 -0.6M172.4 1564.3l-0.8 0.3M196.4 1560.7l-0.6 0.8M223.8 1567l0.5 -0.8M267.4 1590.2l0.4 0.3M223.1 1559.1l-0.8 0M203.8 1560.4l-0.3 0.2M254.2 1602.3l-0.4 0.6M229.9 1611.4l0 0.3M208.4 1592.7l0.1 0.1M214 1554.8l0.6 0M178.1 1566l0.4 0.5M220 1601.4l-0.6 -0.4M178.6 1556.5l-0.6 -0.2M179.3 1588.4l-0.8 0.1M191.1 1551.1l-0.5 0.1M227.9 1554.8l0.1 0.7M233.6 1558.5l-0.8 0.4M198.9 1570.7l0.4 -0.7M249.7 1610.1l-0.6 -0.6M235.8 1613.7l0.6 -0.8M265.6 1592.4l-0.4 0.8M206.1 1621.9l-0.6 -0.6" stroke="#6a8688" stroke-width="2" stroke-opacity="0.30"/>
<path d="M199.7 1571.1l-0.6 0.3M226.1 1595.5l-0.7 -0.1M176.4 1550.2l0.8 0.4M175.7 1603.4l-0.6 0.8M179.9 1611.9l-0.4 -0.5M223.5 1553.4l0.2 -0.1M234 1550.1l0.2 -0.6M260.8 1604.8l-0.5 0.2M194.8 1543.7l0.4 -0.7M233.7 1545.1l0.5 0.3M254.1 1589.2l0.4 -0.2M175.7 1597.3l0.2 -0M202.1 1540.1l0.4 -0.3M253.9 1580.8l0.5 0.2M250.4 1623l-0.3 0.5M175.4 1576l0.6 -0.3M222.1 1595.3l-0.5 -0.1M189.8 1586.3l-0.6 0.3M232.5 1581.2l-0.3 -0.8M194.3 1551.3l0.1 -0.1M232.1 1602.4l0.6 -0.6M187.9 1587.4l0.3 -0.3M210.7 1604.5l-0.3 0.3M243.5 1612.9l0.5 -0.4" stroke="#c4d8cc" stroke-width="2" stroke-opacity="0.30"/>
<path d="M175.4 1566.3l-0.1 -0.2M197.4 1576.4l-0.8 0.7M217.1 1535.3l-0.5 0.7M212.2 1622.9l0 -0.1M249.1 1605.7l0.5 -0.7M207.3 1619.4l0.4 -0.5M182 1620.9l0.1 -0.3M187.5 1617.4l0.3 0.6M235.2 1618.9l0.1 -0.6M254.4 1566.3l-0.5 -0.2M219.1 1568.3l0.6 -0.5M195.1 1607.6l-0.8 0.5M230.9 1558.1l0.2 0.7M199.5 1607.6l0.4 -0.6M201.5 1572.4l-0 -0.4M231.4 1599.2l0.6 0.2M242.1 1611.6l-0.2 -0.4M224.3 1551.1l-0.7 0.8M185.5 1626.2l-0.3 -0.7M169 1590.9l-0.6 0M195.1 1541.1l0.8 -0.6M183.3 1594.2l0.7 -0.6M233.6 1558l0.5 0.1M193.1 1576.8l-0.2 0.6" stroke="#c4d8cc" stroke-width="1.2" stroke-opacity="0.45"/>
<path d="M256.1 1580.2l-0.8 -0.6M220.8 1610.7l-0.6 0.5M224.4 1615.5l-0.6 0.1M216.2 1568.4l0.1 -0M168 1566.3l0.6 0.4M212.7 1609.7l0.8 0.4M199.7 1623.5l-0.1 0.8M197.9 1573.5l-0.8 0.7M240.6 1539.9l-0.1 -0.2M190.5 1628.1l0.1 -0.2M198.6 1539.9l-0.8 0.5M233.7 1614.3l0 0.2M204.1 1600.4l-0.1 0M230.5 1549.1l0.6 -0.7M177.3 1553.8l-0.1 0.7M259.4 1557.9l-0.7 0.4M234 1586.6l-0.2 -0.7M235.4 1550.9l0.6 0.1M218.4 1573.4l-0.4 -0.2M223 1605.9l-0.1 -0.3M242.1 1620.9l0.6 0.8M168.6 1598.9l0.6 0M235.7 1602l0.5 0.2M261 1581.7l-0.4 -0.7" stroke="#e0eee6" stroke-width="1.6" stroke-opacity="0.45"/>
<path d="M262.4 1591.1l0.3 -0.4M165.8 1594.3l-0.5 -0.2M202.8 1584l0.2 0.7M209.9 1541.3l-0.1 -0.7M234.1 1568.7l0.5 0M258 1562.2l0.3 0.2M172.9 1568.5l-0.8 -0.5M232.6 1534.4l0.3 -0.7M240.9 1551.4l0.2 0.2M256.6 1614.4l0.6 0.2M242.8 1547.2l0.1 0M239.5 1630.5l-0.5 0.4M181.5 1564.5l0.5 0.4M199.4 1554.7l-0.3 0.6M204.4 1548.6l0.2 0.8M228.6 1587.5l-0.6 -0.4M239 1580l-0.2 -0.3M242.3 1577.5l-0.5 0.1M210.9 1540l-0.7 0M179.2 1563.2l-0.5 -0.4M225.5 1572l-0.8 -0.7M178.2 1578.5l0.4 -0.1M216.8 1573l-0.5 0.7M223.4 1552.6l-0.3 -0.4M256.4 1568l-0.6 -0.1M192.8 1554.4l0.5 -0.1M215.2 1541.8l0.3 -0.5M206.4 1536.6l-0.8 0.4" stroke="#50686c" stroke-width="1.6" stroke-opacity="0.45"/>
<path d="M213.2 1549.4l0 0.7M186.9 1614.5l0.4 0.3M208 1635.1l-0.6 0.4M195 1587.1l-0.1 -0.2M213.5 1580.3l-0.4 0.8M252.3 1592.6l0 0.2M260.6 1564.8l0.6 0.2M163.8 1581.7l0.1 -0.2M237.2 1538.8l-0.1 -0.3M239.9 1614.9l0.2 0.4M250.9 1554.7l0.3 -0.7M226.6 1540.1l0.6 -0.2M245.9 1596.2l0.1 0.1M199 1605.5l-0.2 -0.7M191.9 1539.8l-0.4 0M195.1 1561.5l-0.2 -0.4M249 1616l0.3 0.1M265.2 1573.8l-0.7 -0.8M262.2 1571.2l0.4 -0.5M217 1531l0.7 0.8M198.4 1549.3l0.4 -0.3M238.9 1586l-0.2 -0.1M208.1 1553.1l0.2 -0.1M207.9 1566.4l-0.7 0.7M203.2 1561.5l0.6 -0.5" stroke="#6a8688" stroke-width="1.2" stroke-opacity="0.45"/>
<path d="M181.8 1560.1l-0.4 -0.6M227.4 1576.4l0.4 -0.6M220.9 1586.1l-0.6 -0.5M184.2 1560.6l0.1 0.7M218.6 1548.2l0.6 -0.5M227.8 1553l-0.3 0.5M251.7 1554l-0.7 0.3M217.4 1582l0.7 -0.6M258.4 1575.8l0.1 -0.2M191.1 1622.1l-0.3 0.6M241 1554.3l-0.7 0.7M217.9 1543.7l0.7 0.2M174.4 1576.6l-0.1 -0.4M196.3 1580.8l-0.1 -0.2M258.1 1557.3l-0.4 0.1M175.7 1596.2l-0.6 0.4M247.5 1570.8l-0.4 -0.4M194.7 1540.3l0.4 0.3M188.7 1554.4l0.5 0.2M267.1 1577.9l-0.3 -0.6M187.5 1552.1l-0.2 0.7M222.6 1553.3l0.1 0.7M227 1575.3l0.1 -0.2M171.7 1560.7l-0.7 -0.1M185 1575.9l-0.8 0.4" stroke="#c4d8cc" stroke-width="1.2" stroke-opacity="0.30"/>
<path d="M182.9 1562.5l0.1 -0.4M242.6 1586.3l-0.7 -0.4M215 1612.4l0.7 -0.2M165.8 1578.9l-0.4 -0.3M175.1 1578.9l0.2 -0.2M190.5 1622.6l-0.3 -0.5M221.5 1598.1l-0.3 -0.7M214.1 1592l-0.3 0.3M237 1539.5l0.7 0.7M226.6 1632.2l-0.1 -0.8M200.6 1597.6l-0.8 -0.1M204.5 1582.8l-0.2 0.4M240.6 1544.9l0.2 0.7M175.3 1598.1l-0.4 -0.8M202.8 1535.4l-0.8 -0.3M245.8 1613.5l0.7 -0.4M221.7 1598.6l0.1 -0.3M192.3 1627.9l-0.1 0.3M167.7 1586.3l0.5 0.2M203.2 1550.1l-0.1 0.8M233.2 1560.7l-0.1 -0.3" stroke="#e0eee6" stroke-width="1.2" stroke-opacity="0.45"/>
<path d="M255.2 1601l0 0.1M255.7 1610.9l-0.2 0.1M211.8 1569.8l0.7 -0.7M174.9 1550.3l0.1 0.7M193.6 1550.8l-0.3 0.4M231 1545.3l-0.3 -0.7M175.2 1607.8l-0.5 0.6M201 1586.6l-0.5 0.2M254.3 1587.7l-0.6 -0.5M176.2 1599.2l0.6 -0.2M184.7 1562.8l0.7 -0.2M192.8 1563.1l0.1 -0.2M205.7 1615l0.1 -0M236.8 1631.2l0.3 -0.5M168.2 1568.3l-0.6 -0.6M167.6 1597.3l-0 0.7M179.9 1608.7l0.4 -0M232.6 1559l-0.3 -0.2M262.1 1580.2l0.4 0.7M207.5 1572.5l-0.4 -0.1M227.5 1563.9l-0.1 0M171.2 1567.6l0.3 0.3M242.4 1568.5l-0.3 0.6" stroke="#50686c" stroke-width="2" stroke-opacity="0.45"/>
<path d="M217.3 1619.4l0.6 -0.7M236.6 1596.6l-0.2 0.1M173.9 1594.5l-0.6 0.6M223.3 1551.2l0.5 0M239.7 1606.3l0.2 -0.7M200.1 1552.5l0.1 -0.2M187.5 1596.2l0.8 0.1M260 1570.5l-0 0.4M220.2 1629.7l0.3 0.5M197.8 1625.9l-0 0.2M183.2 1550.2l-0 0.4M214 1551.9l0.3 -0.5M180.6 1612.4l0.1 -0.1M174 1578l0.1 0.5M216.2 1563.6l-0.7 -0.8M247.3 1550l-0.6 0.1M199.8 1571l-0.6 -0.4M181.5 1602.7l-0.7 0.2M222.2 1577.7l0.2 0.5M220.9 1533.7l0.5 -0.7M179.3 1550.4l-0.1 -0.5M233.4 1621.4l-0.4 -0.2M190.9 1552.2l0.6 0.2M243.4 1578.1l0 0.3M237.8 1537.9l-0.4 0M208.3 1534.2l-0.4 -0.7M181 1554.8l-0.3 0.2M243.5 1584.9l0.7 -0.5M195 1540.4l0.1 -0.7" stroke="#c4d8cc" stroke-width="2" stroke-opacity="0.45"/>
<path d="M181.7 1560l-0.7 -0.7M169.8 1564.5l-0.7 -0.3M212.1 1590l0.6 -0.3M181.8 1567.2l0.6 -0.2M185.3 1602.1l0.8 -0.5M246.5 1587.3l0.7 0.4M184 1545.6l0.6 0.5M242.4 1603.7l0.7 0.2M229.2 1537.5l-0.5 0.8M213.6 1589.8l-0.7 0.2M229 1632.2l0.3 0.4M199.7 1625.9l-0.4 0.1M174.2 1566.1l-0.6 0.2M169.7 1585.4l0.6 -0.3M167.6 1576l0.2 0.1M245.8 1558.3l0.3 0.7M172.1 1599.8l-0.5 -0.4M248 1569.4l-0.7 -0.6M167.6 1586.8l-0.1 -0.3M212.7 1611.2l-0.5 -0M175.6 1563.9l-0.2 0.3M231.7 1617.3l-0.4 -0.2M217.1 1594.6l-0.7 0.1M241.7 1628.7l0.3 0.2M220.3 1590.5l-0.3 -0.3" stroke="#50686c" stroke-width="1.6" stroke-opacity="0.30"/>
<path d="M235.6 1610.1l0.6 0.3M228.8 1625.5l0.7 0.3M170.4 1557.2l-0.4 0.3M207.6 1586l-0.1 -0.3M212.5 1609.4l-0.2 -0.4M239.4 1614.1l0.7 0.6M216.2 1565.8l-0.4 -0.1M250 1615.7l0.2 -0.3M248.6 1594l0.3 -0.6M218.1 1534.8l-0.2 -0.3M215.1 1566.2l-0.3 0.5M223.8 1582.8l0.4 -0.7M185.4 1626.7l0.5 0.7M261.2 1597.5l0.2 -0.4M215.5 1598.4l-0.1 0.3M247 1603l0.2 0.6M255.7 1590.6l0.6 0.5M240.7 1621.7l0.7 -0.6M210.1 1592l-0.7 -0.2M197.6 1624.7l0.3 0.1M209.3 1585.5l-0.5 -0.3M206.3 1570.6l-0 0.7M203.7 1628.8l-0.6 -0.6M218.5 1617.6l-0.4 -0.7M227.8 1607.1l0.6 0.4" stroke="#50686c" stroke-width="1.2" stroke-opacity="0.30"/>
<path d="M238.2 1589.2l0.6 0.7M231.9 1580.4l-0.1 -0.3M210.7 1581l0.6 0.1M169.5 1578.4l-0.5 0.8M174.9 1577.9l0.7 -0.1M171.3 1568.7l0.7 -0.1M240.3 1604.9l0.8 -0.7M171.8 1578.7l0 -0.2M259.8 1559.2l0.2 0.8M224.5 1567.8l0.2 0.5M226.6 1594.2l-0.7 0.2M230.3 1614l0.4 -0.1M217.8 1533.4l0.1 -0.5M252.1 1582.2l0.8 -0.1M253.4 1567.4l-0.2 -0.8M232.2 1580.5l-0.4 0.5M190.4 1574.4l0.3 -0.5M212.1 1611.2l0.1 -0.1M225.1 1582.6l-0.5 0.7M246 1581.7l-0.5 -0.4M206.3 1595.4l0.7 -0.3M199.6 1589.2l0.1 -0.2M172.1 1609.9l0.7 -0.1M260.8 1565.4l-0.2 0.7" stroke="#c4d8cc" stroke-width="1.6" stroke-opacity="0.30"/>
<path d="M243.2 1615.5l-0.5 0.1M241.6 1556l-0.5 0.7M222.9 1614.1l-0.1 0.4M205.5 1605l-0.6 -0.6M236 1598.6l0.1 -0.4M205.6 1563.4l0.7 0.1M182.9 1622.4l0.8 0.3M236 1626.9l0.1 0.6M206.8 1575.4l0.2 -0.6M202.2 1582l0.8 0.1M207.6 1569.1l0.3 -0.8M254.8 1575.4l0.8 -0.2M226.9 1586.7l0.5 0.7M206 1569l0.3 -0.8M195.3 1605.4l-0.3 0.7M187.2 1544.6l0.1 0.2M180.3 1618.1l0.3 -0.3M192.1 1546.5l0.1 0M215.3 1556.5l-0.5 0.5M227.5 1615.9l-0.7 -0.5M178.7 1613.9l-0.6 0.6M266.9 1591.3l-0.4 -0.4" stroke="#c4d8cc" stroke-width="1.6" stroke-opacity="0.45"/>
<path d="M252.5 1588.3l-0.3 0M212.9 1593.3l-0.1 0.3M234.3 1574l-0.6 -0.1M209.4 1587.1l-0.4 -0.5M266.6 1569.3l0.5 -0.7M205.9 1555.6l0.7 -0.3M219 1590.8l-0 0.2M201.1 1545.2l0.3 0.3M184.5 1564.5l-0.6 0M225.2 1617.8l-0.2 -0.5M261 1569.6l0.6 -0.8M167.4 1576l-0.5 -0.3M210.3 1628.4l-0.5 0.8M225.9 1570.3l0.6 0.8M200.2 1579.9l0.4 0.1M194.6 1570.7l0.6 -0.6M165.9 1574l0.5 -0.3M211.9 1564.9l0.3 -0.7M229 1618.5l0.8 0.6M239.7 1616.1l0.4 -0.4M249.7 1592.5l0.1 -0.1M212.3 1544l0.3 -0M236.6 1571l-0.4 0.7M219.4 1617.3l-0.8 0.4M186.9 1564.4l-0.2 -0.8M225.3 1579.3l0.2 0.4M239.3 1582.3l-0.4 0.7" stroke="#50686c" stroke-width="1.2" stroke-opacity="0.45"/>
<path d="M221.8 1594.8l-0.3 -0.6M196.7 1628.2l0.6 0.5M242.2 1574.1l0.3 0.4M195 1574l-0.1 -0.2M235.5 1557.4l0.3 0.1M201.1 1626.3l0.4 0.6M250.7 1564.3l0.7 0.3M170.9 1606.7l0.7 -0.4M217.4 1555.2l0.2 -0.8M236.9 1544.5l-0 -0M197.4 1579.9l0.8 -0.6M185.4 1603.3l0.4 0.4M260.5 1577.1l0.2 -0.2M189.6 1611.1l-0 -0.2M254.4 1566l-0.4 -0.3M169.5 1581.5l-0.5 -0.6M242.5 1586.6l-0.7 -0.7M242.2 1600.7l0.2 -0.3" stroke="#6a8688" stroke-width="2" stroke-opacity="0.45"/>
<path d="M244 1550.1l0.1 -0.1M180.4 1595.7l-0.1 -0M177.7 1604.1l-0.4 0.1M243.7 1548.6l-0.7 0.3M256.3 1582.9l-0.6 -0.2M251.6 1614.2l-0.5 -0.1M211.6 1580.2l-0.6 0.8M205.3 1611.2l-0.1 0.2M187.9 1578.4l0.7 0.6M173.2 1595l-0.7 0.2M218.4 1551.7l-0.1 -0.5M260.3 1569.8l0.6 -0.5M178.3 1594.1l-0.1 0.5M176.1 1582.1l0.5 -0.5M199.6 1559.1l0.6 -0.2M163 1581.6l-0.1 0.3M242.3 1605l-0.1 0.5M246.4 1620.9l-0 0.4M171.9 1563.4l-0.7 0.7M220.8 1596.3l-0.5 0.5M242.4 1578.4l0.1 0.8M219.5 1600.3l0.8 -0.3M197.9 1603l-0.4 -0.4M231.3 1613.6l0.1 -0.4M231.9 1575.2l-0.5 -0.7" stroke="#6a8688" stroke-width="1.6" stroke-opacity="0.45"/>
<path d="M259.9 1608.3l0.8 0.9M191 1539.7l0.2 -0.2M210.3 1531.7l0.9 0.5M206.8 1535.3l0 0.8M261.5 1599.6l-0.1 0.6M266.9 1597.4l-0.5 0.4M168.5 1568.7l0.6 0.6M165.1 1571.8l-0.4 0.4M165.9 1589.7l-0.4 0.2M248.7 1542.7l0.3 0.9M258.9 1552.6l-0.4 -0.1M195.5 1537.1l0.8 -0.8M164.7 1579.4l0.8 -0.8M254.4 1553.1l0.2 -0.5M177.6 1612.5l0.8 -0.9M266 1571.4l0 -0.5M260.3 1607.3l0 -0.4M166.9 1587.6l-0.4 -0.4M171.6 1556.8l0.3 -0.4M170.5 1559.1l0.6 0.4M262.9 1607.9l-0.8 0.5M175.5 1555.7l-0.7 0.9M181.3 1544.7l-0.1 1M218.1 1532.2l-0.2 -0M255.8 1614.5l0.9 0M163.9 1572.3l0.8 1" stroke="#f4f4ee" stroke-width="2.4" stroke-opacity="0.70"/>
<path d="M250 1619.5l0.9 0.7M167.4 1577.4l-0.9 0.2M248.5 1619.4l0.5 -0.4M221.8 1635l0.2 -0.6M170.4 1607.1l-0.8 0.2M176.3 1615.8l0.7 -0.4M220.2 1633.3l0.8 0.6M203.2 1630.6l0.7 0.7M164.4 1587.9l0.1 0.8M267.8 1594.9l-0.8 -0.9M242.5 1543.9l-0.2 0.5M252.2 1549.3l-0.3 0.3M250 1548.9l0.1 -0.9M182.7 1622.2l0.8 0.8M264 1586.8l-0.1 0.2M264.4 1577.9l-0.1 0.1M166.1 1570.1l0.6 0.7M237.4 1628.7l0.6 -0.5M264.3 1586.7l0.8 0.9M165.8 1590.4l0.2 0.8M194.1 1537l0.8 -0.2M207.6 1532.4l-0.3 0.1" stroke="#f4f4ee" stroke-width="1.6" stroke-opacity="0.70"/>
</g>
<linearGradient id="gb10" x1="0" y1="0" x2="1" y2="1"><stop offset="0" stop-color="#7e8790"/><stop offset="1" stop-color="#7a8690"/></linearGradient>
<radialGradient id="gs10" fx="0.535" fy="0.488"><stop offset="0" stop-color="#74645a"/><stop offset="0.3" stop-color="#867060"/><stop offset="0.55" stop-color="#a48866"/><stop offset="0.8" stop-color="#c6a676"/><stop offset="0.95" stop-color="#d6bc8e"/><stop offset="1" stop-color="#e6dcc4"/></radialGradient>
<rect x="380.8" y="1479.6" width="284.2" height="210.4" fill="url(#gb10)"/>
<ellipse cx="534.4" cy="1586.6" rx="102" ry="101.1" fill="url(#gs10)" stroke="#eee6d4" stroke-width="2" stroke-opacity="0.75" filter="url(#soft)"/>
<clipPath id="cs10"><ellipse cx="534.4" cy="1586.6" rx="103" ry="102.1"/></clipPath>
<g clip-path="url(#cs10)" stroke-linecap="round" fill="none" filter="url(#soft)">
<path d="M474.2 1557.9l0.5 0.5M478.8 1642.3l-0.5 0.5M590.6 1614.3l0.1 0.6M568.2 1676.4l-0.8 0.7M436.6 1581.2l0.2 0.5M512.6 1589.8l0 -0.7M610.9 1637.5l0.5 -0.7M492.3 1666.3l0.2 0.7M611.9 1584l-0.3 0.4M540.3 1597l-0.3 -0.3M571.1 1595.8l0.5 -0.5M593.5 1663.3l0.8 -0.7M559.1 1610.4l-0.1 -0.5M615 1555.3l0.4 0.7M595.4 1631.4l-0.7 -0.3M582 1660.3l0.4 0.6M498 1495l-0.4 0.1M482 1666.2l-0.7 -0.6M587.5 1660l-0.4 0.4M492 1614l0.8 0.3M561.9 1606l-0.3 0.5M511.5 1610.5l0.3 0M603 1524.2l0.7 -0.5M473.8 1516.1l-0.8 -0.4M529.1 1540.4l-0.6 -0.2M450.5 1622.7l-0.5 -0.3M459.7 1528.7l-0.1 0.4M484.8 1532.3l0.7 0.1M544.4 1579.5l0.3 -0.2M487.4 1497.7l0.6 -0.3M482.9 1617l0.6 0.4M462.5 1557l-0.1 -0.1M617.8 1617.9l0 -0.7M484.1 1582.9l-0 0.1M541.7 1502.8l0.5 -0.5M493.1 1623.4l-0.2 0.4M521.9 1509.8l-0.7 -0M555.1 1683.7l0.6 -0.1M550.9 1583.4l-0.4 -0.1M503 1665.6l0.2 0.2M510.2 1528.4l0.4 -0.7M588.5 1503.1l0.6 -0.2M520.8 1630.8l0.5 0M473.7 1568.9l0.2 -0.2M589.1 1650.3l-0.4 0M485 1670.1l0.7 -0.1M604.4 1615.5l-0.8 0.1M530.9 1561.3l-0.6 0.3M481.4 1547.9l0.1 0.5M550.8 1647l0.4 -0.2M591.7 1522.6l-0.3 0.1M553.3 1685.3l0 -0.2M501 1552l-0.4 0.7M454.1 1564.2l-0.8 0.6M554.2 1680.1l0.6 -0.7M456.6 1628.1l0.2 0.2M462 1653.6l0.4 -0.4M515.6 1524.6l-0.8 -0.3M511.3 1513.1l0.5 -0" stroke="#ead2a0" stroke-width="1.2" stroke-opacity="0.45"/>
<path d="M511.1 1553.4l-0.4 0.7M597.9 1565.1l0.3 -0.6M511.1 1618.5l-0.1 -0.1M579.4 1665.8l-0.5 0.6M619.7 1636.6l-0.2 -0.8M618 1595.6l-0.1 0.3M455.6 1577.5l0.5 -0M610.5 1620.7l0.8 0.1M506.8 1532.7l-0.3 -0.2M618.6 1598.5l0.6 -0.7M530.7 1547.8l0.6 -0.2M555.8 1661.5l-0.1 -0.8M561.6 1631.7l-0.3 0.6M448.9 1580.2l0.2 -0M533.7 1558.8l0.3 -0.5M561.5 1627.7l0.2 0.6M564.9 1600.7l-0.5 0M511 1614.7l-0.1 0.1M518.9 1620.2l0.4 0M608 1595.2l0.3 -0.7M533.3 1538.7l0.6 -0.4M574 1650.2l0.1 0.6M538.8 1564.3l-0.2 0.3M558.7 1535.1l-0.4 -0.2M455.4 1637.4l-0.3 -0.2M501.8 1507.3l-0.2 -0M530.3 1579.6l0.6 -0.5M477 1595.5l0.4 -0.3M466.9 1546.4l0.5 0M571.1 1527.1l-0.4 -0.7M470.1 1518.5l0.1 0M488.7 1577.2l0.3 -0.5M572.9 1542.5l-0.5 -0.1M496.3 1648.6l0.5 -0.6M528 1625.9l0.2 -0.6M580.9 1566l-0.1 -0.7M457.4 1546l0.4 -0.4M497.9 1572.9l-0.6 0M558.7 1522.3l-0.3 -0.5M439.2 1558.3l-0.3 0.6M595.1 1617.7l-0 0.5M602 1573.4l0.2 0.5M472.6 1653.2l-0.1 0.6M513.5 1607.1l0.1 0.6M604.3 1621.8l0.1 0M492.7 1652.3l0 0.7M526.2 1492.4l0.7 -0.2M582.6 1563.8l-0.4 -0.4M512 1591.1l-0.4 -0.6M585.6 1527.7l0.3 -0.7M487.7 1675.7l-0.5 0.3M496.4 1648.4l-0.1 -0.1M551.1 1551.3l0.7 0.5M472.3 1584l-0.7 0M522.4 1642l-0.6 -0" stroke="#f0e4c8" stroke-width="1.6" stroke-opacity="0.30"/>
<path d="M555.9 1586.1l-0.2 -0.3M495.8 1605.3l0.1 0.1M486 1529.8l-0.3 -0M523 1573.1l-0.2 0.1M579 1676.2l-0.8 -0.6M447.3 1581.6l-0.3 0.6M518.2 1587.2l0.2 -0.7M572.4 1558.5l-0.4 -0.2M464.5 1587.7l-0.6 -0.8M511 1622.3l0.6 -0.2M571.3 1611.7l-0.7 0.7M509 1600.3l-0.5 -0.7M600.9 1536.5l0.5 0.4M468.2 1622.6l0.4 -0.4M587 1513.6l-0.3 -0.4M457.6 1605.3l0.4 -0.1M435.8 1595.9l-0.7 -0.2M553.4 1543.5l0.5 -0M476.2 1662.4l-0.3 0.3M519.1 1586l-0.8 0.7M559.5 1658.3l0.1 0.7M482.6 1664.5l-0.8 -0.6M473.3 1520.5l0.4 -0.5M478.6 1511.5l-0.1 -0.4M570.7 1553.9l-0.5 0.7M576.8 1650.4l0.2 -0.7M617.5 1618.9l0.4 0.7M577 1523.5l-0.1 -0.7M632.2 1591.3l-0.8 0.8M497.9 1607.5l-0.7 0.1M546.6 1496.4l-0.1 0.1M619.8 1607.6l0.8 -0.4M530.2 1687.5l0.6 0.4M456.7 1628.4l0.6 0.6M566.6 1519.9l0.4 0.2M586.6 1514.4l-0.5 0.4M478.2 1578.7l-0.6 -0.7M457.8 1577.4l0.4 0.6M620 1566.2l0.2 0.1M510.9 1555.9l-0.3 0.3M560.3 1591.8l0 0.4M495.5 1646.4l0.3 0.1M516.7 1606.5l-0.3 -0.2M476.4 1508.5l0.8 0M518.2 1606.5l0.5 -0.8M622.7 1634.5l0.8 0.8M614.6 1636.8l0.1 0.3M562.1 1521.1l0.4 0.1M475.9 1656.8l-0.4 -0.2M481.5 1668l0.5 -0.3M482.8 1665.8l0.6 0M531.2 1652.1l0.2 -0M545.6 1656.4l-0.7 -0.2M509.4 1670.8l0.4 0.2M588.3 1585.7l0.4 -0.1" stroke="#7a6048" stroke-width="2" stroke-opacity="0.45"/>
<path d="M503.1 1525.7l-0.6 0.4M480.6 1624.8l-0 -0.5M466.2 1586.1l-0.1 0.2M602.3 1640l0.1 0.6M488.4 1576.2l-0.6 -0.8M551.5 1504.9l-0.7 0M536.3 1490.9l0.6 -0M526.5 1643.3l0.2 -0.7M613.3 1620l-0.4 -0.8M468.1 1555l-0.8 0.7M566.5 1680.5l-0 0.7M536.1 1572.6l0.1 0M502.2 1518.2l-0.5 -0.1M544.1 1648.1l-0.8 0.6M613.1 1648.2l-0.7 -0.1M453 1579.6l-0.3 0.2M495 1547.3l0.8 0.5M499.7 1530.7l0.6 0.8M558.7 1664.5l0.5 -0.2M448.6 1607.7l-0.6 0.3M589.3 1589.7l-0 0.7M483.4 1549.5l-0.4 0.1M564.7 1510l0.4 0.6M552.9 1578.7l-0.7 -0.8M503.7 1623.4l-0.5 0.7M502.6 1632.3l-0.5 -0.4M489.7 1624.7l-0.7 -0.2M565.5 1638.2l0.2 0.2M482.5 1558.8l-0.7 0.6M468.1 1657.3l-0.6 0.4M462.1 1643.6l0.6 -0.8M608.2 1559.6l0.8 0M536.2 1665.4l-0.2 -0M533.3 1578l0.8 -0.7M514.5 1551l-0 -0.4M535.7 1576.5l0.5 -0.4M541 1538.7l-0.4 0.2M615.8 1625.9l0.5 -0.5M487.1 1584.3l-0.4 0.2M560.7 1577l-0.5 0.7M564.8 1642.4l0.1 -0.6M526.3 1575.4l0.6 -0.2M569.7 1664.9l0.7 -0.7M607.7 1532.8l-0.4 0.7M516.7 1548.1l-0.6 -0.1M457.2 1624.8l-0 0.4M552.9 1672.1l0.5 0.7M565.9 1556.3l0.3 0.8M525.7 1598.3l0.8 0.4M506 1641.9l0.6 0.5M475.8 1560.3l-0.4 -0.5M596.1 1543l0.2 -0.1M553.7 1596.9l-0.6 0.1M474.2 1609.1l-0.1 -0.4M622.3 1617.3l0.7 -0.1M457.9 1564.4l-0.5 0.7M459.6 1563.2l0.7 0.1M603.8 1643.6l-0.2 0.4M488.2 1634.8l0.1 -0.6M456.5 1615l-0.7 0.8M473.3 1533.2l-0.5 -0.2M507.6 1507.6l0.2 -0.6M433.4 1579.9l-0.5 0.4M550.6 1588.6l0.3 -0.2M538 1636.6l-0.7 0.5M569.2 1518.4l0.5 0.1M521.6 1506.5l0.3 0.1M463 1558.1l0.2 -0.3M526.7 1583.5l-0.6 -0.4M528 1564.6l0.4 -0.8" stroke="#caa878" stroke-width="2" stroke-opacity="0.45"/>
<path d="M634.2 1575.6l-0.4 -0.5M524.8 1656.2l-0 -0.1M440.8 1622.5l-0.1 -0.7M455.5 1538l0.7 -0.1M551 1528.2l-0.5 0.7M531.2 1543.5l-0.7 -0.2M498.3 1502.4l0.1 0.4M604.3 1648.1l-0.1 0.6M523.7 1518.8l0 -0M459 1609.5l-0.7 0.5M458.8 1531.5l-0.2 0.4M448.4 1551.1l-0.3 0.1M461.6 1585.7l-0.6 0.4M629.1 1622.7l0.5 -0.5M462.2 1533.1l-0.6 0.1M602.4 1549.4l-0.7 0.7M500.9 1602.9l-0.8 0.2M465.9 1604.5l0.1 0.5M492.6 1512.9l0.6 -0.6M597.9 1539.5l-0.5 0.1M554.7 1662.5l0.4 0.1M521.6 1544.6l-0.1 -0.5M537.5 1576.4l0.3 0.6M435.1 1572l0.2 -0.6M510 1653.6l-0.8 0.2M529.2 1550.3l-0 -0.4M609.8 1545.2l0.7 0.8M507.4 1604.3l-0.1 0.1M585.7 1508.7l-0.7 0.1M589.3 1549.9l0.5 0.3M462.3 1567.4l-0 -0.4M563.8 1546.9l-0.1 0.4M552 1500.9l-0.3 0.6M520.5 1593.6l-0.7 0.8M622.3 1622.3l0 0.2M531.7 1630.8l0.1 0.1M460.4 1624.9l-0.1 -0.1M524.8 1589.4l-0.4 -0.8M563.3 1608l-0 0M521.3 1552.5l-0.2 -0.6M505.4 1561.6l-0.4 0.5M518.1 1524.1l0.4 0.3M571.7 1599.5l-0.3 0.6M615.2 1620.4l0.1 -0.6M582.5 1525.4l0.5 -0.6M542.8 1620.4l-0.1 -0M510.3 1598.7l-0.6 0.3M451.9 1638.4l0.1 0.3M511.2 1539.1l-0 -0.2" stroke="#f0e4c8" stroke-width="1.2" stroke-opacity="0.30"/>
<path d="M597.4 1546.8l-0.1 -0.7M557.5 1625.1l-0.7 -0.4M491.6 1594.6l-0.3 -0.4M619.5 1603.6l-0.7 -0.4M537 1549l-0 0.1M447.1 1574.6l0.4 0.2M484.4 1587l-0.4 0.2M528.8 1654.7l-0 0.3M505.5 1613.9l-0.8 0.3M528.1 1590l-0.2 -0.4M477.6 1630.1l0.2 -0.6M492.2 1550.3l-0.6 -0.7M569.7 1581.1l-0.1 0.1M489.6 1618.4l-0.1 0.2M538.5 1506.7l0.5 -0.7M503.1 1657.9l-0.6 -0.5M534.5 1682.2l-0.6 0.4M564.1 1536.6l-0.3 -0.3M544.3 1613.7l0.6 -0.3M572.5 1567.6l-0.3 -0.7M496.6 1550.9l-0.1 -0.3M603.4 1528l0.5 -0.2M483.5 1554.8l-0.3 0.6M516.9 1508.4l0.3 0M478.5 1576.2l-0.6 0.8M504.1 1540.7l-0.6 -0.8M506.6 1503.8l-0.2 0.6M578.4 1673.6l-0.2 0.7M588.4 1592.2l-0.5 -0.2M562.5 1503.7l0.4 -0.2M491.4 1508.6l-0.3 0.5M584.5 1667l-0.7 0.5M508.1 1624.9l-0.3 0.1M517.7 1677.6l-0.5 0M497.4 1545.5l0.6 -0.6M482.7 1633.9l-0.8 0.7M557.4 1641.8l0.1 0.6M614 1540.3l-0.4 -0.8M459.9 1629.8l-0.3 -0.6M562.5 1667.2l0.3 0.1M463.2 1559.8l-0.6 0.4M527.7 1660.5l-0 0.2M579.5 1526.7l-0.5 -0.3M506.8 1516l-0.4 0.6M577.5 1568.8l0.7 0.2M584.7 1602.9l-0.7 -0.3M615.3 1555l0.6 -0M508.4 1626.2l0.2 0.2M540.2 1681l-0.7 -0.5M587.6 1541.1l-0.4 -0.8M631.6 1564.3l-0.7 -0.1M498.8 1679.3l-0.4 0.7" stroke="#7a6048" stroke-width="1.6" stroke-opacity="0.45"/>
<path d="M453.6 1539.6l-0.4 -0.7M601.7 1519.8l0.5 0.5M580.2 1656.3l-0.6 0.6M576.4 1583.1l0.7 -0.5M579 1515.5l-0.7 0.3M582 1524.8l-0.1 0.6M479.3 1569.2l0.4 -0.7M537.8 1655.2l0.2 -0.4M517.5 1553.6l-0.7 0.5M535.9 1512l0.3 -0.2M506.6 1506.6l0.7 -0.1M542.4 1583.2l0 0.3M538.6 1614.8l-0.1 0.7M600.1 1571l0.7 0.5M603.3 1513.1l-0.1 0.2M520.9 1530.5l-0.2 0.7M539.7 1641.8l0.4 0.5M487.9 1611.7l-0.4 -0.3M549.4 1561l-0.6 0.2M511.8 1598.2l-0.4 0.5M573.3 1635.5l-0.2 0.1M554.7 1524.7l-0.7 0.8M571 1634.1l0.5 -0.7M502 1612.1l0.6 -0.5M550.1 1523.1l-0.4 0.6M445.7 1590.4l-0.4 -0.6M506.9 1614.7l-0.7 -0.4M542 1683.4l-0.3 0.8M524.2 1609.4l0.7 -0.4M492 1644.5l-0.4 -0.5M566.9 1500.6l-0.7 -0.2M577.3 1501.9l0.5 0.4M595.7 1537.7l-0.6 -0.2M502 1598.9l0.1 0.4M625.9 1608.2l0.1 0.4M515.6 1659l-0.3 -0.3M528.8 1627.8l0.3 -0.5M511.9 1658.2l0.3 0.6M586.4 1526.1l0.6 0.1M510.6 1491.5l0.6 -0.1M475.1 1527.3l-0.6 0.6M599.3 1510.2l0.5 -0.3M634 1566.5l0.1 -0.1M516.3 1577.8l0.4 0.2" stroke="#7a6048" stroke-width="1.2" stroke-opacity="0.45"/>
<path d="M509.3 1661.3l-0.6 0.1M554.7 1662.1l-0.5 0.2M550.7 1624.8l-0.4 0.4M469 1618.3l0.2 0.2M561 1509l-0.5 0.4M568.7 1614l-0.8 -0.4M535 1489.2l0.3 -0.1M474.6 1661.5l0.8 0.3M506.1 1559.8l-0.5 0.3M440.8 1585.6l0.1 -0.2M630.7 1615l-0.4 -0.5M583.9 1662.6l0.1 0.6M518.1 1655.1l-0.3 -0.4M600.4 1631.6l0.6 0.2M540.6 1568.1l0.5 -0.5M559.2 1635.9l-0.6 0.2M472.4 1517.5l0.1 0.8M507.2 1596.6l-0.7 -0.4M511.8 1619.2l-0.2 -0.4M512 1526.5l-0.3 0.2M523.8 1540.2l-0.3 0.3M558 1575.2l-0.8 0.3M446 1579.6l-0.2 0M469.9 1618.4l0.2 0.3M549.3 1526.4l0.2 0.5M524.9 1529.8l-0.3 -0.6M492.6 1659.7l-0.7 0.1M488.5 1611.1l0.2 -0.4M475.6 1557.9l-0.3 -0.7M466 1518.9l-0.4 -0M576.1 1557.6l-0.4 -0.3M546.6 1671.9l-0.7 0.1M598 1612.2l-0.2 -0.7M487.3 1511.8l0.5 0.3M450.9 1595.1l0.5 0.8M582.1 1645.7l-0.7 -0M535.8 1508.2l-0.1 -0.2M437.8 1606.3l0.7 0.1M558.7 1676.6l-0 0.1M440 1557.4l0.6 0M534.1 1664.4l-0 -0.1M586.9 1530.6l-0.1 0.8M485.4 1597.1l0.7 0.8M573.8 1542.3l-0.4 0.3M523.7 1589.2l-0.4 -0.8M459.9 1526.9l-0.3 -0.2M617.8 1533l-0.4 -0.6M504.9 1524.5l-0 -0.7" stroke="#ead2a0" stroke-width="2" stroke-opacity="0.30"/>
<path d="M440.4 1573.7l-0.5 0.2M443.6 1631.2l-0.1 0.4M615.7 1548.5l0.1 0.4M535.6 1672.3l0.5 -0.2M537.4 1591.9l-0.5 0.6M579.4 1649l-0.3 0.8M455.1 1579.3l0.7 -0.8M562.2 1600.3l-0.3 -0.2M601.2 1564.4l0.1 0.5M453.9 1589l0.7 0.8M445.3 1618l0.2 -0M535.4 1560.7l-0.5 -0.7M529 1618.5l0.3 -0.3M492.1 1547l-0.1 0.2M617.6 1606l0.6 0.7M486.3 1661l-0.1 -0.5M531.5 1568.9l0.6 -0.3M461.6 1584.6l0.3 -0.4M560.4 1514.6l-0.5 -0.2M503.7 1636.4l0 -0.5M438.1 1612.6l0.5 0.3M546.5 1685.1l-0 0.2M490 1519.8l0.3 0.7M508.8 1511.7l-0.3 0M627.7 1603.6l-0.2 0.3M603.6 1630.2l-0.2 -0.7M523.7 1674.7l-0.2 -0.7M475.2 1625.3l-0.4 0.2M605.8 1520.5l0.2 0M554.2 1587.2l-0.4 -0.3M608.1 1626.7l0.5 -0.6M525.4 1676.7l-0.3 0.2M514.5 1638.3l-0.2 0.4M598.6 1647.3l-0.6 0.2M502.9 1593.5l0.5 0.5M548.4 1486.5l-0.6 0.4M450.5 1618.2l-0.6 0.1M567.9 1609.5l-0.3 0M523.1 1513.5l-0.1 0.5M505.4 1575.7l-0.3 -0.3M469.3 1604.2l-0.7 -0.1M595.5 1600.4l-0.2 0M612.7 1583.5l-0.4 -0.7M464.5 1604.5l0.3 -0.3M556.4 1571.4l0.4 0.2M583.4 1504.4l-0.5 0.2M567.7 1672.5l-0.6 0.2M613.1 1650l0.3 -0.8M546.2 1680.1l0.6 0.2M454 1610l-0.7 0.3M501.3 1604.4l-0.6 0.1M457.9 1632.3l-0.1 -0.6M591 1585.1l-0.3 -0.2M518.7 1626.3l0.5 -0.4M582.8 1645.8l0.4 -0.3M518.4 1635.9l0.4 -0.7" stroke="#caa878" stroke-width="1.6" stroke-opacity="0.45"/>
<path d="M573.2 1506.2l-0.1 -0.8M437.2 1587l-0.2 -0.4M576.9 1582.9l-0.2 -0.6M448.9 1578l0.6 -0.5M519.2 1517.7l-0.7 0.1M530.1 1546.2l-0.6 -0.4M480.3 1510l0.2 0.2M591.3 1599.3l-0.5 -0.2M551.6 1651.1l0.3 0.4M492.8 1678.4l-0.2 -0.1M452.7 1595.3l0 -0.1M584.3 1514.6l-0.1 0.3M473.3 1626.9l-0.1 -0.3M473.4 1545.7l0.5 -0.4M471.8 1520.2l0.6 -0.5M479.6 1630l-0.6 -0.7M582.9 1626.1l0.1 0.1M570.3 1626.8l0.3 0.4M465.5 1602.6l0.5 0.3M594 1633.4l0.7 0.4M552.5 1582.2l-0.7 0.7M563.1 1590.5l-0.2 -0.4M524.3 1642.6l0.3 0.6M487.5 1558.5l-0.4 -0.3M517.3 1587.7l-0.5 0.1M549.7 1520.6l0.1 0.1M467.7 1581.7l-0.2 0.5M568.4 1555l-0.3 -0.1M531.2 1602.9l0.2 0.2M509.6 1523.4l0.2 -0.5M539.9 1599.3l0.7 -0.3M454.7 1528.7l0.2 0.3M565.6 1510.2l0.7 -0.2M609.1 1622.1l-0.4 -0.8M489.9 1628.2l0.4 0.7M557.2 1557.3l0.5 0.7M573.4 1570.1l-0.3 0.5M546.4 1552.4l0 0.3M526.1 1687.4l-0.5 0.2M581.6 1614.9l-0 0.1M484.5 1578.4l-0.4 -0.8M555.8 1664.8l0.3 0.5M568.2 1503.6l0.3 -0.5M504.1 1639.5l0.6 -0.7M505.9 1517.2l0.3 -0.8M440.2 1580.7l0.5 0.3M564.4 1507.9l0.4 -0.3M523.2 1657.9l-0.4 0.3M491.1 1620.8l-0.3 0.1M502.2 1563.3l-0.7 0.1M573 1668.4l-0.5 0.7M612.4 1622.5l0.7 0.1M457.3 1573.3l-0.4 0.1M598.6 1565.1l-0.6 0.5M535.1 1597.2l0.4 -0.4M527.7 1594.7l0.4 -0M556.9 1496.4l-0.1 -0.8M458.8 1624.2l0.2 -0.6M575.9 1673.8l-0.7 -0M477 1590.9l0.7 0M634.3 1578.4l-0.1 -0.7M598.5 1659.2l-0.2 -0.1M588 1559l0.6 -0.1M468 1608.5l-0.7 -0.6" stroke="#f0e4c8" stroke-width="1.6" stroke-opacity="0.45"/>
<path d="M520.7 1530l-0.4 -0.2M568.4 1558l-0.7 -0.2M627.2 1596.6l-0.2 0.2M517.4 1681.5l0.1 -0.3M535.1 1641.9l-0 -0.2M608.5 1622.3l0.4 -0.4M506.6 1676.4l-0.7 0.2M533 1492.7l-0.5 0.7M573.7 1504.8l0 0.2M502.4 1551.7l-0.3 -0.7M466.6 1660.8l0.1 -0.1M457.5 1551.1l0.4 -0.3M633.5 1605l-0.3 -0.7M516.6 1635.1l-0.1 -0.3M445.7 1560.3l-0.7 -0.1M437.1 1572.3l0.3 0.3M499.5 1664l0.7 0.4M565.9 1679.3l-0.7 0.2M494.1 1651.9l-0.8 0.5M508.7 1571.7l0.7 -0.8M461.5 1620.2l0.8 -0.3M552.9 1649.6l-0.2 -0.4M463.9 1620.8l0.2 0.8M632.3 1565.2l-0.1 0.4M583.5 1545.4l-0.3 -0.1M477.6 1550.3l0.1 -0.1M586.7 1509.9l-0.1 0.3M571.8 1531.5l0.6 0.3M604.6 1519.5l-0.6 -0.2M480.5 1625.7l0.4 0M530.8 1501.3l0.8 0.5M565.9 1594.5l-0.3 0.6M572.9 1581.7l0.5 0.2M465.5 1567.4l0.4 0.3M578.9 1599.7l0.6 0.5M479.3 1515.1l0.3 -0.6M530.7 1543.5l-0.2 0.5M613.7 1560.1l0.7 -0.5M558.1 1681.5l-0.5 -0.1M570.3 1584.7l-0.1 0.1M459.5 1596.8l0.1 0.7M512.2 1676.8l-0.6 -0.3M523.7 1561.4l0.5 -0.5M591.4 1657.8l-0.2 -0.8M622.7 1575.8l-0.1 -0.5M463.7 1573.2l0.4 -0.5M462 1569.2l0.6 0.2" stroke="#caa878" stroke-width="1.2" stroke-opacity="0.30"/>
<path d="M587.8 1667.9l0.4 0.8M561.5 1491l0.2 0.4M577 1573.2l-0.2 -0.3M610.1 1640.4l0.1 -0.8M587.1 1551.7l-0.6 -0.6M521.5 1544.3l-0.1 -0.5M501 1597.3l-0.5 -0.6M543.5 1608.5l-0.8 0.1M454.8 1636.6l0.4 -0.3M441.1 1585.3l0.2 -0.6M593.2 1654.2l-0.1 0.7M589.8 1620l-0.5 -0.8M591.6 1569.7l0.4 -0.1M519.7 1496.6l0.7 0.2M547.5 1617.8l-0.6 -0.1M460.8 1635.8l-0.3 -0.7M490.7 1587.6l-0.6 -0.7M538.8 1630.2l-0 -0.5M580.8 1673.1l-0.5 0M537.7 1559l0.7 -0.7M566.1 1582.1l-0.4 -0.5M452 1534.9l0.7 0.8M598.7 1512.5l0.2 -0.4M445.8 1555.1l-0.4 -0.2M479.8 1518.6l0.4 0.5M551.9 1529.5l0.8 -0.5M522 1661.2l0.3 0.4M575.1 1525.7l-0.7 0M607.1 1539.4l-0.4 0.4M456.1 1582.9l-0.8 0.4M580.9 1548.7l-0.1 -0.6M560.8 1658.7l0.1 0.5M462.5 1637l-0.2 0.7M512.4 1578.8l0 0.4M624.7 1595.4l-0.4 -0.5M618.7 1566l-0.7 0M559.9 1539.6l-0.3 0.7M495 1515.3l-0.4 -0.2M497.7 1666.3l-0.8 -0.4M551.9 1605.7l0.3 0.4M509.6 1505.8l-0.1 -0.8M552.5 1556l0.1 0.3M494.8 1549.9l0.6 -0.4M580.4 1652.2l-0.7 -0M454 1532.8l-0.5 0.4M538.2 1522.2l-0.7 0.3M544 1526l-0.2 0.5M454.6 1573.8l0.7 -0.2M597.5 1653.5l0.8 0.3M485.6 1603.6l0.1 -0.6M434.3 1593.6l0.1 -0.5M507.6 1670.1l-0.4 -0.3M542.3 1628.7l-0.2 0.8M579 1599.6l-0.7 -0M520 1602.5l-0 0M545.4 1652.6l0.1 0.1M597.3 1611.3l-0.1 -0.2M632.5 1600.9l0.5 -0.4" stroke="#f0e4c8" stroke-width="2" stroke-opacity="0.30"/>
<path d="M568.1 1565.3l0.3 0.2M522.4 1574.6l-0.3 0.3M497.3 1507.4l0.6 0.2M620.8 1538.9l-0.2 -0.1M508.6 1647.6l-0.6 0.1M476.5 1545.9l-0.2 0.6M446.6 1589.4l0.2 0.7M547.1 1574.3l0.2 0.1M599.6 1642.4l-0 0.5M521.4 1536.8l-0.6 0.4M507.7 1592.4l-0.7 0.2M521.7 1511.3l0.6 0.5M476.8 1661l0.5 0.3M622.8 1611.8l0.1 -0.7M439.1 1621.9l0.1 0.1M450 1546.8l0.2 0.7M543.4 1573.8l0.3 -0.1M554.2 1644.1l0.3 -0.6M478.2 1634.7l0.3 -0.8M539.7 1659.9l-0.4 -0.2M535.7 1619.3l-0.4 0M600.5 1625l-0.8 0.8M488.7 1613l0.3 0.3M552.8 1556.1l0.6 -0.1M436 1570l0.1 0.1M556.9 1559.8l-0.3 0.6M492.2 1647.6l-0.1 -0.1M599.8 1529.4l-0 0.7M535.3 1546.7l-0.5 -0.6M462.5 1592.7l-0.3 -0.7M531.2 1547.4l0.2 0.1M606.5 1557.9l-0.6 -0.4M508.6 1618.1l-0.2 0.5M531.3 1608.6l-0.6 0.8M538.7 1685l0.4 0M484.8 1532.6l0.4 0.4M450.7 1635.9l-0.6 -0.2M532.1 1637.4l0.2 -0.3M489.6 1534.5l0.3 0.4M474.3 1655.5l-0.1 0.6M580.1 1551.4l0.5 -0.1M450 1613.4l-0.2 -0.2M610.3 1641.9l0.6 -0.1M578.8 1553.3l-0 -0.2M483.9 1588.8l-0.2 -0.6M549.2 1525.7l-0.3 -0.2M587.2 1544.9l0.7 0.5M477.8 1566.1l-0.6 0.3M597.5 1579l0.5 -0.1M499.5 1632.9l-0.2 -0.7M455.3 1630.9l-0.8 0.2M497 1502.9l-0.3 0.8M487.1 1508.1l-0.6 -0.1M516.9 1603.6l0.3 0.4M543 1497.1l-0.6 -0.6M474 1615.4l0.2 0M566.6 1565.8l0.1 -0.7M508.5 1513.9l-0.4 -0.5M513.8 1533.6l0.2 0.4M564 1633.2l-0.3 -0.4M624.6 1626.1l-0.7 0.8M575.9 1497.2l-0.5 -0M592.1 1522l-0.6 -0.6M594.9 1577.6l-0.6 0M544.1 1646.6l-0.6 0.7M505.3 1524.3l-0.4 0.5M504.6 1574.3l0.3 0.4" stroke="#7a6048" stroke-width="1.6" stroke-opacity="0.30"/>
<path d="M589 1520.2l0.8 -0.3M487 1559.7l-0.7 0.5M556.8 1492.6l0.8 0.7M458.3 1619.1l0.7 0.5M446.3 1563.3l-0.1 0.4M532.2 1626.3l-0.6 0.3M433.8 1593.8l-0.5 -0.2M596.4 1635.5l-0.6 -0.7M499.5 1511.4l0.1 0.7M609.5 1603.8l-0.6 -0.4M492.4 1575.2l-0.7 -0.4M521.7 1596.2l-0.3 -0.4M481.1 1509.6l0 -0.1M513.4 1684l0 -0.5M456.9 1525.5l0.6 -0M481.5 1501.7l0.2 -0.7M550.6 1502.9l-0.5 -0.2M520.9 1566.4l0.4 0.7M489 1598.8l0.3 -0M586.2 1560.3l-0.3 -0.1M594.6 1629.8l0.6 -0.1M500.5 1577.9l-0.4 -0.2M603.6 1640.1l-0.4 0.2M471 1540.8l-0.7 -0.2M527.9 1534.3l0.4 0.2M477.4 1559.4l-0.6 0.7M561.7 1626.3l0.1 -0.3M536 1623.2l0.6 -0.5M531.9 1589l0.2 -0.6M468.6 1635l0.5 -0.7M516.8 1678.6l-0.7 -0.8M559.5 1530.1l0.7 0.6M467.6 1625l0.5 -0.4M607.2 1596.9l-0.5 0.5M594.6 1538l-0 0.1M523 1668.3l0.4 -0.6M516 1561.2l0.3 -0.7M463.6 1585l-0.1 -0.6M602.7 1588.5l-0.7 0.4M605.1 1569.7l0.6 0.6M544.3 1599l-0.3 0.8M497.5 1504.8l0.1 0.4M506.8 1644.9l0.4 -0.3M509.6 1670.9l0.2 0.2M606.3 1536.9l-0.3 0.1M563.7 1601.6l0.7 0.8M461.4 1519.7l0.1 -0.8M502.9 1559.5l0.6 -0.6M547.4 1588.5l0.2 0.1M597.7 1567l-0.5 -0.1" stroke="#ead2a0" stroke-width="1.2" stroke-opacity="0.30"/>
<path d="M515.9 1553.3l-0.5 0.1M499 1636.1l-0.1 -0.3M612.6 1534.6l0.5 -0.2M572.2 1535.2l0.4 -0M476.7 1554.5l0.7 -0.6M574.6 1645.1l0.3 0.8M473.8 1588.6l0.4 -0.3M503.5 1614.3l-0.1 0.7M580.9 1660.9l-0.1 0.6M455.9 1624.2l-0.1 0.4M449.7 1550.5l0.6 -0.2M499.3 1672.3l-0.7 -0M543 1670l-0.3 0.2M564.2 1649.9l-0.2 -0M437.9 1572l-0.7 -0.2M587 1662.7l-0.4 0.4M487.1 1639.1l-0.7 -0.4M518.7 1519.6l0.4 0.7M468.4 1599.4l-0.4 -0.4M572.8 1530.8l0.8 0.7M490.7 1564.5l-0 -0.1M580.9 1592.4l-0.5 0.5M570.7 1564.4l0.8 -0.2M490.4 1625.1l-0.1 0.1M618.8 1599.8l0.6 -0.8M467.5 1522.4l-0.2 0.2M488 1644.4l-0 -0.2M566.4 1631.6l0.8 -0.2M576.7 1676l0.4 0.2M480.9 1660.9l-0.6 -0.5M623.6 1635.5l0.8 -0.1M466 1516.1l0.7 -0.3M470.9 1642.1l0.1 -0.7M556.9 1580.9l-0.8 -0.5M592.1 1525.1l-0.1 -0.2M565.9 1647.7l0.1 -0.3M554.2 1507.2l-0.5 0.2M509.4 1494l-0.5 0.5M523.7 1540.3l0.7 0.2M482.8 1552.6l0.4 -0.3M529.6 1511l-0.5 -0.6M553.3 1610.4l0.3 0.1" stroke="#f0e4c8" stroke-width="1.2" stroke-opacity="0.45"/>
<path d="M507.3 1659.6l0.2 -0.3M552.4 1586.6l-0.1 0.6M590.1 1575.2l0.7 -0.6M555.7 1568.3l0.6 -0.3M528 1487.4l-0.7 0.1M606.1 1545.1l0.7 0.7M452.8 1568.2l0.7 0.5M449.9 1543.1l-0.3 0M505.2 1629.5l-0.1 -0.1M575.8 1658.7l-0.6 0.4M460.7 1642.4l-0.3 -0.1M502 1595.9l-0.6 0.5M469.9 1556l-0.3 0.5M526.8 1522l0.5 -0.2M465.3 1626.4l-0.2 -0.2M609.2 1624.4l-0.6 0M449.7 1568.6l0.2 -0.4M598.3 1530.6l-0.5 -0.2M590.2 1663.1l-0.6 0.7M525.9 1494.4l-0.6 -0.5M555.9 1651.9l-0.3 0.4M464.9 1628.3l-0.4 0.2M461.2 1655.5l0.4 0.2M528.7 1653.4l0.2 0.6M500.5 1493l-0.3 0.2M588.6 1589.9l-0.4 -0.3M489.5 1631.5l0.4 0M518.6 1618.5l-0.4 -0.4M622.9 1561.9l0.4 0M500.3 1583.1l-0.3 0.1M484.7 1621.6l0.6 -0.7M554.6 1548.5l0.6 0M534 1612.9l0.1 0M510.4 1593l-0.4 0.3M583.3 1627.1l-0.6 -0.7M570.4 1568.3l0.6 0.6M554 1534.8l0 0.8M602.7 1566.2l0.6 -0.7M578.8 1604.6l-0.6 0.2M456.4 1585.2l-0.7 0M580.1 1539l-0.7 -0.2M437.5 1560.2l0.4 -0.2M480.3 1571.3l-0.4 -0.4M542.4 1576.2l-0.2 -0.1M566.1 1580.8l-0.5 0.1M528.7 1677.8l0.4 -0.3M482.2 1572.8l-0.1 0.5M549.7 1622l0.1 0.2M588.1 1583.7l0.6 -0.4M522 1559.8l0.4 -0.8M618.5 1571.2l0.7 0.6M440.2 1559.6l0.2 -0.2M586.4 1592.4l-0.4 -0.3M596 1609.6l-0.4 -0.6M576.7 1520.2l0.5 -0.5M609.3 1591.5l0.4 -0.1M581.8 1569.5l-0.2 0.5" stroke="#caa878" stroke-width="1.2" stroke-opacity="0.45"/>
<path d="M587.8 1563.8l0.2 0.6M614.4 1560.7l0.5 0.3M545.4 1674.6l0.7 -0.2M542.8 1626.5l0.2 0.7M534.9 1568l0.3 0.3M564.7 1508.7l-0.8 0.3M508.4 1577.4l-0.6 0.1M556.6 1585.8l0.1 0.8M484.1 1632l0.5 0.2M452.3 1629.9l-0.6 -0.8M582.4 1517.5l0.7 0.1M536.7 1639.1l0 -0.2M631.5 1612.8l0.3 0.4M573.3 1605l0.5 0.5M605.3 1609.7l-0.7 0.1M563.5 1568.6l0.2 0.5M595 1626.8l-0.7 0.1M579.9 1667l-0.8 0.3M555.4 1495.7l0.7 -0.4M449.9 1556.4l-0.6 -0.6M596.1 1528.2l-0 0.4M538.2 1523.4l-0.6 0.6M587.6 1605.4l-0.5 -0.6M570.7 1670.1l0.6 -0.4M538.3 1631.4l-0.3 0.5M560.8 1642l0.2 -0.5M446.6 1592.7l-0.5 0.4M551.9 1499.3l0.6 -0.1M458.2 1649.8l-0.7 -0.3M441.5 1622l-0.1 0.4M539.6 1638.1l0.5 0.7M543.1 1567.3l0.6 0.5M526.9 1657.7l-0.3 0.1M490.7 1501.7l0.3 -0.2M536 1503.2l-0.2 -0.5M493.7 1532.5l0.3 0.4M571.8 1619l0.5 -0.5M597.7 1585.9l-0.3 0.1M459.2 1624.3l0.4 0.5M500.8 1665.8l0.4 0.7M536.6 1537.5l-0.1 -0.3M521.6 1597.2l-0.7 0.1M459.7 1550.8l0.6 0.4M585.9 1669.8l0.2 -0.3M553.6 1604.3l0.2 0.7M493.1 1598.6l0.1 0.3M575.9 1565l-0.4 -0.2M478.2 1625.5l-0.6 -0.7M566.5 1555.2l0.4 0.6M530.1 1504.8l-0.6 0.2M548.3 1524l0 -0.4M462.9 1644.5l0.3 0.6M509.6 1536.1l0.2 -0.3M585.5 1641.7l0.4 0.7" stroke="#7a6048" stroke-width="1.2" stroke-opacity="0.30"/>
<path d="M625.6 1622.2l0.2 0.4M615.5 1585.3l-0.3 0.3M488.1 1601.3l-0.2 0.8M446.3 1622.7l0.4 0.1M484.1 1646.4l-0.2 0.6M502.4 1680l-0.3 0.6M581 1544.9l0.6 0.4M591.2 1580.1l0.5 0.7M524.5 1554l0.1 -0.5M588.9 1512.3l0.5 0.1M606.7 1558.3l-0.5 -0.7M481.4 1598.6l-0.7 -0.4M458.7 1643.7l-0.2 -0.5M609.5 1650.6l-0.4 0.3M541.9 1630.2l0.8 0.6M487.1 1614.6l0.7 0.7M482.6 1541.1l-0.8 -0.4M467.4 1588.2l-0 -0.3M586.1 1637.1l-0.3 0M578.7 1568.3l0.2 -0.1M475.3 1507.6l-0.1 0.7M495.2 1501.4l-0.3 -0.4M530.5 1590l-0.7 -0.5M514.3 1587.8l0.2 0.3M543.4 1495.1l-0.3 -0.4M621.6 1584.5l0.8 -0.1M626.2 1613.2l0.7 -0.7M525.9 1593.9l0.8 -0.2M582.7 1658.8l0.1 -0.6M487.5 1574l0.7 -0.1M633.7 1589.1l0.4 -0.3M602.2 1584.6l-0.4 0.4M549.6 1508.5l-0.1 0.3M495.3 1579.4l-0.7 -0.5M584 1605.5l-0.8 0.6M607.3 1616.9l-0.5 -0.8M479.6 1669.3l-0.6 0M544.4 1527.7l-0.6 0.2M512.3 1498.5l0.5 -0M535.5 1634.2l-0.6 -0.4M524.4 1562l0.7 -0.4M494.7 1650.1l-0.2 -0.5M547.7 1618.9l0.7 0.5M517.8 1552.2l-0.7 -0.2M500.4 1545l-0.1 -0.3M464.2 1628.3l0.6 -0.6M507.2 1663.4l-0 0M591.8 1506.3l0.1 -0.6M521.5 1524.9l0.6 -0.6M576.9 1524.1l0.7 0.7" stroke="#f0e4c8" stroke-width="2" stroke-opacity="0.45"/>
<path d="M521.3 1570.7l0.1 0.8M537.2 1597.2l-0.2 0.2M597.2 1535.1l0.7 0.4M605.7 1563.2l0.2 0.2M469 1542.7l-0.5 0.7M523.6 1686.1l-0.1 0.6M534.8 1598.2l0.7 -0.2M492.8 1578.1l0.1 0.6M477.5 1524.7l0.6 -0.8M545.5 1665.3l0.4 -0.3M598.4 1570.3l0.4 -0.6M562.7 1636.9l-0.4 -0.1M579.8 1618l-0.2 0.7M482.1 1593.9l0.4 0.1M562 1562.7l-0.1 0.1M595.7 1551.3l-0.1 0.6M447 1635.2l0.3 0.7M438 1589.8l-0.2 0.1M479.6 1631.2l-0.5 0.3M605.3 1616.2l-0.1 -0.3M518.4 1634.5l-0.6 -0.7M492.4 1600.8l0.2 0.1M554.1 1566.6l0.5 0.5M581.5 1548.6l0.4 0M522.5 1593l-0.1 0.5M513.9 1644.7l-0.5 0.6M491.8 1641.3l-0.5 -0.3M469.2 1641.6l0.1 0.5M510.3 1536.2l-0.2 -0.5M470 1627.2l-0.2 0.3M517.8 1626l-0 -0.6M508.5 1563.2l-0.7 -0M520 1502.5l0.3 0M577.3 1650.7l-0.2 0.7M619.1 1619.5l-0.2 0.2M504.6 1544.8l-0.4 0.2M500 1564.8l-0.1 -0.5M582.1 1587.1l0.1 -0.1M586.1 1581.1l-0.7 -0.7M468.2 1516.6l0.2 0.3M484.6 1557.5l0.4 0.6M501.5 1532.5l-0.2 -0.2M520.4 1655.1l-0.4 0.6M506.1 1531.1l-0.1 0.1" stroke="#7a6048" stroke-width="2" stroke-opacity="0.30"/>
<path d="M547.4 1662.5l0.5 -0.3M491 1547l0.2 0.4M469.6 1565.2l0.2 0.5M577.6 1671.2l0.2 -0.3M529.3 1620l-0.2 0M548.3 1502.4l-0.4 0.3M599.5 1513.4l0.3 -0.6M536.1 1524.2l-0.6 -0.1M591.7 1522.5l-0.7 0.2M538.9 1495.8l-0.5 0.2M567.6 1578.6l0.5 0.5M487.2 1670.8l-0.1 0.4M520.9 1578.3l0.8 -0.2M507 1611.9l-0.6 -0.6M542 1517.3l0.1 0.3M583 1629.9l-0.1 0.5M589.4 1546.8l-0.4 0.1M544.2 1486.6l-0.1 -0.8M594.7 1629.2l-0.5 -0.4M500.7 1508.7l0.2 -0.5M511.5 1641.7l-0.3 -0.8M565.6 1673.4l0.2 -0.5M456 1598.7l-0.4 -0.1M506.2 1633.3l-0 0M600 1649.4l0.1 0.7M500.2 1665l-0.3 0.3M521.8 1671l-0.6 0.2M546 1646.5l0.3 0.4M449.9 1578.1l-0.5 -0.6M491.4 1515.6l0.8 0.4M589.1 1550.1l0.2 -0.6M481.7 1542.5l0.3 -0.7M562.2 1653l0.8 -0.4M556.7 1658.3l-0.3 0.5M490.8 1593.2l-0.6 0.5M595.3 1523.6l-0.3 -0.1M496.7 1608l0.6 0.3M590.8 1596.3l0.2 -0.7M510.9 1667.4l0.2 -0.6M586.4 1618.5l-0.6 -0.2M467.7 1541.6l-0 0.2M514.3 1640.4l-0.2 -0.5M457 1560.7l0.3 0.2M605.4 1643.5l0 -0.6M526 1684l0.7 -0.7M455.6 1571.1l0.3 -0.4M573.7 1520l0.2 0.4M523.5 1634.2l0.3 -0.8M619.1 1638.6l-0.5 -0.4M506 1501.5l-0.5 -0.2M469.7 1648l0.3 0.6M525.5 1600.7l0.6 0.7M455.8 1555l-0.8 0.1M609.9 1546.5l-0.1 0.3M603.7 1610.7l-0.7 -0.7M625.3 1568.8l-0.6 0.6" stroke="#ead2a0" stroke-width="2" stroke-opacity="0.45"/>
<path d="M477.2 1601.5l-0 0.3M618.1 1589.2l-0.1 0.6M501.8 1537.5l-0 -0.3M604.8 1575.9l0.6 0.1M530.9 1516l0.3 0.2M467.2 1568.7l0.5 0.3M560.9 1550.2l0.7 -0.3M573.4 1675.8l0.4 -0.2M444.4 1566.6l-0.2 0.5M597.4 1577.3l-0.3 0.1M510.9 1645.7l-0.8 0.8M582.5 1553.1l0.5 -0.1M554 1623l0.8 0.3M538.7 1637.1l0.6 -0.6M567.6 1536.6l-0.3 -0.6M480.6 1511.9l0.3 0.7M468.4 1535.4l0.1 0.4M580 1664.5l0.5 -0.2M507.9 1528.4l-0.2 0.4M533.9 1545.4l0.4 -0.2M571.4 1602.4l-0.4 -0.2M526.2 1669.6l-0.7 -0.3M532.3 1687.4l-0.6 0.4M448.8 1614.2l-0.3 0.4M508.5 1662.5l-0.8 -0.4M626.1 1542.3l-0.8 0.3M609.6 1523.8l-0.6 0.3M611.1 1520l0.1 -0.4M562.1 1600.5l-0.7 -0.7M531.6 1674.5l0.1 -0.6M560.3 1649.2l-0.3 0.7M576.6 1526.2l-0.6 -0.2M497.8 1641.3l-0.2 -0.5M463.9 1538.1l-0.6 0.1M562 1622.6l0.7 0.3M515.6 1510.9l0.2 -0.4M606.6 1517l0.2 -0M515.1 1537.2l0.7 -0.7M494.8 1580.9l0.4 0.1M560.5 1627l0.4 0.7M597.6 1563.8l0.1 0.2M462.2 1522l-0.2 0.2M465.5 1589.6l0 -0.7M504.5 1620.8l0.4 0.2M563.8 1528.4l0.8 0.6M528.3 1664.5l0.6 -0.3M567.3 1668.2l0 -0.5M580.1 1527.9l-0.1 0.3M517 1546.5l-0.4 -0.4M473.6 1586.3l0.1 0.7M575.6 1669.6l0.7 0.3M535.3 1538l-0.5 -0.7M570.6 1536.1l0.2 0.6M487.1 1570.2l-0.4 0.8M507.9 1565.9l-0.2 -0.7M608.6 1564l-0 -0.5M504.1 1506.8l0.6 0.5M577.7 1565.6l-0.3 0M541.5 1652.4l-0.3 0.1M494.6 1669.8l0.3 0.5M605.5 1619.4l-0.2 0.3M531.5 1532.8l-0.1 0.4M491.6 1638l0.5 -0.1" stroke="#ead2a0" stroke-width="1.6" stroke-opacity="0.45"/>
<path d="M516.5 1606.8l-0.7 -0.8M509.1 1512.6l-0.6 0.3M518.8 1494.6l0.4 0.5M517.9 1612.3l-0.5 0.3M572.5 1498.9l-0.1 -0.4M547.5 1619.3l0.6 -0.2M571.6 1519.6l0.1 -0.6M460.3 1655.1l-0.4 0.7M482.1 1541.1l0.6 0M532.3 1604.9l0.2 0.3M495.8 1634.2l0.7 -0.1M582.3 1520.8l-0.7 -0.3M599.9 1614.5l-0.4 -0.6M485.3 1605.4l-0.1 0.3M495.5 1540.1l0 -0.5M476 1546.6l-0.1 0M519.1 1561.6l-0.8 0.6M496.9 1498.9l0.7 0.7M481.8 1577.8l0.6 0.5M595.3 1551.9l-0.5 -0.2M465.4 1560.5l-0.8 0M571.6 1582.2l0.7 0.4M562.4 1510.1l-0 0M452.4 1625.9l0.3 0.7M493.8 1677.7l0.1 0M475.6 1605.1l-0.7 0.1M473.4 1584.2l0.5 0M621.5 1568.7l0.8 0.7M534.6 1509.5l0.2 -0.6M508.9 1541.7l0.7 -0.3M478.1 1657.6l0.1 -0.5M547 1628.8l-0.4 -0.2M507.4 1568.7l-0.5 0.2M613.3 1536.5l-0.4 0.2M584 1632.4l-0.6 -0.5M537.4 1629.2l0.6 0.4M575.7 1666.6l0.4 0.2M443.8 1604.4l-0.3 0.4M482.4 1505.6l-0.5 -0.4M596 1636.9l-0.3 0.7M476.6 1605.8l0.7 -0.6M552.8 1531.5l-0.7 0.5M463 1592.5l0.6 -0.3M559.6 1527.8l-0.1 0.7M510.1 1579.5l-0.7 0.6M587.8 1557.1l0.3 0.4M577.8 1504.1l-0.6 -0.7M504.6 1500l-0.6 0.2M615.9 1584.2l0.6 -0.6M523.1 1682.1l-0.1 -0.7M592.9 1614.9l0.6 -0.8M617.4 1596.1l-0.2 0.4M586.2 1624.8l-0.4 0.8M453.5 1605.2l-0.7 0.5M559.3 1570l0.6 0.5M519.1 1573l-0.2 -0.5M471.1 1557.9l-0.4 0.4M583.3 1505.3l-0.3 -0.4" stroke="#caa878" stroke-width="1.6" stroke-opacity="0.30"/>
<path d="M556.5 1594.5l-0.2 0.4M518.1 1632.8l0 0.5M507.8 1495.5l0.7 0.2M499 1509.5l0.4 0.1M623 1592.2l-0.7 -0.8M459.3 1639.4l-0 0.8M561.4 1586.7l0.5 -0.2M563.8 1679.8l0.7 0.7M455.2 1574.9l0.4 0.4M564.2 1603.3l-0.2 0.3M497 1630.5l0.4 0.3M571 1601.1l0 0.4M543.7 1553.7l0.7 0.7M566.2 1580.6l0.8 -0M486.7 1649.3l-0.2 0.8M608 1569.9l0.2 -0.6M634.4 1576.4l-0.1 0.7M541.9 1621l0.2 -0.4M507.2 1593.7l-0.4 0.1M496 1546.9l-0.3 -0.1M545.5 1614.8l-0.5 -0.8M491.9 1585.2l-0.6 0.6M522.8 1545.1l0.6 0.4M561.7 1497.6l-0.7 -0.2M518.9 1509.6l0.3 0M611.6 1579.2l0.2 0.6M561.8 1621.2l-0.3 -0.7M438.6 1590.6l-0.4 -0.6M547 1536.6l-0.4 0.1M578.5 1662.3l0.6 -0.4M519.8 1554.4l0.2 0.2M580.2 1512.8l-0.3 0.1M589.3 1654.6l-0.7 -0M442.9 1557.8l-0.1 -0.6M627.9 1567.5l0.4 -0.3M538.7 1629.5l-0.1 -0.4M473.8 1620.4l-0.2 -0.4M539.5 1491.2l-0 -0.5M543.5 1493.4l0.1 -0.6M592.2 1529.5l-0.7 -0.6M511.3 1548.8l0.5 0M545.5 1499l0.7 -0.4M625.5 1626.7l0.4 0.1M471.3 1516l-0.3 0.4M578.7 1602.9l-0.8 0.3M445.2 1595l-0.5 0.2M480.4 1601.9l-0.1 -0.4M487.5 1594.6l0.7 -0.6M534.7 1622.6l0.3 0.8M550.7 1663.1l0.7 -0.5M561.6 1493.6l0.5 -0.2M464.4 1594.9l0.7 -0.6" stroke="#caa878" stroke-width="2" stroke-opacity="0.30"/>
<path d="M628.5 1563.5l0.1 0.7M588.1 1664.2l0.3 -0.7M536.2 1541.3l-0.1 -0.4M447.4 1545l-0.6 0.3M515.6 1574.5l0.5 0.7M530.7 1536.5l0.2 -0M510 1670.5l-0.5 -0.7M455.6 1533.6l-0.4 0.7M468.3 1629.9l0 -0.3M442.4 1623l0.6 -0.2M505.1 1611.8l-0.1 0.1M472.3 1547.3l-0.2 -0.3M567.7 1502.5l-0 0.3M478.9 1548.8l0.1 -0.8M615.9 1599.5l-0.6 0.5M443.6 1561.6l-0.2 0M446.1 1561.4l0.1 -0.7M505.4 1494.5l-0.6 0.5M595.4 1626.6l0.2 -0.5M608.3 1624.2l-0.2 0.5M464 1545l0.6 -0.2M519.6 1490.4l0.8 0.7M474.9 1606.2l-0.3 -0M516.7 1637.2l0.5 -0.6M579.5 1555.5l-0.3 -0.5M543.1 1539.6l-0.8 -0.7M593.1 1662.1l0.1 -0.7M569.4 1632l-0.1 -0.3M477.5 1532.3l0.1 -0.7M583.2 1512.5l-0.4 -0.8M534.2 1658.3l0.7 -0.2M555.2 1623.4l0.3 -0.5M561.4 1570.1l-0.5 0.2M487.1 1531.7l-0.2 0.2M624.8 1553.8l0.6 0.2M514.4 1534l-0.4 -0.7M546.8 1497.3l-0.7 -0.2M596.1 1543.2l-0.4 0.5M583.5 1507.2l-0.3 -0.1M531.3 1543.4l-0.1 0.7M517.3 1602.3l0.3 -0.1M481.6 1600.4l-0.1 -0.2M520.5 1541.8l0.2 -0.4M625.6 1583.6l-0.7 -0.7M504.8 1546.5l0.7 0.1M483.5 1569.1l-0.5 -0.4M554 1561.2l0.1 0.7M611 1581.8l0.6 -0.7M515.6 1619.4l0.2 0.4M481.4 1548.6l0.2 0.3" stroke="#ead2a0" stroke-width="1.6" stroke-opacity="0.30"/>
<path d="M486.8 1671.8l0.2 0.2M628.6 1569.3l0.1 -0M495.7 1502.7l0.4 0.4M527 1685.8l-0 -0.8M442.2 1594.5l-0.5 -0.6M491.3 1671.9l0.8 -0.7M486.3 1669.2l-0.4 0.6M492.8 1674.6l-0 -0.4M447 1635.5l0.1 -0.8M452.2 1543.6l0.3 0.6M634.4 1576.1l-0.9 -0.8M564.7 1490.8l0.7 -0.3M434.8 1573.1l0.6 0.4M628.5 1573.3l-1 1M453.8 1640.9l-0.9 0.9M460.4 1651.6l0.8 -0.5M594 1509.7l0.9 0.7M465.7 1517.9l0.2 -1M613.5 1529.6l-0.2 0.3M629.6 1617.5l0.3 -0.2M547.4 1681.1l0.2 -0.9M573.5 1499l0.8 -0.4M622 1552.7l0.9 0.9M595.7 1664.9l0.4 -0.7M435 1580.2l-0.9 0.1M566.6 1679.7l-0.8 0.6M515.7 1497.3l0.2 -0.3M524.6 1678.3l0.8 0.7M575.3 1504.8l0.5 -0.5M626.3 1618.3l-0.8 -0.9M446.5 1637.3l-0 -0.3M440.2 1559.5l-0.5 0.3M588.7 1666.2l-0.1 -0.2M470 1519l0.7 -0.9M622 1632.7l0.6 -0.2M446.8 1624.8l0.9 -0.2M596.2 1509.2l-0.5 0.3M447.7 1619.7l0.7 -0.9M443.8 1605l-0.5 -0.2M605.4 1523l-0.2 0M580.9 1665.6l-0.5 -0.8M436.4 1605.2l-0.3 -0.2M466 1651.5l-0.4 0.4M452.4 1530.3l0.6 0.6M629.9 1556.6l0.1 -0.1M602.4 1660.2l-0.7 -0.2M439.5 1550.1l0.7 0.7M512.6 1675l-1 -0.4M633.8 1601l-0.3 0.3M618 1547.4l-0.8 0.3M482.3 1668.7l-0.7 0.9M563.9 1491.8l0.3 0.2M437.5 1558.5l-0.6 0.2M615.5 1633l-0.6 -1M442.1 1602l-0.2 -0.2M494.5 1671.1l0.5 0.6" stroke="#f4f4ee" stroke-width="1.6" stroke-opacity="0.70"/>
<path d="M556.8 1495.3l1 0.5M576.5 1502.6l0.4 0.7M611.8 1534.8l0.2 0.6M577.3 1676.6l-0.6 0.1M569.5 1498.2l0.9 0.3M510.9 1674.9l-0 -0.7M493.1 1671.9l-0.1 0.6M579 1666.9l-0 -0.7M581.7 1501.6l0.2 -0.4M496 1669.7l-0.5 -0M564.1 1496.6l-0.2 0.5M472.5 1517.6l1 0.1M605 1522.9l-0.8 -0.2M578.5 1670.8l-0.5 0.7M558.3 1491.3l0.9 0.4M464.5 1648.1l0.3 -0M442.1 1596l-0.8 -0.6M486 1507.2l0.9 -0.4M627.5 1591.4l0.9 0.1M627.5 1624.4l-0.7 0.4M614.7 1634l-0.1 0.1M500.5 1681.5l-0.3 0.6M554.6 1678.4l-0.4 -0.5M626.6 1619.4l-0.3 -0.4M629.8 1562.3l0.8 0.8M601.8 1661.7l-0.4 0.3M566 1493.6l-0.4 1M458.6 1529.5l-0.8 0.9M617.6 1532.3l-0.2 -0.7M473.2 1664.7l0.4 -0.8M438.2 1584.1l0 -0.9M527.8 1487.4l-0.5 -0.5M501.7 1499.2l1 -0.7M626.8 1610.8l-0.7 -0.3M445.5 1545.1l-0.5 0.2M492.7 1668l1 -0M515.4 1492.8l-0.9 -0.9M539.2 1679.6l0.4 -0.6M449.4 1639.1l0.6 -0.3M594.6 1658.2l-0.1 0.9M506.5 1497.3l0 -0.1M629.6 1560.7l-0.7 0.6M518.4 1684.8l0.8 0.9M484.8 1503.2l-0.9 -0.7M603.4 1657.8l-0.1 -0.2M545.6 1686l0.9 0.5M437.6 1604.8l0.3 -0M623.3 1563.7l0.8 -0.1" stroke="#f4f4ee" stroke-width="2.4" stroke-opacity="0.70"/>
</g>
<linearGradient id="gb11" x1="0" y1="0" x2="1" y2="1"><stop offset="0" stop-color="#6c95b6"/><stop offset="1" stop-color="#567796"/></linearGradient>
<radialGradient id="gs11" fx="0.500" fy="0.500"><stop offset="0" stop-color="#90aaa6"/><stop offset="0.6" stop-color="#a0b8b2"/><stop offset="0.9" stop-color="#b8cec8"/><stop offset="1" stop-color="#d0e2dc"/></radialGradient>
<rect x="88" y="1704.3" width="283" height="211.5" fill="url(#gb11)"/>
<ellipse cx="228.3" cy="1802.8" rx="56.1" ry="56" fill="url(#gs11)" stroke="#e0ece8" stroke-width="2" stroke-opacity="0.75" filter="url(#soft)"/>
<clipPath id="cs11"><ellipse cx="228.3" cy="1802.8" rx="57.1" ry="57"/></clipPath>
<g clip-path="url(#cs11)" stroke-linecap="round" fill="none" filter="url(#soft)">
<path d="M188.2 1815.2l-0.5 0M262.8 1774.4l0.2 0.5M184.3 1803.6l-0.2 -0.6M219.9 1821.7l0.3 0.7M261.1 1779.2l0.4 -0.1M263.4 1825.5l0.8 0.3M219.3 1811.4l-0.5 0.1M271.6 1837.8l-0 0.4M176.3 1811.4l-0.8 0.6M202.1 1845.1l-0 0.5M237.4 1812.3l-0.2 0.4M219.4 1749l0.2 -0.4M195.9 1759.8l0.5 0.7M221.6 1793.9l-0.2 0.7M191 1770.7l0.2 -0.2M189.7 1778.1l-0.1 -0.7M247.9 1751.6l0.2 0.2M223.9 1818.6l-0.5 -0.8M232.4 1827.4l0.1 -0.7M205.3 1799.4l-0.3 -0.1M221.7 1767.3l-0.5 -0M224.2 1851.7l-0.1 0.6" stroke="#50686c" stroke-width="1.6" stroke-opacity="0.30"/>
<path d="M194.1 1766.5l-0.6 0.1M204.8 1853.6l0.4 0.6M224.1 1774.6l0.1 0.3M253.7 1770.3l-0.1 0M257.2 1761l0.2 0M195.8 1825.4l-0.1 0.2M254.5 1784.9l0.4 0.2M257.2 1810.7l0.6 0.5M242.6 1784.5l0.5 0.5M237.7 1819.6l-0.8 0.1M234.5 1747.5l0.5 -0.1M254.6 1785l-0.5 -0.5M263.5 1781.1l-0.3 -0.5M208.9 1795.1l-0.4 0.2M187.9 1797.7l0.1 -0.6M280.4 1783.7l0.1 -0.3M215.6 1772.3l0.3 0.3M247.9 1810.8l-0.7 -0.4M270.4 1820.8l0.6 -0.3M280.1 1810.4l0.2 0.1M243 1765.6l0 -0M209.6 1813.1l0 0.8M220.8 1830.4l-0.1 -0.5M271.6 1830.5l-0.2 -0M236.1 1775.2l0.7 0.7M230.3 1816.7l-0.4 -0.3M274.1 1828.3l0.8 0.3M194.4 1772.5l-0.7 -0.1M188.3 1784l0.8 0.4M202.9 1806l0 0.5" stroke="#e0eee6" stroke-width="1.6" stroke-opacity="0.45"/>
<path d="M238.1 1806.9l0.4 -0.3M274.9 1821.2l-0.1 -0.5M191.6 1772.3l0.3 -0.2M204.9 1844.7l0.7 -0M272.5 1809.3l0.6 0.1M224.1 1843.5l-0.8 0.5M263.8 1829.2l-0.5 -0.2M207.7 1848.1l-0.4 -0.5M258.1 1839.6l0.2 -0.5M176.8 1801l-0.6 -0.1M201 1770l-0.7 -0.1M259.3 1789.8l-0.8 -0.3M228 1761.9l-0.2 0.3M195.5 1834.8l0.8 -0M222.9 1796.4l0.5 -0M237.1 1806.8l-0.1 0.3M214.5 1846.4l0.5 0.3M206.1 1826.1l-0.5 -0.8M247.5 1797.7l-0.1 0.6M263.9 1816.7l0.1 0.1M276.1 1808.5l-0.5 0.7M227.6 1751.5l0.2 0.2M268.3 1830.3l-0.4 -0.7M228.5 1817.3l0.6 -0.1M263.4 1800.5l0.3 -0.4" stroke="#6a8688" stroke-width="2" stroke-opacity="0.30"/>
<path d="M207.4 1789.4l-0 0.3M180.6 1784.4l-0.3 -0.2M218.2 1849.3l-0.6 0.4M218 1810.1l-0.8 -0.4M239.1 1804.6l-0.7 -0.7M209.3 1764.4l0.5 0.1M268.2 1808.4l0.7 0.2M259.5 1781.7l0.2 -0.5M241.3 1824.5l0.4 -0M194.4 1793.2l0.6 0.4M195.1 1787.9l0.5 -0.6M189.3 1787.5l-0.4 0.7M226.6 1847l0.8 -0.2M192.2 1764.8l-0.2 0.5M217.1 1809.5l-0.5 -0.6M231.5 1784.9l-0.5 -0.2M260 1844.4l0.3 -0.6M230 1853.3l-0.7 0.3M199.8 1807l-0.7 -0.6M215 1839.3l-0 -0.8M236.3 1757.7l0.5 0.4M173.4 1806.3l0.2 -0M255.5 1757.3l-0.1 0.1M208.4 1755l0.3 -0.2M260.1 1757.5l0.6 -0.2M224.3 1775.4l0.7 0.7M195.3 1793.3l0.7 0.3M197.2 1763.5l-0.1 -0.2M184.1 1796.8l0.6 -0.5M226.1 1752.4l-0.5 0.1M194.7 1788.4l-0.3 0M199.7 1825.4l0.1 0.7M202.8 1793.8l0.5 -0.4M217.8 1846.2l0.2 -0.1" stroke="#6a8688" stroke-width="2" stroke-opacity="0.45"/>
<path d="M199.8 1810.6l-0.3 -0.4M254.9 1757.2l0.3 0.5M264.2 1773l-0.8 -0.5M198.3 1826.3l-0.8 -0.2M268.2 1811.2l-0.5 0M197.2 1822.8l0 -0.1M266.8 1770.1l0.7 -0.3M249.2 1781.3l-0.4 -0M230.1 1795.9l0.8 0.5M250.5 1786.4l0 -0.3M213 1826.4l0.6 -0.2M268.9 1797.8l0.4 -0M221.1 1848.8l0.4 0.4M202.5 1794l-0.3 -0.6M218.5 1778.7l0.2 0.1M207.9 1824.7l0.5 -0.8M214 1813.5l0.4 0.8M199.4 1791.9l0.3 -0.7M267.2 1820.1l-0.1 -0.1M278.2 1828.2l0.5 0.2" stroke="#e0eee6" stroke-width="2" stroke-opacity="0.45"/>
<path d="M224.7 1817.2l0.6 -0.2M253.3 1776.6l0.2 -0.2M228.3 1793.1l-0.4 0.3M237.4 1753.7l0.2 0.2M266.8 1822.7l-0.2 0.8M183.4 1834.2l-0.2 -0.5M274.1 1802l0.3 -0.6M221.5 1776.4l0.6 0.6M275 1788.9l-0.5 0.4M203.7 1832l-0.4 0.1M213.5 1798.2l0.5 0.7M184 1787.4l-0.2 -0.7M225.7 1814.6l0.1 -0.3M277.1 1794.9l-0.7 -0.4M207.7 1775.5l-0.7 0.8M274.2 1819.9l0.1 0.7M270.6 1786.2l-0.6 0.1M198.8 1808.9l-0.2 -0.4M238.8 1822.8l-0.3 0.6M215.2 1816.3l-0.6 0.1M218.3 1795.1l-0.1 -0.7M239.9 1846.2l0.7 0.2M276.4 1791.2l-0.1 0.1M178.4 1782.1l0.5 -0.8M211 1818.7l-0.1 0.4M200.7 1812l-0.3 -0.5M282 1803.6l-0.5 -0.1M277.7 1811l0.4 0.1" stroke="#e0eee6" stroke-width="1.6" stroke-opacity="0.30"/>
<path d="M278.2 1789.4l0.7 -0.7M194.1 1777.4l-0.1 -0.8M212.7 1804.5l-0.7 0.7M208.7 1827.2l-0 0.4M190.3 1781.1l0.8 0.6M229.6 1761.9l-0.4 -0.2M219.4 1752.9l0.6 0.8M256.4 1808l-0.6 -0.8M241.9 1845.1l0.1 -0.2M223.1 1799l-0.1 -0.2M232.4 1747.5l0.4 -0.4M221.9 1773l0.2 -0.1M250.7 1766l-0.7 0.8M228.7 1771.9l0.6 -0.4M237.1 1824.8l0.8 -0.7M260.4 1839l-0.1 0M270.1 1778.9l0.6 -0.3M209.8 1844.8l0.8 -0.2M249.8 1763.1l0.8 0.2M205.6 1840.9l-0.1 0.4M211.9 1760.6l-0.1 0.1M205.4 1844.7l-0.7 0.4M238.8 1772.9l-0.6 0.3M189.5 1797.3l-0 0.4M282 1799.3l0.4 0.7M250.4 1830.7l-0.1 0.1M196.4 1832.6l0.3 0.2M248.1 1849.4l-0.2 -0M184.2 1816.8l0.8 0.7M183 1800.3l0.5 0.2M227.5 1785.8l0.6 0.7M224.7 1775.6l-0 -0.2M238.3 1775.3l-0.7 -0.3M280.1 1799.9l0.1 -0.5" stroke="#e0eee6" stroke-width="1.2" stroke-opacity="0.30"/>
<path d="M194.8 1836l0.4 -0.4M255.9 1819.6l-0.4 -0.6M189 1770.2l-0.7 0.1M238.5 1784.9l-0.3 -0.4M205.1 1818.6l-0.2 0.1M248.8 1805.3l0.4 -0.4M224.8 1782.9l-0.2 0.1M276.7 1810.2l-0.5 -0.5M257.9 1816.8l0.6 0.8M245.2 1807.7l0.2 -0.6M244.5 1846.1l0.1 0M251.7 1770.2l0.2 -0.1M217.7 1853.8l0.1 0.6M249 1828.7l-0.2 -0.7M241.7 1788.1l-0.5 0.7M254 1767.1l0.8 -0.5M260.7 1836.4l-0.4 -0.4M264.4 1761.3l-0.6 0.5M268.4 1826.8l-0.1 -0M183 1803l-0.3 -0.5M196.1 1825.8l-0.3 0.2M271.6 1798.6l-0.1 0.7M262.9 1776.1l0.4 0.6M187.5 1773.1l-0.4 0.4M270.9 1830.8l-0.2 -0.3M200.3 1851.2l-0.4 0.4M180.5 1779.2l0.4 -0.6" stroke="#50686c" stroke-width="1.2" stroke-opacity="0.30"/>
<path d="M226 1782.7l-0.1 -0.5M263.4 1817.3l-0.6 -0.5M215.3 1837.7l0.5 0.5M233.5 1783.8l-0.4 -0.3M181.1 1814.4l-0.7 -0.7M219.3 1849.2l0 -0.2M247.6 1832.6l0.3 -0.4M255.7 1820.9l0.1 0.3M220.9 1837.1l0.3 -0.5M261.6 1825.4l0.1 -0.3M201.3 1828.8l-0.3 0.4M275.6 1773.2l0.5 0.5M267.8 1806.2l0.7 -0.6M212.1 1841.2l-0.3 -0.6M269 1816.2l-0.5 0.2M195.3 1816.8l0.7 0.2M260 1813.5l0.7 0.5M211.6 1810.3l0.6 -0.7M254.6 1815.3l-0 0.5M192.4 1800.8l-0.7 -0.7M225.5 1828.1l-0.1 -0.5M231.2 1774.4l-0.3 0.7M176.4 1814.7l0.2 0.5M242.4 1855.7l-0.1 0.6M240.4 1810.9l0.7 0.5M250.7 1774.4l0.4 -0.3M246.4 1794.9l0.1 0M227.8 1789.2l-0.7 0.1M275.7 1791.7l-0.5 -0.7M219.8 1825.6l-0.8 0.2M246.8 1796.4l0.4 -0.6M204.4 1795.2l0.8 0.6M277.2 1793.3l-0.8 -0.5M195.2 1797.5l-0.8 -0" stroke="#50686c" stroke-width="1.2" stroke-opacity="0.45"/>
<path d="M221.4 1857.6l-0.5 0.8M220.6 1779.6l0.7 0M261.6 1840.2l0.6 0.6M224.7 1844.9l0.4 0.5M258.4 1829.5l-0.4 0.2M254.5 1768l0.2 0.3M242.1 1765.5l-0.6 -0.5M223 1837.8l-0 -0.2M203.6 1839.5l0.8 0.3M244 1774.8l0.5 0.2M209.7 1780.3l0.7 -0.6M270.7 1801.9l0.4 -0.5M203.2 1810.7l0.3 0.2M209.9 1844.6l0.3 -0.1M193.6 1804.6l0.6 -0M235.4 1773.9l0.2 -0.3M246.9 1783.6l-0 0.3M264.3 1829.4l0.4 -0.7M193.6 1804.5l-0.8 0.8M241.8 1784.9l0.2 0.5M214.4 1833.9l0.1 0.5M266.5 1822.4l0.6 0.6M216 1799.6l-0.5 0.3M192.6 1772.7l-0.5 -0.7M184.6 1789.1l-0.1 0.8" stroke="#c4d8cc" stroke-width="1.2" stroke-opacity="0.30"/>
<path d="M230.2 1846.2l-0.6 0.1M197.5 1776.8l-0 -0.4M198.4 1830l-0.3 0.5M220.6 1845.8l-0.3 0.5M238.5 1795.6l-0.3 0.3M223.1 1791l-0.7 0.8M203.4 1850l0.1 0.7M184.5 1833.5l0.6 -0M237.2 1750.1l0.5 0M211.3 1755l-0.7 0.5M197.3 1836l-0.2 -0.4M260.7 1768.4l-0.1 0.1M244.5 1808.4l0.5 0.7M215.7 1771.4l-0.6 -0.2M209.8 1841.3l0.4 0M260.3 1797.1l-0.4 0.4M186 1787.6l0.8 0M233.6 1762l-0.8 -0.1M194.9 1830l0.1 -0.4M218 1782l-0.5 0.6M192.5 1789.5l-0.7 0M257.9 1838.1l0.1 0.6M258 1798.1l-0.1 -0.8M268.7 1832.4l0.2 0.3M180.5 1811.1l0.4 -0.6M200.8 1846.7l-0.7 -0.2M238.1 1825.8l-0.4 -0.5M267.7 1799.6l-0.2 0.8M224.5 1807.1l0.1 0.5M229.3 1776.2l0.3 0.7" stroke="#c4d8cc" stroke-width="2" stroke-opacity="0.45"/>
<path d="M231.7 1849.7l-0.3 -0.5M230.4 1809.7l-0.4 -0.7M264.7 1768.4l0.2 -0.5M200.6 1783.3l0.1 -0.3M267.1 1771.8l0.2 0.4M209.7 1765.6l-0.2 -0.3M256.4 1845.5l-0.2 0.1M210.1 1757.5l0.5 0.6M222.6 1850l0.5 0M228.1 1811.4l0.1 -0.4M243.7 1759.1l-0.2 0.8M273.1 1827l-0.6 -0.8M211 1813.5l-0.4 -0.6M207.4 1768.7l0.4 -0.4M238.8 1786.1l-0.7 -0.1M253.1 1849.5l0.1 -0.4M235.7 1798.7l0.7 0.2M274.7 1804.8l-0.2 0.2M175.9 1784.8l0.6 0.5M199.6 1820.9l-0.2 0.6M253.5 1818.9l-0.8 0.4M215.7 1802l-0.2 -0.7M191.4 1789.1l0 0.5M231.7 1772.9l0.4 0.4M241.2 1803.8l0.5 0.2M200.1 1804.2l-0.7 -0.2" stroke="#c4d8cc" stroke-width="1.6" stroke-opacity="0.45"/>
<path d="M225.6 1788.4l-0.4 0.7M215.1 1764.6l-0.7 0.7M258.3 1758.9l0.7 0M196.5 1839.2l-0.4 -0.6M181.2 1779.7l0.2 0.2M184 1805.5l0.1 -0.1M186.2 1799.6l-0.2 -0.6M261.4 1814.7l-0.5 0M242.8 1822.7l-0.4 -0.8M197.1 1837l0.5 0.5M255.3 1777.7l-0.4 0.1M177.4 1786.6l-0.6 -0.7M239.7 1837l-0.2 -0.3M260.3 1770.1l-0.2 -0.1M223.7 1755.8l-0.2 -0M229.4 1789.6l0 0.4M225.2 1824.4l0.2 0.5M211.1 1769.2l-0.5 -0.5M222.3 1795.9l-0 0.3M189.9 1801.8l-0.3 -0.2M203.7 1765.1l-0 -0.7M270.9 1813.7l-0.1 0.5M261.3 1820.1l-0.6 0.6M229.2 1806.3l-0.2 0.6M256.3 1771.9l-0.8 -0.2M194.8 1789.9l-0.5 -0.1M237.2 1780.6l0.2 -0.1" stroke="#6a8688" stroke-width="1.6" stroke-opacity="0.30"/>
<path d="M220.1 1842.8l-0.6 -0.1M247.7 1751.5l-0.4 0.3M233.5 1828.3l0.6 -0.3M201.4 1776.2l0 -0.6M275.2 1793.2l0.5 -0.8M250 1766.8l0.6 -0.3M216.1 1835.8l0.6 -0.1M236.5 1754.1l0.6 0.3M234.8 1767.3l-0.6 0.3M263.6 1817.5l-0.8 0M237.4 1764.6l0.6 0.4M270.6 1784.3l0.2 -0.6M246.7 1756.1l-0.3 -0.4M222.9 1759.1l0.8 0.6M175.3 1788.3l-0.1 0.6M277.9 1786.7l0.6 0.2M211.9 1797.8l-0.4 0.4M269.3 1804.7l-0.6 0.5M214.4 1777.9l-0.1 -0.1M184.4 1777l0.6 -0M237.2 1793.9l0.3 0.5M192.5 1762.2l-0.2 -0.1" stroke="#6a8688" stroke-width="1.2" stroke-opacity="0.45"/>
<path d="M224.5 1756l0.3 0.6M269 1797l-0.2 -0.7M189.5 1817.9l-0.5 0.6M270.2 1771l-0.2 0.4M257.5 1844.9l-0.1 -0.2M255.2 1818l-0.4 0.3M183.2 1822.7l0.2 0.4M243.4 1771.4l0.4 0.2M257.7 1814.2l-0.5 0.6M251 1752.8l-0.3 0.7M204.1 1785.3l-0.5 0.8M225.4 1769.3l-0.6 0.2M189 1779.8l0.3 -0.4M190.4 1785.6l-0.1 0.8M271.5 1778.8l-0.1 0.4M269 1840.8l-0.7 0.3M244.1 1793.2l-0.1 -0.6M254 1786.9l-0.3 -0.4M238.2 1761.1l0.3 -0.1M268.4 1782.8l-0.4 0.6M178.7 1779.7l-0.7 -0.3M206.4 1786l0.7 0.1M217.4 1818.9l0.6 0.3M242.5 1759l-0.4 -0.3M181.5 1808l-0.6 0.7M253 1847.7l-0.8 0.5M223.6 1806.4l0.8 -0.2M194.6 1774.2l-0.7 -0.8M276.2 1793.3l0.8 0.6M205.6 1805.5l-0.8 -0.6M206.8 1801.2l-0.4 0.2M210.1 1777.3l0.1 0M223.1 1791.9l-0.5 0.4" stroke="#c4d8cc" stroke-width="1.6" stroke-opacity="0.30"/>
<path d="M223.5 1768.2l0.5 -0.7M224.4 1825.5l0.7 0.5M266 1819.3l-0.4 -0M243.7 1811l0 -0.1M232 1833.6l-0.3 -0.6M216.2 1813.5l0.4 0M246.1 1821.2l0.1 -0.6M217.6 1811.4l-0 -0.4M216.4 1781.8l0.7 -0.2M202.9 1817.7l0.7 -0.2M246.7 1756.5l0.5 0.5M267 1836.5l-0.1 -0.2M183.1 1825.9l-0.6 -0.6M184 1792.4l-0.5 0.8M231.4 1818.8l0.2 -0.3M195.2 1834.8l0.3 -0.2M245.4 1831.2l-0.2 0.1M204.4 1769.2l-0.2 -0.5M278.9 1794.9l-0.4 -0.2M263.7 1770.7l0.4 0.7M175.6 1808.2l-0.1 -0.5M239 1821.2l-0.4 0.7M242 1794.9l0.3 0.4M218.2 1856.8l0.6 -0.7M247.4 1815.8l-0.2 -0.2M211.5 1839.4l0.8 -0.2M241.2 1784.5l0.1 0.6M232.5 1839.6l-0.1 0.2M181.4 1817.3l0.4 0.1" stroke="#50686c" stroke-width="1.6" stroke-opacity="0.45"/>
<path d="M218.8 1807.3l-0 0.8M257 1830.7l0.3 0.6M242.8 1772.4l0.5 -0M233.1 1789.4l-0.3 -0.4M181.1 1811.3l0.4 -0.5M245.9 1829.3l0.2 0.8M211.2 1788.4l-0.2 0M207.9 1766.7l-0.4 0.1M256.5 1811.4l0 0.4M222.4 1803.4l0.7 -0.5M247.7 1808.7l-0.5 -0.6M244.8 1784.3l-0.7 0.1M212.3 1753.9l0.3 -0.5M245.5 1811.1l0.3 -0.2M245.5 1843.4l-0.7 0.3M236.8 1807.2l0.6 -0.5M246.6 1845.7l0.4 0.3M224.8 1826.8l-0.3 0.7M194.2 1758.9l-0.3 -0.6M192.9 1769.8l-0.2 -0.7M246.3 1778.6l-0.5 0.5M256.9 1800.4l0.1 -0.4M204.5 1795.8l-0.2 0.7M239.1 1764.5l-0.6 0M193.9 1804.7l-0.8 0.4M256.3 1759.4l0.6 0.7M257.8 1770.5l-0.2 -0.3M243.6 1816.7l0.3 0.1M259 1847.8l0.6 0.6M245 1785.8l0.2 0.7" stroke="#c4d8cc" stroke-width="2" stroke-opacity="0.30"/>
<path d="M205.7 1791.7l0.2 -0.8M258.3 1755.8l-0.6 0.3M237.9 1776l0.5 -0.2M214.1 1782.5l-0.8 -0.4M271.3 1832.8l-0.1 0.1M253.1 1822.1l-0.6 0.5M180 1777.8l0.2 -0.1M264 1776.6l-0.4 -0.2M233.7 1845.9l0 -0.1M264.2 1769.2l-0.1 -0.5M261.3 1762.8l0.1 0.3M255 1799.3l0 -0.3M246.6 1848.3l-0.5 0.8M196.9 1775.3l0.3 -0.3M249.4 1827.9l-0.4 -0.5M193 1814.2l-0.7 0.5M267.9 1766.3l-0.4 -0.3M230.3 1858.7l0.2 0.6M263 1834.4l-0.1 0.1M268.1 1837.1l-0.5 -0.1M207.9 1845.9l-0.6 0.1M192.6 1783.5l0.2 -0.6M282.9 1799.5l-0.6 -0.6M269.5 1822.6l0.3 0.2M215.8 1768.9l-0.7 0.2M248 1851.7l0.2 0.7M176.7 1792.5l0.1 -0.7" stroke="#e0eee6" stroke-width="2" stroke-opacity="0.30"/>
<path d="M267.9 1795.1l-0 0.3M257 1758.9l0 0.8M223 1835.1l0.2 0.5M233.8 1829.4l-0.1 0.6M249.2 1802.6l-0.5 -0.1M266.9 1763.3l0 -0.4M237.3 1778l0.6 -0.6M275.3 1832.5l0 -0.7M219.7 1795.6l0.4 0.1M237.1 1778.8l0.7 0.5M265.2 1760.8l-0.5 -0.8M229.2 1828.9l-0.2 -0.2M203.4 1764l0.4 -0.3M227.7 1765.9l0.5 0.5M229.4 1758.6l-0.1 -0.2M175.5 1820.8l0.1 -0.5M237.6 1768.2l-0.2 -0M230.9 1850.4l0.7 0.2M226.1 1830.3l-0.1 -0.6M208.4 1771.4l0.2 -0.2M243.4 1825.6l0.4 -0.8M225.8 1818.5l0.1 0.3M238.9 1785l0.3 -0.8" stroke="#50686c" stroke-width="2" stroke-opacity="0.30"/>
<path d="M199.9 1847.7l-0.6 -0.1M191.2 1785.5l0.2 0.3M185.4 1818.9l0.2 0.3M231.3 1777.1l-0.2 -0.6M278.1 1783.1l-0.1 -0.4M186.5 1825l0.4 -0.2M214.3 1751.1l0.6 0.5M240.8 1824.8l-0.4 0.6M202.2 1850.6l-0.1 -0.2M252.3 1816.6l-0.3 0.7M221.9 1815.3l-0.6 0.3M220.6 1775.3l-0.6 -0.5M217.5 1810.2l-0 -0.3M252.1 1840l-0.2 -0.3M195.6 1806.5l-0.4 0.2M203.8 1780.8l0 0.1M250.4 1841.2l-0.3 0.5M187.2 1799.3l-0.6 -0.3M247.2 1784.7l-0.8 0.7M260.8 1833.3l-0 -0.7M180.9 1808.3l-0.4 0.1M242.7 1834.4l-0.6 -0.3M219 1791.6l-0.1 -0.5M235.8 1799.6l-0 0.7M250 1853l0.2 -0.2M216.8 1856l-0.4 -0.8M256.9 1799.7l0.3 -0.3M186.2 1822.3l0.1 -0.6M237.7 1764.5l-0.1 0.5" stroke="#50686c" stroke-width="2" stroke-opacity="0.45"/>
<path d="M206.9 1852.2l-0.6 -0.4M191.4 1842l-0.3 -0.7M196.2 1820l0.8 -0.2M253.5 1802.1l0.2 -0.3M255.6 1823.3l0.6 0.4M185.1 1835.5l0.3 -0.6M273.6 1833.4l-0.3 0.4M262.8 1843.2l-0.1 0.2M209.1 1826.9l0.8 0.6M225.7 1770l0.6 0.7M243.4 1797.6l0.7 0.8M262.4 1812.8l-0.4 0.5M216.6 1762.5l0.4 0.1M266 1764l-0.8 0.7M234.6 1845l-0.4 0.8M277.3 1813.5l0.4 0.6M253.1 1852.2l0.3 0.2M254.9 1851.9l-0.1 0.6M225.8 1857.4l0.7 0.7M188.8 1763.6l-0.1 0.6M182 1813.8l0.4 0.7M231.7 1785.1l-0.5 0.1M229.8 1788.3l-0.1 -0.8M206.4 1792.6l0.4 -0.3" stroke="#6a8688" stroke-width="1.2" stroke-opacity="0.30"/>
<path d="M242.6 1797.6l-0.4 0.4M199.4 1849.7l0.1 0.4M218.1 1750.6l0.7 0.4M241.7 1827.7l-0.7 -0.1M216.9 1748.7l-0.6 0.6M214 1810.9l-0.3 0.8M273.2 1775.1l0.7 -0.5M211.1 1756.1l-0.1 0.2M217.5 1820.7l-0.7 -0.2M241.8 1750.5l0.5 0M215.5 1771.9l0.5 -0.5M188.1 1820.9l-0.2 -0.6M242.8 1853.2l-0.6 -0.6M182.2 1805.3l0.4 0.7M211.7 1759.3l-0.6 0.1M252.7 1816.8l0.7 0.3M250.3 1818.3l-0.3 -0.2M231.5 1814.3l-0.3 0.7M217.4 1852.2l-0.7 -0.6M187.4 1827.1l0.6 0.3M180.4 1804.9l-0.5 -0.1M192.4 1812.3l-0.1 0.6M234.6 1806.6l0.2 0.2M182.8 1774.2l-0.3 -0.5" stroke="#6a8688" stroke-width="1.6" stroke-opacity="0.45"/>
<path d="M207.8 1803.5l0.5 0.2M243.5 1767.8l-0.5 0.3M211.1 1822.4l0.4 0.2M227.5 1815.5l0.3 -0.8M241.9 1833.4l0.7 -0.7M233.6 1782.3l0.8 -0.7M269.5 1831.1l0.3 0.8M278.2 1784.7l-0.1 0.1M251.5 1823.7l0.1 -0.2M262.8 1821.3l-0.4 -0.4M245.3 1842.9l-0.7 0.5M193.2 1778.8l-0.4 -0.3M255 1822.8l0.6 -0.6M256.8 1763.7l-0.7 -0.2M278 1828.3l0.3 0.4M189.2 1825.8l-0.4 -0.5M220.9 1846.1l-0.6 0.3M204.1 1773l0.3 -0.4M269 1777.6l-0.6 -0.5M214.2 1810.6l-0.1 -0M274.5 1778.4l0.5 -0.7M211.9 1796.7l0.2 -0.3M180.2 1826.3l0.5 0.7M238.5 1776l0.5 -0.4M246.1 1771.3l-0.6 0.2M230.4 1833.6l-0.1 0" stroke="#e0eee6" stroke-width="1.2" stroke-opacity="0.45"/>
<path d="M214.7 1798.8l0.2 -0.6M241.9 1776l0.5 -0.5M211.2 1760.4l-0.7 -0.1M198.8 1845.7l-0.5 -0.2M231.3 1820.2l-0.2 0.7M173.2 1809.6l-0.4 -0.4M223.1 1760.7l-0.2 0.3M228.3 1827.8l-0.3 -0.7M278.3 1811.7l0.3 -0.3M189.5 1792l0 0.8M185 1769.1l0.2 0.7M192 1774l0.2 -0.1M215.8 1830.6l0.2 -0M219.2 1851.4l0.5 -0.8M265 1784.2l0.3 -0.3M271 1804.8l-0.6 0.2M243.9 1769.5l0.6 0.4M261.9 1824.6l0.2 0.3M201 1788.6l-0.1 0.3M265 1844l-0.2 -0.7M197.6 1773.1l0.2 -0.3" stroke="#c4d8cc" stroke-width="1.2" stroke-opacity="0.45"/>
<path d="M190 1763l-0.5 -0.1M177 1813.8l-0.7 -0.5M265.6 1837l0.5 -0.2M272.3 1771.8l-0.4 0.8M190.5 1838.9l-0.5 -0.7M200.5 1758.8l-0.5 -0.6M276 1774.1l-0.7 -0.1M281.2 1812.1l0.2 -1M229.6 1752l-1 0.4M276.5 1819.2l-0.5 0.2M180.5 1831.7l-0.5 0.1M259.7 1761l-0.5 0.1M191.3 1839l-0.4 -0.8M175.1 1807.9l-0.7 -0.1M174.2 1797.7l-0.3 -0.9M266.3 1763.8l0.9 0.9M281.8 1802.8l0.2 -0M253.8 1850.4l1 0.1M281.9 1805.4l-0 -0.4M238.8 1750.5l-0.3 -0.1M192.1 1843.4l0.9 0.8M192.8 1766.2l-0.1 0.4M234.7 1750.9l-0.2 0.5M222.3 1747.9l-0.8 0.3M277.1 1779.8l-0.4 -0.9M269.8 1771.1l0 -0.9M241.4 1855.7l0.9 -0.7M267.5 1839.2l0.9 -0.4M177.6 1780.8l0 1M176.8 1815.4l0.2 0.9" stroke="#f4f4ee" stroke-width="2.4" stroke-opacity="0.70"/>
<path d="M196.4 1847.8l-0.6 -0.1M186.7 1832.2l-0.7 -0.2M274.1 1778.9l0.4 0.7M201.4 1754l0.6 0.3M238.7 1748.8l0.2 0.3M281 1811.5l0.3 0.8M251 1755.3l0.3 0.1M174.7 1787.5l0.2 0.6M252.2 1755.3l0.1 -0.9M230.9 1857.1l1 0.9M176.6 1819.5l-0.5 0.1M186.9 1766.4l-0.1 -0.8M261.9 1763.9l-0.7 -0.5M248.3 1850.1l0.8 -0.9M275 1830.6l-0.8 0.5M253.2 1851.7l0.3 -0.8M192.2 1843.7l0.3 -0.2M267.2 1840.7l-0.5 0.5M262.8 1763.1l-0.2 -0M256.1 1754.5l0.5 -0.2M237.2 1854.9l-0.8 0.7M282.9 1792.5l0.2 0.5" stroke="#f4f4ee" stroke-width="1.6" stroke-opacity="0.70"/>
</g>
<linearGradient id="gb12" x1="0" y1="0" x2="1" y2="1"><stop offset="0" stop-color="#4e5e94"/><stop offset="1" stop-color="#506096"/></linearGradient>
<radialGradient id="gs12" fx="0.474" fy="0.497"><stop offset="0" stop-color="#54465c"/><stop offset="0.3" stop-color="#6a5e6c"/><stop offset="0.6" stop-color="#948c96"/><stop offset="0.85" stop-color="#aea8aa"/><stop offset="1" stop-color="#c2bebe"/></radialGradient>
<rect x="382.3" y="1703.7" width="283.5" height="209.4" fill="url(#gb12)"/>
<ellipse cx="513.7" cy="1806" rx="85" ry="90" fill="url(#gs12)" stroke="#d8dce4" stroke-width="2" stroke-opacity="0.75" filter="url(#soft)"/>
<clipPath id="cs12"><ellipse cx="513.7" cy="1806" rx="86" ry="91"/></clipPath>
<g clip-path="url(#cs12)" stroke-linecap="round" fill="none" filter="url(#soft)">
<path d="M445.7 1817.6l-0.8 -0.2M576.8 1797.3l-0.1 -0.7M494.3 1825.4l-0.4 0.5M481.3 1802.5l-0.2 0M488.2 1808.5l-0.4 -0.7M525.4 1788.2l-0.2 0.5M478.7 1798.3l-0.8 -0.6M458.3 1821.8l0.4 -0.3M459.1 1809.6l0.1 0M433.9 1818.6l-0.8 -0.5M542.3 1723.5l-0.6 -0.3M507.6 1832.3l-0.5 -0.5M530.4 1817.7l0.2 -0.2M450.7 1813.6l0.4 -0.1M444.3 1818.8l0.2 -0.3M535.4 1816.6l-0.1 0.2M474.1 1884.4l-0.1 0.8M531.2 1755.2l0.4 -0.8M528.2 1887.2l-0.3 0.1M590.8 1803.6l-0.1 0.6M545.6 1775.9l0.5 0.7M530.4 1858.2l-0.1 0.1M584 1789l0.5 0.4M466.9 1825.2l-0.8 0.6M520.3 1846.7l-0.7 0.2M440.4 1828l-0.6 0M565.3 1867.7l0.1 -0.2M479.8 1768.5l-0.7 -0.3M527.1 1771.7l-0 -0.2M530 1783.4l-0.1 -0.5M557.6 1876.8l-0.2 0.1M536.3 1759l-0.2 -0.7M528.6 1748.3l0.5 -0.1M516.6 1828.7l-0.4 0M478.4 1853.8l0.2 0.1M440.6 1840.9l-0.1 0.6M560.2 1786.5l-0.8 -0.2M491.1 1738.1l0.4 0M538.9 1803.8l0 0.8M556.3 1824.7l-0.6 0M466.9 1814.6l0.3 -0.8M551.8 1730.4l-0.3 -0.4M553.5 1749.5l0.5 -0.8" stroke="#b4aa98" stroke-width="1.2" stroke-opacity="0.45"/>
<path d="M502.2 1886.1l0.3 -0.6M436.3 1785.2l0.1 0M544.6 1877.7l0.7 0.7M488.9 1835l0.5 -0.4M484.1 1831.4l-0.7 0.3M550.5 1799.5l0.1 -0.7M512.4 1838l0 -0.4M444.4 1799.2l0.3 -0.2M468 1826.6l0.6 -0.1M438.7 1837.4l-0.5 0.2M525.5 1750.8l-0.7 -0.6M553 1870l0.5 0.2M539.5 1837.1l0.7 -0.4M434.8 1802.9l0 0.7M460.6 1838.8l0.1 0.2M585.3 1849.3l0.7 -0.3M460 1806.9l-0.5 0.4M488 1833.2l0.7 0.8M477.2 1802.5l-0.1 0.7M561.2 1831.3l0.7 -0.5M597.2 1811.9l0.7 -0.2M487.7 1761l-0.3 0.5M534.9 1853.5l0.3 0.2M469.4 1796.3l-0.5 0.3M490 1760.9l-0.2 0.3M521.3 1747.3l0.4 0.2M550.9 1880.8l-0.5 0.5M436.9 1801.5l0.1 0.3M446.9 1824.8l-0.6 0.6M511.3 1771.5l-0 -0.2M448.2 1761.4l-0.8 -0.1M481.7 1790l-0.2 -0.5M527.9 1723.2l-0.1 -0M479.8 1743.8l0 -0.2M454 1801.3l-0 0.5M511.2 1860.2l0.4 0.3M520.4 1736l0.5 -0.2M575.1 1810.9l0.4 -0.3M505.2 1731l-0 -0.3M520.7 1747.7l0.1 -0.3M553.4 1820.3l-0.3 0.2M461 1827.5l0.1 -0.7" stroke="#5a5060" stroke-width="2" stroke-opacity="0.30"/>
<path d="M481.9 1819.3l-0.7 0.3M526.8 1778.8l-0.6 0.7M549.9 1784.3l0.7 -0.7M457.7 1816.7l0.2 -0.5M502.5 1735.8l-0 0.6M451.5 1761.5l0.5 -0.8M455.3 1840l0.8 0.6M501.1 1852.3l0.7 -0.1M583.2 1841l0.3 0.4M477 1850l-0.6 0.2M544.7 1865.7l0.3 0.3M512.5 1755.7l-0.2 -0.2M547.1 1837.8l0.4 -0.3M532.2 1774.7l-0.3 0.6M561.9 1760.9l-0.5 0.8M452.9 1809.5l-0.3 0.2M440.1 1850.4l0 0.2M562.2 1786.4l0 -0.4M476.6 1850.6l0.1 0.7M513.1 1835.5l0.1 -0.6M471.2 1750.1l0.6 0.7M477.8 1771.3l-0.7 -0.6M547.1 1780.5l-0.5 0.5M488.5 1726.5l0.3 0.7M546.9 1792.2l0.8 -0.3M568.3 1873.5l-0.6 0.4M468.2 1800.6l-0.5 0.7M584.7 1783l-0.7 0.6M440.5 1847.7l0.1 0.3M517.8 1832.5l0.3 0.7M524.4 1771.1l-0.5 0.8M510.7 1723.9l0.3 0.4M464.6 1850.6l0.4 -0.7M509.4 1785.3l0.6 0.6M523.5 1728l-0.2 0.3M545.2 1866.5l0.7 -0.8M530.2 1859.4l-0.7 -0.5M496 1805.8l0.3 0.8M511.7 1758l-0.4 0.5" stroke="#5a5060" stroke-width="1.2" stroke-opacity="0.30"/>
<path d="M485.6 1854.9l0.5 0.3M446.1 1843.6l-0.6 0.3M481 1740.9l0.4 -0.6M534.3 1891.8l0.7 0.1M510.4 1756.4l-0 -0.7M458.1 1858.1l-0.4 -0.6M552.8 1864.5l-0.1 0.4M486.8 1787.9l-0.5 -0.4M500.5 1743.4l-0.3 0.1M488 1807.7l-0.5 -0.4M537.9 1884.6l-0.4 0.6M457.2 1747.2l0.1 0.3M460.1 1826.1l-0.5 0.1M510.3 1815.1l0.7 -0.1M432.9 1823l0.7 -0.1M567.2 1861l0 -0.7M481.5 1819l0.6 -0.4M491.5 1753l-0.3 0.4M517.7 1855.8l0.3 -0.5M475.7 1728.1l0.2 0.2M448.5 1775.6l-0.1 0.3M455.2 1831.8l-0.7 0.5M567.1 1855.2l-0.2 0M457.8 1747.8l-0.1 -0.3M489.6 1770.4l-0.4 -0.1M476.3 1871.7l-0.4 0.2M447.4 1846.9l0.2 -0.7M515.4 1893.8l0.4 -0.7M574.7 1765.3l0.2 0.6M470.3 1751.3l0.8 0.3M547.1 1860.1l0.6 -0.7M585.3 1769.2l0.5 -0.8M542.5 1857.2l-0.3 0.1M511 1866.7l-0.4 -0.3M540.6 1873.8l-0.2 -0.1M522.2 1879l0.6 -0.3M497.7 1766.9l-0.1 -0.2" stroke="#dcd8d4" stroke-width="1.2" stroke-opacity="0.30"/>
<path d="M527.9 1894.3l0.3 0.8M543.6 1873l-0.8 -0M470 1836.6l-0.5 -0.5M475.4 1759.7l0.3 -0.4M481.9 1788.2l-0.6 -0.1M457.7 1749.6l0 0.3M552.7 1751.4l0.2 0.1M581.5 1760.5l0.7 0.8M503.2 1857l0.3 -0.8M463.7 1779.4l0 0.2M564.7 1867.8l-0.7 0.4M565.6 1744.2l-0.5 0.3M557.2 1761.3l-0 -0.8M485.2 1769.3l0.6 -0.5M440.9 1839.1l-0.3 0.1M500.4 1759.1l-0.3 -0.2M490.8 1845.7l0.2 -0.6M504.6 1730.5l-0.2 0.5M474.8 1801.3l-0.6 0.8M525.5 1820.4l-0.2 0.6M513.4 1716.8l-0.5 0.5M435.1 1785.4l0.3 0.8M520.7 1818l0.3 -0.6M445 1780.9l-0 0.6M583.2 1832.4l-0.4 0.3M553.2 1882.3l-0.3 0.7M513.5 1837.5l-0.6 -0.6M511.3 1809.3l0.3 -0.2M551.3 1831.1l0 0.8M553 1793.5l-0.1 0.2M473.7 1768.5l0.6 0.3M490.4 1794l-0.1 -0.8M470.6 1767.8l0.7 0.4M499.6 1846.2l0.1 0M515.1 1773.5l-0.2 0.6M478.2 1781.1l0.2 -0.1M503.6 1868.1l-0.1 -0.1M472.3 1855l0.2 0.5M512.3 1761.1l0.7 0.1M526.1 1747.2l0.5 0.3M523.9 1878.5l0.2 0.2M471.7 1766l-0.1 0.5M511.9 1736.8l0.7 -0.1M450.8 1809.4l-0.3 -0.2M543.6 1823.7l0.8 0.3M466.2 1870.1l0.8 0.5M558.5 1763.2l-0.5 -0.8M513.9 1724.4l0.3 0.5M563.7 1860.7l0 0.1M529.6 1809.6l0.1 -0.7M493.7 1807.4l0.3 -0.7M515.4 1832.2l-0.1 -0.4M484.9 1825.4l0.4 0.7M544.8 1833.3l0.2 -0.6M561.5 1754.7l0.1 -0.5M512.1 1746.5l-0.7 0.2M519.8 1884.2l-0.7 -0.7M506.4 1736.4l0.2 -0.7M547.1 1736.3l-0.4 0.3" stroke="#eeeae4" stroke-width="1.6" stroke-opacity="0.30"/>
<path d="M571 1841.2l0.1 0.2M508.3 1836.4l-0.4 0.7M581.2 1820.8l0.2 -0.4M553.5 1803.5l0 0.4M476 1883.5l-0.8 -0.7M542.1 1797.2l0.2 0.7M462.2 1837.8l-0.2 0.8M558.7 1847.8l0.7 0M447.3 1769.7l-0.6 0.6M543.6 1749l-0.5 0.2M534.1 1815.1l-0.4 0.6M496.8 1777.7l-0.2 -0.2M437.3 1830.4l-0.2 0.1M543.2 1771.4l-0.6 0.6M473 1791.3l-0.2 0.2M535.9 1890.1l-0.7 0.4M560.7 1775.3l0.4 0.7M519.7 1811.9l-0.2 0.2M596.1 1790.8l-0.8 -0.4M521.4 1871.5l0.3 0.2M493.1 1883.1l0.1 -0.1M570.5 1826.1l-0.6 -0.4M552.1 1757.4l0.2 -0.7M484.7 1832l0.2 -0.7M558.6 1866.4l-0.8 0.3M463.7 1871.5l-0.7 0.6M477.1 1781.3l0.7 -0.4M572.2 1766.9l0.4 -0.3M468 1738.5l-0.3 -0M580.4 1828.5l-0.7 0.4M450.4 1820.9l-0.2 0.7M539 1749.2l-0.8 0.8M521.1 1883.8l-0.6 -0.3M507.1 1777.7l-0.4 0.1M520.3 1719.8l-0 -0.7M490 1756.8l-0.1 -0.5M574.6 1785.2l-0.3 0.7M495.5 1773.5l0.2 -0.7M509.5 1880.9l-0.5 0.7M462.9 1778.1l-0.8 -0.6M522.7 1866.5l-0.2 -0.5M502.8 1797.2l0.4 -0.5M430 1816l-0.1 -0.7M576.1 1765.7l0.1 -0.6M559.9 1873.8l0.6 -0.7M549.7 1766.7l-0.2 0.7M467.6 1870l-0.1 0.6M559.1 1755.6l-0.6 -0.8M488.6 1740l0.4 -0.2M477.5 1788.5l0.6 0.7" stroke="#eeeae4" stroke-width="1.6" stroke-opacity="0.45"/>
<path d="M546 1825.6l0.6 -0.2M498 1848l0 0.5M482.4 1828.6l0.1 -0.8M474 1761.7l0.5 -0.2M504.5 1724.8l0.4 0.6M467.4 1780.2l0.7 0.7M460.2 1755.3l-0.6 -0.7M520.3 1811.6l0.4 -0.6M503 1749.2l-0.1 -0.3M438.1 1793.2l0.8 0.6M464.3 1794.4l0.7 0.4M492 1828.8l-0.1 -0.3M519.3 1741.9l0.5 0.1M547.6 1823.5l0.7 -0.4M534.6 1840.4l0.1 0.3M518.6 1857.6l-0.7 -0.6M577.6 1764.4l0.7 -0.3M566.4 1765.7l-0.2 0.2M461.1 1736.1l0.7 0.6M451.2 1814.5l-0 -0.4M552.2 1822.9l-0.6 -0.3M506.1 1781.1l-0.5 -0.2M464 1858.4l0 -0.2M510.7 1881.4l0.7 0.2M536.8 1831.9l-0.5 0.7M461.1 1846.8l-0.4 0.4M560.5 1773.5l0.2 0.5M502.9 1865.1l-0.2 0.6M566 1743.3l0.3 -0.5M569.7 1795l0.8 0M537.1 1796.9l0.2 0.3M554.1 1805l-0.7 -0.4M526 1874.1l0.7 -0.1M465.5 1842.6l-0.2 -0.1M495.9 1857.2l0.2 -0.3M545.6 1794.4l-0.6 0.8M559.9 1732.9l-0.7 -0.4M474 1834.3l-0.1 0.3M542.2 1728.4l0.4 -0.4M550.1 1783.6l0.1 0.6M451.3 1866.8l0.6 -0.1" stroke="#b4aa98" stroke-width="1.6" stroke-opacity="0.45"/>
<path d="M499.4 1806l-0.4 -0.1M483.1 1857.4l-0.1 0.1M454.5 1752.1l-0.2 -0.5M450.6 1784.2l-0.6 0.5M543.3 1867.7l0.5 -0.2M504.4 1759.7l0.7 0.5M448 1785.4l0.7 0.6M451.4 1812.2l0.3 -0M451.7 1753l0.7 -0M467 1810.5l-0.2 -0.6M502.4 1857l-0.3 0.3M434.3 1801.4l-0.8 0.4M499.4 1760.8l0.7 0.1M570.1 1855.1l0.7 0.6M492.9 1890.9l0.4 -0.7M452.7 1752.2l0.3 -0.2M503 1818.6l-0.1 -0.4M464.5 1827.6l-0.2 0.1M572.4 1762.3l-0.2 -0.7M529.7 1718.9l-0.6 -0.6M501 1746.5l-0.6 0.2M576.6 1836.5l0.2 0.1M564.7 1756.8l0.2 -0.6M446.2 1833.8l-0.5 -0.8M551.8 1866l-0.5 0.8M525.4 1832.9l-0.1 0.1M560.7 1794.2l0.5 -0.2M554 1809.8l0.1 -0.7M548.6 1871.9l0 -0.1M554.2 1802.7l0.4 0.3M443.8 1785.8l-0.1 0.4M465.1 1759l-0.1 0.5M487.4 1732.9l-0.4 -0.4M522.8 1881.3l-0.3 -0.6M498.1 1718l0.5 -0.7M490.1 1745.7l0.5 0M536.6 1730.6l-0.6 0.1M534.4 1817.9l0.5 -0.5M525.7 1737.9l-0.6 0.3M458.5 1852.6l0.2 0.7" stroke="#eeeae4" stroke-width="1.2" stroke-opacity="0.30"/>
<path d="M456.7 1857.1l-0.5 0.3M525.1 1769.8l-0.4 -0.6M522.9 1740.2l-0.2 -0M521.9 1832.8l0.5 0M451.3 1747.2l0.1 0.5M464.9 1844.9l0.6 -0.5M542.7 1818.1l-0.3 -0.7M467.9 1748l-0.6 -0.5M475.7 1774.2l-0.1 0.8M462.7 1750.1l0.3 -0.4M471.8 1795.9l-0.8 -0.6M507.4 1841.5l-0 -0.7M588.3 1839.4l0.6 -0.3M492.3 1778.8l-0.6 0.4M475.2 1737.4l-0.3 0.2M492.2 1824.6l0.2 -0M541.3 1821l0.5 -0.3M451.9 1846.4l-0.4 0.4M433.9 1835.4l0 -0.8M440.5 1760.8l0.2 -0M505.1 1865l0.8 -0.5M579.8 1763.7l0.7 0.2M518.2 1802.8l0.5 -0.6M448.2 1848.3l-0.3 -0.4M579.8 1790.4l0.7 -0.8M468.7 1759.3l0.2 -0M498.2 1812.7l-0.6 0.7M551.5 1818.4l-0.4 -0.6M569.7 1845.8l-0.2 -0.2M570.4 1840.5l-0.1 0.8M570.4 1763.4l-0.7 -0M482.5 1740.9l0.6 -0.5M544.5 1859.3l0.1 -0.1M539.8 1869.8l-0.7 -0.3M489.6 1842.2l-0.6 0.2M542.1 1885.9l0.3 -0.7M472.1 1873l0.4 0.1M485.7 1884.7l-0.3 -0.5M540.5 1836.7l-0.1 -0.4M486 1773.5l-0.7 0.1M456.7 1763.3l0.7 0.4M499.7 1797.8l-0.3 -0.1M559.2 1778.9l-0 -0.2M514.3 1867.3l0.7 0.5M443.9 1771.7l-0.2 -0.5M454.4 1793.7l0.7 0.4M497.1 1843.7l0.8 0.6M467.4 1740.4l-0.5 0.8M524.5 1848.3l0.2 0.6" stroke="#dcd8d4" stroke-width="2" stroke-opacity="0.30"/>
<path d="M557.2 1816.9l0 -0.2M540.7 1783.7l-0.4 0.7M566.8 1777.3l0.7 0.3M499.7 1769.9l0.2 0.1M513.7 1862.4l-0.1 -0.7M545.8 1756.2l-0.7 0.6M492.5 1857.7l0.7 0.5M433.7 1817.4l0 0.1M556.6 1776.2l0.1 -0.8M569.6 1825.3l0.7 -0.4M486.6 1768.2l0.1 0.7M456.5 1865.4l-0.5 0.1M564.9 1783.5l-0.4 -0.4M499.6 1745.2l-0.8 0.2M557.3 1766.1l0.1 -0.6M508.2 1751.1l-0.7 -0.4M551.8 1742l0.4 -0.5M444.1 1755.9l-0.8 -0.6M539.2 1726.6l-0.1 0.5M536.3 1752.4l0.6 -0.8M499.9 1841.9l0.8 -0.3M520.8 1842.2l0 0.8M586.5 1797.8l-0.7 -0.2M561.6 1853.1l0.7 0.4M571.5 1839.1l-0.2 -0M592.3 1812.7l0 -0.7M484.5 1766.5l-0.2 -0M538 1740l0.8 0.7M535.9 1843.5l-0.7 0.5M570.6 1754.9l0.6 -0.3M531.6 1885.3l-0.1 0.4M539.2 1729.5l-0.6 -0.2M507.4 1781.3l-0.5 -0.5M578 1795.6l0.8 -0.5M496.4 1751l-0.7 -0.1M549.2 1729.7l0.2 -0.4M552.5 1758.1l-0.2 -0.7M501.8 1738.7l-0.4 -0.6M475.5 1882.6l-0.5 -0.4M467.9 1767.7l-0.8 -0M586.2 1794.1l-0 0.8M558.2 1765.8l0.2 0M500.2 1752.4l0.2 -0.6M538.3 1818.1l0.1 -0.7M509.4 1794.4l0.8 0.1M502 1783.3l0.5 -0M525.3 1758.6l-0.2 -0.7M553 1864.6l0.5 0.1M488.4 1888.1l0.7 -0.1M542.9 1730.9l0.1 -0.7M527.8 1814.6l-0.3 0.7" stroke="#b4aa98" stroke-width="2" stroke-opacity="0.30"/>
<path d="M473.4 1857l0.6 0.3M468.1 1864.8l0 0.3M472.4 1797.3l0 -0.3M515.6 1746.8l-0.2 -0.6M533 1736.3l0.1 -0.7M579.2 1812.2l-0.6 -0.3M535.3 1774.1l0.3 0.3M440.6 1818.4l0.1 0.6M533.9 1753.5l-0.2 -0.3M568.4 1809.2l-0.3 0.7M509.6 1719.3l0.8 -0.2M481.8 1738.5l0.5 0M543.5 1756.7l0.6 0.6M505.8 1801.9l-0.4 -0.7M496.9 1889.7l0.4 0.5M516.8 1847.5l0.4 -0.4M466.9 1751.6l-0.3 -0.3M514.1 1868.2l0.5 -0.7M506.2 1758.4l-0.2 0.6M586.2 1780.7l0.5 -0.5M526.2 1819.1l0.6 0.1M574.7 1863.8l-0.3 -0.2M451.1 1781.7l-0.3 -0.2M449.3 1752.6l0.4 0.5M557.8 1732.7l0.2 -0.7M486.5 1803.8l-0 -0.5M581.2 1811.6l0.6 0.1M579.5 1753.8l-0.7 0M535 1837.8l0.3 -0.1M535.2 1764.8l0.2 -0.7M487.2 1746.8l0.7 0M520.1 1792.7l0.8 0.5M450.3 1860.6l0.6 0.3M458.4 1758.9l-0.4 0.1M484.6 1770.7l-0.1 -0.5M476.9 1791.1l0.2 0.2M487.4 1839l-0.4 0.4M550.3 1839.9l-0.6 0.1M547.5 1879l-0.6 0.6M499.9 1878.7l0.8 -0.4M490.1 1741.5l0.1 0.7M526.4 1814l-0 -0.8M471.8 1773.6l0.1 0.1M508.8 1884.7l0.7 0.1M579.6 1848.1l0.7 -0.1M477.2 1845.4l0.4 0.8M551.4 1797.7l-0.4 0.7M511.2 1730.4l0.5 -0.4M522.4 1745l0.2 0.2M586.9 1788.3l0.5 -0.2M504.7 1850.9l-0.4 0.4" stroke="#5a5060" stroke-width="1.2" stroke-opacity="0.45"/>
<path d="M443.1 1798.9l0 -0.8M527.6 1769l0.7 0.8M528.5 1778.2l0.4 0.1M497 1821.3l-0.5 0.8M533.2 1773.2l-0.3 -0.6M516.5 1892.5l0.2 0.6M547.4 1821.9l-0.6 0.6M455.2 1861.3l-0.3 0.7M471.2 1732.1l-0.2 -0.1M506.6 1861.9l0.4 -0.1M465 1751.5l-0.3 -0.6M545.4 1750.8l0.3 0.6M555.1 1837.5l-0.7 0.7M474.1 1754.3l0.7 0.5M581.5 1854.8l0.6 0.4M504.6 1769.3l0.3 -0.4M467.5 1835.6l-0.2 -0.3M539.9 1806.8l0.4 0.4M574.8 1778l-0 0.3M546.3 1873.9l0.6 -0.8M579.6 1781.8l-0.1 -0.5M517.8 1878l-0.8 0.3M495.1 1865.1l-0.7 -0.4M514.5 1786l-0.7 -0.2M458.1 1788.9l-0.8 -0.4M546 1861.9l0.3 0M551.7 1808.6l0.8 0.1M496.1 1774.5l0.1 -0.3M526.8 1893.6l0 0.1M434.2 1801.1l0.4 -0.4M547.5 1821.3l-0.2 -0.1M483.8 1845.5l-0.7 0.7M512.9 1808.8l0.2 -0.3M456.8 1847.2l0.1 0.2M447.3 1774.6l-0.7 -0.3M543.6 1859.6l-0.7 -0.3M463.9 1763.7l0.3 -0.5M462.6 1837.7l-0.3 -0.6M445.4 1793.4l0.3 -0.4M479.7 1879.5l0.7 0.2M476.8 1855l-0.7 0M515.2 1723l0.2 -0.3M547.6 1871.9l0.7 0.2M538.3 1841.2l0.1 0.6M523.8 1861.2l0.4 -0.5M472.8 1791.4l0.1 -0.3M513.8 1876.8l-0.7 -0M521.1 1743.9l0.4 0" stroke="#5a5060" stroke-width="2" stroke-opacity="0.45"/>
<path d="M527.7 1806.3l-0.4 -0.1M479.9 1819.2l0.6 -0.6M527.1 1893.2l0.3 -0.3M491.5 1763.4l0.3 0M538.9 1858.7l-0.1 0.7M493.2 1819.1l-0.3 -0.4M478.2 1833.7l0.3 -0.5M447.4 1830.1l-0.5 0.3M501.2 1774.5l-0.8 -0.7M473.8 1872.3l0.1 -0.7M563.4 1847.3l-0.3 0.3M525.7 1787l-0.7 -0.6M534.1 1719.5l0.5 0.4M464.9 1772.3l-0.1 -0.2M573.1 1743.8l0.1 -0.7M580.9 1828.6l0.4 -0.1M472.5 1811.1l-0.8 -0.2M502.6 1725.8l-0.2 -0.5M564.9 1750.3l-0.6 0.6M524.4 1779.3l-0.2 -0.2M565.6 1799.3l-0.6 0.7M542.8 1814.5l0.4 -0.5M543.2 1745.5l0.4 -0.3M469.4 1869.7l-0 -0.4M453.5 1766.9l-0.5 0.2M464.7 1844l0.5 0.1M516.6 1818.7l-0.2 0.1M534.4 1884.5l-0.7 -0.2M517.6 1821.5l-0.8 0.3M558.5 1819.7l0.7 -0.5M537.4 1756.2l0.3 0.5M449 1824.5l-0.8 -0.3M490.3 1887.1l-0.8 0M517.7 1800.1l0.5 0.2M520 1856.2l-0.4 -0.4M506.6 1784.7l-0.5 0.2M573.9 1832.1l-0.1 -0M489.6 1772.3l0.2 0.2M439.6 1841.6l0.2 -0.1M548.4 1789.4l0.7 0.5M454.1 1782.3l0.5 -0.4M561.6 1831.1l0.4 -0.3M570.5 1863.6l0.4 -0.2M438.8 1771.9l-0.6 0.5M507 1874.7l0.6 -0.7M527.9 1805l0.3 0.1M461 1763.3l-0.8 -0M528.8 1831.1l0.8 0.3M541.3 1721.4l-0.5 -0.5M460.8 1808.7l0.2 -0.2M502.4 1723.3l-0.1 -0.1M482.4 1877.2l0.5 -0.6M486.7 1789.5l-0.7 -0.5M499.2 1776.3l0.1 -0.1M502 1728.6l-0 -0.3M517.4 1876.6l-0.7 -0.7M499.3 1720.4l-0.6 0.7M497.2 1838.9l-0.2 0.6M445.2 1761.3l-0.6 0.3M550.2 1864.3l0.7 -0.4M523.1 1822.5l0.3 0.1M579.5 1770.1l-0.5 0.7" stroke="#b4aa98" stroke-width="1.6" stroke-opacity="0.30"/>
<path d="M493.7 1723.1l0.1 0.5M490.6 1747.8l0.1 -0.7M498 1747.3l0.1 0.4M458.5 1851.2l-0.2 0.4M575.3 1781.8l0.6 0.7M557.6 1830l-0.1 -0.4M545.6 1767l0.8 0.3M594.8 1817.6l0.7 -0.1M537.2 1761.2l0.6 -0.1M571.1 1765l0.6 0.5M478.8 1875.8l0.8 -0.8M486.1 1801.5l-0.1 0.3M520.4 1862.8l0.5 -0.1M578.5 1749.4l0.6 -0.1M524.6 1838.5l0.4 0.6M540.3 1886l0.4 0.7M546.7 1725.5l-0.1 0.8M563.8 1828.5l0.6 0.5M453.1 1854.6l0.3 -0.8M567.2 1875.8l0.8 0.4M520 1801.5l-0.5 -0.7M485.7 1789.7l-0 -0.5M533.1 1833l-0.1 -0.5M491.9 1746.3l-0.4 -0.8M566.8 1793l-0.8 -0.2M446.4 1817.2l-0.2 0.3M500.8 1875.2l0.5 0.5M494.1 1854.7l0.2 -0.7M514.1 1882.6l0.5 -0.5M540.2 1885.1l-0.1 -0.1M555.6 1867.9l-0.8 -0.1M490.9 1787.4l0.2 -0.7M488.5 1815.1l0.5 0.1M444.3 1849.1l-0.6 0.8M488.2 1746.4l0.4 0.5M557.8 1729.9l-0.4 -0.5M580.3 1753l0.3 0.1M443.2 1806.6l-0.4 -0.4M581.8 1790.6l0.1 0.7M512 1777.8l0.1 -0.4M557.4 1807.4l-0.1 -0.4M504.1 1768.7l0.1 -0.7" stroke="#dcd8d4" stroke-width="1.2" stroke-opacity="0.45"/>
<path d="M498.7 1826.3l0.4 -0.3M524 1723.3l0.1 -0.7M465.2 1831.4l-0.2 -0.4M482.4 1809l-0.4 -0M532.4 1757.2l-0.3 -0.4M440.3 1821.9l0.1 -0.5M482.6 1840.4l-0.3 -0.4M583.2 1777l0.5 -0.4M445.6 1799.4l-0.7 0.2M507.3 1781.5l0 0.3M517.1 1814.6l0.7 0.4M494.6 1798.1l0.2 -0.5M452.4 1845.6l-0.4 0.2M524.6 1790l0.1 0.4M537.7 1727.1l0.5 -0.7M545.9 1785.8l0.4 0.7M460.2 1762.1l-0.3 0.3M556.9 1815.5l-0.1 -0.4M555.4 1839.1l-0.4 -0.4M460.4 1749.7l-0.4 0.5M565.3 1864.5l0.6 0.4M474.9 1880.9l0.3 -0M516.8 1756.9l0.6 -0.5M542.3 1743l0 -0.3M560.6 1796.8l-0.4 0.5M497.8 1750.4l-0.7 -0.4M462.5 1789.1l0.5 -0.8M539 1756.1l-0.4 -0.6M486.7 1786.9l-0.6 0.5M567.2 1745.9l0.6 -0.7M538.1 1827.6l-0.1 -0.3M568 1759.4l-0.5 0.7M562.7 1843.1l0.1 0.4M589.8 1845.6l0.8 -0.4M469.3 1846.7l0.8 -0.5M566.4 1746.1l0.4 0.3M587.1 1828.2l0.4 -0.2M596.3 1786.4l0.3 -0.5M592.3 1825.8l-0.8 0.7M480.5 1843.3l0.5 0.5M447.1 1757.6l0.1 -0.2M454.5 1774.5l-0.2 -0.3M428.9 1802.4l-0.7 -0.6M462.1 1739.4l-0.3 0M561.8 1803.9l0.3 0.1" stroke="#b4aa98" stroke-width="1.2" stroke-opacity="0.30"/>
<path d="M487.3 1863.2l-0.5 -0M478.7 1730.7l-0.2 0.2M594.3 1799.1l-0.6 0.5M505.9 1824.7l0.6 0.6M506.3 1831.5l-0.6 -0.7M575.1 1792l0.1 -0.2M548.7 1837.4l-0.6 -0.4M477.7 1885.6l-0.3 0.4M496 1821l-0.3 0.2M519.3 1761.1l-0.1 0.6M483.2 1849l0.2 -0.5M517.7 1864.7l0.6 -0.3M584.4 1819.3l0.1 0.8M436 1806.7l-0.6 0.2M479 1729.3l-0.8 -0.3M532 1720.9l-0.4 -0.1M479.9 1760l0.1 -0.2M572.2 1829.7l0.5 -0.6M499.8 1805.9l-0.6 0.1M547.2 1838.5l0 0.1M455.6 1813.7l0.6 0.2M484.7 1731l0.6 -0.6M470.5 1773.4l0.8 -0.1M466.3 1732.5l-0.1 0M442.2 1770.4l-0.3 0.3M492.8 1807.4l-0.6 0.5M573.9 1832.7l0.1 -0.7M549.4 1725.9l0.3 -0.4M491.1 1854.6l0.8 0.1M503 1813.2l-0.2 0.4M571.8 1864.4l0.1 -0.5M531.6 1808.6l-0.5 0.6M471.8 1863.2l-0.6 -0.4M536.9 1826.3l0.5 0M580.8 1760.6l0.8 -0.5M526.5 1831.3l-0.8 0.3M523.6 1864.7l0.5 0.7M541.1 1841.9l-0.1 0.7M565.2 1812.2l0.6 0.4M520.2 1835.5l-0.6 0.1M544.3 1850.6l-0.2 -0.8M483.5 1810.1l-0.2 -0.2M508.8 1796.6l0.3 -0.5M464.5 1765.5l0 0.7M498.2 1789.7l-0.3 0M540.9 1819.3l-0.6 0.7M474.5 1768.6l-0.3 -0.5M515.3 1731l0.5 -0.8M561.6 1799.3l-0.4 0.8" stroke="#b4aa98" stroke-width="2" stroke-opacity="0.45"/>
<path d="M523.5 1774.7l0.5 -0.3M572.1 1852.3l0.1 0.2M431.2 1817.7l-0.2 -0.1M544.9 1821.3l0.8 -0.8M437.2 1809.5l0.3 -0.5M549.8 1740.4l-0.6 0.4M484.3 1765.3l-0.5 0.3M520.6 1887.7l-0.6 0.3M501.4 1747.8l0.1 0.6M501.3 1749.6l0.5 0.1M572.2 1766.3l-0.4 -0.2M492.2 1852.7l0.4 -0.1M473.1 1830.4l-0.6 0.6M510.7 1827.5l0.1 0.2M479.9 1848.3l-0.8 0.1M453.9 1758.3l0.3 -0.6M503.8 1870.3l-0.5 -0.3M566 1789.3l-0.4 -0.4M501.5 1889.7l0.1 0.7M567.4 1793.5l-0.1 -0.7M467.1 1791.7l0.1 0.7M488.6 1803.1l-0.3 -0.5M444.3 1792.2l-0.3 -0.1M434 1831.8l0.2 0.5M443.5 1761.5l0.2 0.3M533.7 1792.9l0.7 -0.7M543.8 1728.2l-0.3 0.1M530.4 1793.7l0.2 -0.4M495.5 1734.8l-0.2 -0.8M473.4 1847.2l-0.5 -0.5M441.6 1822l0.2 0.3M490.4 1824.8l-0.5 0M556.1 1875.3l0.3 0M495.7 1821.7l-0.2 -0.4M478.8 1807.5l0.3 -0.3M511.3 1767.9l0.5 0.3M468.8 1824l0.5 0.7M467.3 1817.8l0.2 0.6M478.5 1796.4l0.6 0.2" stroke="#eeeae4" stroke-width="1.2" stroke-opacity="0.45"/>
<path d="M574.2 1778.8l-0.6 -0.4M442.2 1773.6l-0.4 -0.1M567.8 1839.9l0.1 0.6M512.8 1829.9l0 -0.1M554.3 1808l0.6 0.4M534.4 1803.9l0.2 -0M448.8 1857.5l-0.6 -0.3M563.6 1750.4l0.1 0.5M549 1772.6l-0.2 -0.8M476.5 1854.7l-0.7 0.2M448.3 1763.7l-0.3 -0.7M476.5 1822.2l0.4 0.3M485.8 1836.1l-0.8 0.4M507.1 1820l0.3 0.1M511.7 1819.4l-0.4 0.3M449.4 1859.1l-0.2 -0.7M455 1807.6l0.1 0.3M459.5 1793.3l-0.5 0M515.4 1808.4l-0.3 -0M486.1 1866.1l0.4 0.5M540.8 1887.3l-0.7 0.7M490.5 1819l-0.3 0.1M536.4 1805.4l0.4 -0.6M508.6 1768.9l-0.3 -0.6M462.6 1784.9l-0.6 0.1M502.5 1719.2l0.2 -0.2M472.9 1842.6l-0.5 -0.1M447.3 1757.4l-0.8 -0.3M485 1819.9l-0.6 0.3M452.9 1788.3l-0.6 -0.7M444.7 1754.9l-0.2 0.5M533.2 1850.4l-0.8 0M589.1 1826.3l0.8 0.5M546 1806.4l-0.7 -0.5M432.2 1786.7l-0 0.4M466.4 1842.3l-0.4 -0.2M438.9 1811l0.1 0.8M519.8 1871.2l-0.8 -0.4M543.5 1789.1l-0.4 0M439.6 1792.1l-0 -0.3M503 1860.9l0.5 0.3M479 1845.1l0.5 -0.1M556.6 1877.6l0.2 -0.6M567.7 1772.5l0.1 0.7" stroke="#eeeae4" stroke-width="2" stroke-opacity="0.45"/>
<path d="M511.2 1894.6l0.8 0.7M486.2 1762.6l-0.6 -0.6M494.6 1775l0.5 0.5M480.9 1736.9l-0.4 0.6M447.9 1821.8l-0.2 0.1M572.3 1820.9l0.2 -0.5M594.3 1821.8l-0.5 0.4M464.4 1862.4l-0.1 0.2M430.6 1819.5l-0.6 0.3M528.7 1859.8l0.1 0.6M482.8 1767l0.5 -0M503.2 1888.7l-0.6 0.6M456.3 1843.5l-0.5 -0.4M548.4 1818l0.8 0.6M465.6 1819.5l0.3 -0.4M546.3 1727.1l-0.6 0.5M456.7 1859.6l-0 -0M498.4 1721.1l0.7 -0.4M527.1 1814.7l0.8 0.7M504.8 1786.3l0.1 0.4M491.9 1769.6l-0.3 -0.4M570.4 1775.6l-0.4 -0.2M436 1777.7l0.4 -0.4M518 1811.8l0 -0.3M520.4 1727.4l0.3 0.1M472 1804.7l-0.7 0.6" stroke="#dcd8d4" stroke-width="2" stroke-opacity="0.45"/>
<path d="M465.2 1757.5l-0.3 0.3M544.8 1827.8l0.7 0M553.1 1750.1l-0.3 0.6M574.9 1817.1l0.5 -0.6M436.5 1783.9l0.6 0.1M452.3 1852.2l0 0.2M552.6 1806.1l0.3 -0.3M472.5 1827.4l-0.6 -0.7M533 1844l0.5 -0.8M571.5 1763.1l0.8 0.5M467.7 1835.4l0.3 -0.8M539.3 1743.7l0.6 0.3M555.7 1873.3l0.5 -0.5M499.4 1811.6l-0.3 -0.7M516.8 1832.4l-0.6 0.7M570.6 1762.6l0.4 0.3M492.4 1755.5l0.4 -0.2M506.3 1781.2l-0.7 -0.8M544.2 1750.5l0.7 -0M541.3 1762l0.5 0.6M514.5 1857.7l0.7 -0.3M566.2 1751.6l-0.6 -0.1M517.1 1754.9l0.1 -0.5M542.1 1878.5l-0.3 0.2M517.6 1746.7l-0.6 -0.7M485.1 1779.9l-0.4 -0.5M531.9 1759.5l0.3 0M502.6 1813.9l-0.5 -0.7M502.9 1889.8l0.4 -0.5M506.8 1871.3l-0.7 -0.7M498.6 1787.8l0.5 -0.8M513.9 1872.3l0.7 0.3M560.1 1833.6l0.6 -0.4M544.1 1817.1l-0.5 0.3M528.2 1749.3l0.5 -0.2M508.8 1723.9l0.5 0.4M562.3 1782l0.4 0.3M551.4 1762.3l-0 -0.7M559.8 1879.8l0 0.3M494.8 1789.4l-0.6 -0.3M537.7 1839.9l0.8 -0M453.8 1750.7l-0.8 0.3M545.3 1738.7l0.2 0.3M513.7 1744.3l0.6 -0M517.4 1815.7l0 -0.5M563.6 1820.5l0 0.6M472.5 1824.5l0.8 0.7M572.1 1786.7l-0.2 0.1M441.5 1802.5l-0 0.3M529.3 1761.2l0.1 -0.3M535.9 1756.8l-0.8 0.4M452.2 1811.9l0.7 -0.7M508 1775.1l0.5 0M520.3 1813.7l0.8 -0.2M523.5 1790.4l-0 0.4M559.5 1796.6l-0.7 -0.4M562 1738.1l0.5 -0.3M548.7 1876.3l0.4 0.5" stroke="#5a5060" stroke-width="1.6" stroke-opacity="0.45"/>
<path d="M434.6 1788l0.7 0.1M457.6 1867.3l0 0.2M512 1772.4l-0.6 0.8M506.3 1727.5l0.1 0.2M540.5 1861l0.5 -0.1M566.1 1762.6l0.1 -0.4M576.6 1757.7l0.5 -0.2M558.7 1787.5l0.1 -0.1M525.4 1736.2l0.3 -0.2M548.9 1738.1l0.1 -0.3M518.2 1732.9l-0.6 -0.3M532.4 1745.4l0 -0.2M462.5 1738.7l0.8 -0.6M540.5 1861.5l0.5 -0.7M459.6 1739.6l-0.5 -0.6M549.6 1804.4l-0.5 0.6M574.2 1771.6l-0.5 -0M544.2 1858.1l-0.3 -0.6M508.3 1829.2l0 0.1M481 1766.7l0.6 0.2M530.1 1805.3l-0.1 -0.4M522.6 1769.3l0.6 0.6M544.8 1727.2l-0.6 0.5M531.6 1878.7l0.6 -0.1M583 1800.8l-0.6 0.2M489.4 1818l0.6 0M557.6 1840.2l-0.5 -0.7M552.3 1772.4l-0.3 -0.3M574.4 1777.1l-0.1 0M511.5 1727l0.3 -0.3M542.2 1867.1l0.3 -0.6M436.6 1777.1l0.7 0.4M535 1869.3l0.3 -0.3M493.2 1764.3l0.4 0.6M556.6 1825.7l-0.7 -0.5M544.5 1729l0.4 -0.6M510 1778.3l0.3 -0.4M527 1879.5l-0.7 0.4M444.5 1785.3l-0.3 -0.1M501.9 1766.4l0.1 0.2M487.8 1789.1l-0.5 0.1M497.2 1823.3l-0.5 0.5M553 1786.8l0.1 0.3M530.7 1726.9l-0.2 0.8M468.1 1849.2l-0.3 0.3M501 1777.8l-0.3 -0.2M541.3 1771.9l0.4 0.2M510.3 1760.4l0.1 0.4M494.1 1886.5l-0.6 0.1M443.8 1769.5l-0 -0.5M500.7 1850.7l0.6 -0.6" stroke="#dcd8d4" stroke-width="1.6" stroke-opacity="0.30"/>
<path d="M432.7 1808.4l0 0.2M442.8 1769.2l-0.1 0.6M468.7 1804.4l-0.8 -0.6M495.9 1886l-0.7 -0.4M478.6 1851.1l-0.2 0M552.6 1872.2l-0.6 -0.1M431.4 1802.1l0.5 0.1M512.4 1809.6l0.4 -0.5M575.3 1823.3l0.4 0.6M549.7 1776.1l-0.7 -0.3M529.9 1821.4l0.8 0.6M460.3 1860.5l-0.7 0.1M525.8 1857.6l-0.5 -0.2M514.8 1840.5l-0.6 -0M572.5 1819.6l0.5 -0.1M473.6 1881.2l-0.3 0.4M490.8 1888.2l0.1 -0.4M536.2 1741.2l0.4 -0.7M432.2 1818.7l0 0.4M530.4 1735.7l0.6 -0.1M541.1 1760.3l-0.1 0.8M567.6 1852.5l-0.2 0.8M569.6 1796.4l-0.1 -0.3M555 1858.5l-0 0.3M442 1771.7l-0 0.8M536.6 1875.8l0.1 0.7M520.4 1801.9l-0.7 -0.1M501.2 1882.8l0.5 -0.3M552.2 1858.2l0.1 0.3M537.1 1831.4l-0.2 -0.6M525.2 1732.5l0.5 -0.7M542.7 1808l-0 0.7M522.3 1828.8l0.3 0M544.9 1751.2l0.5 0.3M565.3 1758.6l0 -0.6M510.7 1780l-0.6 -0.6M533.8 1854.3l-0.7 0.5M511.9 1893.6l-0.3 0.4M540.6 1865.2l-0.6 -0.1M451.5 1835.1l-0.8 -0M523 1804.7l0.8 0.6M556.8 1753.1l0.2 -0.1M486 1802.8l0.5 -0.4M574 1753.3l0.6 -0.1M566 1738l0.1 -0.4M507.2 1782.6l-0 -0.7M429.9 1805.8l0.4 -0.7M541.6 1741.9l0.1 0.2M488.1 1798.9l-0.2 -0.5M451.9 1749.6l0.1 -0.2M555.3 1728.2l-0.3 -0.7M509.4 1732.8l0.4 -0.2M517.2 1808.3l0.6 -0.2" stroke="#5a5060" stroke-width="1.6" stroke-opacity="0.30"/>
<path d="M502 1845.1l0 0.5M467 1784.3l-0.7 0.6M570.3 1855.7l0.7 0.1M568.8 1824.4l-0.2 -0.6M468.6 1862.6l-0.3 -0.4M525.5 1723.1l0.6 -0.2M455.9 1863.6l-0.4 -0.6M543.7 1837.6l0.8 0M541.1 1844.6l-0.1 0.6M510.6 1843.6l0.2 0.3M524.8 1720.5l0.4 -0M481.3 1822.2l0.6 0.5M468.9 1758.1l0.1 -0.2M509.9 1736.7l-0.7 0.3M438.7 1837.4l0.6 0.2M506.7 1772.7l-0.5 0M512.7 1862.4l0.5 -0.3M488.4 1840.6l-0.8 -0.3M589.6 1812.6l0.4 0.1M570.5 1803.2l-0.5 -0.2M487.4 1880.8l0.1 -0.7M533.3 1799.5l-0.6 0.6M537.2 1730.1l0.4 -0.6M451.2 1755.7l0.4 0.8M566.7 1839.8l0.4 -0.4M486.2 1814.8l0 -0.2M496.5 1759.4l-0.3 0.3M527 1872.7l0.3 -0.2M551.5 1758.1l0.6 0.5M506.9 1760l-0.5 0.3M455.6 1743.3l0.1 -0.6M503.3 1869.4l0.7 -0.1M468.8 1867.7l-0.3 0.5M533.2 1766.9l-0.7 0.6M570.9 1837.7l0.3 0.7M484.3 1790l-0.4 -0.5M434.5 1801.4l0.3 -0.4M547.6 1846.4l-0.5 -0.2M558 1785.4l-0.4 -0.1M579.5 1853.9l-0.4 0.4" stroke="#eeeae4" stroke-width="2" stroke-opacity="0.30"/>
<path d="M530.5 1792.3l-0.1 0.7M443.6 1774.8l-0.3 0.6M563.4 1849.9l-0 0.3M491.6 1787.5l0.3 -0.7M459.7 1823.2l-0.2 -0.2M463.8 1850.6l0.6 -0.1M486.4 1736.8l-0.7 0.3M487.8 1831.5l0.6 0.7M552.4 1882l0.2 -0.1M506.9 1760.7l-0.5 0.4M449.2 1773.1l0.6 0.6M519.6 1746.6l0.6 0.3M483.2 1844l0.7 0.7M544.4 1785.4l-0 0.1M539.5 1871.9l0.6 -0M458.2 1739.9l0.6 -0.5M540.8 1746.7l-0.1 0.7M434.4 1783.2l0.5 -0.4M444.8 1766.5l-0.6 -0.5M475 1745.4l-0.6 0.3M531.4 1818.8l-0.7 0.3M486.8 1868.1l-0.6 -0.6M488.4 1854.9l-0.4 0.5M474.7 1881.3l0.2 0.7M538.3 1885l0.1 0.3M565.8 1824.5l0.6 0.5M575.8 1843.2l-0.3 0.1M555.4 1781.8l0.1 0.1M584.4 1776.8l0.8 -0.3M556.1 1830.9l-0.5 0.3M564.8 1807l0.8 -0.3M553.9 1852.4l-0.6 0.3M495.7 1743.1l-0 -0.1M472.8 1810.3l0.3 -0.6M444.8 1826.5l0.3 0.2M542.4 1777.5l-0.3 0.2M473.2 1770.6l-0.1 0.8M554.8 1758.7l-0.6 -0.1M564.9 1813.4l0.8 -0.8M561.8 1857l0.3 -0.6M556 1820.7l0.1 -0.7" stroke="#dcd8d4" stroke-width="1.6" stroke-opacity="0.45"/>
<path d="M461.9 1867l0.4 -0.1M531.1 1722l-0.5 -0.5M430.5 1819.7l0.5 -0.8M482 1882.2l0.9 0.2M558.3 1737.7l-0.2 -0.4M480.8 1723.8l-0.7 0.6M576 1751.1l0.4 -0.9M521.1 1890.4l0.3 0.5M593 1779.1l0.2 -1M547.4 1723.8l0.9 -1M486 1722.4l0.5 0.2M435.2 1778.5l0.9 0.9M437.3 1827.9l-0.1 -0.2M486.5 1883.2l0.5 0.7M434.3 1795.2l-0.1 -0.6M575.6 1758.4l0.3 0.6M586.7 1832l0 0.2M522.7 1895.2l0.4 -0.2M460.1 1740.7l-0.7 -0.1M549.6 1731.5l0.4 -0.3M432.5 1828.5l-0.4 -0.2M577.3 1862.4l-0.2 0M546.8 1882.1l0.4 -0.9M484.2 1727l-0.7 -1M456.6 1747.7l-0.9 -0.4M459.1 1745.1l0.3 0M430.8 1811.9l0.1 0.9M575.7 1752.6l-0.8 -0.3M561.3 1740.1l-0.6 -0.1M546.5 1727.9l-0.8 0.2M436.9 1770.7l0.9 0.1M491.6 1728.1l0.5 -0.3M429.2 1796.6l-0.6 -0.6M530.3 1887.2l-0.6 0.3M443.8 1854l0.4 -0.7M587.3 1846.9l-0.8 0.2M434.4 1822.8l0.6 -1M429.6 1793.9l-1 -0.9M445.1 1769.8l0.1 0.5M591.2 1804.5l0.7 0.8M582.1 1756.5l0.6 -0.6M586.4 1848l0.1 -0.7M525.4 1720.3l-0.9 -0.9M574.8 1864l-0.7 -0.9M580.8 1852.8l0.4 0.7M553.4 1727.1l0.1 -0.5M437 1808.8l0.5 -0.1M544.6 1731.2l-0.5 0.8" stroke="#f4f4ee" stroke-width="1.6" stroke-opacity="0.70"/>
<path d="M450.9 1863l-0.1 -0M520.2 1717.7l-0.4 -0.8M448.5 1850.6l-0.6 -0.7M586.3 1771.3l0.8 0M577.1 1750.4l0.1 0.1M587.4 1836.6l0.7 0.1M558 1878.9l-0.8 0.9M448.7 1757.4l0.9 -0.4M517.5 1720.3l-0.1 -0.6M443.7 1767.7l-0.3 0.5M593.5 1786.8l-0.1 0.8M496.1 1885.1l-0 0.6M576.4 1860.2l-0.4 0.2M566.5 1745.8l-0.8 0.7M557.1 1876.7l-0.6 0M547.4 1882.1l0.1 0.8M472.8 1734.3l-0.9 -0.9M464.3 1869.7l0.7 0.9M480.1 1724.6l0.2 0.1M588.1 1771.5l0.6 0.7M529 1890.4l-0.5 0M448.3 1755.1l1 0.8M565.8 1737.2l-0.7 0.8M443.8 1757.7l0.4 0.1M590.9 1787.5l-0.6 -0.9M573.6 1754l0.8 0.7M516.7 1723.6l0 -0.3M584.3 1849.3l-0.2 0.2M583.9 1755.8l-0.4 -0.2M448.5 1860.7l-0.9 0.7M549.8 1729.1l-0.1 0.3M509.3 1891.8l0.5 -0.6M461.1 1746.6l-1 -0.3M483.4 1887.5l-0.6 0.4M576.2 1752.5l1 -0.4M590.4 1767.8l0.4 0.2M589.8 1790.1l-0.1 -0.7M511.3 1888l-0.5 0.7M508.2 1723.7l-0.1 -0.1M465.1 1872.1l-0.6 0.3" stroke="#f4f4ee" stroke-width="2.4" stroke-opacity="0.70"/>
</g>
<line x1="596.6" y1="712.9" x2="635" y2="712.9" stroke="#c8b43c" stroke-width="1.2"/>
<text x="600" y="710" font-size="6" fill="#c8b43c" style="font-family:'Liberation Serif',serif">100 μm</text>
<line x1="315" y1="933.7" x2="351.3" y2="933.7" stroke="#c8b43c" stroke-width="1.2"/>
<text x="318" y="931" font-size="6" fill="#c8b43c" style="font-family:'Liberation Serif',serif">100 μm</text>
<line x1="597" y1="932.5" x2="634" y2="932.5" stroke="#d03020" stroke-width="1.6"/>
<text x="596" y="929" font-size="11" fill="#d03020" style="font-family:'Liberation Serif',serif">100μm</text>
<rect x="326.6" y="1197.1" width="32.3" height="4.5" fill="#fff" stroke="#333" stroke-width="0.6"/>
<rect x="612.4" y="1197.1" width="34.3" height="4.5" fill="#fff" stroke="#333" stroke-width="0.6"/>
<rect x="326.6" y="1417.8" width="32.3" height="4.5" fill="#fff" stroke="#333" stroke-width="0.6"/>
<line x1="616" y1="1417.6" x2="646" y2="1417.6" stroke="#d03020" stroke-width="1.6"/>
<text x="616" y="1413" font-size="11" fill="#d03020" style="font-family:'Liberation Serif',serif">50μm</text>
<line x1="626" y1="1904.9" x2="657.6" y2="1904.9" stroke="#d03020" stroke-width="1.8"/>
<text x="624.6" y="1899" font-size="12" fill="#d03020" style="font-family:'Liberation Serif',serif">50μm</text>
<text x="0" y="0" font-size="48.91" transform="translate(-0.99 36.51) scale(0.917 1)">a</text>
<line x1="97.8" y1="76.2" x2="97.8" y2="374.4" stroke="#000" stroke-width="2.5"/>
<line x1="89.5" y1="373.2" x2="541.5" y2="373.2" stroke="#000" stroke-width="2.8"/>
<line x1="89.5" y1="373.2" x2="97.8" y2="373.2" stroke="#000" stroke-width="2.5"/>
<text x="70.44" y="382.93" font-size="28.20">0</text>
<line x1="89.5" y1="299.25" x2="97.8" y2="299.25" stroke="#000" stroke-width="2.5"/>
<text x="70.72" y="308.98" font-size="28.20">1</text>
<line x1="89.5" y1="225.3" x2="97.8" y2="225.3" stroke="#000" stroke-width="2.5"/>
<text x="70.86" y="235.17" font-size="28.20">2</text>
<line x1="89.5" y1="151.35" x2="97.8" y2="151.35" stroke="#000" stroke-width="2.5"/>
<text x="70.58" y="161.08" font-size="28.20">3</text>
<line x1="89.5" y1="77.4" x2="97.8" y2="77.4" stroke="#000" stroke-width="2.5"/>
<text x="70.29" y="87.13" font-size="28.20">4</text>
<text x="54.72" y="441.75" font-size="28.18" transform="rotate(-90 54.72 441.75)">Relative  expression of circKPNB1</text>
<rect x="129.1" y="299.7" width="63.6" height="73.5" fill="#FF868A"/>
<line x1="160.9" y1="299.7" x2="160.9" y2="293.5" stroke="#FF868A" stroke-width="2.6"/>
<line x1="145.4" y1="293.5" x2="176.4" y2="293.5" stroke="#FF868A" stroke-width="2.6"/>
<line x1="160.9" y1="373.2" x2="160.9" y2="381.5" stroke="#000" stroke-width="2.6"/>
<text x="104.76" y="471.6" font-size="28.71" transform="rotate(-45 104.76 471.6)">GSC28</text>
<rect x="192.7" y="302.5" width="63.3" height="70.7" fill="#477EBE"/>
<line x1="224.35" y1="302.5" x2="224.35" y2="296.5" stroke="#477EBE" stroke-width="2.6"/>
<line x1="208.85" y1="296.5" x2="239.85" y2="296.5" stroke="#477EBE" stroke-width="2.6"/>
<line x1="224.35" y1="373.2" x2="224.35" y2="381.5" stroke="#000" stroke-width="2.6"/>
<text x="168.24" y="471.6" font-size="28.78" transform="rotate(-45 168.24 471.6)">GSC32</text>
<rect x="256" y="231.5" width="63.3" height="141.7" fill="#80CA2C"/>
<line x1="287.65" y1="231.5" x2="287.65" y2="224" stroke="#80CA2C" stroke-width="2.6"/>
<line x1="272.15" y1="224" x2="303.15" y2="224" stroke="#80CA2C" stroke-width="2.6"/>
<line x1="287.65" y1="373.2" x2="287.65" y2="381.5" stroke="#000" stroke-width="2.6"/>
<text x="231.53" y="471.6" font-size="28.74" transform="rotate(-45 231.53 471.6)">GSC31</text>
<rect x="319.3" y="228" width="63.5" height="145.2" fill="#F9EE8A"/>
<line x1="351.05" y1="228" x2="351.05" y2="219.8" stroke="#F9EE8A" stroke-width="2.6"/>
<line x1="335.55" y1="219.8" x2="366.55" y2="219.8" stroke="#F9EE8A" stroke-width="2.6"/>
<line x1="351.05" y1="373.2" x2="351.05" y2="381.5" stroke="#000" stroke-width="2.6"/>
<text x="294.93" y="471.6" font-size="28.74" transform="rotate(-45 294.93 471.6)">GSC39</text>
<rect x="382.8" y="140.4" width="63.2" height="232.8" fill="#B558BD"/>
<line x1="414.4" y1="140.4" x2="414.4" y2="130.8" stroke="#B558BD" stroke-width="2.6"/>
<line x1="398.9" y1="130.8" x2="429.9" y2="130.8" stroke="#B558BD" stroke-width="2.6"/>
<line x1="414.4" y1="373.2" x2="414.4" y2="381.5" stroke="#000" stroke-width="2.6"/>
<text x="358.26" y="471.6" font-size="28.71" transform="rotate(-45 358.26 471.6)">GSC38</text>
<rect x="446" y="142.4" width="63.2" height="230.8" fill="#4D7D7C"/>
<line x1="477.6" y1="142.4" x2="477.6" y2="133.7" stroke="#4D7D7C" stroke-width="2.6"/>
<line x1="462.1" y1="133.7" x2="493.1" y2="133.7" stroke="#4D7D7C" stroke-width="2.6"/>
<line x1="477.6" y1="373.2" x2="477.6" y2="381.5" stroke="#000" stroke-width="2.6"/>
<text x="421.46" y="471.6" font-size="28.71" transform="rotate(-45 421.46 471.6)">GSC35</text>
<line x1="135.8" y1="282.4" x2="247.5" y2="282.4" stroke="#000" stroke-width="2.8"/>
<line x1="262.3" y1="209.4" x2="375.2" y2="209.4" stroke="#000" stroke-width="2.8"/>
<line x1="390.7" y1="119.5" x2="501.6" y2="119.5" stroke="#000" stroke-width="2.8"/>
<polyline points="191.6,274.4 191.6,39.3 445.7,39.3 445.7,110" fill="none" stroke="#000" stroke-width="2.8" stroke-linejoin="miter"/>
<polyline points="191.6,157.2 321.3,157.2" fill="none" stroke="#000" stroke-width="2.8" stroke-linejoin="miter"/>
<polyline points="321.3,201.3 321.3,84.2 445.7,84.2" fill="none" stroke="#000" stroke-width="2.8" stroke-linejoin="miter"/>
<text x="0" y="0" font-size="24.29" transform="translate(300.29 37.76) scale(1.134 1)" stroke="#000" stroke-width="0.35">***</text>
<text x="0" y="0" font-size="24.86" transform="translate(375.6 84.35) scale(1.073 1)" stroke="#000" stroke-width="0.35">**</text>
<text x="0" y="0" font-size="24.86" transform="translate(245.8 156.65) scale(1.073 1)" stroke="#000" stroke-width="0.35">**</text>
<text x="0" y="0" font-size="47.89" transform="translate(565.65 42.72) scale(1.109 1)">b</text>
<line x1="707.9" y1="39.3" x2="707.9" y2="370.9" stroke="#000" stroke-width="2.5"/>
<line x1="707.9" y1="369.7" x2="1203.6" y2="369.7" stroke="#000" stroke-width="2.8"/>
<line x1="698.9" y1="369.7" x2="707.9" y2="369.7" stroke="#000" stroke-width="2.5"/>
<text x="657.5" y="379.22" font-size="27.60">0.0</text>
<line x1="698.9" y1="303.86" x2="707.9" y2="303.86" stroke="#000" stroke-width="2.5"/>
<text x="657.64" y="313.38" font-size="27.60">0.5</text>
<line x1="698.9" y1="238.02" x2="707.9" y2="238.02" stroke="#000" stroke-width="2.5"/>
<text x="657.5" y="247.54" font-size="27.60">1.0</text>
<line x1="698.9" y1="172.18" x2="707.9" y2="172.18" stroke="#000" stroke-width="2.5"/>
<text x="657.64" y="181.56" font-size="27.60">1.5</text>
<line x1="698.9" y1="106.34" x2="707.9" y2="106.34" stroke="#000" stroke-width="2.5"/>
<text x="657.5" y="115.86" font-size="27.60">2.0</text>
<line x1="698.9" y1="40.5" x2="707.9" y2="40.5" stroke="#000" stroke-width="2.5"/>
<text x="657.64" y="50.02" font-size="27.60">2.5</text>
<line x1="707.9" y1="369.7" x2="707.9" y2="378.9" stroke="#000" stroke-width="2.5"/>
<text x="700.17" y="415.6" font-size="27.60">0</text>
<line x1="806.8" y1="369.7" x2="806.8" y2="378.9" stroke="#000" stroke-width="2.5"/>
<text x="791.21" y="415.6" font-size="27.60">24</text>
<line x1="905.7" y1="369.7" x2="905.7" y2="378.9" stroke="#000" stroke-width="2.5"/>
<text x="890.66" y="415.6" font-size="27.60">48</text>
<line x1="1004.6" y1="369.7" x2="1004.6" y2="378.9" stroke="#000" stroke-width="2.5"/>
<text x="989.28" y="415.6" font-size="27.60">72</text>
<line x1="1103.5" y1="369.7" x2="1103.5" y2="378.9" stroke="#000" stroke-width="2.5"/>
<text x="1088.11" y="415.6" font-size="27.60">96</text>
<line x1="1202.4" y1="369.7" x2="1202.4" y2="378.9" stroke="#000" stroke-width="2.5"/>
<text x="1178.87" y="415.6" font-size="27.60">120</text>
<text x="1247" y="415.6" font-size="27.60">h</text>
<text x="637.44" y="349.6" font-size="26.67" transform="rotate(-90 637.44 349.6)">Absorbance at 495nm</text>
<text x="911.35" y="21.59" font-size="27.08">GSC28</text>
<line x1="730.1" y1="74.2" x2="765.5" y2="74.2" stroke="#5B63B8" stroke-width="2.8"/>
<circle cx="747.8" cy="74.2" r="6.7" fill="#5B63B8"/>
<text x="785.03" y="84.48" font-size="26.79">circKPNB1-EV</text>
<line x1="730.1" y1="119" x2="765.5" y2="119" stroke="#F4696E" stroke-width="2.8"/>
<rect x="741.1" y="112.2" width="13.6" height="13.6" fill="#F4696E"/>
<text x="785.02" y="129.31" font-size="26.88">circKPNB1-OE</text>
<polyline points="707.9,366.8 806.8,329.7 905.7,281.3 1004.6,233.9 1103.5,129.7 1202.4,76.8" fill="none" stroke="#F4696E" stroke-width="2.7" stroke-linejoin="round"/>
<rect x="701.1" y="360" width="13.6" height="13.6" fill="#F4696E"/>
<line x1="806.8" y1="321.7" x2="806.8" y2="338.8" stroke="#F4696E" stroke-width="2.6"/>
<line x1="800.2" y1="321.7" x2="813.4" y2="321.7" stroke="#F4696E" stroke-width="2.8"/>
<line x1="800.2" y1="338.8" x2="813.4" y2="338.8" stroke="#F4696E" stroke-width="2.8"/>
<rect x="800" y="322.9" width="13.6" height="13.6" fill="#F4696E"/>
<line x1="905.7" y1="268" x2="905.7" y2="295.2" stroke="#F4696E" stroke-width="2.6"/>
<line x1="899.1" y1="268" x2="912.3" y2="268" stroke="#F4696E" stroke-width="2.8"/>
<line x1="899.1" y1="295.2" x2="912.3" y2="295.2" stroke="#F4696E" stroke-width="2.8"/>
<rect x="898.9" y="274.5" width="13.6" height="13.6" fill="#F4696E"/>
<line x1="1004.6" y1="219" x2="1004.6" y2="248.6" stroke="#F4696E" stroke-width="2.6"/>
<line x1="998" y1="219" x2="1011.2" y2="219" stroke="#F4696E" stroke-width="2.8"/>
<line x1="998" y1="248.6" x2="1011.2" y2="248.6" stroke="#F4696E" stroke-width="2.8"/>
<rect x="997.8" y="227.1" width="13.6" height="13.6" fill="#F4696E"/>
<line x1="1103.5" y1="113" x2="1103.5" y2="146.3" stroke="#F4696E" stroke-width="2.6"/>
<line x1="1096.9" y1="113" x2="1110.1" y2="113" stroke="#F4696E" stroke-width="2.8"/>
<line x1="1096.9" y1="146.3" x2="1110.1" y2="146.3" stroke="#F4696E" stroke-width="2.8"/>
<rect x="1096.7" y="122.9" width="13.6" height="13.6" fill="#F4696E"/>
<line x1="1202.4" y1="57" x2="1202.4" y2="96.4" stroke="#F4696E" stroke-width="2.6"/>
<line x1="1195.8" y1="57" x2="1209" y2="57" stroke="#F4696E" stroke-width="2.8"/>
<line x1="1195.8" y1="96.4" x2="1209" y2="96.4" stroke="#F4696E" stroke-width="2.8"/>
<rect x="1195.6" y="70" width="13.6" height="13.6" fill="#F4696E"/>
<polyline points="707.9,366.6 806.8,341 905.7,328.1 1004.6,276.2 1103.5,195 1202.4,149.6" fill="none" stroke="#5B63B8" stroke-width="2.7" stroke-linejoin="round"/>
<circle cx="707.9" cy="366.6" r="7" fill="#5B63B8"/>
<line x1="806.8" y1="333.1" x2="806.8" y2="350.2" stroke="#5B63B8" stroke-width="2.6"/>
<line x1="800.2" y1="333.1" x2="813.4" y2="333.1" stroke="#5B63B8" stroke-width="2.8"/>
<line x1="800.2" y1="350.2" x2="813.4" y2="350.2" stroke="#5B63B8" stroke-width="2.8"/>
<circle cx="806.8" cy="341" r="7" fill="#5B63B8"/>
<line x1="905.7" y1="316.2" x2="905.7" y2="339.8" stroke="#5B63B8" stroke-width="2.6"/>
<line x1="899.1" y1="316.2" x2="912.3" y2="316.2" stroke="#5B63B8" stroke-width="2.8"/>
<line x1="899.1" y1="339.8" x2="912.3" y2="339.8" stroke="#5B63B8" stroke-width="2.8"/>
<circle cx="905.7" cy="328.1" r="7" fill="#5B63B8"/>
<line x1="1004.6" y1="263" x2="1004.6" y2="289.5" stroke="#5B63B8" stroke-width="2.6"/>
<line x1="998" y1="263" x2="1011.2" y2="263" stroke="#5B63B8" stroke-width="2.8"/>
<line x1="998" y1="289.5" x2="1011.2" y2="289.5" stroke="#5B63B8" stroke-width="2.8"/>
<circle cx="1004.6" cy="276.2" r="7" fill="#5B63B8"/>
<line x1="1103.5" y1="179.8" x2="1103.5" y2="210.7" stroke="#5B63B8" stroke-width="2.6"/>
<line x1="1096.9" y1="179.8" x2="1110.1" y2="179.8" stroke="#5B63B8" stroke-width="2.8"/>
<line x1="1096.9" y1="210.7" x2="1110.1" y2="210.7" stroke="#5B63B8" stroke-width="2.8"/>
<circle cx="1103.5" cy="195" r="7" fill="#5B63B8"/>
<line x1="1202.4" y1="132.4" x2="1202.4" y2="166.6" stroke="#5B63B8" stroke-width="2.6"/>
<line x1="1195.8" y1="132.4" x2="1209" y2="132.4" stroke="#5B63B8" stroke-width="2.8"/>
<line x1="1195.8" y1="166.6" x2="1209" y2="166.6" stroke="#5B63B8" stroke-width="2.8"/>
<circle cx="1202.4" cy="149.6" r="7" fill="#5B63B8"/>
<text x="999.53" y="221.89" font-size="26.00" stroke="#000" stroke-width="0.35">*</text>
<text x="1098.43" y="114.89" font-size="26.00" stroke="#000" stroke-width="0.35">*</text>
<text x="1192.26" y="58.59" font-size="26.00" stroke="#000" stroke-width="0.35">**</text>
<text x="0" y="0" font-size="46.18" transform="translate(1268.88 35.94) scale(1.150 1)">c</text>
<line x1="1398.9" y1="41.4" x2="1398.9" y2="372.7" stroke="#000" stroke-width="2.5"/>
<line x1="1398.9" y1="371.5" x2="1893.1" y2="371.5" stroke="#000" stroke-width="2.8"/>
<line x1="1389.9" y1="371.5" x2="1398.9" y2="371.5" stroke="#000" stroke-width="2.5"/>
<text x="1347.2" y="381.02" font-size="27.60">0.0</text>
<line x1="1389.9" y1="305.72" x2="1398.9" y2="305.72" stroke="#000" stroke-width="2.5"/>
<text x="1347.34" y="315.24" font-size="27.60">0.5</text>
<line x1="1389.9" y1="239.94" x2="1398.9" y2="239.94" stroke="#000" stroke-width="2.5"/>
<text x="1347.2" y="249.46" font-size="27.60">1.0</text>
<line x1="1389.9" y1="174.16" x2="1398.9" y2="174.16" stroke="#000" stroke-width="2.5"/>
<text x="1347.34" y="183.54" font-size="27.60">1.5</text>
<line x1="1389.9" y1="108.38" x2="1398.9" y2="108.38" stroke="#000" stroke-width="2.5"/>
<text x="1347.2" y="117.9" font-size="27.60">2.0</text>
<line x1="1389.9" y1="42.6" x2="1398.9" y2="42.6" stroke="#000" stroke-width="2.5"/>
<text x="1347.34" y="52.12" font-size="27.60">2.5</text>
<line x1="1398.9" y1="371.5" x2="1398.9" y2="380.7" stroke="#000" stroke-width="2.5"/>
<text x="1391.17" y="410.1" font-size="27.60">0</text>
<line x1="1497.5" y1="371.5" x2="1497.5" y2="380.7" stroke="#000" stroke-width="2.5"/>
<text x="1481.91" y="410.1" font-size="27.60">24</text>
<line x1="1596.1" y1="371.5" x2="1596.1" y2="380.7" stroke="#000" stroke-width="2.5"/>
<text x="1581.06" y="410.1" font-size="27.60">48</text>
<line x1="1694.7" y1="371.5" x2="1694.7" y2="380.7" stroke="#000" stroke-width="2.5"/>
<text x="1679.38" y="410.1" font-size="27.60">72</text>
<line x1="1793.3" y1="371.5" x2="1793.3" y2="380.7" stroke="#000" stroke-width="2.5"/>
<text x="1777.91" y="410.1" font-size="27.60">96</text>
<line x1="1891.9" y1="371.5" x2="1891.9" y2="380.7" stroke="#000" stroke-width="2.5"/>
<text x="1868.37" y="410.1" font-size="27.60">120</text>
<text x="1935.6" y="410.1" font-size="27.60">h</text>
<text x="1334.18" y="348.6" font-size="27.08" transform="rotate(-90 1334.18 348.6)">Absorbance at 495nm</text>
<text x="1601.83" y="23.26" font-size="27.42">GSC32</text>
<line x1="1410.3" y1="73.9" x2="1445.7" y2="73.9" stroke="#5B63B8" stroke-width="2.8"/>
<circle cx="1428" cy="73.9" r="6.7" fill="#5B63B8"/>
<text x="1464.84" y="84.15" font-size="26.58">circKPNB1-EV</text>
<line x1="1410.3" y1="109.3" x2="1445.7" y2="109.3" stroke="#F4696E" stroke-width="2.8"/>
<rect x="1421.3" y="102.5" width="13.6" height="13.6" fill="#F4696E"/>
<text x="1464.82" y="119.27" font-size="26.92">circKPNB1-OE</text>
<polyline points="1398.9,368.4 1497.5,343 1596.1,330.3 1694.7,279.8 1793.3,186.4 1891.9,141.2" fill="none" stroke="#5B63B8" stroke-width="2.7" stroke-linejoin="round"/>
<circle cx="1398.9" cy="368.4" r="7" fill="#5B63B8"/>
<line x1="1497.5" y1="336" x2="1497.5" y2="350.8" stroke="#5B63B8" stroke-width="2.6"/>
<line x1="1490.9" y1="336" x2="1504.1" y2="336" stroke="#5B63B8" stroke-width="2.8"/>
<line x1="1490.9" y1="350.8" x2="1504.1" y2="350.8" stroke="#5B63B8" stroke-width="2.8"/>
<circle cx="1497.5" cy="343" r="7" fill="#5B63B8"/>
<line x1="1596.1" y1="318.8" x2="1596.1" y2="341.5" stroke="#5B63B8" stroke-width="2.6"/>
<line x1="1589.5" y1="318.8" x2="1602.7" y2="318.8" stroke="#5B63B8" stroke-width="2.8"/>
<line x1="1589.5" y1="341.5" x2="1602.7" y2="341.5" stroke="#5B63B8" stroke-width="2.8"/>
<circle cx="1596.1" cy="330.3" r="7" fill="#5B63B8"/>
<line x1="1694.7" y1="266.3" x2="1694.7" y2="293.4" stroke="#5B63B8" stroke-width="2.6"/>
<line x1="1688.1" y1="266.3" x2="1701.3" y2="266.3" stroke="#5B63B8" stroke-width="2.8"/>
<line x1="1688.1" y1="293.4" x2="1701.3" y2="293.4" stroke="#5B63B8" stroke-width="2.8"/>
<circle cx="1694.7" cy="279.8" r="7" fill="#5B63B8"/>
<line x1="1793.3" y1="171" x2="1793.3" y2="201.2" stroke="#5B63B8" stroke-width="2.6"/>
<line x1="1786.7" y1="171" x2="1799.9" y2="171" stroke="#5B63B8" stroke-width="2.8"/>
<line x1="1786.7" y1="201.2" x2="1799.9" y2="201.2" stroke="#5B63B8" stroke-width="2.8"/>
<circle cx="1793.3" cy="186.4" r="7" fill="#5B63B8"/>
<line x1="1891.9" y1="124.7" x2="1891.9" y2="158.4" stroke="#5B63B8" stroke-width="2.6"/>
<line x1="1885.3" y1="124.7" x2="1898.5" y2="124.7" stroke="#5B63B8" stroke-width="2.8"/>
<line x1="1885.3" y1="158.4" x2="1898.5" y2="158.4" stroke="#5B63B8" stroke-width="2.8"/>
<circle cx="1891.9" cy="141.2" r="7" fill="#5B63B8"/>
<polyline points="1398.9,368.4 1497.5,335.4 1596.1,289.5 1694.7,232.8 1793.3,133.5 1891.9,82.7" fill="none" stroke="#F4696E" stroke-width="2.7" stroke-linejoin="round"/>
<rect x="1392.1" y="361.6" width="13.6" height="13.6" fill="#F4696E"/>
<line x1="1497.5" y1="324.8" x2="1497.5" y2="344.2" stroke="#F4696E" stroke-width="2.6"/>
<line x1="1490.9" y1="324.8" x2="1504.1" y2="324.8" stroke="#F4696E" stroke-width="2.8"/>
<line x1="1490.9" y1="344.2" x2="1504.1" y2="344.2" stroke="#F4696E" stroke-width="2.8"/>
<rect x="1490.7" y="328.6" width="13.6" height="13.6" fill="#F4696E"/>
<line x1="1596.1" y1="276.2" x2="1596.1" y2="304" stroke="#F4696E" stroke-width="2.6"/>
<line x1="1589.5" y1="276.2" x2="1602.7" y2="276.2" stroke="#F4696E" stroke-width="2.8"/>
<line x1="1589.5" y1="304" x2="1602.7" y2="304" stroke="#F4696E" stroke-width="2.8"/>
<rect x="1589.3" y="282.7" width="13.6" height="13.6" fill="#F4696E"/>
<line x1="1694.7" y1="218" x2="1694.7" y2="247.8" stroke="#F4696E" stroke-width="2.6"/>
<line x1="1688.1" y1="218" x2="1701.3" y2="218" stroke="#F4696E" stroke-width="2.8"/>
<line x1="1688.1" y1="247.8" x2="1701.3" y2="247.8" stroke="#F4696E" stroke-width="2.8"/>
<rect x="1687.9" y="226" width="13.6" height="13.6" fill="#F4696E"/>
<line x1="1793.3" y1="116.5" x2="1793.3" y2="150.7" stroke="#F4696E" stroke-width="2.6"/>
<line x1="1786.7" y1="116.5" x2="1799.9" y2="116.5" stroke="#F4696E" stroke-width="2.8"/>
<line x1="1786.7" y1="150.7" x2="1799.9" y2="150.7" stroke="#F4696E" stroke-width="2.8"/>
<rect x="1786.5" y="126.7" width="13.6" height="13.6" fill="#F4696E"/>
<line x1="1891.9" y1="62.2" x2="1891.9" y2="102.6" stroke="#F4696E" stroke-width="2.6"/>
<line x1="1885.3" y1="62.2" x2="1898.5" y2="62.2" stroke="#F4696E" stroke-width="2.8"/>
<line x1="1885.3" y1="102.6" x2="1898.5" y2="102.6" stroke="#F4696E" stroke-width="2.8"/>
<rect x="1885.1" y="75.9" width="13.6" height="13.6" fill="#F4696E"/>
<text x="1689.63" y="219.69" font-size="26.00" stroke="#000" stroke-width="0.35">*</text>
<text x="1788.23" y="119.29" font-size="26.00" stroke="#000" stroke-width="0.35">*</text>
<text x="1881.76" y="64.09" font-size="26.00" stroke="#000" stroke-width="0.35">**</text>
<line x1="761.6" y1="568" x2="761.6" y2="914.2" stroke="#000" stroke-width="2.5"/>
<line x1="752.6" y1="913" x2="1105.1" y2="913" stroke="#000" stroke-width="2.8"/>
<line x1="752.6" y1="913" x2="761.6" y2="913" stroke="#000" stroke-width="2.5"/>
<text x="736.44" y="921.73" font-size="25.30">0</text>
<line x1="752.6" y1="844.24" x2="761.6" y2="844.24" stroke="#000" stroke-width="2.5"/>
<text x="722.4" y="852.97" font-size="25.30">50</text>
<line x1="752.6" y1="775.48" x2="761.6" y2="775.48" stroke="#000" stroke-width="2.5"/>
<text x="708.36" y="784.21" font-size="25.30">100</text>
<line x1="752.6" y1="706.72" x2="761.6" y2="706.72" stroke="#000" stroke-width="2.5"/>
<text x="708.36" y="715.45" font-size="25.30">150</text>
<line x1="752.6" y1="637.96" x2="761.6" y2="637.96" stroke="#000" stroke-width="2.5"/>
<text x="708.36" y="646.69" font-size="25.30">200</text>
<line x1="752.6" y1="569.2" x2="761.6" y2="569.2" stroke="#000" stroke-width="2.5"/>
<text x="708.36" y="577.93" font-size="25.30">250</text>
<rect x="790.3" y="776.3" width="56.6" height="136.7" fill="#5F66B6"/>
<line x1="818.6" y1="776.3" x2="818.6" y2="769.4" stroke="#5F66B6" stroke-width="2.6"/>
<line x1="804.4" y1="769.4" x2="832.8" y2="769.4" stroke="#5F66B6" stroke-width="2.8"/>
<rect x="846.9" y="656.9" width="57.3" height="256.1" fill="#F86D70"/>
<line x1="875.55" y1="656.9" x2="875.55" y2="630" stroke="#F86D70" stroke-width="2.6"/>
<line x1="861.35" y1="630" x2="889.75" y2="630" stroke="#F86D70" stroke-width="2.8"/>
<rect x="961.5" y="776.3" width="57.3" height="136.7" fill="#5F66B6"/>
<line x1="990.15" y1="776.3" x2="990.15" y2="768.8" stroke="#5F66B6" stroke-width="2.6"/>
<line x1="975.95" y1="768.8" x2="1004.35" y2="768.8" stroke="#5F66B6" stroke-width="2.8"/>
<rect x="1018.8" y="663.7" width="57.3" height="249.3" fill="#F86D70"/>
<line x1="1047.45" y1="663.7" x2="1047.45" y2="638.5" stroke="#F86D70" stroke-width="2.6"/>
<line x1="1033.25" y1="638.5" x2="1061.65" y2="638.5" stroke="#F86D70" stroke-width="2.8"/>
<line x1="846.9" y1="913" x2="846.9" y2="921.5" stroke="#000" stroke-width="2.6"/>
<line x1="1018.8" y1="913" x2="1018.8" y2="921.5" stroke="#000" stroke-width="2.6"/>
<text x="806.47" y="946.38" font-size="24.58">GSC28</text>
<text x="978.37" y="946.41" font-size="24.65">GSC32</text>
<polyline points="817.9,755.8 817.9,587 875.9,587 875.9,614.6" fill="none" stroke="#000" stroke-width="2.8" stroke-linejoin="miter"/>
<text x="832.86" y="590.16" font-size="24.00" stroke="#000" stroke-width="0.35">***</text>
<polyline points="989.8,755.8 989.8,587 1047.8,587 1047.8,624.8" fill="none" stroke="#000" stroke-width="2.8" stroke-linejoin="miter"/>
<text x="1004.76" y="590.16" font-size="24.00" stroke="#000" stroke-width="0.35">***</text>
<rect x="1087.4" y="565.8" width="31.4" height="15.4" fill="#5F66B6"/>
<rect x="1087.4" y="603.3" width="31.4" height="15.4" fill="#F86D70"/>
<text x="1136.55" y="582" font-size="23.78">circKPNB1-EV</text>
<text x="1136.54" y="619.55" font-size="23.92">circKPNB1-OE</text>
<text x="695.3" y="951.45" font-size="24.38" transform="rotate(-90 695.3 951.45)">Relative  ratio of  Edu positive cells (%)</text>
<line x1="762.3" y1="1043.6" x2="762.3" y2="1376.4" stroke="#000" stroke-width="2.5"/>
<line x1="753.3" y1="1375.2" x2="1102.7" y2="1375.2" stroke="#000" stroke-width="2.8"/>
<line x1="753.3" y1="1375.2" x2="762.3" y2="1375.2" stroke="#000" stroke-width="2.5"/>
<text x="738.2" y="1383.76" font-size="24.80">0</text>
<line x1="753.3" y1="1292.6" x2="762.3" y2="1292.6" stroke="#000" stroke-width="2.5"/>
<text x="710.68" y="1301.16" font-size="24.80">100</text>
<line x1="753.3" y1="1210" x2="762.3" y2="1210" stroke="#000" stroke-width="2.5"/>
<text x="710.68" y="1218.56" font-size="24.80">200</text>
<line x1="753.3" y1="1127.4" x2="762.3" y2="1127.4" stroke="#000" stroke-width="2.5"/>
<text x="710.68" y="1135.96" font-size="24.80">300</text>
<line x1="753.3" y1="1044.8" x2="762.3" y2="1044.8" stroke="#000" stroke-width="2.5"/>
<text x="710.68" y="1053.36" font-size="24.80">400</text>
<rect x="791.3" y="1236.8" width="56.3" height="138.4" fill="#5F66B6"/>
<line x1="819.45" y1="1236.8" x2="819.45" y2="1225.6" stroke="#5F66B6" stroke-width="2.6"/>
<line x1="805.25" y1="1225.6" x2="833.65" y2="1225.6" stroke="#5F66B6" stroke-width="2.8"/>
<rect x="847.6" y="1142" width="56.6" height="233.2" fill="#F86D70"/>
<line x1="875.9" y1="1142" x2="875.9" y2="1121.5" stroke="#F86D70" stroke-width="2.6"/>
<line x1="861.7" y1="1121.5" x2="890.1" y2="1121.5" stroke="#F86D70" stroke-width="2.8"/>
<rect x="960.8" y="1232" width="56.7" height="143.2" fill="#5F66B6"/>
<line x1="989.15" y1="1232" x2="989.15" y2="1221.1" stroke="#5F66B6" stroke-width="2.6"/>
<line x1="974.95" y1="1221.1" x2="1003.35" y2="1221.1" stroke="#5F66B6" stroke-width="2.8"/>
<rect x="1017.5" y="1137.2" width="56.2" height="238" fill="#F86D70"/>
<line x1="1045.6" y1="1137.2" x2="1045.6" y2="1118.5" stroke="#F86D70" stroke-width="2.6"/>
<line x1="1031.4" y1="1118.5" x2="1059.8" y2="1118.5" stroke="#F86D70" stroke-width="2.8"/>
<line x1="846.9" y1="1375.2" x2="846.9" y2="1383.7" stroke="#000" stroke-width="2.6"/>
<line x1="1017.5" y1="1375.2" x2="1017.5" y2="1383.7" stroke="#000" stroke-width="2.6"/>
<text x="807.8" y="1417.91" font-size="24.08">GSC28</text>
<text x="978.59" y="1417.93" font-size="24.15">GSC32</text>
<polyline points="818.6,1214 818.6,1067 875.9,1067 875.9,1108.2" fill="none" stroke="#000" stroke-width="2.8" stroke-linejoin="miter"/>
<text x="833.21" y="1068.36" font-size="24.00" stroke="#000" stroke-width="0.35">***</text>
<polyline points="989.1,1209.5 989.1,1068.7 1046.1,1068.7 1046.1,1108.2" fill="none" stroke="#000" stroke-width="2.8" stroke-linejoin="miter"/>
<text x="1003.56" y="1071.16" font-size="24.00" stroke="#000" stroke-width="0.35">***</text>
<rect x="1087.4" y="1040.7" width="31.4" height="15.4" fill="#5F66B6"/>
<rect x="1087.4" y="1077.5" width="31.4" height="15.4" fill="#F86D70"/>
<text x="1135.55" y="1056.93" font-size="23.86">circKPNB1-EV</text>
<text x="1135.54" y="1093.8" font-size="24.04">circKPNB1-OE</text>
<text x="697.23" y="1327.61" font-size="23.43" transform="rotate(-90 697.23 1327.61)">Invasion cells number</text>
<line x1="761.3" y1="1509.5" x2="761.3" y2="1869.4" stroke="#000" stroke-width="2.5"/>
<line x1="752.3" y1="1868.2" x2="1119.8" y2="1868.2" stroke="#000" stroke-width="2.8"/>
<line x1="752.3" y1="1868.2" x2="761.3" y2="1868.2" stroke="#000" stroke-width="2.5"/>
<text x="735.09" y="1876.96" font-size="25.40">0</text>
<line x1="752.3" y1="1796.7" x2="761.3" y2="1796.7" stroke="#000" stroke-width="2.5"/>
<text x="735.35" y="1805.46" font-size="25.40">1</text>
<line x1="752.3" y1="1725.2" x2="761.3" y2="1725.2" stroke="#000" stroke-width="2.5"/>
<text x="735.47" y="1734.09" font-size="25.40">2</text>
<line x1="752.3" y1="1653.7" x2="761.3" y2="1653.7" stroke="#000" stroke-width="2.5"/>
<text x="735.22" y="1662.46" font-size="25.40">3</text>
<line x1="752.3" y1="1582.2" x2="761.3" y2="1582.2" stroke="#000" stroke-width="2.5"/>
<text x="734.96" y="1590.96" font-size="25.40">4</text>
<line x1="752.3" y1="1510.7" x2="761.3" y2="1510.7" stroke="#000" stroke-width="2.5"/>
<text x="735.22" y="1519.34" font-size="25.40">5</text>
<rect x="791.3" y="1796.2" width="59" height="72" fill="#5F66B6"/>
<line x1="820.8" y1="1796.2" x2="820.8" y2="1784.6" stroke="#5F66B6" stroke-width="2.6"/>
<line x1="806.6" y1="1784.6" x2="835" y2="1784.6" stroke="#5F66B6" stroke-width="2.8"/>
<rect x="850.3" y="1596.3" width="59.7" height="271.9" fill="#F86D70"/>
<line x1="880.15" y1="1596.3" x2="880.15" y2="1568.7" stroke="#F86D70" stroke-width="2.6"/>
<line x1="865.95" y1="1568.7" x2="894.35" y2="1568.7" stroke="#F86D70" stroke-width="2.8"/>
<rect x="970.4" y="1795.5" width="59" height="72.7" fill="#5F66B6"/>
<line x1="999.9" y1="1795.5" x2="999.9" y2="1785.6" stroke="#5F66B6" stroke-width="2.6"/>
<line x1="985.7" y1="1785.6" x2="1014.1" y2="1785.6" stroke="#5F66B6" stroke-width="2.8"/>
<rect x="1029.4" y="1608.2" width="59.7" height="260" fill="#F86D70"/>
<line x1="1059.25" y1="1608.2" x2="1059.25" y2="1583.7" stroke="#F86D70" stroke-width="2.6"/>
<line x1="1045.05" y1="1583.7" x2="1073.45" y2="1583.7" stroke="#F86D70" stroke-width="2.8"/>
<line x1="850" y1="1868.2" x2="850" y2="1876.7" stroke="#000" stroke-width="2.6"/>
<line x1="1029.1" y1="1868.2" x2="1029.1" y2="1876.7" stroke="#000" stroke-width="2.6"/>
<text x="808.73" y="1903.24" font-size="25.49">GSC28</text>
<text x="988.02" y="1903.27" font-size="25.57">GSC32</text>
<polyline points="820.3,1773.3 820.3,1533.6 880.7,1533.6 880.7,1556.7" fill="none" stroke="#000" stroke-width="2.8" stroke-linejoin="miter"/>
<text x="836.46" y="1533.36" font-size="24.00" stroke="#000" stroke-width="0.35">***</text>
<polyline points="999.4,1773.3 999.4,1533.6 1059,1533.6 1059,1570.4" fill="none" stroke="#000" stroke-width="2.8" stroke-linejoin="miter"/>
<text x="1015.16" y="1533.36" font-size="24.00" stroke="#000" stroke-width="0.35">***</text>
<rect x="1095.9" y="1508" width="31.4" height="15.4" fill="#5F66B6"/>
<rect x="1095.9" y="1552.7" width="31.4" height="15.4" fill="#F86D70"/>
<text x="1146.11" y="1524.58" font-size="24.83">circKPNB1-EV</text>
<text x="1146.1" y="1569.33" font-size="24.98">circKPNB1-OE</text>
<text x="706.39" y="1832.59" font-size="24.84" transform="rotate(-90 706.39 1832.59)">Relative neuroshpere size</text>
<text x="0" y="0" font-size="52.62" transform="translate(1334.82 510.15) scale(1.081 1)">g</text>
<rect x="1418.3" y="586.1" width="506.1" height="453.5" fill="none" stroke="#000" stroke-width="2.8"/>
<clipPath id="clip586"><rect x="1418.3" y="586.1" width="506.1" height="453.5"/></clipPath>
<g clip-path="url(#clip586)">
<line x1="1418.3" y1="588.8" x2="1924.4" y2="977.1" stroke="#000" stroke-width="2.7"/>
<line x1="1425.9" y1="586.1" x2="1745.1" y2="1039.6" stroke="#DF2B20" stroke-width="2.7"/>
</g>
<line x1="1623.9" y1="867.1" x2="1692.9" y2="800.5" stroke="#000" stroke-width="4.2"/>
<text x="1649.71" y="834.33" font-size="22.00" stroke="#000" stroke-width="0.35">*</text>
<circle cx="1449.8" cy="613.4" r="5.6" fill="none" stroke="#000" stroke-width="2.4"/>
<circle cx="1534.4" cy="647.6" r="5.6" fill="none" stroke="#000" stroke-width="2.4"/>
<circle cx="1628.4" cy="693.7" r="5.6" fill="none" stroke="#000" stroke-width="2.4"/>
<circle cx="1722.3" cy="827.9" r="5.6" fill="none" stroke="#000" stroke-width="2.4"/>
<circle cx="1815.8" cy="921.4" r="5.6" fill="none" stroke="#000" stroke-width="2.4"/>
<circle cx="1449.8" cy="627.8" r="5.6" fill="none" stroke="#DF2B20" stroke-width="2.4"/>
<circle cx="1534.4" cy="724.4" r="5.6" fill="none" stroke="#DF2B20" stroke-width="2.4"/>
<circle cx="1628.4" cy="824.1" r="5.6" fill="none" stroke="#DF2B20" stroke-width="2.4"/>
<circle cx="1722.3" cy="919.7" r="5.6" fill="none" stroke="#DF2B20" stroke-width="2.4"/>
<polygon points="1900.4,1017.64 1910.8,1017.64 1905.6,1024.92" fill="#000" stroke="#000" stroke-width="2"/>
<polygon points="1806.5,1020.34 1816.9,1020.34 1811.7,1027.62" fill="none" stroke="#DF2B20" stroke-width="2"/>
<polygon points="1900.4,1020.34 1910.8,1020.34 1905.6,1027.62" fill="#DF2B20" stroke="#DF2B20" stroke-width="2"/>
<line x1="1437.1" y1="1039.6" x2="1437.1" y2="1047.6" stroke="#000" stroke-width="2.4"/>
<text x="1430.21" y="1076.1" font-size="24.60">0</text>
<line x1="1530.8" y1="1039.6" x2="1530.8" y2="1047.6" stroke="#000" stroke-width="2.4"/>
<text x="1516.65" y="1076.1" font-size="24.60">10</text>
<line x1="1624.5" y1="1039.6" x2="1624.5" y2="1047.6" stroke="#000" stroke-width="2.4"/>
<text x="1610.66" y="1076.1" font-size="24.60">20</text>
<line x1="1718.2" y1="1039.6" x2="1718.2" y2="1047.6" stroke="#000" stroke-width="2.4"/>
<text x="1704.49" y="1076.1" font-size="24.60">30</text>
<line x1="1811.9" y1="1039.6" x2="1811.9" y2="1047.6" stroke="#000" stroke-width="2.4"/>
<text x="1798.43" y="1076.1" font-size="24.60">40</text>
<line x1="1905.6" y1="1039.6" x2="1905.6" y2="1047.6" stroke="#000" stroke-width="2.4"/>
<text x="1891.89" y="1076.1" font-size="24.60">50</text>
<line x1="1409.3" y1="603.2" x2="1418.3" y2="603.2" stroke="#000" stroke-width="2.4"/>
<text x="1397.69" y="620.36" font-size="24.60" transform="rotate(-90 1397.69 620.36)">0.0</text>
<line x1="1409.3" y1="673.3" x2="1418.3" y2="673.3" stroke="#000" stroke-width="2.4"/>
<text x="1397.69" y="697.72" font-size="24.60" transform="rotate(-90 1397.69 697.72)">−0.5</text>
<line x1="1409.3" y1="743.4" x2="1418.3" y2="743.4" stroke="#000" stroke-width="2.4"/>
<text x="1397.69" y="767.88" font-size="24.60" transform="rotate(-90 1397.69 767.88)">−1.0</text>
<line x1="1409.3" y1="813.5" x2="1418.3" y2="813.5" stroke="#000" stroke-width="2.4"/>
<text x="1397.56" y="837.92" font-size="24.60" transform="rotate(-90 1397.56 837.92)">−1.5</text>
<line x1="1409.3" y1="883.6" x2="1418.3" y2="883.6" stroke="#000" stroke-width="2.4"/>
<text x="1397.69" y="908.08" font-size="24.60" transform="rotate(-90 1397.69 908.08)">−2.0</text>
<line x1="1409.3" y1="953.7" x2="1418.3" y2="953.7" stroke="#000" stroke-width="2.4"/>
<text x="1397.69" y="978.12" font-size="24.60" transform="rotate(-90 1397.69 978.12)">−2.5</text>
<line x1="1409.3" y1="1023.8" x2="1418.3" y2="1023.8" stroke="#000" stroke-width="2.4"/>
<text x="1397.69" y="1048.28" font-size="24.60" transform="rotate(-90 1397.69 1048.28)">−3.0</text>
<rect x="1419" y="965.1" width="191.3" height="74.5" fill="#fff" stroke="#000" stroke-width="2.8"/>
<text x="1429.02" y="997.79" font-size="24.59">circKPNB1−EV</text>
<text x="1429.01" y="1031.37" font-size="24.82" fill="#DF2B20">circKPNB1−OE</text>
<text x="1550.96" y="1108.98" font-size="24.76">Cell numbers (GSC28)</text>
<text x="1358.32" y="965.38" font-size="24.75" transform="rotate(-90 1358.32 965.38)">Log Fraction Negative Wells</text>
<text x="0" y="0" font-size="46.34" transform="translate(1339.32 1223.8) scale(1.105 1)">h</text>
<rect x="1420.2" y="1281.6" width="504.2" height="450.5" fill="none" stroke="#000" stroke-width="2.8"/>
<clipPath id="clip1281"><rect x="1420.2" y="1281.6" width="504.2" height="450.5"/></clipPath>
<g clip-path="url(#clip1281)">
<line x1="1420.2" y1="1284.3" x2="1924.4" y2="1643.3" stroke="#000" stroke-width="2.7"/>
<line x1="1425.9" y1="1281.6" x2="1777.9" y2="1732.1" stroke="#DF2B20" stroke-width="2.7"/>
</g>
<line x1="1651.1" y1="1571.7" x2="1716" y2="1496.1" stroke="#000" stroke-width="4.2"/>
<text x="1677.11" y="1535.33" font-size="22.00" stroke="#000" stroke-width="0.35">*</text>
<circle cx="1447.7" cy="1310.5" r="4.2" fill="none" stroke="#000" stroke-width="2.4"/>
<circle cx="1532.8" cy="1346.5" r="4.2" fill="none" stroke="#000" stroke-width="2.4"/>
<circle cx="1625.9" cy="1395.9" r="4.2" fill="none" stroke="#000" stroke-width="2.4"/>
<circle cx="1719.4" cy="1464.8" r="4.2" fill="none" stroke="#000" stroke-width="2.4"/>
<circle cx="1813.2" cy="1618.8" r="4.2" fill="none" stroke="#000" stroke-width="2.4"/>
<circle cx="1448.8" cy="1326.3" r="4.2" fill="none" stroke="#DF2B20" stroke-width="2.4"/>
<circle cx="1532.8" cy="1422.8" r="4.2" fill="none" stroke="#DF2B20" stroke-width="2.4"/>
<circle cx="1625.9" cy="1464.2" r="4.2" fill="none" stroke="#DF2B20" stroke-width="2.4"/>
<circle cx="1719.4" cy="1618.8" r="4.2" fill="none" stroke="#DF2B20" stroke-width="2.4"/>
<polygon points="1900.4,1713.44 1910.8,1713.44 1905.6,1720.72" fill="#000" stroke="#000" stroke-width="2"/>
<polygon points="1807.3,1714.44 1817.7,1714.44 1812.5,1721.72" fill="none" stroke="#DF2B20" stroke-width="2"/>
<polygon points="1900.4,1714.44 1910.8,1714.44 1905.6,1721.72" fill="#DF2B20" stroke="#DF2B20" stroke-width="2"/>
<line x1="1438.7" y1="1732.1" x2="1438.7" y2="1740.1" stroke="#000" stroke-width="2.4"/>
<text x="1431.81" y="1770.1" font-size="24.60">0</text>
<line x1="1532.1" y1="1732.1" x2="1532.1" y2="1740.1" stroke="#000" stroke-width="2.4"/>
<text x="1517.96" y="1770.1" font-size="24.60">10</text>
<line x1="1625.5" y1="1732.1" x2="1625.5" y2="1740.1" stroke="#000" stroke-width="2.4"/>
<text x="1611.66" y="1770.1" font-size="24.60">20</text>
<line x1="1718.9" y1="1732.1" x2="1718.9" y2="1740.1" stroke="#000" stroke-width="2.4"/>
<text x="1705.19" y="1770.1" font-size="24.60">30</text>
<line x1="1812.3" y1="1732.1" x2="1812.3" y2="1740.1" stroke="#000" stroke-width="2.4"/>
<text x="1798.83" y="1770.1" font-size="24.60">40</text>
<line x1="1905.7" y1="1732.1" x2="1905.7" y2="1740.1" stroke="#000" stroke-width="2.4"/>
<text x="1891.99" y="1770.1" font-size="24.60">50</text>
<line x1="1411.2" y1="1298.4" x2="1420.2" y2="1298.4" stroke="#000" stroke-width="2.4"/>
<text x="1398.49" y="1315.56" font-size="24.60" transform="rotate(-90 1398.49 1315.56)">0.0</text>
<line x1="1411.2" y1="1367.65" x2="1420.2" y2="1367.65" stroke="#000" stroke-width="2.4"/>
<text x="1398.49" y="1392.07" font-size="24.60" transform="rotate(-90 1398.49 1392.07)">−0.5</text>
<line x1="1411.2" y1="1436.9" x2="1420.2" y2="1436.9" stroke="#000" stroke-width="2.4"/>
<text x="1398.49" y="1461.38" font-size="24.60" transform="rotate(-90 1398.49 1461.38)">−1.0</text>
<line x1="1411.2" y1="1506.15" x2="1420.2" y2="1506.15" stroke="#000" stroke-width="2.4"/>
<text x="1398.36" y="1530.57" font-size="24.60" transform="rotate(-90 1398.36 1530.57)">−1.5</text>
<line x1="1411.2" y1="1575.4" x2="1420.2" y2="1575.4" stroke="#000" stroke-width="2.4"/>
<text x="1398.49" y="1599.88" font-size="24.60" transform="rotate(-90 1398.49 1599.88)">−2.0</text>
<line x1="1411.2" y1="1644.65" x2="1420.2" y2="1644.65" stroke="#000" stroke-width="2.4"/>
<text x="1398.49" y="1669.07" font-size="24.60" transform="rotate(-90 1398.49 1669.07)">−2.5</text>
<line x1="1411.2" y1="1713.9" x2="1420.2" y2="1713.9" stroke="#000" stroke-width="2.4"/>
<text x="1398.49" y="1738.38" font-size="24.60" transform="rotate(-90 1398.49 1738.38)">−3.0</text>
<rect x="1420.9" y="1660.2" width="189.9" height="71.9" fill="#fff" stroke="#000" stroke-width="2.8"/>
<text x="1431.61" y="1691.54" font-size="24.73">circKPNB1−EV</text>
<text x="1431.61" y="1722.45" font-size="24.76" fill="#DF2B20">circKPNB1−OE</text>
<text x="1555.76" y="1802.56" font-size="24.88">Cell numbers (GSC32)</text>
<text x="1359.97" y="1661.08" font-size="24.72" transform="rotate(-90 1359.97 1661.08)">Log Fraction Negative Wells</text>
<text x="0" y="0" font-size="47.89" transform="translate(-0.39 524.02) scale(1.141 1)">d</text>
<text x="0" y="0" font-size="44.91" transform="translate(1.47 995.25) scale(1.132 1)">e</text>
<text x="0" y="0" font-size="48.41" transform="translate(6.11 1485) scale(1.232 1)">f</text>
<text x="151.11" y="515.71" font-size="27.17">circKPNB1-EV</text>
<text x="429.41" y="515.76" font-size="27.29">circKPNB1-OE</text>
<text x="150.7" y="991.29" font-size="27.39">circKPNB1-EV</text>
<text x="430.4" y="991.32" font-size="27.46">circKPNB1-OE</text>
<text x="149.29" y="1470.96" font-size="27.87">circKPNB1-EV</text>
<text x="434.68" y="1471.04" font-size="28.09">circKPNB1-OE</text>
<line x1="81.3" y1="523.6" x2="81.3" y2="731" stroke="#000" stroke-width="2.6"/>
<line x1="81.3" y1="744.8" x2="81.3" y2="951.4" stroke="#000" stroke-width="2.6"/>
<text x="66.61" y="676.98" font-size="27.55" transform="rotate(-90 66.61 676.98)">GSC28</text>
<text x="66.64" y="882.58" font-size="27.64" transform="rotate(-90 66.64 882.58)">GSC32</text>
<line x1="80.8" y1="999.9" x2="80.8" y2="1207.6" stroke="#000" stroke-width="2.6"/>
<line x1="80.8" y1="1218.8" x2="80.8" y2="1428" stroke="#000" stroke-width="2.6"/>
<text x="66.14" y="1152.36" font-size="27.21" transform="rotate(-90 66.14 1152.36)">GSC28</text>
<text x="66.29" y="1359.78" font-size="27.64" transform="rotate(-90 66.29 1359.78)">GSC32</text>
<line x1="77.3" y1="1479.7" x2="77.3" y2="1691.3" stroke="#000" stroke-width="2.6"/>
<line x1="77.3" y1="1704.6" x2="77.3" y2="1916.2" stroke="#000" stroke-width="2.6"/>
<text x="62.6" y="1633.98" font-size="27.52" transform="rotate(-90 62.6 1633.98)">GSC28</text>
<text x="62.63" y="1846.58" font-size="27.61" transform="rotate(-90 62.63 1846.58)">GSC32</text>
</svg></body></html>
